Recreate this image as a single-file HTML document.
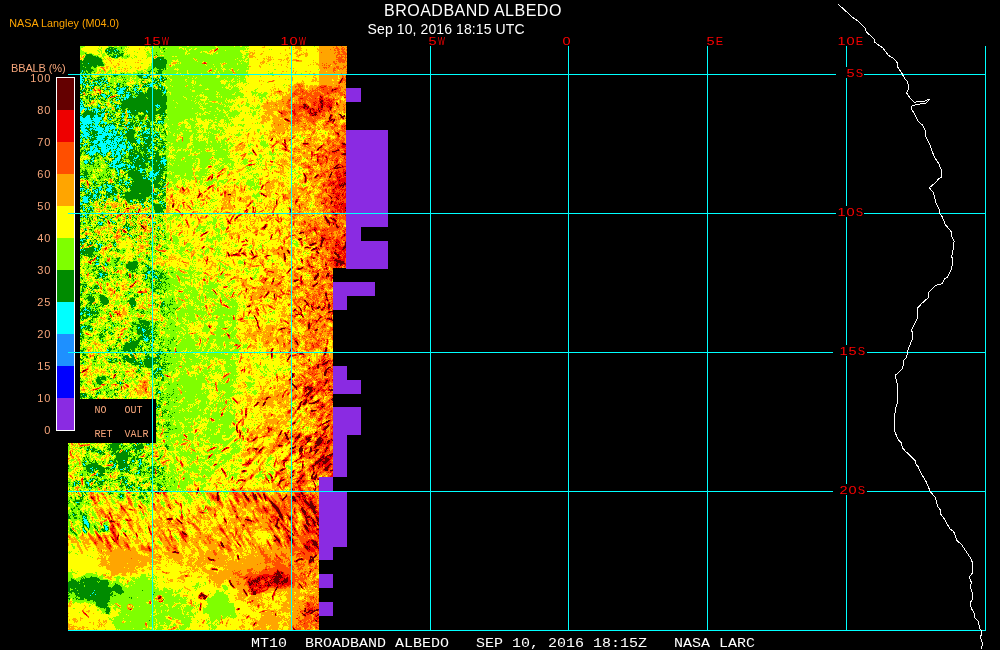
<!DOCTYPE html>
<html lang="en"><head><meta charset="utf-8"><title>BROADBAND ALBEDO</title>
<style>html,body{margin:0;padding:0;background:#000;overflow:hidden}svg{display:block}text{white-space:pre}.t{font-family:"Liberation Sans",Arial,sans-serif;fill:#fff}.m{font-family:"Liberation Mono","DejaVu Sans Mono",monospace;font-size:11.5px}.d{font-family:"Liberation Sans",Arial,sans-serif;font-size:11px}.p{font-family:"Liberation Sans",Arial,sans-serif;font-size:11px;fill:#f7a67b;letter-spacing:.9px}.q{font-family:"Liberation Mono",monospace;font-size:10px;fill:#f7a67b}</style></head><body>
<svg width="1000" height="650" viewBox="0 0 1000 650">
<rect width="1000" height="650" fill="#000"/>
<g fill="#8a2be2" shape-rendering="crispEdges">
<rect x="346" y="88" width="15" height="14"/>
<rect x="346" y="130" width="42" height="97"/>
<rect x="346" y="227" width="15" height="14"/>
<rect x="346" y="241" width="42" height="28"/>
<rect x="332" y="282" width="43" height="14"/>
<rect x="332" y="296" width="15" height="14"/>
<rect x="332" y="366" width="15" height="14"/>
<rect x="332" y="380" width="29" height="14"/>
<rect x="332" y="407" width="29" height="28"/>
<rect x="332" y="435" width="15" height="42"/>
<rect x="318" y="477" width="15" height="14"/>
<rect x="318" y="491" width="29" height="56"/>
<rect x="318" y="547" width="15" height="13"/>
<rect x="318" y="574" width="15" height="14"/>
<rect x="318" y="602" width="15" height="14"/>
</g>
<g transform="translate(68,46.5)" fill="none" stroke-width="1" shape-rendering="crispEdges">
<path stroke="#00ffff" d="M0 0m12 0h267m-267 1h267m-267 1h267m-267 1h267m-267 1h267m-267 1h267m-267 1h267m-267 1h267m-267 1h267m-267 1h267m-267 1h267m-267 1h267m-267 1h267m-267 1h267m-267 1h267m-267 1h267m-267 1h267m-267 1h267m-267 1h267m-267 1h267m-267 1h267m-267 1h267m-267 1h267m-267 1h267m-267 1h267m-267 1h267m-267 1h267m-267 1h267m-267 1h266m-266 1h266m-266 1h266m-266 1h266m-266 1h266m-266 1h266m-266 1h266m-266 1h266m-266 1h266m-266 1h266m-266 1h266m-266 1h266m-266 1h266m-266 1h266m-266 1h266m-266 1h266m-266 1h266m-266 1h266m-266 1h266m-266 1h266m-266 1h266m-266 1h266m-266 1h266m-266 1h266m-266 1h266m-266 1h266m-266 1h266m-266 1h266m-266 1h266m-266 1h266m-266 1h266m-266 1h266m-266 1h266m-266 1h266m-266 1h266m-266 1h266m-266 1h266m-266 1h266m-266 1h266m-266 1h266m-266 1h266m-266 1h266m-266 1h266m-266 1h266m-266 1h266m-266 1h266m-266 1h266m-266 1h266m-266 1h266m-266 1h266m-266 1h266m-266 1h266m-266 1h266m-266 1h266m-266 1h266m-266 1h266m-266 1h266m-266 1h266m-266 1h266m-266 1h266m-266 1h266m-266 1h266m-266 1h266m-266 1h266m-266 1h266m-266 1h266m-266 1h266m-266 1h266m-266 1h266m-266 1h266m-266 1h266m-266 1h266m-266 1h266m-266 1h266m-266 1h266m-266 1h266m-266 1h266m-266 1h266m-266 1h266m-266 1h266m-266 1h266m-266 1h266m-266 1h266m-266 1h266m-266 1h266m-266 1h266m-266 1h266m-266 1h266m-266 1h266m-266 1h266m-266 1h266m-266 1h266m-266 1h266m-266 1h266m-266 1h266m-266 1h266m-266 1h266m-266 1h266m-266 1h266m-266 1h266m-266 1h266m-266 1h266m-266 1h266m-266 1h266m-266 1h266m-266 1h266m-266 1h266m-266 1h266m-266 1h266m-266 1h266m-266 1h266m-266 1h266m-266 1h266m-266 1h266m-266 1h266m-266 1h266m-266 1h266m-266 1h266m-266 1h266m-266 1h266m-266 1h266m-266 1h266m-266 1h266m-266 1h266m-266 1h266m-266 1h266m-266 1h266m-266 1h266m-266 1h266m-266 1h266m-266 1h266m-266 1h266m-266 1h266m-266 1h266m-266 1h266m-266 1h266m-266 1h266m-266 1h266m-266 1h266m-266 1h266m-266 1h266m-266 1h266m-266 1h266m-266 1h266m-266 1h266m-266 1h266m-266 1h266m-266 1h266m-266 1h266m-266 1h266m-266 1h266m-266 1h266m-266 1h266m-266 1h266m-266 1h266m-266 1h266m-266 1h266m-266 1h266m-266 1h266m-266 1h266m-266 1h266m-266 1h266m-266 1h266m-266 1h266m-266 1h266m-266 1h266m-266 1h266m-266 1h266m-266 1h266m-266 1h266m-266 1h266m-266 1h266m-266 1h266m-266 1h266m-266 1h266m-266 1h266m-266 1h266m-266 1h266m-266 1h266m-266 1h266m-266 1h266m-266 1h266m-266 1h266m-266 1h266m-266 1h266m-266 1h266m-266 1h266m-266 1h266m-266 1h266m-266 1h266m-266 1h266m-266 1h266m-266 1h266m-266 1h266m-266 1h253m-253 1h253m-253 1h253m-253 1h253m-253 1h253m-253 1h253m-253 1h253m-253 1h253m-253 1h253m-253 1h253m-253 1h253m-253 1h253m-253 1h253m-253 1h253m-253 1h253m-253 1h253m-253 1h253m-253 1h253m-253 1h253m-253 1h253m-253 1h253m-253 1h253m-253 1h253m-253 1h253m-253 1h253m-253 1h253m-253 1h253m-253 1h253m-253 1h253m-253 1h253m-253 1h253m-253 1h253m-253 1h253m-253 1h253m-253 1h253m-253 1h253m-253 1h253m-253 1h253m-253 1h253m-253 1h253m-253 1h253m-253 1h253m-253 1h253m-253 1h253m-253 1h253m-253 1h253m-253 1h253m-253 1h253m-253 1h253m-253 1h253m-253 1h253m-253 1h253m-253 1h253m-253 1h253m-253 1h253m-253 1h253m-253 1h253m-253 1h253m-253 1h253m-253 1h253m-253 1h253m-253 1h253m-253 1h253m-253 1h253m-253 1h253m-253 1h253m-253 1h253m-253 1h253m-253 1h253m-253 1h253m-253 1h253m-253 1h253m-253 1h253m-253 1h253m-253 1h253m-253 1h253m-253 1h253m-253 1h253m-253 1h253m-253 1h253m-253 1h253m-253 1h253m-253 1h253m-253 1h253m-253 1h253m-253 1h253m-253 1h253m-253 1h253m-253 1h253m-253 1h253m-253 1h253m-253 1h253m-253 1h253m-253 1h253m-253 1h253m-253 1h253m-253 1h253m-253 1h253m-253 1h253m-253 1h253m-253 1h253m-253 1h253m-253 1h253m-253 1h253m-253 1h253m-253 1h253m-253 1h253m-253 1h253m-253 1h253m-253 1h253m-253 1h253m-253 1h253m-253 1h253m-253 1h253m-253 1h253m-253 1h253m-253 1h253m-253 1h253m-253 1h253m-253 1h253m-253 1h253m-253 1h253m-253 1h253m-253 1h253m-253 1h253m-253 1h253m-253 1h253m-253 1h253m-253 1h253m-253 1h253m-253 1h253m-177 1h177m-177 1h177m-177 1h177m-177 1h177m-177 1h177m-177 1h177m-177 1h177m-177 1h177m-177 1h177m-177 1h177m-177 1h177m-177 1h177m-177 1h177m-177 1h177m-177 1h177m-177 1h177m-177 1h177m-177 1h177m-177 1h177m-177 1h177m-177 1h177m-177 1h177m-177 1h177m-177 1h177m-177 1h177m-177 1h177m-177 1h177m-177 1h177m-177 1h177m-177 1h177m-177 1h177m-177 1h177m-177 1h177m-177 1h177m-177 1h177m-177 1h177m-177 1h177m-177 1h177m-177 1h177m-177 1h177m-177 1h177m-177 1h177m-177 1h177m-177 1h177m-265 1h265m-265 1h265m-265 1h265m-265 1h265m-265 1h265m-265 1h265m-265 1h265m-265 1h265m-265 1h265m-265 1h265m-265 1h265m-265 1h265m-265 1h265m-265 1h265m-265 1h265m-265 1h265m-265 1h265m-265 1h265m-265 1h265m-265 1h265m-265 1h265m-265 1h265m-265 1h265m-265 1h265m-265 1h265m-265 1h265m-265 1h265m-265 1h265m-265 1h265m-265 1h265m-265 1h265m-265 1h265m-265 1h265m-265 1h265m-265 1h251m-251 1h251m-251 1h251m-251 1h251m-251 1h251m-251 1h251m-251 1h251m-251 1h251m-251 1h251m-251 1h251m-251 1h251m-251 1h251m-251 1h251m-251 1h251m-251 1h251m-251 1h251m-251 1h251m-251 1h251m-251 1h251m-251 1h251m-251 1h251m-251 1h251m-251 1h251m-251 1h251m-251 1h251m-251 1h251m-251 1h251m-251 1h251m-251 1h251m-251 1h251m-251 1h251m-251 1h251m-251 1h251m-251 1h251m-251 1h251m-251 1h251m-251 1h251m-251 1h251m-251 1h251m-251 1h251m-251 1h251m-251 1h251m-251 1h251m-251 1h251m-251 1h251m-251 1h251m-251 1h251m-251 1h251m-251 1h251m-251 1h251m-251 1h251m-251 1h251m-251 1h251m-251 1h251m-251 1h251m-251 1h251m-251 1h251m-251 1h251m-251 1h251m-251 1h251m-251 1h251m-251 1h251m-251 1h251m-251 1h251m-251 1h251m-251 1h251m-251 1h251m-251 1h251m-251 1h251m-251 1h251m-251 1h251m-251 1h251m-251 1h251m-251 1h251m-251 1h251m-251 1h251m-251 1h251m-251 1h251m-251 1h251m-251 1h251m-251 1h251m-251 1h251m-251 1h251m-251 1h251m-251 1h251m-251 1h251m-251 1h251m-251 1h251m-251 1h251m-251 1h251m-251 1h251m-251 1h251m-251 1h251m-251 1h251m-251 1h251m-251 1h251m-251 1h251m-251 1h251m-251 1h251m-251 1h251m-251 1h251m-251 1h251m-251 1h251m-251 1h251m-251 1h251m-251 1h251m-251 1h251m-251 1h251m-251 1h251m-251 1h251m-251 1h251m-251 1h251m-251 1h251m-251 1h251m-251 1h251m-251 1h251m-251 1h251m-251 1h251m-251 1h251m-251 1h251m-251 1h251m-251 1h251m-251 1h251m-251 1h251m-251 1h251m-251 1h251m-251 1h251m-251 1h251m-251 1h251m-251 1h251m-251 1h251m-251 1h251m-251 1h251m-251 1h251m-251 1h251m-251 1h251m-251 1h251m-251 1h251m-251 1h251m-251 1h251m-251 1h251m-251 1h251m-251 1h251m-251 1h251m-251 1h251m-251 1h251m-251 1h251m-251 1h251m-251 1h251m-251 1h251m-251 1h251m-251 1h251m-251 1h251"/>
<path stroke="#008b00" d="M0 0m12 0h267m-267 1h267m-267 1h267m-267 1h36m1 0h230m-267 1h27m1 0h6m1 0h2m1 0h229m-267 1h29m1 0h5m1 0h231m-267 1h267m-267 1h267m-267 1h267m-267 1h36m1 0h230m-267 1h36m1 0h230m-267 1h35m1 0h231m-267 1h267m-267 1h80m1 0h186m-267 1h267m-267 1h267m-267 1h267m-267 1h8m1 0h258m-267 1h267m-267 1h267m-267 1h267m-267 1h267m-267 1h267m-267 1h267m-267 1h2m1 0h264m-267 1h2m1 0h264m-267 1h1m1 0h265m-267 1h5m1 0h261m-267 1h6m1 0h259m-265 1h66m2 0h197m-264 1h61m1 0h1m2 0h13m1 0h185m-263 1h1m3 0h3m1 0h13m1 0h38m4 0h13m2 0h184m-264 1h8m1 0h11m2 0h2m1 0h52m2 0h3m1 0h181m-262 1h17m1 0h1m1 0h50m1 0h5m1 0h185m-264 1h1m1 0h15m1 0h6m1 0h46m1 0h6m2 0h184m-263 1h4m1 0h7m3 0h4m1 0h1m2 0h50m1 0h189m-263 1h9m2 0h3m1 0h2m2 0h4m2 0h47m1 0h190m-264 1h1m1 0h3m1 0h2m1 0h7m1 0h1m1 0h2m1 0h3m1 0h10m1 0h32m1 0h1m2 0h3m1 0h187m-266 1h3m3 0h7m1 0h2m1 0h2m1 0h1m1 0h16m1 0h29m4 0h8m1 0h185m-266 1h5m1 0h3m5 0h6m1 0h33m1 0h1m2 0h6m1 0h1m1 0h3m3 0h6m2 0h185m-266 1h4m1 0h22m3 0h17m1 0h19m1 0h1m3 0h8m1 0h2m1 0h182m-266 1h4m1 0h7m1 0h8m1 0h15m2 0h4m1 0h1m1 0h9m1 0h1m2 0h3m1 0h20m1 0h182m-266 1h25m1 0h10m2 0h2m6 0h7m1 0h1m1 0h27m1 0h182m-266 1h3m1 0h6m1 0h14m1 0h11m2 0h1m5 0h9m3 0h28m1 0h180m-266 1h2m1 0h7m2 0h17m1 0h9m4 0h11m2 0h26m1 0h2m1 0h180m-266 1h29m1 0h7m7 0h12m1 0h1m1 0h1m2 0h22m2 0h180m-265 1h37m5 0h3m4 0h5m1 0h1m1 0h25m3 0h180m-266 1h1m1 0h29m1 0h5m7 0h4m1 0h9m1 0h25m1 0h181m-266 1h21m4 0h13m2 0h6m3 0h1m1 0h215m-266 1h22m4 0h2m2 0h11m1 0h4m4 0h216m-266 1h23m2 0h3m1 0h12m1 0h4m3 0h4m1 0h212m-266 1h10m1 0h9m1 0h3m2 0h1m1 0h8m1 0h2m2 0h1m1 0h1m5 0h4m1 0h1m1 0h210m-266 1h14m1 0h4m1 0h20m1 0h3m2 0h1m1 0h218m-265 1h9m1 0h15m1 0h9m3 0h3m1 0h1m2 0h220m-266 1h1m1 0h34m1 0h5m1 0h223m-266 1h1m2 0h28m1 0h234m-265 1h1m1 0h27m1 0h235m-263 1h30m1 0h232m-266 1h1m1 0h1m1 0h14m1 0h5m1 0h52m1 0h188m-263 1h15m2 0h15m1 0h1m2 0h36m5 0h186m-265 1h1m1 0h1m1 0h13m2 0h17m2 0h1m1 0h35m2 0h1m1 0h186m-262 1h4m1 0h1m1 0h15m1 0h9m3 0h38m2 0h187m-259 1h1m1 0h4m4 0h7m1 0h5m1 0h5m1 0h2m1 0h226m-263 1h2m2 0h1m2 0h1m2 0h2m4 0h3m2 0h242m-264 1h3m1 0h9m3 0h3m1 0h1m1 0h17m1 0h5m1 0h1m1 0h5m1 0h10m1 0h199m-265 1h11m1 0h1m1 0h1m4 0h2m1 0h5m1 0h18m3 0h16m2 0h198m-265 1h13m1 0h1m2 0h6m1 0h3m1 0h6m1 0h11m4 0h16m1 0h198m-266 1h16m1 0h5m3 0h17m3 0h38m1 0h182m-265 1h15m1 0h4m3 0h7m1 0h10m1 0h6m1 0h216m-266 1h2m1 0h4m3 0h4m4 0h3m3 0h18m2 0h5m1 0h33m1 0h182m-264 1h4m4 0h4m4 0h3m3 0h9m1 0h7m3 0h5m2 0h2m1 0h212m-263 1h2m5 0h3m1 0h1m7 0h6m1 0h13m1 0h5m4 0h2m1 0h211m-255 1h1m10 0h6m1 0h1m1 0h4m1 0h230m-255 1h2m9 0h7m3 0h10m2 0h23m1 0h16m1 0h181m-246 1h2m1 0h18m1 0h1m1 0h12m1 0h209m-266 1h1m11 0h2m6 0h1m3 0h43m1 0h10m5 0h183m-266 1h2m12 0h1m4 0h2m6 0h5m1 0h15m2 0h10m2 0h13m1 0h2m2 0h1m1 0h1m1 0h182m-254 1h2m5 0h1m3 0h2m2 0h21m2 0h10m2 0h15m1 0h1m1 0h2m1 0h183m-265 1h2m4 0h1m1 0h2m1 0h3m3 0h7m1 0h2m1 0h1m1 0h1m1 0h6m2 0h6m1 0h218m-266 1h1m4 0h1m2 0h2m2 0h1m1 0h1m4 0h8m1 0h1m1 0h1m3 0h10m2 0h7m1 0h4m1 0h5m2 0h200m-266 1h1m8 0h1m7 0h1m2 0h4m1 0h1m9 0h12m2 0h2m1 0h9m1 0h1m3 0h5m1 0h194m-260 1h1m2 0h4m9 0h3m4 0h1m6 0h7m1 0h3m1 0h4m1 0h9m1 0h9m1 0h193m-266 1h1m4 0h5m3 0h1m1 0h1m8 0h1m10 0h3m1 0h5m2 0h3m4 0h16m1 0h196m-266 1h1m6 0h3m2 0h1m11 0h1m4 0h1m2 0h2m1 0h2m1 0h29m3 0h196m-266 1h1m7 0h2m1 0h4m8 0h1m5 0h4m2 0h2m1 0h3m1 0h6m1 0h11m1 0h1m1 0h3m1 0h1m1 0h197m-266 1h2m4 0h2m1 0h2m1 0h6m6 0h1m3 0h3m1 0h1m4 0h3m1 0h4m2 0h11m1 0h1m1 0h3m4 0h1m1 0h5m1 0h190m-266 1h3m5 0h1m1 0h8m4 0h1m3 0h1m1 0h2m1 0h2m4 0h3m2 0h3m2 0h16m3 0h1m2 0h4m1 0h2m2 0h1m1 0h186m-266 1h3m6 0h8m15 0h1m1 0h1m2 0h3m2 0h19m1 0h1m1 0h2m4 0h3m1 0h192m-266 1h1m2 0h1m6 0h5m1 0h2m1 0h3m14 0h4m2 0h1m2 0h16m1 0h13m1 0h2m1 0h187m-266 1h1m8 0h3m1 0h5m9 0h1m5 0h1m2 0h6m1 0h14m3 0h12m1 0h1m3 0h189m-265 1h1m5 0h1m4 0h3m10 0h4m2 0h1m1 0h3m4 0h1m2 0h25m1 0h2m1 0h2m1 0h2m1 0h188m-266 1h2m1 0h2m2 0h3m1 0h1m1 0h4m8 0h2m5 0h1m1 0h1m3 0h2m3 0h21m4 0h3m2 0h5m1 0h187m-266 1h1m1 0h2m1 0h1m2 0h2m1 0h5m7 0h5m3 0h1m1 0h1m6 0h1m2 0h13m1 0h2m1 0h6m2 0h5m1 0h6m1 0h185m-264 1h15m8 0h2m2 0h5m3 0h1m4 0h1m4 0h11m2 0h5m1 0h14m2 0h184m-264 1h3m1 0h3m1 0h4m8 0h1m1 0h2m5 0h1m1 0h1m8 0h1m1 0h1m1 0h10m4 0h206m-264 1h9m1 0h1m5 0h2m3 0h1m7 0h1m4 0h1m3 0h8m1 0h8m4 0h1m1 0h1m1 0h6m1 0h194m-265 1h9m1 0h1m6 0h2m3 0h1m1 0h1m7 0h1m3 0h1m1 0h3m3 0h3m2 0h7m3 0h4m1 0h6m1 0h5m1 0h188m-266 1h5m1 0h1m1 0h6m3 0h2m11 0h1m6 0h1m1 0h3m3 0h2m1 0h1m1 0h8m2 0h5m2 0h6m1 0h192m-266 1h4m3 0h7m1 0h2m10 0h1m4 0h1m1 0h1m3 0h1m4 0h1m1 0h3m1 0h1m1 0h22m2 0h191m-265 1h2m2 0h8m4 0h1m8 0h1m1 0h2m7 0h2m7 0h2m1 0h1m1 0h22m1 0h192m-265 1h9m5 0h1m1 0h2m7 0h1m3 0h1m2 0h1m3 0h2m7 0h2m4 0h31m2 0h181m-266 1h10m3 0h1m3 0h4m7 0h1m8 0h1m1 0h1m6 0h3m4 0h14m1 0h5m1 0h9m1 0h182m-266 1h5m1 0h4m3 0h2m3 0h3m5 0h1m9 0h1m5 0h1m3 0h2m5 0h9m1 0h4m1 0h198m-266 1h10m3 0h1m4 0h3m9 0h1m2 0h3m6 0h2m1 0h2m3 0h18m2 0h1m2 0h193m-266 1h4m1 0h5m2 0h1m7 0h1m8 0h2m5 0h1m4 0h1m1 0h3m1 0h1m1 0h19m2 0h2m2 0h8m1 0h183m-266 1h6m1 0h1m12 0h1m8 0h2m3 0h2m3 0h3m2 0h4m1 0h2m1 0h16m3 0h195m-266 1h7m9 0h2m2 0h2m5 0h5m2 0h2m4 0h2m4 0h220m-266 1h6m2 0h1m6 0h5m1 0h2m3 0h4m1 0h1m3 0h1m4 0h2m4 0h24m1 0h4m1 0h190m-266 1h9m5 0h7m3 0h1m1 0h6m2 0h1m5 0h1m2 0h23m1 0h5m1 0h193m-266 1h10m1 0h1m1 0h10m3 0h5m3 0h1m1 0h2m3 0h2m1 0h6m1 0h1m1 0h4m2 0h11m2 0h194m-266 1h23m1 0h6m1 0h1m2 0h4m3 0h16m2 0h8m1 0h198m-266 1h13m1 0h19m1 0h3m4 0h1m1 0h11m1 0h1m2 0h25m2 0h181m-266 1h12m2 0h21m6 0h13m3 0h5m1 0h18m3 0h182m-266 1h11m2 0h22m5 0h4m1 0h8m1 0h9m1 0h19m3 0h180m-266 1h5m2 0h1m1 0h4m1 0h19m7 0h15m1 0h8m1 0h6m1 0h4m1 0h4m6 0h179m-266 1h4m4 0h4m2 0h11m2 0h5m5 0h1m1 0h2m1 0h11m1 0h9m1 0h4m2 0h10m6 0h180m-266 1h4m4 0h3m1 0h19m1 0h1m4 0h1m1 0h1m1 0h3m1 0h9m1 0h14m1 0h11m1 0h1m2 0h181m-266 1h5m2 0h4m1 0h16m1 0h2m5 0h5m2 0h38m1 0h1m3 0h180m-266 1h29m3 0h1m2 0h4m7 0h1m1 0h1m1 0h3m1 0h25m1 0h4m2 0h180m-266 1h30m1 0h2m12 0h2m4 0h2m1 0h5m2 0h17m1 0h5m1 0h181m-266 1h29m6 0h1m7 0h1m1 0h3m2 0h1m4 0h4m1 0h206m-266 1h33m4 0h1m3 0h7m2 0h1m4 0h24m1 0h186m-266 1h36m2 0h5m3 0h6m1 0h7m2 0h17m1 0h1m1 0h184m-266 1h36m2 0h4m1 0h6m2 0h9m4 0h1m1 0h200m-266 1h37m2 0h7m1 0h11m5 0h2m1 0h7m1 0h5m1 0h186m-266 1h37m2 0h21m2 0h8m3 0h5m1 0h187m-266 1h38m1 0h21m2 0h2m1 0h5m3 0h3m3 0h187m-266 1h38m1 0h30m5 0h1m3 0h188m-266 1h37m2 0h31m7 0h1m1 0h187m-266 1h38m1 0h26m1 0h3m4 0h1m3 0h189m-263 1h2m1 0h63m3 0h1m2 0h191m-265 1h2m1 0h28m1 0h15m2 0h13m1 0h1m1 0h1m1 0h2m1 0h4m1 0h190m-266 1h63m3 0h2m2 0h196m-266 1h40m1 0h2m1 0h7m1 0h16m3 0h4m1 0h5m1 0h184m-266 1h40m2 0h7m1 0h23m1 0h9m1 0h182m-266 1h13m1 0h25m1 0h5m2 0h219m-266 1h13m1 0h13m1 0h13m1 0h2m1 0h1m4 0h216m-266 1h16m1 0h22m1 0h5m2 0h1m1 0h217m-266 1h24m2 0h1m1 0h7m1 0h3m2 0h4m2 0h38m1 0h180m-266 1h2m1 0h20m1 0h3m5 0h19m1 0h32m1 0h181m-266 1h3m1 0h16m2 0h3m1 0h2m3 0h1m2 0h12m1 0h1m1 0h217m-266 1h10m1 0h1m1 0h5m4 0h7m3 0h16m1 0h36m1 0h180m-262 1h15m2 0h6m5 0h43m1 0h3m1 0h2m2 0h182m-265 1h1m1 0h1m1 0h2m2 0h3m2 0h2m2 0h1m2 0h1m1 0h3m5 0h235m-265 1h1m1 0h3m1 0h7m2 0h1m1 0h1m1 0h1m1 0h4m6 0h234m-266 1h5m2 0h1m1 0h4m1 0h1m3 0h10m2 0h1m1 0h9m1 0h224m-266 1h6m1 0h3m1 0h4m3 0h12m2 0h46m1 0h4m1 0h182m-266 1h10m1 0h5m1 0h17m1 0h36m2 0h1m1 0h3m1 0h187m-266 1h9m2 0h3m2 0h4m1 0h13m3 0h4m1 0h32m3 0h189m-266 1h13m4 0h3m1 0h4m1 0h14m1 0h225m-265 1h3m2 0h1m1 0h1m1 0h3m3 0h3m1 0h5m1 0h1m1 0h238m-266 1h2m7 0h4m1 0h1m1 0h1m1 0h1m1 0h7m1 0h6m1 0h231m-266 1h3m5 0h4m1 0h1m2 0h3m1 0h14m2 0h37m1 0h192m-266 1h3m5 0h1m1 0h13m1 0h10m2 0h26m1 0h6m1 0h196m-266 1h3m5 0h3m1 0h12m2 0h8m1 0h15m2 0h18m1 0h195m-266 1h2m7 0h3m1 0h37m3 0h7m1 0h7m1 0h11m2 0h184m-265 1h3m4 0h12m1 0h34m1 0h23m2 0h2m1 0h182m-263 1h58m1 0h19m2 0h183m-264 1h21m1 0h37m3 0h21m1 0h180m-266 1h56m1 0h26m1 0h182m-266 1h3m1 0h6m2 0h51m1 0h3m1 0h17m1 0h180m-265 1h2m1 0h3m1 0h1m1 0h2m1 0h253m-266 1h3m2 0h3m1 0h257m-266 1h3m1 0h4m2 0h2m1 0h44m1 0h208m-266 1h3m2 0h8m1 0h252m-266 1h10m1 0h255m-266 1h5m1 0h16m1 0h243m-266 1h21m1 0h244m-265 1h4m1 0h260m-266 1h2m1 0h3m1 0h60m1 0h198m-263 1h2m2 0h18m2 0h239m-266 1h6m1 0h14m1 0h25m1 0h218m-266 1h19m1 0h246m-265 1h29m2 0h234m-266 1h24m1 0h241m-266 1h30m1 0h1m1 0h233m-266 1h3m2 0h13m2 0h1m2 0h10m2 0h38m3 0h190m-266 1h18m1 0h1m2 0h244m-266 1h19m3 0h46m1 0h197m-266 1h11m1 0h254m-266 1h266m-266 1h43m1 0h2m1 0h1m1 0h29m1 0h187m-266 1h48m2 0h28m1 0h187m-266 1h4m1 0h1m1 0h27m1 0h13m1 0h217m-266 1h83m1 0h182m-266 1h266m-266 1h266m-266 1h266m-266 1h48m1 0h217m-266 1h50m1 0h215m-266 1h7m1 0h43m1 0h214m-266 1h6m1 0h259m-266 1h7m2 0h257m-266 1h1m1 0h1m2 0h78m1 0h182m-263 1h263m-266 1h2m1 0h14m1 0h38m1 0h209m-266 1h10m1 0h255m-266 1h2m2 0h6m1 0h5m1 0h2m1 0h15m1 0h35m1 0h194m-266 1h17m1 0h1m3 0h12m1 0h231m-266 1h20m1 0h1m1 0h12m1 0h230m-265 1h19m1 0h245m-266 1h20m1 0h245m-266 1h14m2 0h3m1 0h12m1 0h233m-265 1h1m1 0h12m1 0h3m1 0h246m-265 1h3m1 0h10m1 0h1m1 0h248m-266 1h266m-266 1h266m-266 1h1m1 0h264m-266 1h266m-266 1h59m1 0h206m-266 1h266m-266 1h17m1 0h248m-266 1h17m2 0h247m-266 1h69m1 0h196m-266 1h266m-266 1h16m2 0h248m-266 1h266m-266 1h16m3 0h6m1 0h15m1 0h224m-266 1h15m4 0h6m2 0h239m-266 1h26m1 0h39m1 0h199m-266 1h67m1 0h198m-266 1h35m1 0h33m1 0h196m-266 1h253m-253 1h253m-253 1h48m1 0h204m-253 1h68m3 0h2m1 0h179m-253 1h67m3 0h4m1 0h178m-253 1h19m3 0h46m2 0h183m-253 1h20m3 0h2m2 0h38m2 0h186m-253 1h20m2 0h44m1 0h7m1 0h3m1 0h174m-253 1h21m1 0h1m1 0h42m1 0h6m1 0h1m2 0h176m-252 1h18m2 0h45m1 0h8m2 0h176m-253 1h65m2 0h10m1 0h175m-253 1h253m-253 1h253m-253 1h253m-253 1h80m1 0h172m-253 1h253m-253 1h253m-253 1h253m-253 1h5m1 0h12m1 0h234m-253 1h253m-253 1h72m1 0h180m-253 1h13m1 0h239m-253 1h253m-253 1h253m-253 1h1m1 0h70m1 0h180m-253 1h10m1 0h38m1 0h28m1 0h174m-253 1h62m1 0h190m-253 1h253m-253 1h253m-253 1h253m-253 1h253m-253 1h253m-253 1h253m-253 1h253m-253 1h83m1 0h169m-253 1h253m-253 1h253m-253 1h53m1 0h29m1 0h169m-253 1h15m1 0h237m-253 1h5m1 0h247m-253 1h5m1 0h4m1 0h242m-253 1h4m3 0h246m-253 1h3m1 0h1m1 0h1m2 0h244m-253 1h9m1 0h5m1 0h237m-253 1h1m1 0h2m1 0h248m-250 1h6m1 0h243m-251 1h5m3 0h1m1 0h241m-253 1h9m1 0h243m-253 1h253m-253 1h253m-253 1h253m-253 1h2m1 0h250m-253 1h253m-253 1h253m-253 1h253m-253 1h253m-253 1h253m-253 1h33m1 0h219m-253 1h2m3 0h1m1 0h246m-253 1h1m2 0h26m1 0h28m2 0h193m-253 1h1m1 0h8m2 0h46m1 0h3m1 0h190m-253 1h10m1 0h51m3 0h188m-253 1h24m1 0h37m2 0h1m1 0h187m-253 1h63m2 0h6m1 0h181m-253 1h63m1 0h7m2 0h180m-252 1h30m1 0h40m1 0h180m-252 1h62m1 0h189m-253 1h63m1 0h189m-253 1h64m2 0h8m1 0h178m-253 1h65m1 0h1m1 0h185m-253 1h45m1 0h17m2 0h1m2 0h4m1 0h180m-253 1h50m1 0h13m5 0h4m1 0h179m-253 1h21m1 0h42m4 0h5m1 0h179m-253 1h50m1 0h15m1 0h186m-253 1h253m-253 1h253m-253 1h71m1 0h181m-253 1h71m1 0h181m-253 1h60m1 0h192m-253 1h253m-253 1h71m1 0h181m-253 1h27m1 0h225m-253 1h27m2 0h224m-253 1h65m1 0h14m1 0h172m-253 1h81m1 0h1m1 0h169m-253 1h50m2 0h13m1 0h15m1 0h171m-253 1h52m1 0h25m1 0h174m-253 1h76m1 0h176m-253 1h253m-253 1h253m-253 1h45m1 0h22m1 0h10m1 0h173m-253 1h28m1 0h6m1 0h217m-253 1h30m1 0h29m1 0h192m-253 1h54m1 0h198m-253 1h60m2 0h14m1 0h176m-253 1h3m1 0h57m1 0h191m-253 1h253m-253 1h59m1 0h193m-253 1h253m-253 1h253m-253 1h77m1 0h1m2 0h172m-253 1h59m1 0h17m1 0h1m3 0h171m-253 1h77m1 0h175m-253 1h76m1 0h176m-253 1h75m1 0h177m-253 1h74m1 0h178m-253 1h81m1 0h171m-253 1h82m1 0h170m-253 1h82m1 0h170m-253 1h76m1 0h176m-253 1h253m-253 1h253m-253 1h253m-253 1h253m-253 1h40m1 0h212m-253 1h40m1 0h212m-253 1h253m-253 1h253m-253 1h253m-253 1h253m-253 1h253m-253 1h253m-253 1h253m-253 1h79m1 0h173m-253 1h19m1 0h58m3 0h172m-253 1h253m-253 1h3m1 0h13m1 0h235m-253 1h253m-253 1h5m1 0h39m1 0h207m-253 1h253m-253 1h253m-177 1h177m-177 1h177m-177 1h177m-177 1h177m-177 1h177m-177 1h177m-177 1h177m-177 1h2m1 0h174m-176 1h176m-177 1h177m-177 1h177m-177 1h177m-177 1h177m-177 1h177m-177 1h177m-177 1h177m-177 1h177m-177 1h177m-177 1h177m-177 1h177m-177 1h177m-177 1h177m-177 1h177m-177 1h177m-177 1h177m-177 1h177m-177 1h177m-177 1h177m-177 1h177m-177 1h177m-177 1h177m-177 1h177m-177 1h177m-177 1h177m-177 1h177m-177 1h177m-177 1h177m-177 1h11m1 0h165m-177 1h177m-177 1h177m-177 1h177m-177 1h177m-177 1h177m-177 1h177m-265 1h69m1 0h195m-265 1h53m1 0h25m2 0h184m-265 1h66m1 0h198m-265 1h265m-265 1h265m-265 1h67m1 0h197m-265 1h19m1 0h3m1 0h241m-265 1h58m1 0h206m-265 1h32m1 0h25m1 0h13m1 0h192m-265 1h30m1 0h234m-265 1h265m-265 1h265m-265 1h44m1 0h220m-265 1h265m-265 1h265m-265 1h265m-265 1h71m2 0h192m-265 1h55m2 0h7m2 0h4m1 0h1m1 0h192m-265 1h17m2 0h23m2 0h20m2 0h6m1 0h192m-265 1h56m1 0h15m1 0h192m-265 1h15m1 0h31m1 0h23m3 0h191m-265 1h15m2 0h29m1 0h25m1 0h192m-265 1h16m1 0h29m2 0h12m1 0h10m1 0h193m-265 1h46m1 0h24m1 0h193m-265 1h24m1 0h19m2 0h1m1 0h9m1 0h1m1 0h20m1 0h13m1 0h170m-265 1h22m2 0h4m1 0h14m1 0h11m1 0h23m1 0h10m1 0h174m-265 1h24m1 0h27m3 0h2m1 0h207m-265 1h24m1 0h35m1 0h10m1 0h193m-265 1h70m1 0h194m-265 1h23m1 0h46m2 0h193m-265 1h29m1 0h37m1 0h1m2 0h194m-265 1h13m1 0h14m2 0h235m-265 1h29m1 0h235m-265 1h84m1 0h180m-265 1h32m1 0h20m1 0h2m1 0h194m-251 1h52m1 0h29m1 0h168m-251 1h23m1 0h1m1 0h56m1 0h168m-251 1h21m2 0h11m2 0h22m1 0h192m-251 1h10m1 0h17m1 0h28m1 0h193m-251 1h6m1 0h11m3 0h36m2 0h192m-251 1h6m1 0h3m1 0h8m2 0h10m1 0h43m1 0h175m-251 1h6m1 0h13m1 0h38m1 0h191m-251 1h6m1 0h13m1 0h37m1 0h5m1 0h186m-251 1h62m2 0h29m1 0h157m-251 1h60m1 0h9m2 0h179m-251 1h21m2 0h47m1 0h180m-251 1h251m-251 1h83m1 0h167m-251 1h76m1 0h174m-251 1h251m-251 1h251m-251 1h251m-251 1h15m1 0h37m1 0h197m-251 1h52m2 0h197m-251 1h54m1 0h23m1 0h172m-251 1h251m-251 1h251m-251 1h251m-251 1h251m-251 1h8m3 0h240m-251 1h251m-251 1h251m-251 1h251m-251 1h251m-251 1h251m-251 1h251m-251 1h251m-251 1h251m-251 1h251m-251 1h251m-251 1h251m-251 1h5m1 0h245m-251 1h251m-251 1h15m2 0h234m-251 1h15m1 0h1m1 0h233m-251 1h15m2 0h234m-251 1h16m3 0h232m-251 1h15m4 0h232m-251 1h16m4 0h231m-251 1h16m4 0h231m-251 1h16m5 0h230m-251 1h18m3 0h230m-251 1h19m2 0h15m2 0h213m-251 1h19m2 0h16m3 0h211m-251 1h20m1 0h16m2 0h212m-251 1h15m1 0h21m3 0h211m-251 1h15m1 0h21m3 0h211m-251 1h15m2 0h21m1 0h212m-251 1h16m2 0h233m-251 1h17m1 0h233m-251 1h251m-251 1h251m-251 1h251m-251 1h251m-251 1h251m-251 1h251m-251 1h251m-251 1h251m-251 1h251m-251 1h251m-251 1h251m-251 1h251m-251 1h251m-251 1h251m-251 1h251m-251 1h251m-251 1h251m-251 1h251m-251 1h251m-251 1h251m-251 1h251m-251 1h251m-251 1h251m-251 1h251m-251 1h251m-251 1h251m-251 1h251m-251 1h251m-251 1h251m-251 1h251m-251 1h251m-251 1h251m-251 1h251m-251 1h251m-251 1h251m-251 1h251m-251 1h251m-251 1h251m-251 1h251m-251 1h251m-251 1h251m-251 1h251m-251 1h251m-251 1h251m-251 1h251m-251 1h251m-251 1h251m-251 1h251m-251 1h251m-251 1h251m-251 1h251m-251 1h251m-251 1h251m-251 1h251m-251 1h251m-251 1h251m-251 1h251m-251 1h26m1 0h224m-251 1h251m-251 1h25m1 0h225m-251 1h24m1 0h226m-251 1h27m1 0h223m-251 1h22m1 0h228m-251 1h251m-251 1h251m-251 1h251m-251 1h251m-251 1h251m-251 1h251m-251 1h251m-251 1h251m-251 1h251m-251 1h251m-251 1h251m-251 1h251m-251 1h251m-251 1h251m-251 1h251m-251 1h251m-251 1h251m-251 1h251m-251 1h251m-251 1h251m-251 1h251m-251 1h251m-251 1h251m-251 1h251m-251 1h251m-251 1h251m-251 1h251m-251 1h251m-251 1h251m-251 1h251m-251 1h251m-251 1h251m-251 1h251m-251 1h251"/>
<path stroke="#7fff00" d="M0 0m12 0h79m1 0h187m-267 1h29m5 0h7m1 0h37m1 0h187m-267 1h27m3 0h1m2 0h1m3 0h4m1 0h41m2 0h182m-267 1h26m1 0h1m9 0h46m1 0h183m-267 1h25m14 0h228m-267 1h25m15 0h2m1 0h41m1 0h182m-267 1h26m1 0h1m4 0h1m2 0h1m3 0h37m1 0h190m-267 1h5m1 0h22m4 0h2m3 0h1m2 0h1m3 0h223m-267 1h6m6 0h15m2 0h4m1 0h3m1 0h1m4 0h33m1 0h190m-267 1h6m7 0h17m1 0h2m10 0h31m1 0h2m1 0h189m-267 1h5m11 0h1m1 0h11m1 0h1m9 0h2m1 0h4m1 0h219m-267 1h5m14 0h13m6 0h39m7 0h183m-267 1h4m17 0h52m1 0h2m8 0h183m-267 1h4m18 0h51m13 0h181m-265 1h1m19 0h50m15 0h180m-245 1h50m15 0h180m-244 1h49m15 0h180m-265 1h1m20 0h49m15 0h180m-243 1h48m14 0h181m-250 1h1m6 0h48m14 0h181m-264 1h1m8 0h1m4 0h55m14 0h181m-262 1h1m5 0h3m2 0h56m3 0h1m10 0h181m-256 1h61m2 0h3m7 0h1m1 0h181m-254 1h58m1 0h7m2 0h2m1 0h1m1 0h181m-261 1h1m7 0h56m1 0h6m6 0h184m-263 1h1m1 0h2m4 0h56m3 0h3m1 0h3m4 0h185m-263 1h1m2 0h1m3 0h3m1 0h54m1 0h6m1 0h1m4 0h185m-267 1h2m1 0h1m4 0h2m1 0h30m1 0h1m1 0h14m1 0h2m2 0h6m1 0h6m6 0h185m-266 1h3m3 0h4m1 0h7m1 0h14m2 0h3m2 0h1m1 0h16m1 0h1m1 0h5m1 0h198m-263 1h1m2 0h4m1 0h22m5 0h19m6 0h3m3 0h1m1 0h10m1 0h184m-263 1h2m2 0h3m1 0h9m4 0h2m1 0h2m1 0h4m2 0h5m1 0h16m4 0h1m1 0h1m5 0h7m1 0h2m3 0h183m-259 1h3m2 0h5m5 0h2m1 0h6m1 0h10m1 0h1m1 0h14m9 0h1m1 0h7m1 0h2m4 0h1m1 0h180m-261 1h2m4 0h1m1 0h1m1 0h3m1 0h2m4 0h1m1 0h34m1 0h1m5 0h3m3 0h1m1 0h2m7 0h1m1 0h179m-261 1h2m1 0h2m2 0h3m1 0h1m9 0h17m1 0h1m1 0h27m5 0h1m4 0h1m3 0h179m-261 1h2m2 0h4m9 0h1m2 0h1m2 0h34m2 0h9m4 0h2m6 0h181m-261 1h1m3 0h4m8 0h1m6 0h16m1 0h16m1 0h10m1 0h1m1 0h1m4 0h1m3 0h182m-262 1h1m4 0h1m1 0h1m2 0h3m7 0h1m4 0h14m1 0h1m1 0h15m1 0h6m1 0h1m1 0h1m6 0h1m1 0h3m1 0h182m-260 1h1m4 0h2m3 0h1m2 0h1m1 0h2m5 0h2m2 0h5m4 0h21m2 0h1m1 0h1m3 0h1m8 0h1m1 0h185m-265 1h1m5 0h1m2 0h1m1 0h1m9 0h1m1 0h4m1 0h7m4 0h2m2 0h12m1 0h7m3 0h1m6 0h3m2 0h1m1 0h185m-266 1h2m1 0h1m2 0h3m8 0h1m3 0h1m1 0h3m1 0h10m3 0h3m1 0h8m1 0h1m5 0h4m10 0h3m1 0h1m4 0h184m-266 1h2m4 0h4m1 0h1m3 0h6m3 0h3m4 0h1m1 0h4m3 0h2m2 0h1m4 0h5m3 0h1m1 0h3m10 0h6m6 0h182m-265 1h1m4 0h5m3 0h6m2 0h4m4 0h1m2 0h3m3 0h2m1 0h1m6 0h1m1 0h2m3 0h1m2 0h3m3 0h4m4 0h1m1 0h3m7 0h181m-265 1h1m1 0h2m2 0h1m2 0h1m3 0h6m1 0h4m1 0h1m1 0h5m15 0h5m1 0h1m2 0h11m6 0h4m1 0h2m4 0h181m-266 1h2m3 0h1m1 0h2m3 0h8m1 0h1m2 0h1m5 0h4m1 0h1m11 0h1m1 0h2m1 0h1m5 0h2m1 0h3m1 0h3m8 0h1m3 0h1m5 0h180m-260 1h2m4 0h12m1 0h4m1 0h6m11 0h1m1 0h3m5 0h2m3 0h5m20 0h179m-260 1h17m1 0h5m1 0h7m9 0h1m4 0h4m7 0h5m20 0h179m-263 1h2m1 0h1m2 0h21m2 0h4m8 0h1m9 0h1m8 0h2m1 0h1m15 0h1m3 0h180m-264 1h15m2 0h3m2 0h5m3 0h3m17 0h1m1 0h2m8 0h1m18 0h1m2 0h180m-266 1h2m2 0h4m3 0h7m1 0h1m6 0h3m1 0h1m1 0h6m6 0h1m7 0h3m28 0h1m2 0h180m-263 1h4m1 0h2m2 0h4m1 0h1m1 0h1m11 0h1m1 0h7m3 0h2m8 0h1m1 0h3m24 0h1m3 0h180m-266 1h5m3 0h1m1 0h4m2 0h1m3 0h1m4 0h2m3 0h6m3 0h1m2 0h1m1 0h1m7 0h1m1 0h1m1 0h1m30 0h179m-266 1h6m2 0h1m2 0h1m1 0h1m1 0h2m1 0h2m1 0h3m5 0h5m3 0h2m2 0h1m1 0h1m10 0h1m11 0h1m20 0h179m-263 1h3m2 0h1m6 0h3m3 0h4m2 0h5m2 0h2m2 0h1m28 0h1m19 0h179m-264 1h7m5 0h2m1 0h2m1 0h1m2 0h2m2 0h4m2 0h2m6 0h1m45 0h179m-264 1h7m1 0h11m4 0h5m1 0h1m1 0h3m2 0h2m1 0h1m45 0h179m-261 1h4m2 0h13m2 0h5m1 0h8m47 0h179m-263 1h1m1 0h5m1 0h10m1 0h8m3 0h8m45 0h180m-263 1h1m1 0h1m1 0h1m1 0h9m1 0h6m1 0h5m1 0h1m2 0h7m44 0h180m-262 1h2m1 0h11m3 0h3m1 0h7m1 0h2m3 0h1m1 0h1m45 0h180m-262 1h7m1 0h6m2 0h1m1 0h1m1 0h1m1 0h9m52 0h179m-261 1h7m1 0h4m3 0h6m1 0h7m53 0h179m-254 1h5m2 0h1m1 0h5m1 0h8m4 0h1m40 0h1m6 0h179m-256 1h1m1 0h1m8 0h3m2 0h4m1 0h4m5 0h1m5 0h2m28 0h1m2 0h1m7 0h179m-263 1h2m5 0h1m10 0h1m4 0h2m1 0h1m1 0h4m4 0h1m1 0h1m3 0h2m29 0h3m7 0h180m-264 1h2m5 0h2m1 0h1m6 0h1m5 0h10m3 0h3m5 0h1m29 0h2m7 0h181m-265 1h4m15 0h1m4 0h1m3 0h3m1 0h3m2 0h3m1 0h1m2 0h2m38 0h181m-265 1h3m26 0h2m4 0h6m3 0h2m11 0h2m1 0h2m22 0h181m-265 1h2m15 0h1m6 0h5m1 0h3m1 0h7m3 0h3m10 0h6m22 0h180m-265 1h1m17 0h2m3 0h4m1 0h1m2 0h1m1 0h6m6 0h3m2 0h1m6 0h6m2 0h1m10 0h3m7 0h179m-241 1h2m2 0h2m2 0h2m1 0h3m1 0h1m4 0h3m4 0h2m2 0h2m3 0h1m3 0h3m7 0h4m2 0h2m1 0h1m1 0h180m-241 1h2m7 0h1m1 0h5m3 0h4m4 0h1m2 0h3m7 0h3m8 0h4m1 0h1m4 0h180m-242 1h4m1 0h1m1 0h2m2 0h5m4 0h4m4 0h1m2 0h4m5 0h5m6 0h7m2 0h182m-243 1h4m5 0h1m1 0h1m1 0h1m3 0h1m2 0h4m5 0h1m2 0h4m5 0h4m8 0h5m4 0h181m-243 1h5m4 0h5m1 0h2m4 0h9m4 0h2m4 0h4m1 0h1m6 0h7m3 0h181m-243 1h3m1 0h2m2 0h5m2 0h2m4 0h5m2 0h1m1 0h1m1 0h1m1 0h3m1 0h5m2 0h2m6 0h1m7 0h182m-246 1h1m3 0h8m1 0h1m2 0h3m6 0h7m1 0h2m1 0h1m1 0h1m4 0h2m4 0h1m1 0h3m1 0h2m7 0h182m-266 1h1m18 0h1m7 0h5m2 0h3m1 0h2m3 0h5m5 0h1m2 0h3m4 0h3m4 0h5m1 0h1m7 0h182m-253 1h1m10 0h1m2 0h2m7 0h4m2 0h2m1 0h3m7 0h1m3 0h1m2 0h3m1 0h1m3 0h4m7 0h1m2 0h182m-252 1h1m4 0h1m17 0h2m6 0h1m8 0h1m2 0h1m1 0h1m2 0h1m1 0h2m4 0h11m2 0h183m-247 1h1m2 0h1m1 0h1m10 0h3m4 0h2m10 0h1m4 0h1m1 0h1m4 0h1m4 0h2m1 0h1m1 0h6m1 0h183m-244 1h1m13 0h3m5 0h1m8 0h2m3 0h1m1 0h1m1 0h1m7 0h1m4 0h1m2 0h5m1 0h182m-230 1h7m1 0h3m1 0h1m5 0h8m3 0h2m8 0h2m1 0h5m1 0h182m-231 1h3m1 0h5m2 0h2m5 0h8m2 0h1m1 0h4m2 0h3m1 0h4m1 0h1m1 0h4m1 0h179m-257 1h1m29 0h4m2 0h1m1 0h1m5 0h9m3 0h2m4 0h3m1 0h4m1 0h186m-266 1h1m28 0h2m13 0h1m10 0h5m1 0h1m3 0h1m5 0h1m2 0h5m1 0h4m1 0h181m-266 1h2m27 0h2m6 0h2m3 0h1m1 0h1m10 0h3m3 0h1m9 0h3m2 0h4m1 0h2m3 0h180m-265 1h2m8 0h1m26 0h2m3 0h2m11 0h2m11 0h1m2 0h1m1 0h2m2 0h1m1 0h4m2 0h180m-255 1h1m26 0h2m4 0h2m9 0h3m2 0h1m10 0h2m1 0h1m4 0h2m3 0h1m1 0h180m-266 1h1m53 0h3m1 0h3m10 0h1m1 0h1m5 0h6m1 0h180m-226 1h1m13 0h3m23 0h6m1 0h179m-265 1h1m43 0h1m8 0h5m1 0h2m10 0h1m7 0h186m-266 1h1m6 0h1m5 0h1m29 0h4m7 0h1m2 0h3m20 0h5m1 0h180m-263 1h1m4 0h1m35 0h1m1 0h1m8 0h1m2 0h1m1 0h3m9 0h1m1 0h5m2 0h185m-264 1h3m2 0h2m48 0h1m2 0h1m1 0h1m10 0h1m2 0h4m3 0h183m-263 1h2m1 0h3m37 0h1m14 0h2m9 0h4m2 0h2m3 0h183m-263 1h6m36 0h2m14 0h1m10 0h4m2 0h4m5 0h179m-262 1h6m36 0h2m12 0h4m20 0h182m-266 1h4m4 0h1m37 0h1m4 0h1m1 0h2m1 0h1m4 0h3m7 0h2m4 0h4m4 0h181m-263 1h1m3 0h4m34 0h1m6 0h4m3 0h1m2 0h1m7 0h1m1 0h1m2 0h1m2 0h5m1 0h1m1 0h180m-261 1h1m2 0h1m29 0h1m12 0h1m1 0h1m1 0h1m2 0h1m4 0h1m5 0h1m2 0h1m4 0h2m1 0h1m4 0h181m-265 1h1m1 0h1m1 0h1m2 0h1m38 0h1m8 0h4m2 0h1m8 0h2m1 0h2m4 0h1m5 0h180m-264 1h4m1 0h1m5 0h1m33 0h2m6 0h1m1 0h1m12 0h3m1 0h4m7 0h181m-265 1h4m1 0h4m3 0h1m5 0h2m34 0h1m1 0h1m1 0h1m6 0h1m3 0h1m4 0h3m4 0h1m3 0h180m-266 1h4m1 0h4m25 0h1m7 0h2m11 0h1m1 0h2m14 0h2m1 0h3m2 0h3m2 0h180m-266 1h1m5 0h1m36 0h1m9 0h1m3 0h2m1 0h1m13 0h3m2 0h2m2 0h1m1 0h181m-266 1h1m2 0h1m26 0h1m9 0h1m5 0h2m10 0h1m2 0h1m1 0h1m3 0h1m4 0h1m5 0h5m1 0h182m-264 1h3m23 0h3m15 0h1m1 0h1m4 0h1m6 0h4m5 0h3m7 0h4m1 0h182m-264 1h3m10 0h1m1 0h1m9 0h3m1 0h1m9 0h1m4 0h3m6 0h2m4 0h2m1 0h1m2 0h2m2 0h2m1 0h1m4 0h187m-265 1h3m1 0h1m2 0h1m5 0h2m1 0h1m1 0h1m7 0h4m13 0h1m1 0h3m13 0h1m16 0h187m-265 1h8m6 0h1m2 0h3m5 0h4m15 0h4m13 0h1m9 0h1m1 0h1m4 0h3m4 0h180m-266 1h10m7 0h5m4 0h2m6 0h2m8 0h1m1 0h2m15 0h1m7 0h1m1 0h2m6 0h1m4 0h180m-266 1h11m4 0h2m2 0h4m1 0h5m14 0h1m2 0h2m22 0h3m8 0h1m4 0h180m-266 1h11m4 0h2m2 0h15m8 0h2m24 0h6m12 0h180m-266 1h10m5 0h9m2 0h6m11 0h1m1 0h4m10 0h1m12 0h1m13 0h180m-266 1h3m6 0h1m2 0h1m1 0h11m2 0h1m1 0h3m10 0h1m1 0h1m1 0h4m37 0h179m-266 1h4m5 0h1m4 0h4m1 0h6m4 0h1m1 0h1m11 0h7m26 0h1m10 0h179m-266 1h4m6 0h1m3 0h11m1 0h2m1 0h1m17 0h2m1 0h2m16 0h1m18 0h179m-266 1h4m8 0h1m2 0h3m1 0h7m17 0h1m5 0h1m1 0h1m13 0h4m18 0h179m-266 1h5m1 0h3m5 0h3m2 0h9m18 0h1m19 0h3m4 0h1m12 0h180m-266 1h13m1 0h5m1 0h10m36 0h1m1 0h1m18 0h179m-266 1h7m1 0h1m1 0h3m1 0h1m1 0h2m2 0h8m40 0h3m14 0h181m-266 1h5m1 0h23m18 0h1m8 0h1m11 0h1m1 0h2m12 0h2m1 0h179m-265 1h13m1 0h1m1 0h10m2 0h1m3 0h2m12 0h1m8 0h1m2 0h1m5 0h3m1 0h3m14 0h180m-266 1h5m1 0h20m1 0h8m5 0h2m14 0h1m7 0h1m1 0h6m13 0h1m1 0h179m-266 1h2m1 0h2m2 0h19m1 0h1m1 0h6m5 0h3m4 0h2m5 0h1m11 0h7m14 0h179m-266 1h2m5 0h4m1 0h15m1 0h2m1 0h5m4 0h4m1 0h3m18 0h4m13 0h183m-266 1h1m2 0h1m4 0h2m2 0h4m1 0h9m1 0h11m2 0h7m15 0h2m2 0h2m16 0h182m-265 1h2m5 0h3m1 0h6m1 0h10m1 0h6m3 0h6m2 0h1m19 0h1m15 0h183m-266 1h4m5 0h1m1 0h12m1 0h3m1 0h2m1 0h6m3 0h4m2 0h2m18 0h3m12 0h1m1 0h2m2 0h179m-259 1h16m1 0h3m1 0h1m1 0h7m3 0h3m1 0h4m14 0h2m3 0h2m13 0h3m2 0h179m-263 1h1m3 0h1m2 0h9m1 0h1m1 0h3m1 0h2m3 0h5m3 0h4m1 0h4m18 0h2m15 0h2m2 0h179m-258 1h11m2 0h1m1 0h3m1 0h1m1 0h1m1 0h1m1 0h5m1 0h3m3 0h3m2 0h1m23 0h1m6 0h4m1 0h180m-265 1h5m3 0h8m4 0h10m1 0h2m1 0h3m1 0h1m3 0h5m1 0h3m22 0h2m7 0h2m1 0h180m-266 1h5m1 0h1m1 0h11m1 0h14m1 0h1m3 0h1m1 0h1m2 0h7m1 0h1m18 0h3m12 0h180m-266 1h13m1 0h11m1 0h7m1 0h1m1 0h1m2 0h1m4 0h3m3 0h1m19 0h3m8 0h1m4 0h180m-266 1h12m2 0h1m2 0h3m1 0h1m3 0h1m2 0h7m6 0h1m2 0h1m5 0h2m1 0h1m17 0h2m7 0h1m1 0h1m3 0h180m-266 1h13m3 0h9m3 0h8m1 0h2m4 0h1m6 0h2m27 0h1m1 0h1m2 0h182m-266 1h1m1 0h2m1 0h8m4 0h5m1 0h1m4 0h2m1 0h1m2 0h2m15 0h1m20 0h1m5 0h5m3 0h180m-266 1h2m2 0h5m1 0h3m2 0h1m3 0h2m2 0h1m7 0h1m1 0h1m2 0h3m3 0h3m2 0h1m1 0h2m21 0h2m6 0h2m4 0h180m-266 1h1m4 0h4m1 0h1m1 0h2m2 0h5m3 0h2m9 0h6m6 0h1m23 0h3m7 0h1m3 0h181m-266 1h2m2 0h1m1 0h4m1 0h9m3 0h2m9 0h5m1 0h4m28 0h2m10 0h182m-261 1h4m2 0h1m3 0h1m8 0h3m8 0h3m2 0h1m1 0h1m1 0h1m27 0h2m6 0h1m2 0h2m1 0h180m-262 1h1m2 0h2m2 0h5m6 0h3m11 0h3m2 0h1m1 0h3m2 0h2m22 0h3m1 0h2m8 0h180m-261 1h1m3 0h3m12 0h1m11 0h4m2 0h8m22 0h7m4 0h183m-263 1h1m3 0h1m1 0h3m10 0h1m1 0h2m7 0h1m3 0h4m2 0h8m21 0h8m1 0h3m2 0h180m-264 1h1m4 0h1m1 0h1m1 0h1m7 0h5m1 0h1m11 0h3m3 0h4m1 0h2m22 0h5m2 0h3m2 0h182m-266 1h5m2 0h1m3 0h3m5 0h7m12 0h3m1 0h3m27 0h2m2 0h1m4 0h1m3 0h181m-264 1h3m1 0h2m5 0h1m6 0h6m1 0h1m9 0h2m20 0h2m18 0h4m3 0h180m-266 1h6m7 0h1m8 0h1m1 0h2m11 0h3m3 0h2m33 0h5m3 0h180m-266 1h4m15 0h1m2 0h1m7 0h2m1 0h1m2 0h4m1 0h4m25 0h1m6 0h4m5 0h180m-265 1h1m1 0h1m12 0h1m5 0h3m6 0h2m1 0h7m28 0h2m6 0h3m1 0h1m2 0h182m-265 1h1m18 0h6m4 0h4m1 0h5m2 0h1m23 0h6m4 0h2m1 0h1m3 0h183m-265 1h1m9 0h1m4 0h1m1 0h1m2 0h3m3 0h6m3 0h7m1 0h1m21 0h4m10 0h1m1 0h1m1 0h182m-266 1h1m1 0h1m7 0h1m4 0h1m2 0h5m3 0h7m5 0h8m7 0h3m1 0h1m8 0h3m2 0h1m2 0h1m1 0h2m1 0h1m1 0h1m1 0h183m-266 1h3m7 0h1m2 0h1m2 0h1m1 0h6m2 0h6m1 0h1m2 0h1m1 0h8m7 0h5m8 0h2m3 0h1m1 0h6m2 0h185m-266 1h2m7 0h2m3 0h7m1 0h1m2 0h11m2 0h3m1 0h5m6 0h1m2 0h3m6 0h2m4 0h1m1 0h5m1 0h1m4 0h182m-257 1h4m1 0h5m2 0h4m1 0h22m4 0h2m4 0h1m5 0h5m1 0h1m1 0h7m3 0h1m1 0h1m1 0h180m-262 1h1m5 0h9m1 0h4m1 0h27m1 0h1m1 0h1m1 0h4m2 0h8m1 0h1m2 0h6m5 0h180m-264 1h5m1 0h1m1 0h9m1 0h1m3 0h19m1 0h6m1 0h1m1 0h8m3 0h9m9 0h1m3 0h180m-263 1h1m1 0h3m1 0h13m1 0h1m1 0h18m1 0h12m1 0h5m2 0h2m2 0h5m8 0h1m4 0h180m-265 1h1m2 0h5m3 0h9m1 0h21m1 0h2m1 0h15m3 0h2m2 0h5m7 0h1m4 0h180m-261 1h1m5 0h1m2 0h13m2 0h1m1 0h13m1 0h19m1 0h9m8 0h1m3 0h180m-260 1h2m1 0h1m2 0h1m1 0h7m1 0h14m1 0h26m1 0h10m12 0h180m-265 1h1m3 0h2m6 0h26m1 0h15m1 0h1m1 0h12m1 0h3m9 0h183m-266 1h3m2 0h2m1 0h1m5 0h15m1 0h1m1 0h1m1 0h4m1 0h36m8 0h183m-266 1h3m3 0h1m1 0h1m2 0h1m1 0h25m2 0h12m1 0h22m9 0h182m-265 1h4m2 0h1m2 0h12m1 0h14m2 0h13m1 0h3m1 0h11m1 0h2m2 0h2m5 0h1m1 0h1m1 0h182m-264 1h3m3 0h12m4 0h44m3 0h1m1 0h4m2 0h2m3 0h182m-264 1h3m1 0h1m2 0h12m2 0h22m1 0h13m1 0h6m2 0h15m1 0h182m-263 1h2m4 0h11m1 0h1m1 0h5m1 0h4m1 0h13m1 0h4m2 0h13m2 0h3m2 0h192m-259 1h5m1 0h4m2 0h6m3 0h7m1 0h10m2 0h5m1 0h19m1 0h5m2 0h185m-264 1h1m1 0h1m4 0h2m1 0h5m1 0h1m1 0h1m1 0h3m2 0h5m2 0h13m2 0h3m1 0h1m1 0h20m1 0h190m-266 1h7m1 0h1m1 0h2m1 0h4m1 0h1m6 0h2m1 0h3m1 0h14m2 0h7m2 0h22m1 0h186m-265 1h6m1 0h1m1 0h2m1 0h10m2 0h5m2 0h6m1 0h13m1 0h3m1 0h23m1 0h1m1 0h183m-266 1h3m1 0h5m2 0h12m2 0h5m1 0h7m2 0h22m1 0h3m1 0h11m1 0h2m2 0h183m-266 1h1m1 0h7m2 0h8m2 0h4m1 0h4m3 0h13m1 0h6m1 0h6m1 0h19m1 0h1m1 0h183m-265 1h2m2 0h3m2 0h8m5 0h3m1 0h5m4 0h10m1 0h7m1 0h6m1 0h11m3 0h2m1 0h187m-265 1h2m3 0h2m1 0h1m1 0h4m1 0h1m7 0h8m1 0h1m1 0h1m1 0h9m2 0h7m1 0h5m1 0h7m1 0h3m1 0h1m1 0h190m-265 1h2m1 0h14m5 0h12m2 0h8m2 0h1m2 0h5m1 0h12m1 0h6m1 0h190m-266 1h9m3 0h4m2 0h1m4 0h21m3 0h1m1 0h7m1 0h11m1 0h1m1 0h12m1 0h182m-265 1h15m1 0h26m2 0h1m3 0h3m1 0h1m2 0h18m1 0h3m1 0h187m-266 1h11m2 0h1m2 0h18m1 0h1m1 0h6m2 0h1m6 0h1m1 0h1m1 0h22m1 0h187m-266 1h5m1 0h8m1 0h19m1 0h8m1 0h2m4 0h2m1 0h1m1 0h6m1 0h12m1 0h2m3 0h4m1 0h181m-266 1h4m3 0h2m3 0h22m2 0h11m4 0h23m1 0h4m1 0h186m-266 1h5m2 0h4m1 0h24m1 0h4m1 0h5m3 0h27m2 0h2m1 0h1m1 0h182m-266 1h4m1 0h8m1 0h19m2 0h6m1 0h6m1 0h29m1 0h3m1 0h183m-266 1h2m2 0h8m1 0h1m1 0h19m2 0h20m1 0h4m1 0h9m1 0h10m1 0h183m-266 1h2m1 0h38m1 0h5m2 0h12m1 0h8m1 0h5m1 0h2m1 0h4m1 0h181m-266 1h13m1 0h2m1 0h10m1 0h15m2 0h2m3 0h11m1 0h6m1 0h1m1 0h1m1 0h4m1 0h2m1 0h185m-266 1h5m2 0h11m1 0h7m1 0h15m1 0h7m2 0h3m2 0h1m1 0h25m1 0h181m-266 1h6m3 0h13m1 0h8m1 0h17m1 0h1m1 0h2m1 0h1m1 0h20m2 0h6m1 0h180m-266 1h5m3 0h4m1 0h4m1 0h1m1 0h6m2 0h2m1 0h21m1 0h1m1 0h13m1 0h1m1 0h5m1 0h7m2 0h180m-266 1h2m7 0h2m1 0h40m2 0h15m1 0h7m2 0h1m1 0h185m-261 1h1m1 0h7m2 0h27m1 0h21m1 0h12m1 0h4m3 0h4m1 0h175m-260 1h4m1 0h2m1 0h2m1 0h11m1 0h5m1 0h43m1 0h11m1 0h175m-259 1h3m1 0h5m2 0h3m2 0h4m1 0h1m1 0h4m1 0h21m1 0h3m1 0h9m1 0h195m-261 1h4m4 0h2m1 0h15m5 0h19m2 0h4m1 0h8m1 0h195m-266 1h1m3 0h3m1 0h2m3 0h1m1 0h1m2 0h1m1 0h1m1 0h1m1 0h1m1 0h7m3 0h33m1 0h1m2 0h1m1 0h1m2 0h188m-266 1h1m1 0h5m5 0h5m5 0h3m1 0h7m3 0h34m1 0h6m1 0h188m-265 1h1m1 0h4m2 0h9m5 0h10m1 0h1m1 0h40m1 0h189m-264 1h10m2 0h4m4 0h12m2 0h46m1 0h183m-266 1h9m6 0h3m3 0h32m1 0h15m1 0h1m1 0h12m1 0h181m-266 1h2m1 0h1m16 0h12m1 0h3m1 0h16m1 0h17m1 0h9m1 0h4m2 0h178m-249 1h1m3 0h10m1 0h4m3 0h13m1 0h13m2 0h1m1 0h1m2 0h193m-248 1h1m1 0h10m2 0h3m1 0h1m1 0h1m1 0h3m2 0h8m1 0h4m1 0h16m1 0h190m-252 1h1m3 0h11m1 0h7m2 0h227m-253 1h30m1 0h31m1 0h3m2 0h185m-253 1h67m1 0h185m-266 1h1m4 0h1m1 0h1m6 0h1m1 0h3m1 0h60m1 0h185m-265 1h3m8 0h1m2 0h5m1 0h38m1 0h6m2 0h17m1 0h180m-266 1h1m1 0h6m5 0h1m1 0h2m3 0h7m1 0h27m1 0h2m1 0h7m2 0h15m1 0h182m-266 1h1m1 0h7m1 0h1m1 0h4m4 0h1m1 0h17m1 0h26m1 0h1m2 0h196m-265 1h15m3 0h13m1 0h3m4 0h13m1 0h1m1 0h12m2 0h196m-266 1h10m3 0h3m1 0h1m1 0h18m2 0h15m1 0h13m2 0h196m-266 1h10m1 0h6m2 0h15m2 0h1m2 0h30m2 0h195m-266 1h16m2 0h7m1 0h10m2 0h11m1 0h3m4 0h15m1 0h193m-266 1h14m5 0h6m2 0h7m3 0h5m1 0h1m1 0h3m10 0h4m2 0h202m-266 1h12m1 0h2m4 0h3m1 0h2m3 0h7m1 0h5m1 0h6m10 0h3m2 0h1m1 0h201m-266 1h8m1 0h6m4 0h4m1 0h1m4 0h1m1 0h5m1 0h4m2 0h3m12 0h4m1 0h2m2 0h199m-266 1h14m2 0h4m1 0h3m4 0h7m3 0h8m11 0h1m1 0h7m3 0h197m-265 1h7m1 0h4m3 0h2m4 0h24m12 0h7m4 0h8m2 0h187m-266 1h8m1 0h7m1 0h1m1 0h14m1 0h1m1 0h10m12 0h9m4 0h6m1 0h188m-266 1h3m1 0h3m1 0h8m1 0h18m1 0h11m9 0h1m1 0h9m5 0h181m-253 1h12m2 0h1m1 0h1m2 0h1m1 0h13m1 0h1m1 0h12m6 0h13m3 0h182m-253 1h12m4 0h3m1 0h1m1 0h4m1 0h8m1 0h12m3 0h1m1 0h1m1 0h1m1 0h6m1 0h3m3 0h3m2 0h1m1 0h6m1 0h169m-253 1h13m1 0h4m5 0h11m1 0h16m5 0h5m1 0h1m1 0h2m13 0h3m1 0h170m-253 1h11m1 0h7m3 0h1m3 0h5m1 0h15m1 0h4m1 0h3m1 0h7m11 0h2m1 0h1m1 0h1m1 0h4m1 0h4m2 0h160m-253 1h9m1 0h4m1 0h3m10 0h2m1 0h15m2 0h8m2 0h4m9 0h1m2 0h4m1 0h1m4 0h1m1 0h167m-252 1h5m1 0h9m1 0h2m9 0h3m1 0h1m2 0h1m1 0h9m2 0h4m1 0h12m3 0h3m5 0h4m4 0h169m-253 1h1m1 0h11m1 0h3m11 0h17m1 0h1m2 0h3m2 0h11m2 0h4m1 0h1m4 0h1m4 0h2m1 0h168m-253 1h17m7 0h1m1 0h7m1 0h3m1 0h14m1 0h10m1 0h1m3 0h5m5 0h1m4 0h2m1 0h167m-251 1h13m1 0h1m4 0h1m3 0h7m1 0h4m2 0h9m1 0h4m1 0h11m3 0h1m1 0h2m11 0h1m2 0h167m-253 1h1m2 0h12m3 0h4m1 0h4m1 0h24m1 0h2m1 0h6m1 0h2m3 0h1m4 0h2m4 0h1m2 0h1m1 0h2m3 0h164m-253 1h2m1 0h20m2 0h1m3 0h10m1 0h13m1 0h10m3 0h3m3 0h5m2 0h5m2 0h166m-253 1h24m1 0h4m1 0h11m1 0h11m1 0h9m1 0h1m1 0h4m1 0h1m1 0h3m1 0h1m2 0h173m-253 1h68m1 0h1m2 0h3m1 0h1m5 0h2m1 0h168m-253 1h4m2 0h15m1 0h48m1 0h4m2 0h3m2 0h1m3 0h167m-252 1h33m1 0h27m1 0h8m1 0h3m2 0h1m3 0h1m1 0h2m1 0h2m1 0h164m-246 1h59m2 0h3m2 0h2m1 0h2m2 0h1m1 0h4m1 0h2m1 0h163m-252 1h2m1 0h1m2 0h8m3 0h48m1 0h4m3 0h3m1 0h1m1 0h1m1 0h3m1 0h167m-253 1h2m5 0h7m5 0h40m1 0h9m1 0h1m1 0h3m2 0h1m1 0h1m1 0h1m1 0h6m1 0h163m-253 1h2m1 0h1m2 0h3m1 0h1m1 0h2m3 0h1m1 0h17m1 0h1m1 0h31m2 0h1m1 0h2m3 0h1m1 0h4m1 0h167m-253 1h2m1 0h4m1 0h2m2 0h1m6 0h15m1 0h2m1 0h11m1 0h21m2 0h1m6 0h1m1 0h171m-253 1h2m2 0h8m2 0h9m1 0h13m1 0h34m4 0h4m1 0h2m1 0h2m1 0h166m-253 1h2m2 0h7m1 0h12m1 0h11m1 0h1m2 0h20m1 0h12m2 0h9m2 0h167m-253 1h1m3 0h9m1 0h34m1 0h24m3 0h8m1 0h168m-253 1h1m1 0h8m1 0h4m1 0h2m1 0h30m2 0h1m1 0h19m1 0h4m2 0h5m1 0h168m-253 1h1m1 0h8m1 0h1m4 0h9m1 0h22m2 0h11m2 0h5m1 0h8m2 0h1m2 0h171m-251 1h4m4 0h1m1 0h8m1 0h23m1 0h9m1 0h2m1 0h3m2 0h16m1 0h3m1 0h169m-251 1h7m1 0h1m1 0h7m5 0h21m2 0h7m2 0h1m1 0h195m-253 1h8m4 0h1m1 0h6m5 0h20m1 0h8m1 0h1m3 0h194m-253 1h1m1 0h5m7 0h5m8 0h25m1 0h200m-253 1h4m1 0h1m9 0h5m8 0h22m5 0h25m2 0h10m1 0h160m-253 1h5m1 0h2m7 0h5m8 0h22m5 0h37m1 0h160m-253 1h8m7 0h5m9 0h19m7 0h20m1 0h14m1 0h162m-253 1h1m1 0h8m4 0h7m8 0h12m1 0h5m9 0h16m1 0h10m2 0h5m1 0h1m1 0h1m1 0h158m-253 1h1m2 0h6m4 0h7m9 0h20m7 0h18m1 0h7m2 0h169m-251 1h6m4 0h3m1 0h6m6 0h21m7 0h17m1 0h1m1 0h5m4 0h5m1 0h162m-252 1h1m1 0h4m1 0h2m2 0h2m1 0h1m2 0h3m1 0h1m4 0h23m6 0h19m1 0h1m2 0h2m4 0h2m1 0h1m4 0h160m-252 1h5m1 0h2m2 0h1m1 0h1m1 0h1m1 0h3m1 0h1m2 0h4m1 0h22m5 0h21m1 0h3m3 0h1m1 0h1m1 0h1m1 0h163m-253 1h6m1 0h8m1 0h2m2 0h2m1 0h28m4 0h22m1 0h2m3 0h1m1 0h2m1 0h165m-253 1h3m1 0h1m3 0h1m1 0h3m1 0h1m3 0h16m1 0h1m1 0h14m2 0h27m2 0h6m1 0h8m1 0h155m-252 1h1m5 0h1m3 0h4m1 0h18m2 0h17m1 0h28m1 0h6m1 0h3m2 0h1m1 0h156m-253 1h1m10 0h1m2 0h2m1 0h2m1 0h14m1 0h2m1 0h14m1 0h4m1 0h4m1 0h26m1 0h5m1 0h157m-253 1h1m10 0h1m1 0h2m1 0h1m1 0h1m1 0h1m1 0h34m3 0h4m1 0h17m1 0h1m1 0h169m-235 1h11m2 0h18m1 0h11m3 0h3m1 0h10m1 0h2m2 0h1m1 0h5m1 0h162m-248 1h1m13 0h7m1 0h33m2 0h1m1 0h6m1 0h11m1 0h5m2 0h2m1 0h160m-249 1h1m14 0h9m1 0h32m2 0h1m1 0h19m1 0h2m1 0h5m1 0h159m-249 1h2m7 0h1m1 0h2m1 0h9m1 0h5m1 0h49m2 0h1m1 0h166m-250 1h3m4 0h1m2 0h3m1 0h2m1 0h63m1 0h3m1 0h165m-252 1h1m2 0h2m3 0h1m1 0h2m5 0h11m1 0h3m1 0h50m1 0h168m-252 1h1m6 0h4m5 0h236m-252 1h1m5 0h5m1 0h15m3 0h14m1 0h1m1 0h10m4 0h26m1 0h164m-253 1h1m3 0h7m2 0h15m2 0h28m2 0h193m-253 1h2m1 0h6m2 0h1m1 0h17m1 0h11m1 0h16m7 0h187m-253 1h9m2 0h17m2 0h11m1 0h17m10 0h1m1 0h6m1 0h175m-253 1h10m3 0h19m1 0h19m2 0h1m1 0h3m11 0h1m1 0h3m1 0h2m1 0h2m1 0h171m-253 1h9m1 0h15m1 0h6m2 0h1m1 0h2m1 0h13m4 0h4m2 0h1m7 0h5m2 0h14m1 0h161m-251 1h2m1 0h26m1 0h1m1 0h19m7 0h1m9 0h5m1 0h1m1 0h12m1 0h162m-253 1h1m2 0h1m3 0h1m2 0h23m2 0h2m1 0h3m1 0h9m2 0h4m7 0h1m4 0h5m1 0h178m-252 1h1m10 0h22m1 0h6m1 0h2m1 0h7m2 0h2m5 0h1m4 0h1m2 0h1m2 0h3m1 0h19m1 0h157m-247 1h1m4 0h14m1 0h3m1 0h1m1 0h20m1 0h4m14 0h1m1 0h1m2 0h177m-250 1h1m1 0h1m7 0h18m1 0h18m1 0h6m12 0h1m1 0h2m2 0h1m1 0h7m1 0h2m1 0h165m-251 1h3m2 0h1m1 0h1m1 0h1m1 0h2m1 0h3m1 0h4m2 0h1m1 0h22m3 0h3m12 0h1m4 0h1m1 0h7m1 0h170m-251 1h6m5 0h9m1 0h1m3 0h24m2 0h4m14 0h2m1 0h19m1 0h159m-251 1h9m1 0h9m1 0h2m2 0h3m1 0h4m1 0h17m1 0h4m16 0h1m2 0h177m-250 1h17m1 0h3m1 0h3m1 0h1m2 0h16m1 0h8m17 0h2m1 0h176m-251 1h19m2 0h6m5 0h23m13 0h1m2 0h2m1 0h177m-252 1h1m2 0h13m1 0h1m4 0h2m1 0h5m2 0h5m1 0h11m1 0h1m1 0h5m2 0h1m5 0h1m11 0h175m-252 1h1m1 0h10m1 0h5m3 0h1m1 0h25m1 0h12m7 0h3m2 0h2m1 0h176m-249 1h16m5 0h20m2 0h6m1 0h6m9 0h1m1 0h1m1 0h1m1 0h1m1 0h1m1 0h174m-253 1h2m2 0h5m3 0h7m4 0h23m2 0h6m2 0h3m11 0h1m4 0h6m1 0h11m1 0h159m-251 1h1m1 0h5m1 0h9m2 0h10m1 0h6m1 0h4m1 0h1m1 0h4m2 0h2m1 0h3m17 0h4m1 0h13m1 0h159m-251 1h6m1 0h11m1 0h1m1 0h8m1 0h6m1 0h11m2 0h3m1 0h2m13 0h1m4 0h3m1 0h1m1 0h1m1 0h7m2 0h1m1 0h158m-253 1h1m1 0h19m2 0h14m4 0h9m2 0h1m1 0h2m4 0h4m6 0h1m3 0h9m1 0h4m1 0h3m1 0h160m-253 1h1m1 0h5m1 0h14m2 0h15m2 0h8m11 0h3m1 0h2m1 0h1m2 0h1m3 0h16m1 0h5m1 0h156m-253 1h9m1 0h26m2 0h8m2 0h2m9 0h5m1 0h1m3 0h4m1 0h6m3 0h7m1 0h162m-253 1h36m1 0h8m14 0h3m1 0h2m1 0h4m1 0h7m1 0h1m1 0h9m1 0h162m-253 1h45m13 0h8m3 0h2m1 0h8m1 0h7m1 0h164m-252 1h27m1 0h6m2 0h6m16 0h1m1 0h1m1 0h4m1 0h2m2 0h7m1 0h1m1 0h14m1 0h156m-253 1h35m1 0h5m1 0h2m13 0h1m5 0h8m1 0h11m1 0h3m1 0h165m-253 1h29m1 0h6m1 0h4m1 0h1m14 0h1m1 0h1m2 0h8m1 0h2m1 0h8m1 0h2m1 0h167m-253 1h3m2 0h22m1 0h1m3 0h2m1 0h1m1 0h6m12 0h5m2 0h6m2 0h1m1 0h15m2 0h164m-253 1h3m1 0h1m1 0h21m5 0h1m2 0h8m7 0h1m4 0h3m2 0h1m1 0h2m1 0h4m1 0h1m1 0h7m2 0h7m1 0h164m-249 1h23m4 0h7m1 0h2m10 0h1m3 0h6m1 0h2m2 0h5m1 0h7m1 0h7m4 0h162m-253 1h1m2 0h25m2 0h8m1 0h5m2 0h2m3 0h1m3 0h2m1 0h2m3 0h2m1 0h1m1 0h1m2 0h2m1 0h3m6 0h6m1 0h6m1 0h156m-253 1h1m3 0h37m1 0h1m1 0h6m1 0h2m2 0h2m3 0h2m1 0h4m1 0h8m2 0h1m1 0h1m3 0h4m2 0h163m-253 1h3m1 0h32m1 0h3m1 0h9m2 0h2m2 0h9m2 0h8m1 0h2m4 0h1m1 0h169m-253 1h2m4 0h36m1 0h7m3 0h2m1 0h9m2 0h1m1 0h7m5 0h1m1 0h2m1 0h167m-253 1h3m3 0h11m1 0h13m1 0h7m2 0h1m1 0h2m3 0h2m4 0h13m2 0h7m3 0h5m2 0h167m-253 1h2m1 0h3m2 0h6m1 0h1m1 0h26m6 0h2m3 0h11m5 0h7m3 0h7m1 0h165m-253 1h6m2 0h6m1 0h1m1 0h26m6 0h3m3 0h10m8 0h2m5 0h4m1 0h5m1 0h162m-252 1h2m1 0h10m2 0h10m1 0h1m1 0h2m1 0h2m3 0h5m13 0h2m2 0h1m1 0h5m16 0h171m-250 1h11m2 0h12m4 0h1m1 0h1m2 0h2m1 0h3m13 0h2m1 0h5m12 0h2m1 0h1m1 0h3m1 0h168m-253 1h1m1 0h28m3 0h2m2 0h2m2 0h3m1 0h1m10 0h4m2 0h2m13 0h2m1 0h4m1 0h1m1 0h166m-253 1h3m1 0h1m1 0h7m3 0h12m4 0h3m3 0h2m1 0h2m3 0h1m10 0h1m4 0h1m11 0h1m1 0h2m1 0h174m-253 1h2m2 0h25m6 0h9m1 0h4m10 0h1m3 0h1m15 0h4m2 0h168m-253 1h1m3 0h17m1 0h29m1 0h2m9 0h1m16 0h2m1 0h2m1 0h1m3 0h1m1 0h161m-253 1h14m1 0h29m1 0h7m11 0h1m10 0h3m1 0h1m1 0h2m5 0h1m1 0h164m-253 1h55m1 0h3m2 0h2m1 0h1m8 0h6m2 0h2m1 0h169m-253 1h21m1 0h37m5 0h1m7 0h7m7 0h167m-253 1h21m1 0h37m2 0h6m5 0h6m1 0h2m2 0h2m1 0h167m-253 1h60m1 0h15m9 0h2m1 0h165m-253 1h27m1 0h30m2 0h11m1 0h3m7 0h3m1 0h167m-253 1h34m1 0h23m2 0h14m7 0h4m1 0h1m1 0h165m-253 1h29m1 0h4m1 0h1m1 0h19m3 0h1m1 0h12m9 0h11m1 0h159m-252 1h33m2 0h3m1 0h16m1 0h2m1 0h14m2 0h2m1 0h2m1 0h171m-253 1h73m2 0h1m6 0h171m-253 1h43m1 0h17m1 0h11m3 0h1m1 0h2m3 0h170m-253 1h44m1 0h16m2 0h11m3 0h1m1 0h1m4 0h169m-253 1h18m1 0h3m3 0h2m1 0h1m1 0h14m1 0h11m2 0h13m1 0h2m2 0h2m1 0h1m1 0h1m1 0h170m-253 1h17m9 0h2m1 0h6m1 0h20m1 0h17m3 0h5m2 0h169m-252 1h16m3 0h1m5 0h4m2 0h44m1 0h5m2 0h169m-253 1h16m10 0h17m1 0h37m3 0h169m-253 1h16m5 0h4m1 0h21m1 0h33m3 0h169m-250 1h9m1 0h3m6 0h14m1 0h2m1 0h213m-253 1h1m1 0h15m6 0h14m1 0h1m3 0h3m1 0h32m1 0h174m-253 1h13m1 0h3m5 0h15m7 0h34m1 0h9m1 0h164m-252 1h5m1 0h7m1 0h4m2 0h6m1 0h12m1 0h37m1 0h10m1 0h7m1 0h155m-253 1h1m1 0h12m1 0h12m1 0h47m3 0h175m-253 1h14m1 0h64m1 0h173m-253 1h28m1 0h224m-253 1h26m1 0h10m1 0h39m1 0h175m-253 1h24m1 0h9m4 0h38m2 0h15m1 0h159m-253 1h17m1 0h1m1 0h10m2 0h2m1 0h2m1 0h9m1 0h28m1 0h1m2 0h173m-253 1h20m1 0h5m1 0h1m1 0h12m1 0h35m3 0h13m1 0h159m-253 1h17m4 0h5m2 0h48m5 0h1m1 0h170m-247 1h10m3 0h1m1 0h6m1 0h6m2 0h1m1 0h38m2 0h1m2 0h6m1 0h5m1 0h159m-246 1h5m1 0h3m2 0h8m1 0h7m2 0h39m2 0h3m1 0h2m1 0h5m1 0h2m1 0h160m-252 1h1m5 0h28m2 0h43m1 0h6m1 0h3m1 0h161m-246 1h2m1 0h1m1 0h3m2 0h11m1 0h3m1 0h12m1 0h207m-251 1h1m2 0h5m2 0h2m1 0h1m1 0h14m1 0h13m1 0h34m1 0h1m2 0h2m1 0h1m2 0h6m1 0h156m-253 1h1m1 0h7m4 0h68m1 0h171m-177 1h4m3 0h4m1 0h165m-177 1h2m2 0h16m1 0h156m-177 1h3m2 0h7m1 0h164m-177 1h5m1 0h6m1 0h5m1 0h158m-176 1h9m2 0h165m-176 1h1m2 0h8m1 0h164m-176 1h1m3 0h172m-172 1h172m-172 1h172m-176 1h176m-177 1h2m1 0h6m1 0h167m-177 1h6m1 0h1m1 0h1m2 0h165m-177 1h7m3 0h3m1 0h163m-177 1h6m1 0h1m3 0h7m1 0h158m-177 1h6m2 0h8m1 0h160m-175 1h4m1 0h5m1 0h164m-177 1h1m1 0h4m1 0h7m1 0h162m-177 1h5m2 0h5m1 0h2m1 0h161m-177 1h14m1 0h162m-177 1h177m-177 1h177m-177 1h177m-177 1h177m-177 1h2m1 0h7m1 0h1m2 0h163m-177 1h1m2 0h7m1 0h1m1 0h164m-177 1h2m2 0h4m2 0h1m3 0h163m-177 1h5m1 0h1m1 0h2m3 0h1m1 0h162m-176 1h6m1 0h3m1 0h165m-177 1h177m-177 1h12m2 0h5m2 0h156m-177 1h13m2 0h1m1 0h160m-176 1h11m1 0h164m-176 1h176m-177 1h8m5 0h164m-177 1h177m-177 1h177m-177 1h177m-177 1h10m2 0h165m-177 1h177m-177 1h177m-177 1h177m-177 1h177m-177 1h177m-177 1h177m-265 1h44m9 0h1m1 0h7m2 0h4m3 0h2m1 0h4m1 0h1m2 0h2m1 0h180m-265 1h38m1 0h2m11 0h1m1 0h11m2 0h2m1 0h1m4 0h3m4 0h16m1 0h166m-264 1h39m1 0h1m9 0h2m2 0h2m1 0h6m4 0h1m6 0h22m2 0h166m-265 1h16m1 0h4m1 0h1m1 0h16m1 0h1m9 0h2m1 0h1m2 0h1m1 0h6m11 0h16m1 0h4m4 0h164m-265 1h13m1 0h5m3 0h3m1 0h10m1 0h2m1 0h2m9 0h4m1 0h7m1 0h1m11 0h13m1 0h8m2 0h165m-265 1h12m1 0h6m3 0h2m3 0h13m3 0h1m9 0h1m1 0h7m1 0h1m11 0h24m2 0h164m-265 1h19m2 0h1m7 0h10m4 0h1m9 0h5m1 0h1m2 0h2m1 0h2m5 0h27m1 0h165m-265 1h18m3 0h2m4 0h3m3 0h2m1 0h5m1 0h1m6 0h2m1 0h3m1 0h1m6 0h4m2 0h2m2 0h2m1 0h18m1 0h170m-265 1h19m1 0h3m3 0h1m7 0h2m1 0h8m3 0h2m1 0h3m7 0h5m3 0h2m2 0h2m1 0h189m-265 1h29m7 0h8m4 0h1m2 0h2m7 0h1m1 0h5m2 0h5m1 0h1m1 0h8m1 0h179m-265 1h19m1 0h11m3 0h1m2 0h6m3 0h1m13 0h1m2 0h5m1 0h3m2 0h9m1 0h181m-265 1h17m1 0h14m1 0h1m3 0h6m2 0h1m14 0h1m1 0h1m1 0h6m3 0h7m1 0h1m1 0h182m-265 1h44m1 0h3m15 0h4m2 0h1m1 0h9m2 0h11m1 0h171m-265 1h18m1 0h29m16 0h1m2 0h2m1 0h9m1 0h12m1 0h172m-265 1h15m2 0h1m1 0h1m1 0h27m12 0h5m2 0h2m1 0h8m2 0h12m1 0h172m-265 1h16m1 0h2m1 0h22m1 0h4m13 0h4m3 0h1m7 0h2m2 0h4m1 0h6m2 0h173m-265 1h16m1 0h2m2 0h25m14 0h3m4 0h1m6 0h5m1 0h9m2 0h174m-265 1h15m1 0h1m1 0h2m1 0h4m1 0h1m1 0h13m4 0h1m2 0h1m11 0h3m4 0h3m4 0h191m-265 1h16m3 0h2m1 0h2m1 0h2m1 0h7m1 0h5m7 0h2m9 0h3m4 0h1m1 0h3m3 0h191m-265 1h14m4 0h3m3 0h3m2 0h5m1 0h6m1 0h3m4 0h1m9 0h3m1 0h1m3 0h4m3 0h2m1 0h188m-265 1h15m2 0h6m7 0h5m1 0h4m1 0h1m1 0h2m14 0h2m3 0h6m4 0h3m2 0h1m1 0h3m1 0h2m1 0h177m-265 1h14m4 0h2m10 0h16m3 0h1m12 0h1m1 0h1m1 0h1m1 0h3m2 0h1m1 0h2m1 0h1m2 0h5m1 0h178m-264 1h14m2 0h1m15 0h12m3 0h3m10 0h4m1 0h5m2 0h2m1 0h1m1 0h13m1 0h173m-264 1h6m1 0h7m19 0h10m4 0h2m12 0h7m1 0h1m3 0h1m1 0h7m5 0h1m3 0h173m-265 1h18m18 0h2m3 0h3m4 0h2m12 0h8m4 0h6m6 0h3m2 0h2m3 0h169m-264 1h17m24 0h1m4 0h3m6 0h2m4 0h8m4 0h5m8 0h2m2 0h2m3 0h169m-265 1h18m8 0h1m10 0h1m1 0h1m1 0h1m2 0h1m2 0h4m5 0h1m6 0h6m3 0h8m2 0h2m3 0h7m1 0h170m-265 1h12m1 0h3m2 0h1m7 0h1m1 0h3m6 0h5m1 0h1m1 0h7m3 0h1m6 0h9m2 0h7m2 0h3m2 0h1m3 0h3m2 0h169m-265 1h19m7 0h4m7 0h15m4 0h1m4 0h9m4 0h1m2 0h1m1 0h4m1 0h1m1 0h4m2 0h4m1 0h168m-265 1h9m1 0h11m6 0h4m6 0h2m2 0h1m2 0h14m1 0h1m2 0h1m1 0h4m5 0h1m4 0h1m2 0h1m2 0h1m2 0h2m2 0h1m1 0h1m1 0h170m-265 1h14m1 0h4m1 0h9m1 0h2m3 0h26m2 0h1m1 0h2m6 0h3m1 0h4m1 0h1m4 0h4m2 0h1m1 0h170m-265 1h13m2 0h4m1 0h8m9 0h16m2 0h11m1 0h1m1 0h2m2 0h3m1 0h7m1 0h7m3 0h170m-265 1h12m3 0h5m1 0h5m10 0h14m1 0h21m1 0h2m1 0h6m1 0h2m1 0h4m2 0h173m-265 1h28m1 0h1m3 0h20m3 0h28m3 0h2m2 0h4m2 0h168m-265 1h7m1 0h24m2 0h16m8 0h1m1 0h22m2 0h1m3 0h12m1 0h150m-251 1h16m2 0h4m1 0h1m3 0h2m1 0h20m3 0h1m2 0h1m2 0h22m3 0h11m2 0h6m1 0h147m-251 1h15m3 0h4m4 0h1m3 0h6m3 0h2m1 0h6m5 0h1m3 0h1m1 0h9m2 0h11m3 0h7m1 0h3m2 0h154m-251 1h8m1 0h9m1 0h2m4 0h3m2 0h4m4 0h1m1 0h4m1 0h1m2 0h6m6 0h9m1 0h8m1 0h7m1 0h164m-251 1h6m1 0h2m3 0h5m3 0h2m3 0h2m2 0h1m7 0h4m1 0h1m1 0h6m2 0h3m5 0h15m1 0h1m2 0h4m2 0h9m1 0h2m1 0h8m1 0h144m-249 1h4m3 0h1m1 0h6m6 0h3m2 0h1m1 0h1m4 0h19m5 0h4m2 0h6m2 0h1m4 0h1m1 0h3m2 0h2m1 0h7m1 0h10m1 0h144m-251 1h5m8 0h4m1 0h1m2 0h5m1 0h2m6 0h18m1 0h2m3 0h5m1 0h1m1 0h4m1 0h3m2 0h8m2 0h2m2 0h160m-251 1h1m1 0h3m3 0h2m1 0h6m4 0h9m5 0h3m1 0h3m1 0h10m1 0h3m1 0h1m1 0h1m1 0h1m4 0h3m1 0h18m4 0h3m1 0h154m-251 1h5m3 0h3m1 0h6m4 0h2m1 0h5m2 0h20m4 0h1m4 0h1m5 0h3m2 0h17m5 0h157m-251 1h4m2 0h12m4 0h1m1 0h2m3 0h3m2 0h17m4 0h3m6 0h2m1 0h15m1 0h8m1 0h1m2 0h2m1 0h4m1 0h148m-251 1h16m1 0h1m2 0h1m4 0h2m1 0h3m1 0h6m1 0h14m1 0h4m6 0h4m6 0h6m1 0h1m1 0h7m1 0h1m2 0h157m-251 1h21m3 0h9m1 0h4m1 0h19m1 0h1m2 0h1m2 0h5m2 0h1m1 0h6m2 0h8m2 0h6m1 0h152m-251 1h1m1 0h52m1 0h9m1 0h1m1 0h4m3 0h2m1 0h2m4 0h7m3 0h158m-251 1h12m1 0h8m1 0h25m2 0h4m1 0h8m1 0h1m1 0h7m2 0h1m2 0h3m4 0h6m2 0h5m3 0h151m-250 1h7m1 0h39m1 0h4m1 0h20m3 0h6m2 0h166m-251 1h8m1 0h4m1 0h2m2 0h22m1 0h1m1 0h29m1 0h2m3 0h5m1 0h167m-251 1h14m1 0h2m1 0h23m4 0h7m1 0h19m1 0h2m1 0h1m2 0h172m-251 1h14m1 0h3m1 0h22m1 0h9m5 0h9m1 0h10m1 0h7m1 0h166m-251 1h14m3 0h35m4 0h8m3 0h6m1 0h4m1 0h172m-251 1h10m2 0h2m2 0h34m6 0h15m4 0h3m2 0h171m-251 1h2m2 0h3m1 0h4m3 0h36m4 0h15m6 0h2m1 0h172m-251 1h3m1 0h3m1 0h4m1 0h1m1 0h37m1 0h1m1 0h16m2 0h1m2 0h175m-251 1h7m1 0h4m3 0h4m1 0h231m-251 1h1m1 0h5m7 0h62m1 0h2m1 0h171m-250 1h4m9 0h61m1 0h2m1 0h1m1 0h170m-251 1h1m1 0h4m1 0h1m3 0h7m1 0h60m1 0h171m-250 1h8m3 0h8m1 0h230m-251 1h9m3 0h239m-251 1h8m1 0h242m-251 1h8m2 0h241m-251 1h6m1 0h244m-251 1h3m1 0h1m2 0h3m1 0h240m-251 1h3m2 0h5m2 0h239m-251 1h4m1 0h246m-251 1h12m1 0h238m-251 1h4m2 0h6m2 0h3m1 0h233m-251 1h5m2 0h5m2 0h1m1 0h2m1 0h232m-250 1h3m5 0h3m2 0h1m2 0h234m-250 1h1m1 0h2m3 0h6m5 0h232m-249 1h3m1 0h8m5 0h232m-249 1h4m3 0h5m5 0h232m-248 1h3m3 0h2m1 0h3m4 0h232m-251 1h14m5 0h232m-251 1h14m6 0h231m-251 1h15m5 0h231m-251 1h4m1 0h9m7 0h230m-251 1h15m7 0h14m1 0h214m-251 1h15m7 0h229m-251 1h15m1 0h1m5 0h4m1 0h8m4 0h212m-251 1h15m1 0h2m4 0h4m2 0h8m4 0h211m-251 1h14m2 0h3m3 0h4m2 0h8m5 0h210m-251 1h2m1 0h12m2 0h3m1 0h6m2 0h5m1 0h1m5 0h210m-251 1h2m2 0h11m2 0h3m1 0h8m1 0h3m8 0h210m-251 1h2m3 0h10m3 0h11m1 0h4m6 0h211m-251 1h3m1 0h1m1 0h9m4 0h11m1 0h1m1 0h2m2 0h20m1 0h193m-251 1h4m3 0h9m3 0h232m-251 1h6m2 0h243m-251 1h7m2 0h242m-251 1h8m1 0h242m-251 1h251m-251 1h251m-251 1h251m-251 1h251m-251 1h251m-251 1h251m-251 1h251m-251 1h251m-251 1h251m-251 1h251m-251 1h251m-251 1h251m-251 1h251m-251 1h251m-251 1h251m-251 1h251m-251 1h251m-251 1h251m-251 1h251m-251 1h251m-251 1h251m-251 1h251m-251 1h251m-251 1h251m-251 1h251m-251 1h251m-251 1h251m-251 1h251m-251 1h251m-251 1h251m-251 1h251m-251 1h251m-251 1h251m-251 1h251m-251 1h251m-251 1h251m-251 1h251m-251 1h251m-251 1h251m-251 1h251m-251 1h16m1 0h6m1 0h227m-251 1h14m1 0h2m1 0h4m7 0h222m-251 1h3m1 0h9m1 0h1m1 0h1m14 0h220m-251 1h3m3 0h7m19 0h219m-251 1h3m5 0h4m28 0h211m-251 1h1m8 0h1m1 0h1m17 0h1m1 0h1m8 0h211m-236 1h1m14 0h1m10 0h210m-240 1h1m29 0h6m1 0h203m-210 1h6m3 0h201m-235 1h1m23 0h6m6 0h199m-235 1h1m23 0h5m8 0h198m-208 1h1m10 0h197m-249 1h1m4 0h1m46 0h197m-249 1h3m49 0h197m-249 1h1m6 0h1m45 0h19m1 0h176m-207 1h3m9 0h195m-251 1h1m3 0h2m37 0h1m1 0h3m8 0h30m1 0h164m-250 1h2m1 0h3m3 0h1m31 0h1m2 0h5m4 0h197m-251 1h7m38 0h7m1 0h32m1 0h165m-249 1h6m36 0h2m2 0h203m-250 1h7m1 0h1m32 0h2m1 0h206m-251 1h7m1 0h4m30 0h19m1 0h1m1 0h187m-249 1h3m1 0h2m2 0h2m4 0h1m25 0h21m1 0h187m-251 1h1m1 0h6m1 0h1m6 0h3m23 0h53m1 0h155m-251 1h19m3 0h3m16 0h210m-251 1h25m1 0h1m15 0h209m-251 1h28m12 0h211m-251 1h28m11 0h212m-251 1h28m12 0h211m-251 1h28m12 0h211m-251 1h30m9 0h212m-251 1h32m9 0h210m-251 1h36m1 0h1m4 0h209m-251 1h38m4 0h209m-251 1h38m4 0h209m-251 1h37m5 0h209m-251 1h38m3 0h210m-251 1h38m3 0h210m-251 1h251m-251 1h251m-251 1h251m-251 1h251m-251 1h251m-251 1h251m-251 1h81m1 0h169m-251 1h251m-251 1h251m-251 1h251m-251 1h251m-251 1h251m-251 1h251m-251 1h251m-251 1h251m-251 1h251"/>
<path stroke="#ffff00" d="M0 0m17 0h14m1 0h8m4 0h2m3 0h2m8 0h18m3 0h1m3 0h2m33 0h2m26 0h2m17 0h1m5 0h2m7 0h65m1 0h32m-264 1h18m1 0h6m17 0h1m1 0h1m1 0h16m1 0h4m3 0h1m7 0h1m17 0h3m34 0h2m27 0h1m1 0h100m-266 1h17m1 0h2m1 0h4m19 0h27m14 0h1m12 0h1m2 0h2m1 0h1m5 0h1m3 0h2m19 0h3m27 0h1m2 0h98m-266 1h18m2 0h4m19 0h1m1 0h1m1 0h16m1 0h6m32 0h1m1 0h1m3 0h2m3 0h2m16 0h2m1 0h3m28 0h1m1 0h21m1 0h1m1 0h75m-265 1h15m2 0h1m2 0h3m18 0h1m1 0h1m1 0h18m1 0h5m9 0h1m25 0h1m2 0h1m20 0h7m8 0h1m14 0h3m1 0h103m-263 1h14m2 0h1m1 0h3m19 0h10m1 0h12m2 0h2m9 0h1m25 0h2m13 0h1m1 0h4m2 0h7m24 0h5m3 0h99m-260 1h12m1 0h1m1 0h3m20 0h1m1 0h10m1 0h8m3 0h3m9 0h2m22 0h2m13 0h2m3 0h3m1 0h6m2 0h1m23 0h106m-260 1h2m3 0h9m1 0h1m2 0h1m18 0h23m3 0h1m34 0h2m1 0h2m17 0h6m3 0h2m24 0h4m3 0h98m-263 1h1m9 0h4m2 0h2m3 0h2m17 0h3m1 0h1m1 0h16m1 0h1m3 0h1m33 0h1m1 0h1m22 0h1m1 0h1m30 0h3m3 0h98m-267 1h1m1 0h3m13 0h4m4 0h2m16 0h1m5 0h4m1 0h12m4 0h2m3 0h1m3 0h4m78 0h2m4 0h99m-267 1h1m1 0h3m14 0h3m2 0h5m21 0h5m2 0h10m4 0h2m1 0h4m14 0h2m1 0h2m66 0h2m2 0h100m-267 1h4m18 0h1m1 0h7m8 0h2m8 0h2m1 0h2m1 0h1m1 0h10m1 0h5m1 0h3m85 0h3m3 0h99m-267 1h3m19 0h2m1 0h9m4 0h4m1 0h1m3 0h5m1 0h9m1 0h3m1 0h6m1 0h1m38 0h2m42 0h1m5 0h1m2 0h2m1 0h98m-267 1h3m20 0h2m1 0h46m25 0h1m16 0h3m38 0h1m9 0h2m2 0h98m-265 1h1m20 0h49m20 0h3m1 0h2m17 0h2m42 0h1m1 0h1m1 0h1m1 0h1m3 0h98m-244 1h49m21 0h6m18 0h1m5 0h1m36 0h1m3 0h4m1 0h98m-243 1h48m19 0h6m3 0h1m21 0h5m17 0h1m21 0h1m2 0h98m-242 1h36m2 0h8m20 0h6m1 0h1m1 0h1m21 0h5m13 0h1m1 0h5m10 0h1m3 0h1m7 0h24m1 0h73m-242 1h44m1 0h1m18 0h1m1 0h4m30 0h1m7 0h1m7 0h4m12 0h1m11 0h20m1 0h77m-242 1h46m18 0h4m1 0h1m31 0h1m14 0h2m25 0h25m1 0h73m-247 1h1m3 0h26m1 0h18m21 0h2m42 0h1m6 0h2m26 0h98m-250 1h13m1 0h7m2 0h2m1 0h8m1 0h16m74 0h1m24 0h1m1 0h98m-250 1h13m1 0h1m1 0h17m1 0h17m19 0h1m7 0h1m1 0h1m33 0h1m4 0h1m4 0h1m1 0h2m6 0h2m16 0h98m-250 1h2m2 0h9m1 0h7m2 0h24m2 0h1m27 0h5m30 0h3m4 0h1m5 0h4m3 0h1m1 0h2m5 0h1m10 0h25m2 0h42m1 0h28m-250 1h2m1 0h1m3 0h5m3 0h1m1 0h22m2 0h3m2 0h3m31 0h1m9 0h1m20 0h4m2 0h2m7 0h1m6 0h4m3 0h1m8 0h101m-250 1h4m4 0h3m4 0h25m6 0h1m1 0h2m40 0h1m19 0h4m4 0h1m2 0h1m4 0h1m8 0h3m11 0h1m1 0h20m1 0h78m-251 1h5m1 0h1m1 0h3m3 0h1m1 0h8m1 0h1m1 0h1m1 0h2m1 0h5m2 0h2m7 0h1m2 0h1m3 0h3m23 0h1m9 0h1m20 0h1m2 0h1m1 0h2m3 0h1m14 0h2m13 0h24m1 0h74m-255 1h2m1 0h5m1 0h1m2 0h2m2 0h3m1 0h1m1 0h1m1 0h4m5 0h1m5 0h2m11 0h2m1 0h1m3 0h4m9 0h1m11 0h2m2 0h1m6 0h2m12 0h1m11 0h2m4 0h1m13 0h3m12 0h20m1 0h1m3 0h28m1 0h45m-255 1h3m1 0h3m3 0h3m2 0h1m1 0h1m25 0h1m8 0h2m4 0h7m7 0h3m10 0h1m1 0h2m7 0h1m4 0h3m17 0h1m1 0h1m1 0h1m1 0h1m14 0h3m12 0h14m1 0h7m1 0h1m1 0h72m-263 1h1m8 0h3m1 0h3m6 0h1m1 0h1m2 0h1m16 0h1m4 0h1m2 0h1m8 0h1m6 0h9m3 0h1m1 0h1m1 0h1m2 0h2m9 0h1m1 0h1m17 0h1m15 0h3m15 0h1m10 0h1m2 0h23m2 0h72m-262 1h1m3 0h1m4 0h5m9 0h1m12 0h1m29 0h7m1 0h1m7 0h1m26 0h1m23 0h3m17 0h1m1 0h1m5 0h3m1 0h11m1 0h85m-259 1h1m6 0h1m13 0h3m8 0h1m10 0h2m3 0h1m19 0h1m3 0h1m8 0h1m19 0h1m7 0h1m19 0h3m8 0h1m17 0h101m-261 1h1m9 0h1m12 0h3m3 0h1m2 0h1m12 0h1m1 0h1m1 0h2m31 0h1m1 0h1m22 0h1m2 0h1m37 0h1m5 0h1m6 0h100m-257 1h1m16 0h1m1 0h2m8 0h3m1 0h1m4 0h1m2 0h2m7 0h2m4 0h3m1 0h1m13 0h1m6 0h2m13 0h2m37 0h1m7 0h2m3 0h1m6 0h1m1 0h42m1 0h57m-261 1h2m4 0h2m15 0h2m4 0h1m2 0h1m3 0h1m7 0h2m1 0h2m4 0h1m6 0h1m2 0h3m7 0h1m12 0h1m13 0h1m6 0h2m27 0h3m1 0h2m4 0h2m6 0h1m6 0h100m-255 1h1m16 0h2m7 0h1m12 0h4m1 0h1m3 0h2m1 0h4m3 0h1m1 0h1m12 0h2m4 0h1m15 0h1m5 0h2m1 0h1m24 0h8m1 0h1m1 0h1m1 0h2m2 0h1m1 0h1m6 0h100m-255 1h1m22 0h1m12 0h9m2 0h2m3 0h4m15 0h1m28 0h3m1 0h1m25 0h5m6 0h1m6 0h1m1 0h2m4 0h20m1 0h78m-250 1h1m17 0h2m10 0h9m4 0h1m23 0h2m27 0h2m1 0h1m25 0h5m3 0h1m7 0h6m1 0h4m1 0h97m-259 1h1m17 0h1m9 0h1m11 0h3m2 0h1m6 0h2m1 0h1m19 0h1m1 0h1m29 0h1m5 0h1m23 0h1m3 0h2m6 0h10m1 0h37m1 0h61m-259 1h1m17 0h1m6 0h1m1 0h1m13 0h4m8 0h2m12 0h1m8 0h3m4 0h1m15 0h2m4 0h1m6 0h3m26 0h2m1 0h1m2 0h2m1 0h8m1 0h37m1 0h2m1 0h59m-265 1h1m4 0h3m2 0h1m3 0h2m8 0h1m8 0h2m5 0h1m8 0h2m8 0h2m12 0h3m9 0h1m5 0h1m12 0h2m39 0h1m1 0h3m1 0h1m1 0h1m1 0h2m1 0h107m-265 1h1m12 0h5m4 0h1m6 0h1m3 0h1m14 0h1m2 0h1m7 0h1m14 0h2m9 0h2m25 0h1m28 0h1m2 0h4m2 0h2m5 0h3m1 0h42m1 0h61m-265 1h1m1 0h1m10 0h2m3 0h1m3 0h1m25 0h1m9 0h2m2 0h1m2 0h2m8 0h2m8 0h1m40 0h1m18 0h3m2 0h1m7 0h3m1 0h14m1 0h88m-259 1h1m5 0h7m13 0h1m13 0h1m1 0h1m9 0h1m6 0h1m43 0h1m14 0h4m20 0h2m8 0h1m1 0h1m1 0h12m2 0h89m-259 1h1m5 0h3m1 0h6m10 0h1m13 0h1m15 0h1m2 0h1m45 0h3m45 0h14m2 0h90m-252 1h9m5 0h1m6 0h1m27 0h2m23 0h1m23 0h3m21 0h1m22 0h12m2 0h2m1 0h90m-263 1h2m8 0h8m1 0h2m1 0h2m1 0h1m6 0h1m51 0h1m1 0h2m31 0h1m14 0h2m16 0h1m5 0h10m7 0h3m1 0h2m3 0h79m-263 1h2m2 0h1m1 0h1m2 0h1m1 0h3m2 0h2m4 0h2m1 0h1m61 0h1m46 0h1m16 0h1m8 0h9m5 0h1m3 0h2m5 0h78m-265 1h1m2 0h2m1 0h1m3 0h7m1 0h1m13 0h1m1 0h2m53 0h1m29 0h2m1 0h1m12 0h2m1 0h1m12 0h3m9 0h8m2 0h1m1 0h2m9 0h79m-263 1h2m1 0h1m5 0h1m2 0h1m17 0h5m1 0h1m3 0h1m73 0h1m1 0h5m40 0h8m1 0h2m1 0h1m9 0h10m1 0h69m-265 1h1m14 0h1m13 0h6m67 0h1m8 0h1m3 0h1m3 0h2m1 0h4m9 0h2m1 0h1m1 0h1m16 0h2m3 0h13m1 0h2m1 0h1m5 0h2m1 0h77m-265 1h1m1 0h2m11 0h1m4 0h1m7 0h4m71 0h2m17 0h1m1 0h3m9 0h1m3 0h1m13 0h1m1 0h3m4 0h1m2 0h12m4 0h2m2 0h5m1 0h4m1 0h68m-262 1h1m23 0h2m4 0h1m71 0h1m8 0h1m9 0h2m19 0h1m9 0h1m1 0h21m3 0h4m1 0h9m1 0h69m-251 1h1m12 0h1m4 0h1m72 0h1m13 0h7m1 0h1m17 0h1m2 0h1m1 0h2m2 0h12m1 0h13m2 0h83m-259 1h1m4 0h3m1 0h1m1 0h2m8 0h1m4 0h1m5 0h1m53 0h1m17 0h1m3 0h1m5 0h5m19 0h1m1 0h3m1 0h16m1 0h13m2 0h83m-261 1h1m2 0h1m2 0h3m1 0h2m1 0h2m8 0h1m6 0h1m3 0h1m74 0h1m4 0h1m4 0h1m4 0h9m7 0h1m2 0h7m1 0h11m1 0h12m3 0h83m-263 1h1m5 0h1m1 0h6m2 0h2m4 0h5m4 0h5m57 0h1m19 0h1m1 0h1m5 0h1m7 0h6m3 0h1m4 0h1m1 0h1m1 0h2m2 0h12m1 0h14m1 0h84m-256 1h3m1 0h2m4 0h2m5 0h3m7 0h3m57 0h1m17 0h1m2 0h1m1 0h1m2 0h1m1 0h3m10 0h4m11 0h1m1 0h11m3 0h97m-262 1h1m2 0h3m1 0h1m1 0h4m4 0h1m1 0h1m2 0h3m1 0h1m88 0h1m1 0h1m3 0h1m14 0h1m1 0h1m1 0h1m8 0h5m1 0h4m1 0h2m4 0h8m1 0h87m-262 1h1m1 0h1m1 0h3m2 0h1m1 0h1m11 0h4m2 0h1m86 0h1m24 0h1m2 0h1m3 0h5m2 0h2m2 0h2m4 0h3m1 0h4m1 0h1m1 0h86m-261 1h1m3 0h1m11 0h3m4 0h4m88 0h3m7 0h2m12 0h2m1 0h1m1 0h9m2 0h1m1 0h5m2 0h4m1 0h3m3 0h86m-245 1h4m3 0h1m3 0h2m61 0h1m23 0h1m2 0h1m14 0h1m11 0h1m1 0h3m1 0h4m1 0h10m3 0h1m1 0h1m4 0h86m-244 1h1m3 0h1m5 0h2m78 0h1m7 0h6m10 0h2m12 0h4m1 0h15m4 0h1m4 0h87m-263 1h2m5 0h1m21 0h3m11 0h1m75 0h2m13 0h2m4 0h1m6 0h23m1 0h6m1 0h85m-264 1h2m21 0h1m12 0h2m6 0h1m39 0h1m36 0h1m15 0h2m2 0h2m4 0h3m1 0h1m3 0h4m1 0h8m1 0h5m1 0h2m1 0h86m-264 1h2m42 0h1m78 0h1m3 0h2m4 0h1m3 0h1m4 0h2m1 0h1m2 0h2m6 0h2m2 0h8m1 0h2m3 0h2m1 0h87m-265 1h2m33 0h1m8 0h2m14 0h1m24 0h1m30 0h1m6 0h4m15 0h4m13 0h5m1 0h2m1 0h1m2 0h1m3 0h90m-241 1h3m9 0h3m5 0h2m12 0h4m52 0h2m2 0h2m2 0h2m3 0h2m15 0h1m2 0h1m11 0h5m1 0h6m4 0h2m1 0h78m1 0h8m-241 1h2m8 0h2m1 0h2m6 0h1m31 0h1m38 0h1m1 0h2m1 0h1m1 0h2m11 0h1m8 0h2m11 0h10m1 0h2m4 0h90m-241 1h1m3 0h1m6 0h3m7 0h2m18 0h2m8 0h1m40 0h1m2 0h1m13 0h1m11 0h2m8 0h1m1 0h14m2 0h4m1 0h87m-241 1h2m9 0h1m2 0h1m6 0h2m18 0h1m11 0h2m6 0h1m29 0h1m27 0h1m2 0h1m7 0h1m1 0h1m1 0h14m1 0h92m-242 1h2m6 0h1m4 0h1m8 0h1m10 0h1m7 0h2m10 0h4m4 0h1m1 0h1m28 0h1m18 0h2m11 0h2m1 0h2m2 0h24m1 0h86m-242 1h3m18 0h2m18 0h2m9 0h1m2 0h1m30 0h1m1 0h1m3 0h5m27 0h1m3 0h11m1 0h7m1 0h6m2 0h86m-242 1h2m9 0h1m8 0h3m1 0h1m9 0h1m6 0h2m10 0h1m2 0h1m7 0h1m16 0h3m2 0h3m3 0h5m4 0h2m1 0h1m1 0h1m4 0h2m4 0h3m5 0h13m2 0h102m-242 1h1m7 0h2m5 0h1m5 0h4m8 0h1m18 0h1m27 0h2m6 0h2m3 0h5m2 0h3m1 0h5m7 0h4m1 0h1m3 0h1m1 0h1m1 0h8m3 0h102m-219 1h1m6 0h1m21 0h1m25 0h1m1 0h3m8 0h1m1 0h7m1 0h4m2 0h2m2 0h1m3 0h5m7 0h115m-222 1h1m1 0h1m25 0h1m1 0h1m24 0h9m10 0h13m2 0h4m3 0h4m1 0h1m4 0h1m1 0h25m1 0h88m-230 1h3m6 0h2m16 0h1m8 0h2m12 0h1m11 0h5m1 0h5m7 0h13m4 0h1m4 0h2m1 0h2m1 0h1m1 0h1m1 0h1m1 0h2m1 0h22m1 0h1m1 0h1m1 0h86m-229 1h1m21 0h1m5 0h1m5 0h1m2 0h1m10 0h2m5 0h1m5 0h3m5 0h2m1 0h1m5 0h6m1 0h7m3 0h3m3 0h9m1 0h3m3 0h4m4 0h1m2 0h101m-244 1h1m1 0h1m12 0h1m4 0h2m32 0h1m2 0h1m4 0h4m10 0h2m5 0h3m2 0h1m5 0h1m1 0h1m4 0h5m3 0h6m1 0h6m1 0h2m1 0h2m4 0h4m1 0h1m4 0h18m1 0h83m-229 1h1m6 0h1m13 0h1m1 0h1m17 0h1m6 0h2m1 0h1m11 0h1m4 0h2m1 0h3m4 0h1m1 0h3m2 0h6m4 0h3m2 0h1m1 0h8m1 0h3m1 0h10m2 0h18m2 0h82m-229 1h1m7 0h2m7 0h1m1 0h3m1 0h1m4 0h1m12 0h1m6 0h2m18 0h6m3 0h1m4 0h1m1 0h7m2 0h5m8 0h2m1 0h37m1 0h82m-220 1h1m9 0h1m1 0h3m4 0h1m6 0h2m2 0h1m1 0h1m6 0h1m3 0h1m9 0h1m7 0h4m8 0h2m3 0h4m1 0h2m1 0h1m1 0h2m2 0h1m4 0h3m1 0h23m1 0h95m-211 1h3m1 0h1m5 0h1m6 0h2m3 0h2m3 0h2m13 0h1m18 0h1m2 0h1m1 0h1m2 0h2m1 0h1m6 0h2m2 0h2m4 0h17m2 0h3m1 0h2m1 0h7m3 0h86m-266 1h1m55 0h4m17 0h2m4 0h1m2 0h1m16 0h1m2 0h1m2 0h3m5 0h4m1 0h1m1 0h2m11 0h1m2 0h2m3 0h12m1 0h1m1 0h1m2 0h5m1 0h8m3 0h6m1 0h50m1 0h28m-228 1h1m43 0h1m3 0h2m1 0h1m19 0h3m6 0h5m1 0h2m3 0h1m10 0h1m3 0h22m2 0h9m2 0h61m1 0h25m-209 1h1m28 0h2m2 0h1m9 0h2m15 0h5m1 0h4m1 0h1m1 0h1m9 0h1m1 0h1m2 0h14m1 0h18m1 0h66m1 0h20m-195 1h1m15 0h1m6 0h1m6 0h2m10 0h1m8 0h1m5 0h1m3 0h1m4 0h1m1 0h1m2 0h3m1 0h12m2 0h85m1 0h20m-210 1h1m23 0h1m6 0h1m5 0h1m3 0h1m1 0h4m9 0h1m3 0h1m2 0h1m1 0h2m3 0h1m7 0h6m3 0h1m1 0h6m1 0h2m1 0h1m6 0h55m1 0h48m-211 1h2m23 0h1m12 0h2m2 0h1m1 0h2m10 0h2m6 0h4m5 0h1m7 0h4m2 0h13m6 0h21m2 0h33m1 0h1m2 0h45m-211 1h1m24 0h4m13 0h6m7 0h3m5 0h6m1 0h1m9 0h3m1 0h10m1 0h8m1 0h22m2 0h37m1 0h45m-169 1h6m7 0h3m2 0h1m1 0h6m2 0h1m2 0h1m6 0h10m1 0h8m1 0h26m3 0h36m1 0h2m2 0h41m-206 1h1m1 0h1m12 0h1m7 0h1m13 0h6m6 0h3m4 0h1m2 0h3m1 0h5m7 0h9m3 0h4m1 0h27m3 0h1m1 0h39m1 0h42m-258 1h1m67 0h2m6 0h1m11 0h4m2 0h1m7 0h3m3 0h1m2 0h1m1 0h1m1 0h5m8 0h5m1 0h1m4 0h5m1 0h113m-262 1h1m68 0h1m1 0h1m10 0h1m9 0h2m4 0h1m7 0h3m5 0h6m1 0h1m1 0h1m8 0h1m1 0h3m4 0h13m1 0h22m1 0h1m1 0h37m1 0h44m-263 1h1m2 0h1m71 0h1m17 0h2m4 0h1m7 0h1m8 0h1m6 0h2m2 0h2m5 0h1m2 0h1m4 0h2m1 0h12m1 0h20m5 0h80m-262 1h1m1 0h1m81 0h2m20 0h3m13 0h2m3 0h1m5 0h1m2 0h1m6 0h2m2 0h29m6 0h80m-264 1h2m49 0h2m6 0h1m23 0h1m5 0h2m15 0h4m15 0h1m17 0h1m1 0h2m3 0h1m2 0h15m1 0h9m6 0h1m1 0h53m1 0h24m-211 1h1m6 0h1m9 0h1m13 0h2m3 0h1m15 0h6m28 0h1m3 0h1m3 0h1m3 0h15m1 0h1m3 0h7m8 0h78m-258 1h1m46 0h1m16 0h1m13 0h1m20 0h4m15 0h1m3 0h1m17 0h3m3 0h14m3 0h2m1 0h7m8 0h29m1 0h47m-261 1h1m51 0h1m14 0h1m16 0h1m1 0h2m14 0h2m4 0h1m27 0h1m6 0h2m3 0h15m2 0h13m5 0h7m1 0h70m-264 1h1m72 0h2m12 0h3m1 0h1m4 0h1m8 0h2m4 0h1m18 0h1m7 0h1m7 0h1m2 0h15m1 0h3m1 0h12m1 0h1m1 0h2m1 0h21m1 0h55m-264 1h1m5 0h1m66 0h2m10 0h1m1 0h2m1 0h1m8 0h1m4 0h2m3 0h1m13 0h1m1 0h2m1 0h1m1 0h1m15 0h1m2 0h18m1 0h14m1 0h25m1 0h55m-260 1h1m35 0h1m33 0h1m11 0h2m1 0h4m3 0h3m2 0h9m6 0h2m6 0h3m2 0h2m10 0h3m3 0h29m1 0h16m3 0h68m-177 1h6m2 0h4m2 0h1m1 0h2m1 0h1m1 0h2m13 0h10m1 0h1m8 0h1m2 0h48m1 0h69m-220 1h1m34 0h1m4 0h1m3 0h2m5 0h1m7 0h1m4 0h1m4 0h1m5 0h1m4 0h7m16 0h20m1 0h19m2 0h75m-237 1h2m15 0h1m42 0h3m4 0h1m13 0h1m3 0h2m3 0h1m13 0h2m13 0h1m1 0h14m1 0h5m2 0h17m3 0h2m1 0h71m-264 1h1m25 0h2m11 0h1m5 0h1m26 0h1m5 0h1m1 0h1m1 0h1m4 0h1m1 0h1m18 0h4m2 0h4m12 0h2m16 0h2m1 0h3m2 0h2m1 0h7m5 0h14m1 0h1m3 0h1m1 0h1m1 0h3m2 0h1m1 0h63m-252 1h1m13 0h2m17 0h1m31 0h3m1 0h1m5 0h1m3 0h1m15 0h2m1 0h6m14 0h3m15 0h5m2 0h1m1 0h9m2 0h2m1 0h6m2 0h3m1 0h4m7 0h3m1 0h1m1 0h64m-264 1h1m3 0h2m20 0h1m59 0h5m1 0h2m12 0h2m2 0h2m2 0h1m30 0h1m1 0h30m3 0h9m1 0h1m1 0h72m-265 1h7m11 0h1m6 0h2m43 0h1m15 0h7m38 0h2m14 0h1m1 0h29m3 0h10m1 0h73m-265 1h1m1 0h6m12 0h1m5 0h1m42 0h3m15 0h1m1 0h5m8 0h2m26 0h3m14 0h32m2 0h10m3 0h71m-266 1h1m1 0h2m1 0h2m1 0h2m10 0h2m6 0h1m1 0h1m1 0h2m8 0h1m27 0h2m18 0h1m1 0h2m1 0h1m6 0h3m7 0h1m3 0h3m11 0h5m4 0h3m1 0h1m9 0h6m1 0h5m1 0h11m1 0h1m2 0h1m2 0h8m3 0h29m1 0h41m-266 1h3m1 0h2m14 0h1m8 0h3m69 0h3m14 0h2m9 0h2m2 0h4m2 0h3m8 0h8m1 0h4m5 0h8m4 0h2m1 0h7m1 0h1m2 0h29m1 0h42m-266 1h1m1 0h1m11 0h3m4 0h1m1 0h1m5 0h2m59 0h1m3 0h1m6 0h1m13 0h1m2 0h2m12 0h1m3 0h1m1 0h1m2 0h2m9 0h6m1 0h4m5 0h9m1 0h2m2 0h84m-265 1h1m13 0h1m8 0h1m6 0h1m12 0h1m2 0h1m57 0h1m12 0h2m11 0h1m1 0h1m2 0h4m14 0h4m1 0h3m5 0h11m1 0h1m2 0h5m2 0h5m1 0h71m-177 1h1m25 0h1m2 0h2m10 0h1m4 0h7m13 0h6m1 0h1m5 0h3m1 0h4m1 0h1m1 0h15m1 0h71m-266 1h1m20 0h1m66 0h1m1 0h1m2 0h1m19 0h2m2 0h3m11 0h1m1 0h1m1 0h4m5 0h1m3 0h1m1 0h1m3 0h3m1 0h2m1 0h1m6 0h2m2 0h5m2 0h2m1 0h84m-265 1h1m6 0h1m10 0h1m2 0h1m1 0h2m62 0h1m1 0h2m21 0h1m1 0h1m2 0h1m14 0h5m1 0h1m2 0h2m3 0h1m1 0h2m3 0h7m1 0h2m2 0h10m1 0h1m1 0h1m1 0h31m1 0h53m-245 1h3m1 0h1m66 0h1m5 0h1m13 0h2m3 0h3m8 0h4m1 0h2m5 0h2m2 0h3m3 0h1m3 0h20m1 0h5m1 0h1m3 0h81m-245 1h1m1 0h1m45 0h1m43 0h1m2 0h3m8 0h7m4 0h1m1 0h1m3 0h4m5 0h1m1 0h11m2 0h1m3 0h4m1 0h2m1 0h11m5 0h70m-264 1h1m18 0h4m43 0h1m19 0h1m24 0h1m2 0h4m6 0h8m1 0h1m3 0h1m4 0h5m4 0h12m1 0h1m3 0h1m1 0h3m1 0h5m1 0h6m1 0h2m2 0h1m1 0h1m1 0h22m1 0h46m-263 1h1m13 0h1m51 0h1m1 0h1m40 0h2m1 0h7m3 0h2m2 0h6m2 0h1m5 0h6m1 0h2m2 0h1m1 0h10m3 0h1m1 0h1m3 0h7m1 0h8m1 0h27m3 0h44m-258 1h1m4 0h1m1 0h1m1 0h2m1 0h2m45 0h1m44 0h8m8 0h2m1 0h2m1 0h3m5 0h7m4 0h4m1 0h10m3 0h1m2 0h1m1 0h14m1 0h23m1 0h4m1 0h46m-253 1h1m3 0h6m8 0h2m1 0h1m5 0h3m70 0h7m8 0h1m1 0h5m2 0h1m2 0h27m1 0h1m2 0h43m2 0h7m1 0h42m-256 1h1m2 0h2m1 0h1m1 0h1m2 0h1m9 0h1m1 0h2m5 0h2m1 0h1m22 0h1m22 0h2m22 0h3m2 0h1m8 0h1m1 0h8m1 0h9m2 0h17m3 0h21m1 0h21m2 0h52m-252 1h1m4 0h1m8 0h1m3 0h2m6 0h5m42 0h2m2 0h1m1 0h1m19 0h2m15 0h2m2 0h7m1 0h5m2 0h16m1 0h6m1 0h35m1 0h6m1 0h50m-265 1h1m14 0h1m15 0h3m6 0h1m1 0h1m23 0h1m16 0h1m2 0h2m1 0h2m13 0h1m7 0h2m10 0h1m1 0h3m1 0h2m2 0h12m2 0h10m1 0h8m1 0h1m2 0h4m2 0h3m1 0h34m2 0h48m-254 1h3m4 0h1m6 0h1m5 0h3m8 0h1m2 0h2m43 0h1m13 0h1m7 0h2m12 0h1m2 0h17m1 0h11m1 0h9m1 0h1m1 0h1m6 0h2m1 0h30m1 0h7m2 0h44m-253 1h2m2 0h1m15 0h1m7 0h1m2 0h1m1 0h1m48 0h5m4 0h2m8 0h1m1 0h2m10 0h5m2 0h6m1 0h17m1 0h13m1 0h2m1 0h1m1 0h39m2 0h46m-253 1h3m16 0h1m1 0h1m6 0h2m3 0h1m36 0h2m10 0h2m1 0h1m13 0h7m3 0h3m1 0h13m1 0h22m1 0h1m1 0h1m1 0h6m3 0h1m2 0h19m1 0h17m1 0h1m2 0h46m-255 1h5m17 0h1m1 0h1m10 0h2m33 0h1m1 0h2m9 0h1m1 0h2m2 0h1m13 0h2m9 0h1m1 0h8m1 0h10m1 0h15m3 0h9m2 0h22m1 0h3m1 0h5m1 0h3m1 0h4m2 0h47m-253 1h1m2 0h1m12 0h1m2 0h1m3 0h2m8 0h1m36 0h2m2 0h1m12 0h1m3 0h1m9 0h2m5 0h1m1 0h11m1 0h25m1 0h1m4 0h6m2 0h1m2 0h12m1 0h13m1 0h13m1 0h48m-266 1h2m1 0h1m6 0h1m5 0h1m7 0h3m2 0h4m16 0h1m36 0h1m1 0h1m1 0h1m6 0h1m2 0h1m1 0h2m1 0h2m4 0h1m3 0h2m4 0h1m1 0h2m1 0h6m5 0h7m4 0h13m1 0h6m1 0h1m4 0h3m2 0h87m-266 1h8m8 0h2m6 0h1m2 0h1m1 0h4m54 0h1m10 0h4m2 0h1m1 0h3m2 0h6m1 0h2m3 0h1m1 0h4m1 0h2m5 0h2m5 0h2m2 0h10m1 0h8m4 0h2m1 0h2m1 0h1m1 0h24m1 0h62m-266 1h5m1 0h3m19 0h6m10 0h1m5 0h2m19 0h1m16 0h1m1 0h2m5 0h5m3 0h2m1 0h1m1 0h7m1 0h2m3 0h5m6 0h2m1 0h1m6 0h1m2 0h12m1 0h3m1 0h3m7 0h4m1 0h2m1 0h29m1 0h15m1 0h38m-266 1h2m1 0h1m2 0h5m9 0h1m3 0h1m3 0h6m16 0h1m35 0h1m1 0h5m4 0h5m1 0h1m1 0h12m1 0h2m3 0h2m8 0h1m1 0h2m2 0h2m5 0h5m2 0h1m1 0h2m2 0h7m8 0h1m1 0h1m2 0h35m1 0h13m1 0h37m-266 1h1m4 0h1m1 0h2m1 0h2m7 0h1m66 0h3m2 0h1m4 0h6m3 0h13m1 0h1m2 0h2m1 0h1m7 0h4m2 0h4m2 0h3m1 0h1m1 0h1m1 0h3m3 0h7m9 0h1m3 0h2m1 0h29m3 0h4m1 0h47m-266 1h1m6 0h2m34 0h1m28 0h2m12 0h2m4 0h2m1 0h6m1 0h1m2 0h11m1 0h3m2 0h1m1 0h2m6 0h5m2 0h3m1 0h13m2 0h6m1 0h1m9 0h1m1 0h1m1 0h39m1 0h3m1 0h43m-266 1h1m4 0h4m1 0h1m7 0h2m17 0h2m33 0h2m12 0h2m4 0h1m1 0h1m1 0h7m1 0h1m1 0h11m1 0h1m1 0h4m2 0h1m3 0h7m3 0h18m1 0h9m7 0h1m2 0h45m3 0h11m1 0h28m-266 1h2m5 0h2m4 0h1m27 0h1m30 0h2m10 0h3m5 0h1m1 0h1m1 0h7m3 0h4m1 0h15m1 0h10m1 0h32m2 0h2m6 0h28m1 0h14m1 0h42m-259 1h2m2 0h1m23 0h2m3 0h1m1 0h1m1 0h1m27 0h2m9 0h1m2 0h2m2 0h4m3 0h12m3 0h22m1 0h1m1 0h3m1 0h29m1 0h1m9 0h85m-258 1h1m28 0h1m5 0h1m4 0h2m22 0h2m2 0h1m9 0h8m4 0h13m1 0h6m1 0h7m1 0h7m2 0h32m3 0h2m4 0h1m1 0h87m-256 1h2m26 0h2m8 0h1m23 0h3m11 0h8m5 0h36m1 0h33m1 0h2m1 0h1m2 0h2m1 0h87m-255 1h1m10 0h1m20 0h3m2 0h1m23 0h3m11 0h10m1 0h24m1 0h18m1 0h25m1 0h3m1 0h4m1 0h29m1 0h60m-255 1h1m8 0h1m1 0h2m1 0h1m12 0h1m5 0h1m27 0h2m1 0h1m10 0h93m2 0h85m-266 1h1m2 0h1m8 0h1m8 0h5m47 0h1m12 0h7m1 0h21m1 0h62m1 0h87m-264 1h1m19 0h1m1 0h1m13 0h1m41 0h2m4 0h8m2 0h77m1 0h3m2 0h87m-265 1h1m1 0h2m33 0h2m38 0h4m4 0h7m1 0h40m1 0h38m2 0h1m4 0h13m1 0h39m1 0h32m-264 1h1m19 0h1m14 0h3m3 0h1m34 0h2m6 0h1m1 0h16m1 0h26m1 0h4m1 0h5m1 0h29m8 0h1m1 0h84m-244 1h2m13 0h2m47 0h17m1 0h28m1 0h39m8 0h86m-244 1h1m1 0h1m12 0h3m39 0h1m6 0h21m1 0h25m1 0h40m3 0h89m-250 1h1m5 0h2m4 0h2m8 0h4m25 0h1m18 0h20m2 0h67m3 0h14m2 0h72m-247 1h3m6 0h4m6 0h4m1 0h1m22 0h2m15 0h2m1 0h31m1 0h13m4 0h2m1 0h39m1 0h3m1 0h12m1 0h71m-265 1h1m8 0h1m7 0h1m2 0h1m5 0h3m3 0h1m4 0h3m2 0h3m7 0h2m12 0h1m5 0h5m6 0h1m1 0h31m1 0h7m1 0h4m3 0h2m2 0h40m1 0h3m1 0h84m-256 1h1m4 0h3m1 0h1m6 0h2m1 0h1m1 0h1m2 0h1m4 0h2m1 0h5m10 0h2m7 0h1m7 0h4m7 0h29m1 0h3m2 0h10m1 0h1m3 0h42m1 0h1m3 0h84m-256 1h2m2 0h3m1 0h1m2 0h3m2 0h12m4 0h5m17 0h4m4 0h1m2 0h4m7 0h23m1 0h5m1 0h1m1 0h10m1 0h2m1 0h21m1 0h19m1 0h57m1 0h34m-251 1h3m3 0h1m1 0h1m1 0h19m1 0h2m10 0h2m5 0h2m1 0h3m16 0h1m1 0h22m1 0h8m1 0h1m1 0h51m2 0h91m-263 1h3m6 0h7m1 0h1m3 0h15m2 0h2m2 0h4m4 0h6m1 0h1m3 0h1m1 0h1m1 0h1m17 0h42m1 0h1m1 0h43m1 0h26m1 0h29m1 0h34m-257 1h1m5 0h4m2 0h1m3 0h2m2 0h8m1 0h5m2 0h11m1 0h4m3 0h2m2 0h5m13 0h14m2 0h13m2 0h2m1 0h9m1 0h5m2 0h36m2 0h33m1 0h21m1 0h2m1 0h32m-260 1h1m6 0h2m1 0h4m4 0h3m5 0h9m1 0h1m1 0h2m1 0h1m1 0h13m4 0h1m3 0h3m13 0h14m2 0h9m1 0h3m1 0h7m1 0h9m1 0h42m1 0h32m1 0h20m1 0h35m-261 1h1m9 0h1m2 0h1m2 0h1m1 0h3m5 0h7m3 0h2m2 0h12m1 0h4m3 0h3m1 0h2m1 0h1m13 0h14m1 0h11m4 0h1m2 0h3m1 0h6m1 0h1m1 0h1m1 0h132m-260 1h1m8 0h6m3 0h2m5 0h4m4 0h1m3 0h13m3 0h2m3 0h4m1 0h1m16 0h27m1 0h1m1 0h2m1 0h1m4 0h8m1 0h2m1 0h67m1 0h62m-252 1h6m2 0h5m3 0h1m1 0h1m1 0h2m1 0h1m2 0h3m1 0h5m3 0h1m3 0h1m1 0h10m1 0h1m3 0h1m12 0h16m1 0h10m1 0h16m1 0h28m2 0h40m1 0h64m-266 1h2m12 0h2m1 0h7m1 0h4m6 0h1m1 0h1m2 0h1m1 0h1m1 0h6m1 0h1m1 0h1m4 0h4m1 0h8m1 0h1m10 0h1m1 0h39m2 0h3m2 0h68m1 0h1m1 0h6m1 0h57m-265 1h2m12 0h2m1 0h4m3 0h1m2 0h2m1 0h6m3 0h1m2 0h9m1 0h1m1 0h10m1 0h1m1 0h4m12 0h8m1 0h31m1 0h34m1 0h16m2 0h24m1 0h63m-252 1h1m1 0h5m5 0h11m3 0h10m4 0h2m1 0h5m1 0h5m2 0h1m2 0h2m9 0h10m2 0h6m1 0h24m1 0h29m3 0h106m-263 1h1m4 0h1m2 0h1m3 0h5m6 0h6m1 0h4m1 0h7m1 0h14m1 0h5m1 0h1m6 0h2m10 0h4m1 0h1m4 0h2m1 0h7m2 0h16m1 0h3m2 0h27m2 0h107m-263 1h1m6 0h2m2 0h1m1 0h4m6 0h2m1 0h4m1 0h4m1 0h4m1 0h1m1 0h13m1 0h1m1 0h4m4 0h2m2 0h3m1 0h1m1 0h2m2 0h1m1 0h7m7 0h5m1 0h23m1 0h1m1 0h23m1 0h2m1 0h107m-257 1h3m1 0h2m3 0h2m3 0h2m4 0h4m3 0h6m1 0h1m1 0h1m3 0h3m3 0h1m1 0h1m1 0h8m2 0h3m2 0h3m3 0h10m1 0h1m8 0h166m-253 1h2m5 0h2m1 0h2m6 0h3m2 0h6m1 0h2m4 0h2m3 0h1m3 0h9m1 0h4m2 0h1m1 0h1m5 0h8m4 0h1m1 0h1m3 0h31m1 0h3m2 0h24m2 0h103m-262 1h1m9 0h3m5 0h3m6 0h1m3 0h3m1 0h7m3 0h3m6 0h8m1 0h8m6 0h7m4 0h1m1 0h3m2 0h1m1 0h1m1 0h29m2 0h1m1 0h130m-262 1h1m3 0h1m4 0h4m16 0h5m3 0h4m3 0h4m5 0h18m8 0h1m1 0h2m6 0h3m2 0h2m1 0h32m3 0h4m3 0h11m1 0h111m-264 1h1m10 0h4m2 0h1m1 0h1m3 0h2m5 0h6m3 0h1m1 0h3m1 0h1m1 0h2m2 0h2m2 0h6m2 0h9m2 0h1m6 0h4m5 0h3m5 0h33m4 0h2m2 0h125m-266 1h1m1 0h1m3 0h1m1 0h1m2 0h1m2 0h3m5 0h1m4 0h2m6 0h2m5 0h4m1 0h1m1 0h1m3 0h1m3 0h4m4 0h1m2 0h9m6 0h1m1 0h2m1 0h1m1 0h6m1 0h1m3 0h32m4 0h129m-266 1h1m3 0h2m5 0h4m12 0h3m6 0h1m4 0h5m1 0h1m1 0h3m2 0h1m1 0h4m3 0h4m1 0h4m4 0h1m7 0h4m1 0h1m1 0h11m1 0h10m2 0h12m1 0h1m3 0h1m4 0h5m1 0h123m-260 1h1m5 0h1m3 0h2m5 0h1m3 0h4m6 0h9m2 0h3m1 0h1m2 0h6m1 0h5m1 0h2m1 0h2m3 0h2m3 0h1m2 0h3m1 0h1m2 0h2m1 0h7m2 0h9m2 0h13m9 0h4m3 0h61m1 0h61m-260 1h1m4 0h1m1 0h1m2 0h1m8 0h1m1 0h4m4 0h1m1 0h2m1 0h2m1 0h2m5 0h3m1 0h1m2 0h4m2 0h4m1 0h1m2 0h1m7 0h2m2 0h1m2 0h4m1 0h5m1 0h5m1 0h8m3 0h10m1 0h1m3 0h1m1 0h1m4 0h7m1 0h61m1 0h60m-255 1h5m10 0h6m5 0h2m3 0h3m2 0h1m2 0h3m4 0h1m1 0h9m3 0h3m3 0h5m1 0h1m2 0h4m1 0h5m1 0h5m1 0h1m1 0h8m1 0h5m2 0h6m3 0h2m3 0h5m3 0h123m-265 1h2m3 0h1m5 0h1m2 0h1m8 0h1m2 0h3m1 0h5m1 0h2m1 0h2m8 0h1m1 0h2m1 0h1m1 0h8m1 0h2m3 0h2m2 0h8m2 0h5m1 0h21m1 0h6m2 0h5m1 0h7m2 0h5m3 0h6m1 0h12m1 0h5m1 0h96m-263 1h1m3 0h3m1 0h1m1 0h1m3 0h1m3 0h2m1 0h11m1 0h5m1 0h1m15 0h1m2 0h9m1 0h2m2 0h2m3 0h2m4 0h4m1 0h27m9 0h6m2 0h5m2 0h1m1 0h6m1 0h3m1 0h111m-262 1h1m1 0h3m4 0h1m7 0h7m1 0h5m3 0h3m1 0h1m12 0h1m1 0h3m1 0h8m1 0h1m1 0h2m1 0h2m5 0h2m3 0h4m2 0h25m9 0h2m2 0h3m2 0h6m5 0h17m1 0h102m-265 1h3m3 0h3m1 0h1m4 0h2m3 0h5m1 0h1m2 0h2m3 0h1m1 0h6m1 0h2m7 0h1m3 0h1m1 0h2m1 0h7m1 0h4m1 0h2m4 0h1m4 0h4m1 0h26m4 0h2m3 0h1m1 0h1m1 0h3m2 0h1m3 0h2m5 0h120m-265 1h2m4 0h2m6 0h2m1 0h10m1 0h4m4 0h10m5 0h2m2 0h2m1 0h15m7 0h3m2 0h29m3 0h1m1 0h1m4 0h9m6 0h2m3 0h69m1 0h51m-266 1h4m3 0h2m5 0h8m1 0h1m1 0h7m1 0h1m3 0h2m3 0h5m5 0h3m2 0h17m1 0h1m4 0h1m4 0h1m1 0h5m1 0h3m2 0h2m1 0h11m1 0h3m4 0h2m4 0h9m5 0h3m1 0h122m-266 1h4m1 0h4m5 0h7m1 0h1m3 0h2m1 0h4m3 0h4m2 0h6m2 0h1m1 0h5m1 0h3m1 0h10m3 0h3m1 0h2m5 0h30m2 0h3m4 0h11m4 0h126m-266 1h2m3 0h4m1 0h2m3 0h7m2 0h1m2 0h1m1 0h5m2 0h5m1 0h6m3 0h3m1 0h1m1 0h3m3 0h1m1 0h6m1 0h3m2 0h1m1 0h3m4 0h2m1 0h7m3 0h16m1 0h7m1 0h11m1 0h2m2 0h93m1 0h32m-262 1h9m4 0h4m1 0h8m1 0h4m1 0h5m5 0h1m2 0h3m1 0h4m1 0h1m4 0h2m2 0h1m7 0h1m4 0h2m1 0h1m1 0h1m4 0h3m1 0h2m1 0h23m1 0h8m1 0h6m1 0h1m1 0h6m2 0h57m1 0h61m-266 1h1m2 0h1m1 0h6m1 0h1m4 0h7m2 0h1m1 0h3m2 0h8m1 0h1m8 0h2m3 0h1m1 0h1m4 0h3m1 0h1m3 0h1m1 0h1m4 0h2m1 0h3m6 0h5m2 0h4m1 0h26m1 0h9m2 0h3m4 0h119m-266 1h5m3 0h1m1 0h3m6 0h1m1 0h3m1 0h1m2 0h2m3 0h9m3 0h3m4 0h1m6 0h8m1 0h2m3 0h3m6 0h2m5 0h3m3 0h7m1 0h4m1 0h19m1 0h8m5 0h1m1 0h2m1 0h51m1 0h68m-266 1h6m7 0h2m1 0h2m3 0h1m1 0h2m3 0h2m3 0h9m1 0h3m1 0h2m8 0h9m1 0h2m2 0h1m2 0h3m6 0h1m5 0h3m5 0h4m3 0h23m2 0h4m1 0h2m4 0h6m1 0h42m1 0h76m-266 1h5m4 0h3m2 0h3m4 0h1m1 0h2m3 0h1m2 0h10m1 0h3m2 0h3m3 0h1m3 0h1m1 0h2m1 0h5m4 0h1m1 0h2m5 0h2m7 0h4m5 0h1m2 0h17m1 0h7m2 0h4m11 0h1m1 0h20m2 0h34m1 0h8m1 0h13m1 0h41m-256 1h1m1 0h1m1 0h2m1 0h2m2 0h3m1 0h2m1 0h2m1 0h8m7 0h5m3 0h1m1 0h10m4 0h1m1 0h3m7 0h1m3 0h1m2 0h3m6 0h15m1 0h12m3 0h1m1 0h1m4 0h1m1 0h1m3 0h2m1 0h21m1 0h99m-259 1h5m1 0h1m2 0h2m1 0h1m1 0h1m1 0h8m1 0h1m3 0h2m1 0h2m5 0h5m2 0h7m2 0h1m6 0h4m1 0h1m1 0h1m3 0h2m5 0h3m1 0h2m6 0h13m2 0h5m1 0h6m10 0h1m5 0h2m1 0h12m1 0h5m1 0h102m-259 1h2m9 0h2m1 0h1m1 0h4m2 0h1m2 0h1m2 0h2m1 0h4m1 0h2m1 0h7m2 0h3m1 0h1m1 0h2m1 0h3m1 0h1m2 0h1m2 0h3m3 0h3m1 0h1m6 0h2m6 0h4m1 0h7m1 0h14m7 0h5m2 0h1m1 0h38m1 0h1m1 0h6m1 0h23m2 0h51m-259 1h2m3 0h1m5 0h1m4 0h1m1 0h2m4 0h1m4 0h18m3 0h2m2 0h2m2 0h4m3 0h1m1 0h2m3 0h6m2 0h1m2 0h3m6 0h3m1 0h21m3 0h1m5 0h5m2 0h48m1 0h24m1 0h1m2 0h49m-260 1h3m4 0h1m5 0h1m7 0h1m1 0h2m5 0h16m2 0h1m2 0h4m1 0h2m2 0h2m4 0h1m2 0h1m1 0h1m1 0h1m1 0h1m1 0h1m1 0h1m1 0h1m3 0h1m2 0h1m3 0h26m1 0h5m3 0h19m1 0h32m2 0h25m1 0h3m2 0h6m1 0h41m-262 1h2m2 0h1m4 0h1m4 0h1m10 0h2m6 0h17m1 0h1m1 0h3m1 0h2m1 0h1m1 0h2m12 0h7m4 0h2m6 0h3m1 0h4m4 0h20m1 0h1m1 0h19m1 0h12m1 0h14m1 0h2m1 0h15m1 0h12m5 0h6m2 0h40m-266 1h1m3 0h3m5 0h1m2 0h2m6 0h1m3 0h5m7 0h15m2 0h13m9 0h2m1 0h3m3 0h2m1 0h5m2 0h1m1 0h7m5 0h15m2 0h11m1 0h11m1 0h3m1 0h24m1 0h33m5 0h47m-263 1h3m3 0h4m1 0h3m11 0h5m4 0h9m2 0h5m4 0h13m5 0h1m2 0h4m5 0h7m1 0h2m1 0h8m4 0h1m2 0h18m3 0h21m3 0h12m2 0h6m1 0h1m2 0h33m3 0h48m-264 1h3m2 0h4m4 0h2m5 0h1m1 0h8m5 0h18m1 0h2m1 0h5m1 0h6m2 0h9m6 0h6m3 0h2m1 0h1m1 0h3m4 0h1m1 0h19m4 0h3m2 0h2m1 0h9m1 0h2m3 0h12m3 0h7m3 0h34m3 0h47m-265 1h2m2 0h4m12 0h13m2 0h17m1 0h3m2 0h6m1 0h2m7 0h6m8 0h5m1 0h1m2 0h2m6 0h1m1 0h2m4 0h12m1 0h4m2 0h2m1 0h1m1 0h1m1 0h27m3 0h1m1 0h6m1 0h2m1 0h2m1 0h81m-266 1h2m20 0h7m1 0h1m4 0h1m2 0h4m3 0h1m1 0h3m1 0h1m2 0h12m8 0h6m3 0h2m5 0h1m1 0h2m3 0h3m5 0h6m2 0h14m2 0h5m1 0h1m3 0h1m1 0h28m2 0h5m1 0h4m1 0h84m-245 1h7m5 0h1m1 0h1m4 0h1m5 0h4m6 0h10m9 0h4m4 0h3m3 0h8m1 0h2m5 0h2m5 0h8m3 0h3m3 0h6m6 0h35m2 0h88m-246 1h4m1 0h4m17 0h6m4 0h2m1 0h7m1 0h2m1 0h1m2 0h1m3 0h15m1 0h3m9 0h4m3 0h5m1 0h2m1 0h4m4 0h7m1 0h1m2 0h28m1 0h97m-247 1h8m1 0h1m2 0h2m1 0h1m11 0h6m2 0h12m1 0h1m1 0h1m1 0h1m7 0h8m1 0h4m2 0h2m2 0h1m4 0h7m1 0h10m2 0h2m4 0h6m2 0h1m2 0h84m1 0h41m-248 1h7m1 0h2m1 0h8m8 0h3m1 0h3m1 0h1m1 0h5m1 0h1m3 0h8m1 0h1m1 0h3m3 0h10m2 0h4m4 0h1m1 0h4m2 0h12m1 0h2m2 0h1m1 0h6m1 0h1m4 0h82m1 0h2m1 0h39m-246 1h6m1 0h1m1 0h11m4 0h10m2 0h3m3 0h1m2 0h6m1 0h2m1 0h5m4 0h6m1 0h4m2 0h2m4 0h1m1 0h19m2 0h1m1 0h5m3 0h2m1 0h1m2 0h85m2 0h37m-248 1h1m2 0h5m2 0h5m2 0h4m1 0h2m1 0h1m1 0h13m4 0h2m1 0h1m2 0h1m1 0h1m1 0h8m2 0h18m2 0h3m2 0h10m2 0h2m1 0h3m1 0h7m3 0h1m3 0h4m1 0h78m1 0h42m-251 1h2m5 0h4m5 0h1m1 0h12m1 0h8m2 0h1m1 0h1m2 0h1m1 0h2m3 0h1m4 0h1m2 0h4m6 0h15m5 0h1m1 0h10m5 0h11m1 0h3m1 0h2m2 0h48m1 0h74m-263 1h3m9 0h2m3 0h1m2 0h2m1 0h1m6 0h3m1 0h7m1 0h10m8 0h1m1 0h1m5 0h1m5 0h3m1 0h2m5 0h13m2 0h5m1 0h4m2 0h5m3 0h11m1 0h9m1 0h46m1 0h74m-263 1h6m5 0h2m7 0h5m1 0h2m3 0h3m4 0h12m1 0h1m2 0h1m2 0h1m1 0h1m1 0h1m11 0h1m1 0h6m4 0h15m3 0h1m2 0h4m3 0h4m3 0h38m1 0h104m-262 1h4m2 0h1m2 0h3m6 0h2m3 0h4m10 0h3m1 0h8m4 0h7m8 0h2m3 0h6m2 0h2m1 0h20m2 0h3m3 0h21m1 0h128m-264 1h1m1 0h4m1 0h1m3 0h2m5 0h1m1 0h2m3 0h4m9 0h3m1 0h8m5 0h7m7 0h3m1 0h8m1 0h1m1 0h23m1 0h3m1 0h22m1 0h2m1 0h23m3 0h23m1 0h2m1 0h25m2 0h46m-264 1h2m1 0h2m1 0h1m2 0h4m5 0h1m1 0h2m3 0h3m10 0h3m1 0h1m1 0h7m5 0h3m1 0h5m5 0h2m2 0h36m1 0h28m2 0h16m2 0h2m1 0h24m1 0h2m2 0h2m1 0h23m1 0h46m-265 1h12m1 0h1m5 0h3m3 0h5m15 0h2m10 0h3m3 0h4m5 0h1m1 0h35m1 0h1m1 0h1m2 0h28m1 0h2m2 0h9m5 0h24m2 0h3m2 0h72m-265 1h11m8 0h1m2 0h1m5 0h1m8 0h1m6 0h3m16 0h1m1 0h2m1 0h1m1 0h2m1 0h38m1 0h26m2 0h17m6 0h28m1 0h8m1 0h64m-266 1h1m1 0h2m5 0h3m8 0h1m23 0h1m1 0h1m12 0h1m7 0h1m2 0h15m1 0h27m1 0h1m1 0h22m1 0h1m2 0h16m5 0h37m1 0h19m1 0h45m-263 1h2m2 0h1m2 0h2m1 0h1m5 0h3m17 0h1m18 0h1m1 0h1m8 0h1m1 0h8m1 0h5m1 0h52m1 0h1m3 0h20m1 0h23m1 0h14m1 0h63m-266 1h1m1 0h2m13 0h3m1 0h2m15 0h2m3 0h1m15 0h1m2 0h3m6 0h5m3 0h6m1 0h24m1 0h1m1 0h1m1 0h22m1 0h2m1 0h1m2 0h1m1 0h13m2 0h19m1 0h20m2 0h63m-265 1h2m2 0h1m11 0h1m4 0h2m7 0h1m4 0h6m1 0h1m15 0h6m8 0h3m5 0h2m2 0h1m1 0h4m1 0h18m2 0h28m1 0h1m4 0h2m2 0h116m-266 1h2m2 0h1m6 0h1m9 0h5m3 0h2m1 0h1m10 0h2m13 0h1m1 0h1m1 0h1m10 0h3m5 0h2m2 0h4m4 0h3m1 0h2m1 0h9m5 0h1m1 0h24m1 0h3m4 0h1m2 0h27m1 0h87m-266 1h2m3 0h1m3 0h1m1 0h2m6 0h2m1 0h6m3 0h2m10 0h3m13 0h3m11 0h4m3 0h2m1 0h3m2 0h1m6 0h5m1 0h8m1 0h1m1 0h1m1 0h1m1 0h4m2 0h15m1 0h2m1 0h4m3 0h1m4 0h12m3 0h7m2 0h1m1 0h24m1 0h49m-252 1h3m1 0h1m4 0h1m13 0h2m1 0h2m1 0h3m5 0h1m2 0h1m2 0h2m1 0h1m12 0h2m10 0h2m3 0h1m5 0h4m1 0h1m1 0h2m2 0h2m1 0h4m4 0h4m2 0h1m1 0h8m1 0h15m1 0h8m1 0h2m2 0h3m1 0h6m1 0h2m1 0h1m1 0h6m1 0h1m4 0h74m-252 1h4m2 0h1m16 0h2m1 0h3m1 0h2m4 0h6m1 0h4m12 0h1m23 0h2m8 0h2m1 0h1m1 0h5m7 0h2m3 0h21m1 0h2m1 0h2m1 0h2m1 0h14m1 0h3m3 0h4m2 0h1m1 0h1m1 0h75m-252 1h3m2 0h1m8 0h2m8 0h1m2 0h1m2 0h3m3 0h9m1 0h2m9 0h2m23 0h1m1 0h1m2 0h1m7 0h1m3 0h5m1 0h1m8 0h3m1 0h3m1 0h13m1 0h29m5 0h3m1 0h2m2 0h74m-253 1h5m1 0h1m1 0h1m7 0h2m10 0h1m3 0h14m14 0h1m15 0h1m11 0h1m5 0h1m6 0h7m6 0h1m7 0h46m1 0h4m1 0h2m3 0h74m-253 1h1m1 0h2m3 0h2m2 0h2m3 0h1m11 0h2m2 0h2m3 0h1m1 0h6m3 0h3m2 0h3m32 0h2m13 0h5m5 0h1m1 0h2m5 0h17m1 0h3m2 0h21m2 0h3m1 0h1m1 0h2m1 0h76m-251 1h4m1 0h6m27 0h2m7 0h3m2 0h2m1 0h1m2 0h4m23 0h3m6 0h1m11 0h1m3 0h1m1 0h2m4 0h11m1 0h6m1 0h3m2 0h10m1 0h6m1 0h1m1 0h3m1 0h7m1 0h50m1 0h26m-251 1h2m1 0h4m19 0h1m1 0h2m4 0h1m3 0h3m1 0h1m4 0h2m3 0h6m1 0h4m3 0h1m3 0h1m16 0h2m5 0h2m14 0h2m1 0h10m1 0h12m1 0h2m3 0h30m3 0h50m2 0h24m-252 1h1m1 0h1m1 0h7m3 0h1m10 0h1m1 0h3m3 0h1m6 0h1m7 0h2m3 0h4m1 0h3m28 0h2m4 0h3m3 0h2m5 0h1m3 0h1m1 0h3m2 0h5m2 0h1m1 0h7m8 0h30m2 0h77m-248 1h1m1 0h2m1 0h5m10 0h1m2 0h1m1 0h1m8 0h3m5 0h1m1 0h2m3 0h3m1 0h5m28 0h2m4 0h3m3 0h7m2 0h2m4 0h3m1 0h1m1 0h1m2 0h2m1 0h8m7 0h27m5 0h76m-248 1h6m1 0h2m7 0h1m8 0h2m2 0h2m2 0h1m1 0h1m1 0h3m4 0h2m3 0h1m1 0h1m1 0h4m32 0h1m2 0h3m5 0h5m4 0h3m2 0h1m2 0h4m1 0h2m1 0h8m1 0h2m2 0h1m1 0h5m1 0h22m2 0h44m1 0h33m-250 1h1m3 0h2m3 0h4m1 0h2m1 0h3m7 0h3m1 0h1m1 0h1m6 0h4m3 0h1m7 0h3m12 0h1m24 0h2m11 0h3m1 0h2m3 0h1m1 0h7m1 0h5m2 0h2m1 0h3m1 0h29m1 0h79m-251 1h1m1 0h1m1 0h4m3 0h2m4 0h1m1 0h2m8 0h5m3 0h1m2 0h5m8 0h8m10 0h2m5 0h1m17 0h3m8 0h1m1 0h2m2 0h3m2 0h9m1 0h5m2 0h5m1 0h9m3 0h98m-253 1h1m1 0h1m2 0h2m2 0h1m3 0h5m12 0h4m2 0h5m1 0h7m1 0h1m4 0h8m10 0h2m23 0h3m4 0h3m3 0h2m2 0h2m1 0h6m1 0h4m2 0h3m1 0h12m1 0h3m4 0h98m-253 1h2m6 0h1m1 0h4m1 0h4m1 0h1m3 0h1m1 0h3m2 0h2m3 0h2m1 0h9m2 0h1m3 0h3m1 0h2m1 0h1m1 0h2m34 0h3m1 0h1m1 0h5m1 0h2m3 0h1m1 0h6m2 0h3m6 0h2m1 0h9m1 0h2m1 0h1m3 0h15m1 0h82m-246 1h1m1 0h5m2 0h3m1 0h2m2 0h1m1 0h5m1 0h2m2 0h2m2 0h10m1 0h6m1 0h4m1 0h3m2 0h1m31 0h1m1 0h2m1 0h5m1 0h2m1 0h1m1 0h8m2 0h2m6 0h1m2 0h1m1 0h3m1 0h5m2 0h1m2 0h25m1 0h74m-245 1h5m5 0h5m3 0h4m2 0h2m2 0h10m3 0h6m1 0h5m2 0h3m8 0h1m17 0h1m7 0h5m2 0h13m1 0h4m1 0h3m12 0h3m1 0h2m2 0h31m1 0h72m-246 1h1m1 0h3m7 0h2m1 0h1m1 0h1m1 0h5m2 0h14m2 0h7m2 0h3m2 0h2m3 0h1m25 0h1m6 0h4m4 0h1m1 0h2m1 0h6m1 0h2m15 0h2m1 0h4m1 0h2m3 0h102m-252 1h1m9 0h1m7 0h3m4 0h5m4 0h3m1 0h17m5 0h2m2 0h1m29 0h2m8 0h1m5 0h2m1 0h9m15 0h11m1 0h103m-252 1h1m5 0h2m11 0h3m2 0h9m6 0h6m1 0h6m6 0h2m2 0h1m35 0h1m5 0h1m9 0h4m1 0h3m14 0h11m2 0h103m-247 1h1m1 0h2m10 0h2m3 0h2m1 0h6m1 0h2m3 0h8m3 0h3m2 0h14m28 0h1m1 0h3m1 0h1m1 0h1m9 0h3m2 0h2m2 0h1m6 0h1m2 0h2m1 0h5m1 0h8m1 0h7m1 0h92m-247 1h2m1 0h2m3 0h2m2 0h5m3 0h10m4 0h9m4 0h1m2 0h1m1 0h2m2 0h8m25 0h1m6 0h2m12 0h2m3 0h2m4 0h1m4 0h4m1 0h1m1 0h4m2 0h2m1 0h3m2 0h5m1 0h94m-247 1h2m1 0h1m4 0h3m1 0h4m4 0h1m1 0h8m4 0h10m3 0h1m1 0h1m2 0h2m1 0h9m2 0h1m3 0h2m1 0h1m2 0h1m6 0h3m3 0h8m8 0h1m5 0h1m1 0h4m8 0h5m2 0h1m1 0h1m2 0h9m2 0h1m1 0h3m1 0h93m-248 1h3m3 0h2m2 0h8m4 0h9m2 0h1m1 0h3m1 0h1m1 0h1m5 0h1m1 0h2m1 0h10m1 0h1m2 0h2m6 0h1m2 0h1m5 0h1m5 0h1m2 0h7m4 0h1m1 0h1m7 0h5m2 0h2m6 0h4m1 0h4m2 0h7m2 0h100m-250 1h5m4 0h1m3 0h2m1 0h4m5 0h11m1 0h2m1 0h1m10 0h13m2 0h3m11 0h1m2 0h1m4 0h1m1 0h5m2 0h3m8 0h1m7 0h4m2 0h1m1 0h2m5 0h5m3 0h3m1 0h2m1 0h1m3 0h4m1 0h95m-249 1h1m1 0h1m13 0h3m4 0h2m1 0h5m1 0h8m14 0h3m4 0h3m2 0h2m2 0h1m9 0h3m1 0h2m4 0h4m7 0h1m12 0h4m1 0h2m10 0h2m1 0h2m3 0h3m1 0h2m3 0h101m-250 1h1m1 0h1m17 0h3m2 0h5m1 0h1m1 0h7m2 0h1m6 0h2m5 0h1m3 0h2m2 0h1m1 0h2m2 0h4m7 0h1m1 0h1m2 0h3m2 0h3m1 0h1m5 0h1m1 0h1m1 0h2m9 0h2m2 0h3m7 0h1m2 0h5m3 0h2m1 0h2m3 0h2m3 0h96m-240 1h1m1 0h1m10 0h7m2 0h10m5 0h3m12 0h1m1 0h13m1 0h2m1 0h1m1 0h1m3 0h1m3 0h2m1 0h1m1 0h1m4 0h6m9 0h2m2 0h3m11 0h1m1 0h2m3 0h6m1 0h5m1 0h2m1 0h56m1 0h36m-249 1h1m11 0h1m9 0h3m1 0h3m1 0h6m2 0h1m6 0h5m5 0h2m3 0h2m1 0h3m3 0h2m1 0h4m1 0h4m2 0h1m7 0h1m9 0h3m1 0h1m7 0h3m4 0h2m12 0h3m4 0h13m2 0h57m1 0h35m-239 1h1m2 0h1m9 0h1m2 0h10m1 0h2m1 0h1m1 0h1m1 0h1m10 0h1m1 0h5m1 0h3m1 0h8m3 0h3m2 0h1m7 0h4m6 0h4m4 0h1m3 0h1m1 0h1m5 0h1m3 0h1m8 0h3m2 0h1m2 0h2m2 0h5m1 0h3m1 0h93m-253 1h4m11 0h1m1 0h1m13 0h1m1 0h7m3 0h4m1 0h1m7 0h5m1 0h1m1 0h2m2 0h10m1 0h1m15 0h2m1 0h3m3 0h1m1 0h2m9 0h1m1 0h1m4 0h3m1 0h1m1 0h2m1 0h1m3 0h2m1 0h2m5 0h4m2 0h1m1 0h98m-253 1h3m12 0h3m14 0h9m2 0h3m1 0h2m6 0h1m1 0h4m2 0h3m1 0h5m6 0h1m16 0h2m2 0h4m6 0h1m1 0h1m6 0h2m1 0h1m2 0h7m1 0h7m1 0h2m6 0h2m4 0h1m1 0h31m1 0h65m-252 1h1m1 0h2m1 0h1m8 0h4m10 0h6m1 0h1m2 0h2m2 0h1m1 0h1m9 0h6m1 0h1m1 0h2m2 0h3m2 0h1m4 0h3m1 0h1m12 0h2m4 0h4m4 0h2m1 0h1m6 0h1m1 0h1m2 0h2m2 0h2m1 0h1m2 0h3m3 0h2m8 0h1m6 0h7m1 0h20m1 0h1m1 0h1m1 0h63m-250 1h3m1 0h1m7 0h3m1 0h1m9 0h3m1 0h2m4 0h1m16 0h3m2 0h3m1 0h1m1 0h4m5 0h6m14 0h2m5 0h2m5 0h3m8 0h1m2 0h2m1 0h4m4 0h3m2 0h2m1 0h2m11 0h9m1 0h21m2 0h64m-250 1h4m6 0h5m1 0h1m9 0h2m1 0h1m1 0h1m5 0h1m4 0h1m2 0h1m8 0h3m1 0h3m2 0h2m1 0h1m5 0h3m1 0h2m15 0h2m6 0h4m1 0h1m1 0h2m2 0h1m5 0h3m3 0h1m1 0h5m2 0h8m2 0h1m10 0h1m1 0h3m1 0h90m-249 1h3m5 0h3m4 0h1m9 0h2m2 0h2m5 0h1m1 0h1m4 0h2m8 0h1m1 0h1m1 0h3m4 0h1m9 0h3m15 0h2m4 0h4m3 0h5m10 0h6m1 0h3m5 0h1m1 0h7m10 0h5m1 0h89m-250 1h3m6 0h1m2 0h1m12 0h6m5 0h3m3 0h5m8 0h8m1 0h5m1 0h2m4 0h2m21 0h6m3 0h2m2 0h1m9 0h6m1 0h3m6 0h5m12 0h1m2 0h92m-251 1h3m19 0h4m1 0h5m1 0h3m1 0h7m1 0h3m6 0h7m1 0h2m1 0h8m4 0h1m21 0h5m5 0h2m1 0h1m1 0h1m1 0h1m5 0h13m5 0h6m10 0h5m2 0h14m1 0h73m-252 1h1m1 0h2m21 0h2m1 0h7m1 0h9m1 0h2m8 0h7m1 0h1m2 0h3m1 0h3m3 0h2m20 0h6m9 0h4m2 0h3m1 0h8m3 0h1m5 0h7m1 0h2m2 0h1m4 0h2m1 0h1m2 0h88m-234 1h3m3 0h9m3 0h3m1 0h7m2 0h1m3 0h11m1 0h8m4 0h2m5 0h1m13 0h3m1 0h1m1 0h1m11 0h1m4 0h1m1 0h5m1 0h1m3 0h1m4 0h1m6 0h4m1 0h1m6 0h1m1 0h3m2 0h88m-239 1h1m5 0h1m1 0h5m1 0h5m5 0h1m1 0h1m1 0h7m6 0h11m3 0h1m2 0h6m1 0h1m5 0h2m11 0h3m3 0h1m1 0h1m8 0h1m1 0h3m1 0h1m4 0h3m1 0h2m4 0h1m11 0h2m8 0h1m1 0h5m1 0h42m1 0h44m-232 1h1m1 0h3m4 0h2m1 0h1m4 0h1m1 0h8m7 0h2m7 0h3m5 0h7m6 0h1m1 0h1m8 0h4m6 0h1m7 0h2m2 0h2m2 0h1m2 0h7m1 0h2m22 0h7m1 0h24m2 0h62m-230 1h4m4 0h9m1 0h8m4 0h1m11 0h1m1 0h1m3 0h1m1 0h7m16 0h3m18 0h1m4 0h1m1 0h2m1 0h5m2 0h1m22 0h7m1 0h23m1 0h64m-229 1h2m6 0h16m23 0h7m1 0h1m15 0h1m30 0h2m1 0h5m25 0h34m2 0h58m-228 1h1m3 0h2m2 0h17m3 0h1m3 0h1m13 0h1m1 0h5m17 0h1m31 0h6m24 0h35m3 0h58m-233 1h1m8 0h2m3 0h14m7 0h4m1 0h1m12 0h3m3 0h1m9 0h1m5 0h2m8 0h1m1 0h1m6 0h1m12 0h3m26 0h1m1 0h32m1 0h1m1 0h1m1 0h29m1 0h28m-233 1h1m1 0h1m1 0h2m3 0h2m5 0h13m2 0h1m2 0h1m2 0h3m1 0h2m1 0h2m2 0h1m4 0h5m1 0h2m8 0h1m5 0h2m8 0h1m9 0h2m8 0h1m2 0h3m12 0h2m12 0h31m1 0h1m1 0h33m2 0h27m-249 1h1m15 0h1m2 0h5m1 0h3m2 0h12m1 0h5m1 0h7m1 0h4m2 0h1m1 0h7m1 0h5m6 0h1m7 0h1m8 0h2m1 0h1m6 0h4m1 0h1m3 0h1m2 0h1m1 0h3m2 0h4m5 0h2m3 0h1m2 0h1m1 0h2m1 0h27m1 0h69m-234 1h1m2 0h5m3 0h3m2 0h4m1 0h7m1 0h1m1 0h4m1 0h10m2 0h8m1 0h1m2 0h4m5 0h1m2 0h1m4 0h1m18 0h5m4 0h3m2 0h3m1 0h7m8 0h2m2 0h3m1 0h9m2 0h16m1 0h1m1 0h34m1 0h32m-234 1h7m5 0h14m1 0h1m2 0h2m7 0h2m2 0h2m2 0h1m2 0h8m1 0h7m6 0h1m1 0h1m2 0h2m4 0h1m2 0h1m9 0h3m2 0h1m2 0h1m1 0h2m1 0h4m4 0h3m14 0h2m1 0h10m2 0h1m5 0h11m1 0h33m1 0h33m-245 1h2m1 0h1m3 0h1m1 0h9m5 0h4m1 0h2m1 0h5m5 0h3m10 0h1m2 0h11m1 0h1m2 0h4m1 0h1m5 0h2m4 0h1m4 0h3m11 0h2m2 0h3m2 0h1m1 0h1m2 0h1m3 0h3m5 0h1m10 0h2m1 0h8m4 0h1m1 0h1m3 0h14m1 0h2m2 0h60m-249 1h1m1 0h1m1 0h2m5 0h1m2 0h1m3 0h5m5 0h11m1 0h2m3 0h3m1 0h1m1 0h1m12 0h17m1 0h2m5 0h1m1 0h1m1 0h1m5 0h3m10 0h2m3 0h3m1 0h2m1 0h1m6 0h3m15 0h2m1 0h32m1 0h2m2 0h1m1 0h58m-249 1h4m7 0h1m1 0h3m1 0h1m1 0h6m3 0h4m1 0h4m2 0h1m1 0h8m1 0h1m2 0h1m9 0h1m5 0h6m1 0h4m3 0h1m6 0h1m1 0h1m7 0h3m1 0h1m9 0h1m4 0h2m22 0h1m9 0h31m1 0h6m1 0h57m-252 1h6m9 0h1m1 0h3m1 0h5m5 0h2m2 0h1m2 0h2m2 0h1m1 0h7m21 0h2m6 0h2m2 0h1m9 0h1m1 0h1m4 0h2m1 0h1m2 0h1m2 0h1m4 0h5m7 0h4m1 0h1m1 0h2m7 0h6m1 0h1m4 0h32m1 0h5m1 0h58m-253 1h4m12 0h1m1 0h3m2 0h1m11 0h2m2 0h1m1 0h1m1 0h5m26 0h1m10 0h2m9 0h3m5 0h1m3 0h1m3 0h1m1 0h2m1 0h4m2 0h1m3 0h3m1 0h1m1 0h5m6 0h4m8 0h1m1 0h29m3 0h63m-253 1h4m7 0h6m1 0h7m3 0h1m11 0h1m1 0h7m31 0h2m1 0h3m10 0h5m2 0h2m4 0h5m1 0h2m1 0h4m1 0h1m1 0h13m6 0h2m1 0h2m2 0h1m6 0h28m1 0h66m-242 1h5m1 0h3m1 0h3m2 0h2m1 0h1m11 0h2m1 0h2m2 0h2m21 0h1m7 0h1m2 0h1m1 0h3m8 0h5m5 0h9m1 0h1m1 0h7m2 0h12m7 0h2m1 0h4m4 0h1m1 0h95m-241 1h5m1 0h1m3 0h1m3 0h5m15 0h5m27 0h2m2 0h3m11 0h2m9 0h2m1 0h4m1 0h9m3 0h10m8 0h1m1 0h5m4 0h97m-239 1h3m1 0h1m1 0h2m2 0h1m1 0h1m3 0h1m6 0h1m2 0h1m4 0h2m1 0h4m26 0h1m1 0h2m1 0h3m2 0h1m10 0h1m4 0h1m2 0h1m1 0h15m4 0h6m1 0h1m3 0h1m5 0h3m2 0h1m5 0h97m-240 1h2m2 0h3m6 0h2m6 0h1m1 0h3m1 0h1m1 0h2m1 0h3m32 0h2m19 0h2m5 0h15m5 0h8m13 0h1m4 0h99m-240 1h1m3 0h1m2 0h1m5 0h1m7 0h1m1 0h4m1 0h7m33 0h2m19 0h2m5 0h12m1 0h1m7 0h1m1 0h5m4 0h8m5 0h2m1 0h96m-240 1h2m15 0h1m3 0h4m2 0h8m32 0h1m2 0h1m5 0h1m13 0h2m3 0h14m8 0h6m6 0h6m6 0h1m1 0h1m1 0h95m-249 1h1m8 0h1m1 0h2m4 0h1m10 0h1m1 0h2m1 0h7m2 0h1m1 0h1m25 0h1m1 0h2m1 0h2m23 0h2m2 0h1m1 0h5m1 0h1m1 0h4m8 0h6m8 0h1m8 0h1m3 0h2m1 0h93m-250 1h2m1 0h3m5 0h4m2 0h1m5 0h2m4 0h1m3 0h3m1 0h4m6 0h1m29 0h5m13 0h1m1 0h2m8 0h1m1 0h10m7 0h5m11 0h1m5 0h1m5 0h96m-249 1h4m1 0h1m3 0h7m1 0h1m4 0h2m5 0h1m1 0h9m2 0h1m6 0h2m25 0h5m11 0h1m2 0h1m2 0h1m2 0h1m2 0h11m1 0h6m2 0h5m14 0h1m2 0h1m6 0h58m1 0h3m1 0h33m-249 1h13m6 0h1m3 0h1m7 0h8m2 0h1m1 0h2m1 0h1m3 0h3m23 0h5m14 0h1m1 0h3m1 0h1m2 0h8m2 0h8m2 0h6m10 0h1m1 0h3m1 0h1m5 0h64m1 0h32m-248 1h8m1 0h2m11 0h2m5 0h4m1 0h4m2 0h4m5 0h3m22 0h1m1 0h2m3 0h2m1 0h1m13 0h2m5 0h4m3 0h19m7 0h2m1 0h3m7 0h97m-245 1h5m12 0h1m1 0h3m2 0h2m1 0h3m1 0h4m1 0h1m2 0h2m4 0h1m16 0h1m8 0h3m1 0h1m2 0h3m8 0h2m4 0h1m6 0h1m1 0h2m5 0h11m5 0h1m5 0h4m2 0h3m5 0h98m-248 1h2m2 0h1m1 0h1m2 0h1m1 0h2m8 0h6m2 0h4m1 0h2m2 0h2m5 0h1m3 0h1m25 0h1m4 0h1m1 0h3m7 0h3m12 0h2m4 0h1m2 0h2m1 0h5m12 0h1m1 0h1m4 0h2m6 0h97m-239 1h2m10 0h5m4 0h7m1 0h1m4 0h1m1 0h1m1 0h1m3 0h1m19 0h1m2 0h2m6 0h1m9 0h1m5 0h1m7 0h4m4 0h2m1 0h2m1 0h3m20 0h3m3 0h1m1 0h97m-239 1h2m1 0h2m6 0h6m1 0h1m1 0h4m2 0h3m5 0h1m7 0h1m18 0h1m21 0h1m7 0h1m6 0h2m5 0h2m3 0h1m1 0h3m20 0h1m2 0h1m1 0h1m2 0h96m-249 1h3m6 0h2m1 0h3m5 0h1m1 0h3m5 0h1m7 0h7m27 0h2m18 0h1m3 0h2m12 0h1m3 0h4m5 0h2m4 0h3m22 0h10m2 0h83m-253 1h1m4 0h1m1 0h6m1 0h4m11 0h7m5 0h8m21 0h1m23 0h2m3 0h2m13 0h1m4 0h3m1 0h1m3 0h2m5 0h2m23 0h94m-251 1h2m1 0h2m5 0h3m1 0h3m8 0h8m1 0h1m4 0h5m1 0h1m13 0h2m7 0h1m3 0h1m4 0h2m3 0h1m9 0h1m3 0h3m14 0h3m1 0h3m1 0h1m2 0h2m5 0h2m9 0h1m6 0h1m7 0h94m-250 1h5m3 0h6m1 0h2m4 0h1m1 0h10m6 0h2m19 0h1m7 0h1m3 0h1m3 0h1m18 0h2m18 0h4m2 0h4m5 0h1m9 0h2m4 0h5m7 0h92m-253 1h1m1 0h4m4 0h11m1 0h1m3 0h2m1 0h4m1 0h1m3 0h2m2 0h2m16 0h2m11 0h2m8 0h2m12 0h2m18 0h4m2 0h4m3 0h4m1 0h1m7 0h2m5 0h5m5 0h1m1 0h5m1 0h11m1 0h41m1 0h31m-252 1h2m1 0h4m1 0h1m1 0h3m1 0h11m1 0h2m1 0h2m6 0h3m2 0h1m20 0h1m8 0h5m5 0h1m12 0h2m17 0h6m3 0h3m4 0h6m6 0h3m3 0h1m1 0h1m2 0h4m1 0h4m1 0h1m2 0h13m1 0h72m-251 1h1m1 0h3m1 0h1m1 0h2m2 0h1m1 0h7m1 0h4m2 0h1m6 0h4m31 0h2m3 0h1m9 0h1m27 0h6m3 0h2m5 0h6m6 0h3m7 0h10m5 0h85m-252 1h1m2 0h1m2 0h5m2 0h7m2 0h5m4 0h2m2 0h3m1 0h1m23 0h2m1 0h1m5 0h1m2 0h1m1 0h1m40 0h2m2 0h1m1 0h1m5 0h4m1 0h2m1 0h1m4 0h2m11 0h6m4 0h12m1 0h40m1 0h32m-252 1h2m3 0h1m1 0h4m2 0h8m1 0h3m6 0h1m1 0h1m4 0h2m22 0h1m1 0h1m2 0h1m6 0h4m15 0h2m23 0h1m2 0h1m7 0h4m2 0h1m1 0h1m5 0h2m7 0h2m1 0h4m1 0h1m5 0h12m2 0h72m-253 1h1m6 0h6m1 0h4m1 0h4m1 0h3m5 0h1m6 0h2m21 0h2m12 0h1m1 0h1m4 0h1m6 0h1m3 0h2m10 0h1m9 0h1m1 0h2m2 0h1m1 0h1m5 0h2m2 0h1m2 0h2m3 0h1m1 0h1m4 0h1m2 0h3m1 0h3m2 0h2m1 0h89m-246 1h6m1 0h1m1 0h2m1 0h8m29 0h1m6 0h1m20 0h3m7 0h2m10 0h1m10 0h1m4 0h2m4 0h2m5 0h1m1 0h1m1 0h1m2 0h1m7 0h4m7 0h92m-247 1h7m1 0h1m1 0h2m2 0h6m41 0h1m5 0h1m3 0h1m7 0h2m8 0h1m7 0h1m1 0h2m4 0h1m10 0h2m4 0h1m2 0h1m4 0h1m4 0h1m8 0h2m7 0h21m1 0h57m1 0h14m-248 1h7m2 0h1m2 0h1m1 0h1m1 0h1m1 0h2m11 0h1m38 0h1m10 0h1m8 0h1m5 0h2m1 0h2m2 0h1m1 0h1m10 0h1m5 0h2m2 0h1m1 0h1m25 0h20m1 0h73m-248 1h5m3 0h2m4 0h3m5 0h2m3 0h1m2 0h1m1 0h1m9 0h1m4 0h1m10 0h1m22 0h2m6 0h2m4 0h2m3 0h1m2 0h1m1 0h1m2 0h1m2 0h1m1 0h2m1 0h1m2 0h1m1 0h1m7 0h1m6 0h1m1 0h3m7 0h3m2 0h20m1 0h74m-245 1h3m1 0h4m2 0h2m1 0h1m3 0h2m1 0h2m4 0h2m8 0h2m1 0h1m4 0h2m2 0h1m1 0h4m2 0h1m8 0h1m13 0h1m3 0h1m2 0h2m4 0h1m2 0h1m1 0h1m7 0h2m1 0h4m6 0h2m13 0h1m2 0h4m5 0h1m4 0h5m1 0h13m1 0h1m1 0h54m1 0h18m-252 1h1m6 0h7m2 0h2m2 0h3m1 0h6m3 0h3m1 0h1m6 0h5m3 0h2m2 0h6m1 0h1m5 0h1m2 0h3m18 0h1m5 0h2m13 0h5m25 0h3m5 0h4m1 0h1m1 0h20m1 0h72m-253 1h2m5 0h8m7 0h3m1 0h5m4 0h1m2 0h1m9 0h2m4 0h2m1 0h1m2 0h1m2 0h2m5 0h1m3 0h2m24 0h1m1 0h1m1 0h1m13 0h2m1 0h2m3 0h1m25 0h1m1 0h1m4 0h34m3 0h38m1 0h18m-253 1h1m2 0h1m4 0h6m3 0h2m2 0h6m3 0h3m2 0h3m11 0h2m3 0h2m1 0h1m1 0h2m13 0h3m23 0h1m2 0h1m11 0h1m1 0h2m3 0h2m2 0h1m25 0h2m1 0h1m3 0h9m1 0h18m2 0h4m3 0h57m-253 1h2m7 0h5m3 0h7m4 0h1m2 0h1m1 0h8m9 0h1m4 0h3m35 0h1m1 0h1m6 0h2m12 0h2m4 0h1m1 0h2m1 0h2m4 0h1m1 0h1m15 0h5m3 0h9m1 0h4m2 0h7m1 0h3m2 0h6m2 0h57m-252 1h1m2 0h2m4 0h4m4 0h4m1 0h2m13 0h3m14 0h2m4 0h2m39 0h3m4 0h1m9 0h2m1 0h1m1 0h4m6 0h4m13 0h3m1 0h17m2 0h7m3 0h1m1 0h7m1 0h59m-250 1h2m1 0h5m6 0h4m2 0h2m2 0h1m28 0h1m5 0h1m39 0h3m5 0h2m11 0h1m1 0h1m1 0h1m3 0h1m2 0h4m1 0h4m1 0h1m5 0h2m1 0h5m1 0h14m1 0h9m1 0h4m1 0h64m-248 1h2m1 0h3m6 0h1m1 0h1m2 0h4m15 0h1m39 0h1m21 0h2m16 0h2m5 0h1m1 0h5m2 0h4m2 0h1m14 0h35m1 0h59m-253 1h2m4 0h6m6 0h2m3 0h4m12 0h1m6 0h1m39 0h2m10 0h4m2 0h2m5 0h1m10 0h1m3 0h1m3 0h5m2 0h9m10 0h1m1 0h3m1 0h91m-244 1h3m5 0h3m4 0h4m10 0h3m1 0h1m3 0h2m33 0h1m19 0h2m2 0h1m14 0h2m8 0h6m1 0h5m1 0h3m9 0h2m1 0h4m1 0h10m1 0h56m1 0h22m-247 1h1m2 0h3m3 0h1m1 0h4m1 0h1m2 0h4m1 0h1m2 0h1m3 0h4m4 0h5m31 0h1m14 0h1m3 0h2m14 0h1m1 0h1m1 0h1m5 0h1m4 0h5m1 0h9m9 0h20m2 0h53m1 0h22m-251 1h1m4 0h1m1 0h3m3 0h1m10 0h2m1 0h1m1 0h1m1 0h3m3 0h3m4 0h1m1 0h1m1 0h1m30 0h1m10 0h1m7 0h2m1 0h1m15 0h3m3 0h2m3 0h14m6 0h1m5 0h2m1 0h15m1 0h1m2 0h7m1 0h1m1 0h65m-253 1h4m1 0h6m14 0h5m1 0h5m3 0h2m2 0h1m4 0h3m7 0h1m15 0h1m1 0h1m4 0h1m30 0h2m1 0h3m1 0h8m2 0h5m1 0h2m1 0h1m2 0h3m7 0h1m4 0h17m1 0h2m4 0h5m1 0h7m1 0h59m-253 1h12m1 0h1m1 0h1m2 0h1m1 0h1m1 0h1m1 0h3m1 0h2m2 0h5m3 0h4m3 0h7m3 0h1m15 0h1m15 0h1m9 0h3m9 0h10m1 0h1m1 0h8m1 0h2m5 0h4m4 0h1m9 0h18m3 0h1m1 0h2m4 0h6m1 0h4m1 0h7m1 0h46m-253 1h5m1 0h6m2 0h5m1 0h1m3 0h3m5 0h3m1 0h1m2 0h5m1 0h1m6 0h5m1 0h1m2 0h2m12 0h2m11 0h1m7 0h1m2 0h3m3 0h1m6 0h11m4 0h8m4 0h1m1 0h4m12 0h17m1 0h2m3 0h3m4 0h15m1 0h50m-253 1h5m1 0h6m3 0h4m1 0h2m1 0h2m1 0h1m2 0h1m1 0h2m1 0h2m1 0h1m1 0h1m3 0h2m1 0h3m1 0h7m5 0h6m6 0h1m20 0h1m9 0h2m1 0h1m3 0h1m1 0h4m1 0h5m3 0h2m3 0h3m3 0h1m2 0h4m11 0h10m1 0h10m1 0h6m2 0h1m1 0h9m1 0h1m3 0h6m3 0h42m-253 1h12m1 0h1m1 0h11m3 0h4m1 0h1m3 0h2m2 0h3m2 0h10m3 0h1m2 0h5m1 0h1m3 0h1m22 0h2m1 0h1m4 0h1m1 0h2m6 0h3m2 0h3m5 0h1m2 0h1m1 0h3m6 0h4m11 0h23m1 0h4m1 0h2m2 0h5m1 0h3m3 0h4m1 0h1m3 0h6m1 0h36m-253 1h1m1 0h11m1 0h13m3 0h3m3 0h6m1 0h12m8 0h1m1 0h1m1 0h1m28 0h3m7 0h2m6 0h3m2 0h3m9 0h1m10 0h4m11 0h23m1 0h3m1 0h3m1 0h6m2 0h1m1 0h1m1 0h2m3 0h2m1 0h44m-253 1h11m2 0h13m4 0h2m5 0h1m7 0h10m7 0h2m1 0h6m1 0h1m11 0h1m6 0h1m4 0h1m1 0h2m1 0h1m1 0h1m3 0h3m1 0h4m4 0h2m1 0h1m7 0h1m2 0h1m3 0h1m4 0h1m13 0h24m3 0h2m2 0h2m2 0h5m1 0h56m-252 1h7m1 0h19m3 0h1m6 0h1m6 0h4m1 0h6m8 0h7m12 0h1m5 0h3m4 0h1m1 0h2m7 0h10m2 0h2m7 0h3m4 0h2m2 0h1m1 0h1m1 0h1m1 0h2m2 0h2m6 0h1m1 0h22m2 0h3m1 0h6m1 0h1m2 0h6m2 0h48m-252 1h12m1 0h8m1 0h10m2 0h4m1 0h2m3 0h8m2 0h2m4 0h1m3 0h5m18 0h3m4 0h5m6 0h12m5 0h1m7 0h1m1 0h4m1 0h1m4 0h8m7 0h25m2 0h9m2 0h57m-253 1h2m1 0h11m2 0h1m2 0h3m1 0h6m1 0h8m3 0h1m3 0h1m1 0h8m1 0h5m4 0h1m1 0h5m12 0h3m2 0h2m2 0h6m3 0h1m5 0h3m4 0h1m1 0h2m5 0h1m4 0h3m3 0h7m1 0h6m9 0h18m1 0h6m1 0h1m2 0h7m2 0h8m1 0h48m-253 1h1m1 0h5m2 0h4m1 0h1m1 0h1m2 0h2m5 0h3m2 0h5m3 0h2m5 0h10m2 0h3m2 0h1m1 0h5m15 0h4m1 0h1m2 0h5m10 0h3m1 0h1m2 0h1m7 0h1m1 0h2m2 0h4m1 0h7m2 0h5m6 0h1m1 0h3m1 0h21m1 0h2m3 0h8m1 0h57m-253 1h9m1 0h1m1 0h5m13 0h6m1 0h2m6 0h1m2 0h8m2 0h3m3 0h5m17 0h5m1 0h6m12 0h2m3 0h1m10 0h1m1 0h1m1 0h16m13 0h7m1 0h1m3 0h13m1 0h4m2 0h62m-252 1h5m1 0h9m14 0h5m3 0h3m3 0h5m3 0h3m4 0h2m1 0h8m2 0h1m5 0h1m1 0h2m6 0h8m29 0h4m2 0h14m12 0h10m4 0h82m-252 1h1m1 0h2m3 0h1m1 0h4m13 0h1m5 0h1m3 0h4m2 0h3m1 0h1m2 0h2m1 0h1m2 0h1m1 0h2m1 0h8m1 0h1m3 0h1m5 0h2m7 0h1m2 0h2m4 0h2m16 0h1m8 0h3m2 0h11m1 0h2m4 0h2m6 0h12m5 0h80m-251 1h1m1 0h2m2 0h7m13 0h1m5 0h1m2 0h2m1 0h1m3 0h1m3 0h1m1 0h1m6 0h4m1 0h8m2 0h1m3 0h2m2 0h1m11 0h2m4 0h1m17 0h1m8 0h2m7 0h3m1 0h4m5 0h3m2 0h1m3 0h1m1 0h4m1 0h6m3 0h1m2 0h78m-247 1h1m1 0h4m2 0h1m12 0h4m6 0h1m1 0h1m1 0h4m4 0h1m2 0h1m2 0h15m1 0h3m2 0h5m5 0h1m2 0h1m2 0h2m2 0h3m27 0h3m3 0h6m1 0h2m2 0h1m2 0h4m2 0h1m3 0h4m1 0h10m1 0h1m2 0h78m-248 1h1m1 0h5m2 0h2m9 0h5m1 0h1m6 0h1m4 0h1m8 0h2m2 0h2m1 0h10m1 0h4m2 0h1m8 0h1m1 0h1m4 0h2m3 0h1m29 0h4m1 0h2m1 0h4m1 0h2m3 0h4m5 0h1m1 0h9m1 0h87m-249 1h8m3 0h1m8 0h6m5 0h1m7 0h2m3 0h1m2 0h3m5 0h10m1 0h4m9 0h5m4 0h1m34 0h11m4 0h1m2 0h3m6 0h1m2 0h8m6 0h2m2 0h78m-250 1h1m2 0h6m11 0h1m3 0h1m1 0h1m3 0h3m8 0h3m2 0h6m3 0h11m2 0h2m11 0h1m37 0h3m3 0h3m4 0h3m3 0h1m1 0h2m8 0h1m1 0h1m1 0h1m1 0h7m9 0h17m1 0h60m-250 1h1m3 0h5m9 0h6m4 0h8m4 0h8m1 0h4m2 0h13m3 0h2m6 0h2m38 0h3m2 0h1m5 0h1m1 0h3m15 0h14m7 0h79m-251 1h3m3 0h1m1 0h4m3 0h1m3 0h5m2 0h1m2 0h8m4 0h8m2 0h17m1 0h2m9 0h1m18 0h1m20 0h4m1 0h4m4 0h2m14 0h16m5 0h81m-251 1h3m4 0h1m1 0h3m6 0h3m8 0h6m1 0h1m2 0h1m1 0h8m2 0h3m1 0h13m1 0h2m1 0h1m1 0h2m3 0h3m1 0h1m16 0h1m19 0h3m2 0h4m1 0h2m1 0h2m13 0h1m2 0h15m6 0h16m1 0h62m-253 1h8m2 0h1m1 0h3m1 0h1m1 0h5m6 0h4m2 0h1m1 0h1m2 0h10m2 0h1m1 0h14m1 0h7m4 0h4m13 0h2m3 0h1m19 0h5m1 0h5m1 0h3m17 0h13m4 0h82m-253 1h9m2 0h10m1 0h1m7 0h4m2 0h1m4 0h6m1 0h6m1 0h13m1 0h6m3 0h1m1 0h4m1 0h2m11 0h2m21 0h3m1 0h13m18 0h1m1 0h8m2 0h1m1 0h3m1 0h79m-253 1h6m1 0h2m1 0h8m15 0h1m7 0h6m2 0h1m1 0h1m1 0h15m1 0h5m5 0h3m2 0h2m12 0h3m20 0h2m2 0h1m2 0h1m1 0h1m3 0h4m17 0h13m1 0h84m-252 1h7m1 0h6m3 0h1m16 0h1m3 0h3m1 0h3m3 0h19m1 0h4m1 0h1m6 0h1m2 0h1m14 0h2m28 0h3m1 0h2m1 0h2m4 0h1m10 0h2m1 0h11m1 0h1m2 0h3m3 0h76m-252 1h8m2 0h1m1 0h3m6 0h1m1 0h1m10 0h5m2 0h4m2 0h26m9 0h1m16 0h2m3 0h1m19 0h1m3 0h3m1 0h6m1 0h1m1 0h3m8 0h1m1 0h2m1 0h1m1 0h12m4 0h1m1 0h75m-253 1h1m1 0h3m1 0h2m2 0h5m8 0h3m9 0h1m1 0h3m1 0h3m1 0h1m1 0h1m1 0h6m1 0h7m1 0h12m11 0h1m12 0h2m22 0h1m4 0h7m1 0h1m3 0h5m6 0h1m1 0h3m6 0h5m2 0h2m5 0h76m-245 1h2m1 0h3m1 0h1m7 0h2m8 0h1m4 0h1m1 0h1m3 0h1m1 0h1m3 0h25m9 0h2m14 0h2m20 0h1m2 0h1m4 0h7m3 0h1m2 0h2m17 0h9m1 0h1m4 0h76m-242 1h1m1 0h2m9 0h2m6 0h1m3 0h1m1 0h4m1 0h1m1 0h1m3 0h5m1 0h19m4 0h2m18 0h1m2 0h1m14 0h1m12 0h9m1 0h1m2 0h2m11 0h1m1 0h2m1 0h2m1 0h11m2 0h77m-246 1h1m4 0h3m3 0h7m3 0h1m1 0h1m8 0h6m3 0h26m4 0h1m49 0h4m1 0h6m2 0h2m11 0h99m-246 1h2m4 0h2m3 0h6m1 0h1m7 0h2m3 0h4m2 0h1m2 0h18m1 0h9m3 0h1m36 0h1m11 0h11m1 0h1m1 0h1m2 0h1m7 0h101m-236 1h2m1 0h7m2 0h1m3 0h2m1 0h2m1 0h4m4 0h1m1 0h2m1 0h4m2 0h4m5 0h8m1 0h3m24 0h2m22 0h10m3 0h2m8 0h103m-250 1h1m1 0h1m1 0h1m8 0h3m2 0h11m2 0h3m1 0h1m1 0h4m3 0h1m1 0h1m2 0h1m4 0h6m2 0h10m2 0h2m11 0h1m11 0h3m12 0h1m10 0h8m1 0h1m1 0h2m4 0h1m5 0h102m-175 1h1m14 0h1m7 0h3m11 0h3m11 0h4m1 0h3m2 0h1m2 0h1m1 0h1m1 0h4m1 0h102m-172 1h1m9 0h1m1 0h1m3 0h1m2 0h3m12 0h1m1 0h4m9 0h2m2 0h2m1 0h2m1 0h1m1 0h1m2 0h3m1 0h1m2 0h101m-176 1h1m6 0h2m10 0h2m1 0h4m4 0h1m8 0h5m5 0h1m3 0h1m2 0h1m3 0h2m1 0h1m1 0h1m2 0h2m5 0h1m2 0h98m-170 1h1m1 0h2m11 0h3m14 0h2m1 0h2m6 0h1m2 0h4m12 0h2m2 0h2m1 0h1m2 0h10m1 0h49m1 0h37m-176 1h1m5 0h3m15 0h1m11 0h1m2 0h3m7 0h1m2 0h4m3 0h2m7 0h2m3 0h2m1 0h1m1 0h57m3 0h38m-170 1h3m22 0h5m1 0h2m2 0h1m10 0h2m3 0h1m1 0h1m6 0h1m5 0h1m2 0h10m1 0h47m3 0h2m1 0h37m-171 1h2m1 0h1m13 0h1m8 0h1m1 0h1m1 0h1m1 0h1m12 0h1m6 0h1m1 0h1m9 0h1m1 0h2m3 0h7m1 0h52m1 0h39m-172 1h1m11 0h4m1 0h1m11 0h1m1 0h1m5 0h1m9 0h2m6 0h1m8 0h3m1 0h1m1 0h3m1 0h8m1 0h89m-171 1h1m25 0h1m1 0h2m6 0h1m7 0h2m2 0h1m2 0h1m1 0h2m3 0h1m3 0h3m2 0h1m2 0h10m1 0h11m1 0h78m-176 1h1m2 0h1m10 0h1m3 0h1m6 0h1m3 0h2m1 0h1m7 0h1m7 0h4m2 0h1m2 0h3m2 0h2m2 0h3m3 0h1m2 0h10m1 0h90m-173 1h1m10 0h1m10 0h2m4 0h1m11 0h1m3 0h3m1 0h1m2 0h1m2 0h1m1 0h1m4 0h4m1 0h1m6 0h1m2 0h67m1 0h29m-175 1h3m18 0h2m1 0h1m1 0h1m2 0h2m10 0h2m3 0h2m4 0h7m3 0h3m1 0h2m1 0h1m2 0h1m4 0h3m1 0h36m1 0h57m-172 1h1m5 0h2m14 0h1m4 0h1m1 0h2m13 0h1m5 0h2m1 0h2m3 0h1m2 0h1m1 0h2m3 0h4m3 0h3m2 0h59m1 0h1m1 0h30m-174 1h3m5 0h2m10 0h1m23 0h1m1 0h1m5 0h1m7 0h1m1 0h4m5 0h3m3 0h3m1 0h58m1 0h34m-173 1h1m6 0h1m36 0h3m3 0h2m9 0h2m8 0h3m1 0h16m1 0h1m1 0h50m1 0h28m-173 1h2m1 0h1m39 0h1m6 0h2m9 0h2m9 0h1m2 0h98m-174 1h3m4 0h1m31 0h2m10 0h1m9 0h4m11 0h17m1 0h80m-174 1h1m38 0h2m20 0h2m13 0h17m1 0h8m1 0h71m-177 1h2m1 0h1m1 0h1m11 0h1m10 0h1m12 0h3m1 0h1m3 0h1m4 0h1m24 0h16m3 0h7m1 0h71m-148 1h1m2 0h1m2 0h1m2 0h1m1 0h2m1 0h1m1 0h1m1 0h1m1 0h2m2 0h4m22 0h98m-173 1h5m4 0h1m15 0h3m2 0h1m3 0h1m1 0h1m4 0h6m1 0h1m1 0h5m4 0h1m14 0h1m1 0h8m1 0h54m1 0h13m1 0h19m-176 1h1m1 0h1m1 0h4m1 0h2m1 0h1m2 0h1m1 0h1m3 0h1m6 0h1m7 0h2m6 0h8m1 0h5m21 0h20m1 0h34m1 0h6m2 0h13m1 0h19m-177 1h2m1 0h6m9 0h1m18 0h2m3 0h4m1 0h1m2 0h3m3 0h3m17 0h1m5 0h50m4 0h5m3 0h33m-177 1h1m2 0h4m11 0h2m3 0h3m6 0h3m2 0h4m3 0h2m2 0h1m2 0h1m4 0h1m19 0h2m2 0h54m1 0h6m1 0h35m-172 1h2m10 0h2m5 0h3m11 0h4m2 0h1m1 0h6m23 0h4m1 0h14m1 0h82m-171 1h1m10 0h3m4 0h1m1 0h2m10 0h3m1 0h9m11 0h1m1 0h3m8 0h23m1 0h1m1 0h39m1 0h6m1 0h29m-171 1h1m1 0h1m10 0h1m6 0h2m7 0h1m1 0h3m3 0h8m11 0h3m8 0h1m1 0h15m1 0h1m1 0h5m1 0h78m-175 1h1m3 0h1m18 0h4m1 0h1m3 0h4m4 0h6m1 0h1m10 0h1m3 0h1m8 0h13m1 0h3m1 0h44m1 0h9m1 0h31m-177 1h1m1 0h1m3 0h1m19 0h2m7 0h1m1 0h1m3 0h4m1 0h5m22 0h1m1 0h1m3 0h8m1 0h4m1 0h40m2 0h15m3 0h24m-176 1h2m3 0h2m1 0h1m17 0h1m8 0h2m1 0h5m1 0h4m1 0h1m1 0h1m9 0h3m9 0h1m4 0h7m4 0h3m1 0h4m1 0h32m2 0h1m1 0h16m1 0h25m-176 1h2m1 0h4m1 0h2m15 0h1m10 0h10m2 0h2m3 0h1m5 0h1m1 0h2m16 0h6m4 0h56m2 0h3m1 0h25m-171 1h2m1 0h1m17 0h1m9 0h9m1 0h1m1 0h1m4 0h1m7 0h2m15 0h7m3 0h1m1 0h86m-175 1h1m3 0h2m18 0h2m4 0h1m2 0h11m15 0h3m14 0h9m2 0h88m-177 1h1m2 0h1m1 0h2m18 0h1m6 0h2m1 0h6m2 0h4m13 0h4m4 0h1m8 0h12m1 0h87m-177 1h3m2 0h2m12 0h1m5 0h1m1 0h2m1 0h2m5 0h3m2 0h5m11 0h1m1 0h1m15 0h13m1 0h87m-177 1h2m2 0h2m2 0h1m7 0h3m3 0h2m3 0h2m9 0h1m3 0h1m2 0h1m1 0h1m1 0h1m5 0h1m2 0h3m15 0h14m1 0h86m-176 1h4m1 0h2m6 0h3m1 0h2m2 0h1m4 0h5m8 0h3m6 0h1m16 0h4m4 0h4m2 0h8m1 0h28m1 0h59m-176 1h7m7 0h2m1 0h3m1 0h1m5 0h3m7 0h2m1 0h1m5 0h3m16 0h3m5 0h3m3 0h97m-175 1h6m7 0h2m1 0h1m10 0h3m6 0h1m1 0h1m12 0h1m12 0h1m6 0h3m1 0h1m1 0h98m-174 1h3m8 0h1m14 0h1m8 0h1m1 0h1m3 0h3m5 0h2m12 0h8m4 0h7m1 0h91m-171 1h4m4 0h1m11 0h6m6 0h3m3 0h3m1 0h1m2 0h1m15 0h6m4 0h6m1 0h1m1 0h26m2 0h63m-172 1h4m2 0h1m8 0h2m4 0h2m1 0h6m2 0h2m1 0h1m4 0h4m1 0h3m15 0h2m6 0h5m3 0h1m1 0h91m-175 1h2m1 0h5m9 0h4m9 0h4m1 0h6m5 0h5m22 0h5m2 0h3m1 0h2m2 0h87m-176 1h1m5 0h2m6 0h1m4 0h3m4 0h6m1 0h1m1 0h8m3 0h1m1 0h5m20 0h4m3 0h3m1 0h92m-265 1h1m1 0h4m1 0h1m1 0h3m2 0h1m2 0h1m2 0h2m5 0h1m1 0h2m2 0h4m2 0h1m1 0h1m13 0h3m1 0h2m5 0h2m7 0h1m7 0h1m1 0h1m3 0h7m8 0h1m1 0h4m3 0h7m1 0h3m1 0h6m2 0h1m1 0h1m6 0h1m2 0h1m2 0h1m2 0h1m9 0h3m4 0h4m1 0h92m-263 1h11m1 0h8m1 0h4m1 0h2m1 0h6m19 0h3m1 0h1m6 0h1m18 0h3m1 0h3m1 0h1m10 0h5m1 0h8m1 0h3m3 0h5m4 0h2m8 0h10m5 0h3m6 0h2m3 0h8m1 0h34m1 0h47m-264 1h4m1 0h1m1 0h1m1 0h12m2 0h1m1 0h8m1 0h4m12 0h1m10 0h1m5 0h1m8 0h1m7 0h5m1 0h1m3 0h1m5 0h2m2 0h3m1 0h2m1 0h2m1 0h4m1 0h3m3 0h5m4 0h6m1 0h1m1 0h3m3 0h2m1 0h1m5 0h3m9 0h2m1 0h91m-263 1h14m1 0h1m4 0h1m2 0h1m1 0h2m2 0h5m3 0h1m20 0h2m14 0h4m4 0h1m3 0h2m4 0h2m9 0h1m1 0h3m5 0h1m1 0h5m4 0h2m2 0h1m3 0h2m1 0h5m3 0h1m1 0h2m2 0h4m3 0h4m1 0h1m2 0h1m3 0h1m1 0h4m1 0h88m-263 1h3m1 0h1m3 0h1m11 0h1m4 0h2m2 0h4m3 0h1m19 0h1m17 0h5m2 0h1m1 0h2m5 0h6m8 0h2m2 0h1m4 0h1m1 0h6m5 0h14m2 0h5m2 0h4m1 0h7m9 0h4m1 0h88m-262 1h4m1 0h2m4 0h2m16 0h3m2 0h1m38 0h3m1 0h2m1 0h4m3 0h1m1 0h6m8 0h2m4 0h1m1 0h7m1 0h2m3 0h3m1 0h7m1 0h1m1 0h7m3 0h3m2 0h9m3 0h1m5 0h91m-263 1h3m1 0h10m14 0h1m2 0h2m1 0h1m16 0h1m22 0h5m3 0h5m1 0h9m8 0h1m5 0h1m1 0h5m1 0h5m1 0h20m3 0h2m2 0h10m9 0h92m-264 1h6m1 0h1m2 0h2m1 0h4m4 0h1m11 0h1m3 0h1m13 0h3m8 0h1m1 0h1m4 0h1m3 0h1m3 0h2m1 0h9m1 0h2m3 0h4m6 0h2m5 0h1m3 0h2m2 0h1m1 0h5m1 0h6m2 0h5m3 0h1m7 0h10m9 0h1m1 0h91m-264 1h7m1 0h1m2 0h1m1 0h4m3 0h2m14 0h1m3 0h2m9 0h2m8 0h4m11 0h1m1 0h4m1 0h1m1 0h4m2 0h1m2 0h16m4 0h1m2 0h1m3 0h2m2 0h3m2 0h5m3 0h2m12 0h9m10 0h93m-264 1h3m1 0h2m1 0h4m2 0h4m4 0h1m13 0h5m10 0h2m9 0h1m1 0h2m12 0h1m7 0h5m5 0h4m2 0h2m1 0h5m13 0h1m4 0h1m2 0h1m1 0h4m12 0h1m5 0h7m9 0h38m1 0h55m-264 1h3m1 0h1m1 0h5m2 0h4m3 0h4m2 0h3m8 0h3m34 0h3m7 0h6m4 0h4m1 0h1m2 0h1m2 0h2m2 0h1m11 0h2m9 0h6m1 0h2m1 0h2m7 0h6m4 0h1m4 0h1m1 0h60m1 0h35m-264 1h4m2 0h6m1 0h2m6 0h2m1 0h3m1 0h1m8 0h1m1 0h2m23 0h2m7 0h4m3 0h1m4 0h6m4 0h3m2 0h1m2 0h1m2 0h2m2 0h1m20 0h1m1 0h11m2 0h1m1 0h4m4 0h2m6 0h1m1 0h18m1 0h79m-265 1h1m1 0h15m5 0h1m1 0h7m4 0h8m3 0h1m19 0h1m8 0h2m6 0h8m4 0h5m1 0h3m3 0h2m19 0h3m1 0h1m2 0h2m4 0h3m3 0h7m10 0h38m2 0h23m1 0h37m-265 1h11m1 0h1m1 0h3m2 0h1m2 0h1m3 0h2m6 0h2m1 0h7m1 0h2m24 0h7m4 0h9m4 0h3m1 0h5m3 0h4m3 0h2m4 0h1m7 0h3m9 0h3m5 0h4m12 0h38m1 0h62m-265 1h13m1 0h1m7 0h1m2 0h4m4 0h8m3 0h2m25 0h1m1 0h3m7 0h3m1 0h4m3 0h2m1 0h8m3 0h4m1 0h5m3 0h1m7 0h6m1 0h1m3 0h2m6 0h5m11 0h7m1 0h28m6 0h59m-265 1h7m1 0h6m9 0h2m2 0h4m2 0h8m2 0h1m1 0h1m16 0h1m13 0h1m2 0h2m1 0h1m3 0h3m4 0h3m5 0h4m2 0h5m1 0h4m1 0h1m3 0h1m5 0h4m2 0h3m2 0h3m3 0h1m3 0h3m12 0h1m1 0h34m4 0h61m-265 1h3m4 0h1m1 0h5m9 0h2m2 0h9m2 0h3m19 0h1m14 0h1m4 0h1m1 0h1m4 0h1m4 0h2m1 0h2m1 0h3m1 0h4m2 0h4m2 0h5m7 0h1m2 0h1m9 0h2m1 0h3m3 0h3m4 0h1m6 0h8m1 0h1m2 0h25m5 0h1m1 0h59m-265 1h1m5 0h2m1 0h3m1 0h1m10 0h1m3 0h2m1 0h2m1 0h2m2 0h3m27 0h1m5 0h2m1 0h2m1 0h3m4 0h2m2 0h11m1 0h3m3 0h10m1 0h2m5 0h3m7 0h3m1 0h1m6 0h3m2 0h3m3 0h1m1 0h5m1 0h1m1 0h1m4 0h25m3 0h63m-265 1h3m1 0h5m1 0h3m6 0h1m3 0h1m14 0h2m19 0h2m7 0h1m10 0h4m2 0h1m2 0h2m2 0h8m1 0h2m1 0h2m3 0h6m1 0h2m1 0h1m4 0h6m3 0h1m3 0h1m6 0h1m1 0h4m2 0h2m5 0h1m1 0h10m3 0h14m1 0h10m2 0h4m1 0h59m-265 1h2m1 0h6m2 0h2m16 0h1m3 0h1m4 0h1m20 0h3m5 0h3m8 0h1m2 0h2m2 0h1m3 0h2m1 0h6m1 0h3m1 0h3m4 0h9m5 0h7m1 0h1m1 0h5m1 0h1m3 0h1m1 0h4m1 0h3m4 0h28m1 0h1m1 0h9m2 0h65m-265 1h6m1 0h1m3 0h2m18 0h1m1 0h1m3 0h2m5 0h1m15 0h1m6 0h2m13 0h2m5 0h2m2 0h5m1 0h3m2 0h1m3 0h3m1 0h7m3 0h3m2 0h4m2 0h1m2 0h4m6 0h3m2 0h1m5 0h10m1 0h1m1 0h2m1 0h13m1 0h1m1 0h8m1 0h1m1 0h2m1 0h2m1 0h26m1 0h32m-264 1h1m2 0h2m5 0h3m17 0h2m4 0h8m4 0h1m32 0h1m1 0h1m4 0h3m1 0h8m5 0h4m2 0h9m1 0h2m4 0h4m1 0h1m1 0h1m2 0h3m4 0h4m5 0h1m1 0h1m1 0h5m2 0h23m2 0h8m1 0h1m2 0h29m1 0h4m1 0h28m-261 1h2m3 0h5m20 0h11m4 0h1m30 0h3m4 0h1m1 0h2m3 0h2m2 0h3m6 0h1m1 0h3m1 0h8m1 0h1m5 0h1m3 0h3m4 0h3m2 0h4m4 0h1m1 0h9m3 0h32m4 0h16m3 0h44m-263 1h4m2 0h1m3 0h1m22 0h4m9 0h2m27 0h2m13 0h3m4 0h2m6 0h10m1 0h1m1 0h1m10 0h1m10 0h4m6 0h3m1 0h2m1 0h3m3 0h1m1 0h1m1 0h33m1 0h15m4 0h2m1 0h40m-263 1h1m1 0h1m2 0h5m1 0h2m33 0h2m16 0h3m22 0h2m6 0h3m7 0h3m1 0h2m2 0h1m3 0h2m8 0h3m1 0h1m6 0h5m4 0h6m1 0h5m5 0h2m1 0h4m3 0h19m1 0h5m1 0h4m1 0h9m1 0h1m5 0h40m-262 1h2m1 0h4m1 0h4m32 0h1m17 0h2m10 0h1m9 0h1m11 0h2m7 0h4m1 0h2m16 0h3m9 0h3m4 0h6m1 0h1m1 0h4m2 0h3m4 0h1m1 0h24m1 0h5m1 0h15m5 0h40m-259 1h9m22 0h1m9 0h1m8 0h1m7 0h5m8 0h1m4 0h1m4 0h1m3 0h1m6 0h3m4 0h1m2 0h8m14 0h4m3 0h3m3 0h1m1 0h1m2 0h15m1 0h2m1 0h1m2 0h23m1 0h9m1 0h1m2 0h15m1 0h42m-261 1h6m1 0h1m1 0h1m15 0h1m18 0h1m13 0h4m10 0h1m10 0h1m3 0h2m4 0h5m4 0h1m1 0h6m2 0h2m1 0h1m11 0h2m5 0h1m1 0h1m2 0h1m3 0h16m1 0h3m2 0h96m-262 1h5m1 0h3m15 0h3m17 0h2m2 0h1m15 0h1m13 0h1m5 0h1m4 0h1m5 0h2m1 0h2m5 0h2m5 0h5m4 0h1m7 0h1m8 0h1m5 0h12m2 0h1m1 0h29m3 0h6m4 0h60m-265 1h9m18 0h2m15 0h8m12 0h1m2 0h1m19 0h2m8 0h1m1 0h1m6 0h1m2 0h1m4 0h4m1 0h1m2 0h1m1 0h2m6 0h1m13 0h8m1 0h3m2 0h1m1 0h1m2 0h1m1 0h24m3 0h5m1 0h2m4 0h59m-265 1h6m1 0h2m1 0h1m14 0h3m7 0h4m3 0h2m2 0h6m3 0h1m1 0h4m16 0h1m9 0h2m10 0h1m1 0h1m5 0h1m1 0h1m1 0h1m2 0h2m6 0h8m1 0h1m14 0h7m1 0h5m1 0h1m1 0h4m5 0h5m1 0h2m1 0h11m2 0h10m3 0h13m1 0h45m-265 1h6m4 0h1m7 0h1m4 0h5m9 0h3m1 0h2m2 0h6m5 0h4m1 0h1m1 0h1m1 0h1m21 0h2m6 0h1m15 0h5m5 0h9m6 0h1m7 0h3m1 0h11m1 0h1m1 0h1m7 0h1m1 0h6m2 0h10m6 0h3m1 0h4m1 0h60m-264 1h5m3 0h2m11 0h4m13 0h1m1 0h3m1 0h5m5 0h1m1 0h1m1 0h7m8 0h1m3 0h1m8 0h2m9 0h1m6 0h1m5 0h4m7 0h4m1 0h6m2 0h3m5 0h18m8 0h19m6 0h4m4 0h63m-265 1h9m1 0h1m1 0h2m1 0h1m2 0h3m1 0h1m6 0h1m10 0h9m13 0h5m2 0h1m2 0h1m14 0h1m6 0h1m8 0h1m5 0h1m1 0h3m8 0h8m1 0h3m1 0h2m1 0h1m4 0h6m1 0h11m2 0h3m3 0h18m8 0h4m3 0h63m-265 1h7m1 0h4m1 0h3m2 0h4m2 0h1m5 0h1m3 0h1m3 0h1m1 0h9m11 0h2m1 0h4m2 0h4m3 0h5m9 0h1m3 0h1m3 0h2m1 0h2m4 0h1m2 0h3m2 0h2m5 0h1m4 0h3m3 0h1m1 0h1m1 0h3m1 0h19m3 0h3m3 0h18m4 0h3m3 0h2m4 0h48m-249 1h5m1 0h8m3 0h2m10 0h1m2 0h1m4 0h1m3 0h1m2 0h3m12 0h7m3 0h5m16 0h2m7 0h1m5 0h2m2 0h6m6 0h3m16 0h16m3 0h5m1 0h1m1 0h21m1 0h3m2 0h4m3 0h48m-251 1h1m3 0h11m4 0h1m12 0h1m10 0h1m1 0h2m6 0h1m8 0h5m4 0h4m3 0h1m5 0h2m12 0h1m1 0h1m7 0h2m1 0h2m1 0h2m8 0h2m1 0h1m10 0h20m1 0h1m1 0h6m1 0h21m1 0h12m1 0h48m-248 1h4m3 0h1m1 0h3m11 0h2m20 0h1m4 0h1m6 0h1m1 0h4m5 0h3m17 0h1m9 0h1m7 0h1m1 0h1m2 0h2m10 0h1m11 0h16m1 0h13m1 0h21m2 0h9m1 0h49m-248 1h2m8 0h3m9 0h2m10 0h1m2 0h1m4 0h1m6 0h1m8 0h2m2 0h3m1 0h2m1 0h2m7 0h1m6 0h1m12 0h1m9 0h1m8 0h1m4 0h3m2 0h3m6 0h68m2 0h42m-238 1h3m7 0h3m11 0h2m3 0h2m8 0h1m12 0h1m1 0h1m1 0h2m9 0h2m28 0h2m8 0h1m4 0h8m3 0h1m1 0h10m1 0h22m2 0h78m-248 1h1m9 0h3m6 0h3m3 0h1m9 0h1m1 0h1m4 0h5m2 0h1m6 0h2m1 0h1m6 0h2m6 0h5m12 0h1m4 0h1m10 0h1m14 0h8m1 0h2m1 0h2m4 0h27m1 0h17m2 0h59m1 0h1m-240 1h1m1 0h4m5 0h3m1 0h1m1 0h1m8 0h1m1 0h2m6 0h3m2 0h1m7 0h1m7 0h2m1 0h1m1 0h2m1 0h7m1 0h1m19 0h1m5 0h1m9 0h1m1 0h2m1 0h10m3 0h2m2 0h7m1 0h4m1 0h10m1 0h23m1 0h59m1 0h1m-242 1h1m2 0h1m1 0h2m6 0h2m12 0h2m2 0h1m3 0h2m2 0h1m12 0h1m7 0h1m3 0h9m1 0h5m11 0h2m4 0h1m4 0h2m8 0h12m6 0h3m1 0h9m1 0h2m2 0h4m1 0h4m2 0h18m2 0h61m1 0h2m-243 1h3m1 0h1m2 0h1m8 0h1m9 0h8m4 0h5m5 0h1m8 0h1m7 0h2m1 0h5m2 0h1m1 0h3m10 0h1m10 0h3m6 0h14m6 0h30m1 0h26m1 0h55m-251 1h1m1 0h2m2 0h7m16 0h2m4 0h3m2 0h2m1 0h2m2 0h4m5 0h1m8 0h2m8 0h4m5 0h2m2 0h1m5 0h3m12 0h3m6 0h15m3 0h10m1 0h5m2 0h7m1 0h89m-251 1h1m1 0h1m3 0h4m1 0h2m4 0h1m6 0h1m5 0h2m2 0h4m1 0h3m1 0h3m1 0h5m5 0h1m8 0h1m7 0h5m6 0h2m1 0h1m4 0h1m1 0h3m11 0h1m1 0h2m5 0h14m3 0h10m1 0h11m1 0h11m1 0h81m-251 1h1m1 0h2m3 0h4m2 0h2m3 0h2m5 0h2m3 0h2m2 0h4m3 0h1m1 0h3m1 0h1m2 0h2m5 0h1m1 0h1m7 0h2m15 0h2m7 0h2m1 0h1m19 0h1m1 0h6m1 0h7m3 0h9m1 0h11m2 0h59m1 0h1m1 0h31m-247 1h1m1 0h2m1 0h2m3 0h1m1 0h3m1 0h1m2 0h4m1 0h1m1 0h4m1 0h7m1 0h3m4 0h2m3 0h6m4 0h1m2 0h2m1 0h1m12 0h5m4 0h3m7 0h1m4 0h1m2 0h1m1 0h1m3 0h1m1 0h13m4 0h17m1 0h4m1 0h59m1 0h32m-249 1h1m1 0h1m1 0h1m2 0h2m4 0h1m1 0h14m1 0h3m1 0h5m1 0h3m4 0h1m2 0h1m3 0h15m9 0h1m4 0h6m2 0h6m2 0h2m4 0h2m3 0h3m4 0h7m1 0h6m3 0h17m3 0h2m1 0h92m-250 1h2m1 0h4m1 0h3m3 0h1m4 0h7m1 0h2m3 0h7m6 0h2m8 0h9m1 0h5m8 0h4m2 0h14m1 0h2m2 0h5m1 0h2m1 0h1m1 0h1m2 0h9m1 0h5m3 0h19m5 0h91m-251 1h1m1 0h2m3 0h2m1 0h3m3 0h1m2 0h12m1 0h4m1 0h2m7 0h4m7 0h9m2 0h3m2 0h2m4 0h3m4 0h17m1 0h9m1 0h1m5 0h13m4 0h16m1 0h2m1 0h1m2 0h91m-250 1h5m1 0h6m3 0h2m2 0h16m2 0h2m3 0h1m2 0h4m7 0h6m6 0h2m3 0h2m4 0h2m1 0h1m2 0h7m1 0h20m3 0h1m3 0h9m1 0h4m2 0h19m2 0h93m-251 1h1m2 0h2m2 0h2m2 0h3m3 0h1m2 0h18m1 0h4m1 0h5m8 0h7m4 0h3m12 0h1m2 0h8m1 0h9m2 0h8m8 0h8m3 0h1m3 0h15m1 0h4m1 0h93m-250 1h1m2 0h2m2 0h2m2 0h1m3 0h1m1 0h20m1 0h5m3 0h2m9 0h7m2 0h2m7 0h1m4 0h1m1 0h2m1 0h6m1 0h9m1 0h8m1 0h4m4 0h1m2 0h12m3 0h18m3 0h92m-247 1h2m3 0h1m7 0h2m1 0h23m1 0h3m11 0h5m4 0h2m7 0h2m2 0h1m1 0h1m1 0h18m1 0h1m2 0h11m6 0h5m3 0h5m2 0h16m1 0h2m1 0h93m-246 1h1m2 0h3m5 0h3m1 0h23m1 0h4m9 0h7m2 0h1m1 0h2m7 0h1m4 0h1m1 0h19m4 0h1m1 0h4m1 0h3m7 0h12m2 0h17m1 0h95m-235 1h1m1 0h1m2 0h14m1 0h5m1 0h1m2 0h6m5 0h9m1 0h1m9 0h3m3 0h1m1 0h10m1 0h8m1 0h14m1 0h1m5 0h12m2 0h1m1 0h14m1 0h95m-249 1h1m15 0h2m4 0h12m1 0h6m3 0h4m6 0h10m2 0h1m1 0h3m9 0h11m1 0h26m4 0h13m1 0h1m3 0h13m1 0h95m-249 1h2m12 0h2m4 0h1m1 0h8m1 0h1m1 0h8m4 0h11m1 0h6m3 0h5m10 0h10m2 0h20m1 0h4m5 0h14m3 0h109m-248 1h2m11 0h1m4 0h10m2 0h1m1 0h9m3 0h11m1 0h8m1 0h6m8 0h5m1 0h4m5 0h18m2 0h3m3 0h16m4 0h2m1 0h105m-246 1h1m17 0h7m4 0h11m3 0h18m4 0h4m3 0h1m4 0h11m4 0h9m1 0h8m3 0h1m1 0h1m2 0h17m2 0h4m1 0h104m-246 1h2m7 0h1m1 0h1m6 0h9m1 0h1m1 0h9m1 0h21m3 0h8m3 0h1m1 0h11m3 0h11m2 0h7m1 0h5m1 0h18m2 0h3m1 0h104m-245 1h1m8 0h2m1 0h2m3 0h43m3 0h9m2 0h15m2 0h19m1 0h17m2 0h6m1 0h108m-236 1h2m1 0h5m2 0h2m1 0h17m1 0h20m4 0h9m2 0h14m2 0h23m1 0h13m2 0h115m-251 1h2m12 0h8m1 0h23m3 0h18m1 0h11m1 0h55m1 0h115m-251 1h2m11 0h7m2 0h25m3 0h30m2 0h53m1 0h115m-251 1h1m11 0h5m1 0h2m2 0h2m1 0h54m3 0h18m1 0h37m1 0h112m-249 1h1m11 0h2m2 0h2m2 0h2m1 0h23m1 0h31m4 0h27m1 0h2m1 0h22m2 0h112m-249 1h1m6 0h1m4 0h2m5 0h1m1 0h1m2 0h46m1 0h7m1 0h1m1 0h22m1 0h5m2 0h1m1 0h21m2 0h113m-236 1h1m3 0h1m1 0h2m3 0h1m1 0h43m2 0h38m2 0h1m1 0h24m1 0h10m1 0h100m-242 1h1m11 0h3m3 0h44m3 0h2m2 0h34m1 0h2m1 0h10m1 0h103m1 0h20m-231 1h4m4 0h45m2 0h2m2 0h3m3 0h31m1 0h62m1 0h51m1 0h19m-241 1h1m10 0h3m4 0h45m1 0h4m1 0h29m1 0h7m1 0h134m-229 1h4m3 0h44m4 0h1m1 0h28m1 0h9m1 0h35m1 0h97m-232 1h1m2 0h4m3 0h4m1 0h39m3 0h32m1 0h142m-229 1h5m3 0h4m1 0h39m2 0h68m1 0h106m-250 1h1m19 0h13m3 0h37m1 0h7m1 0h168m-250 1h2m6 0h2m10 0h1m2 0h2m1 0h28m2 0h194m-249 1h2m3 0h5m9 0h2m1 0h3m1 0h10m2 0h17m1 0h68m1 0h124m-249 1h2m3 0h6m9 0h2m1 0h2m4 0h5m5 0h15m1 0h14m1 0h179m-249 1h3m3 0h3m2 0h1m9 0h1m4 0h1m3 0h3m5 0h15m1 0h1m1 0h193m-248 1h2m2 0h5m17 0h1m2 0h3m6 0h210m-249 1h3m1 0h3m2 0h1m1 0h1m15 0h3m1 0h2m5 0h37m1 0h173m-251 1h1m2 0h4m4 0h3m10 0h1m5 0h2m2 0h1m6 0h210m-248 1h2m1 0h1m1 0h1m2 0h2m4 0h1m7 0h1m4 0h2m1 0h3m5 0h36m2 0h172m-247 1h2m2 0h2m2 0h2m3 0h2m7 0h1m4 0h2m8 0h14m1 0h21m1 0h7m1 0h165m-247 1h3m3 0h1m1 0h2m4 0h2m5 0h2m3 0h2m9 0h13m2 0h28m1 0h36m1 0h129m-251 1h1m4 0h4m4 0h1m5 0h1m1 0h1m3 0h3m2 0h1m10 0h12m1 0h1m4 0h83m1 0h108m-245 1h3m4 0h2m5 0h2m4 0h3m13 0h12m1 0h1m3 0h2m1 0h15m1 0h44m1 0h128m-243 1h2m3 0h3m3 0h3m4 0h4m3 0h6m1 0h17m1 0h3m1 0h15m1 0h45m1 0h127m-251 1h1m8 0h1m2 0h4m3 0h4m3 0h5m1 0h21m1 0h24m1 0h26m1 0h70m1 0h74m-251 1h3m1 0h1m5 0h8m1 0h7m1 0h5m1 0h20m1 0h18m1 0h33m1 0h144m-251 1h5m1 0h1m3 0h16m1 0h80m1 0h93m1 0h49m-251 1h7m3 0h55m2 0h39m3 0h142m-251 1h8m3 0h54m1 0h1m1 0h3m1 0h35m2 0h91m1 0h50m-251 1h8m3 0h61m1 0h35m3 0h140m-250 1h8m1 0h80m1 0h18m1 0h141m-251 1h10m2 0h62m1 0h35m1 0h140m-251 1h11m2 0h61m1 0h14m3 0h18m1 0h140m-251 1h12m1 0h51m1 0h25m3 0h158m-251 1h91m3 0h157m-251 1h3m2 0h88m1 0h157m-251 1h4m1 0h8m1 0h237m-251 1h4m3 0h244m-251 1h5m2 0h128m1 0h115m-251 1h5m2 0h18m1 0h225m-251 1h251m-251 1h25m1 0h225m-251 1h1m1 0h1m1 0h6m1 0h240m-248 1h248m-251 1h1m1 0h5m2 0h242m-251 1h9m1 0h241m-251 1h19m1 0h231m-251 1h22m1 0h228m-251 1h24m1 0h226m-251 1h251m-251 1h251m-251 1h251m-251 1h251m-251 1h251m-251 1h251m-251 1h251m-251 1h251m-251 1h251m-251 1h251m-251 1h251m-251 1h3m1 0h247m-251 1h3m1 0h247m-251 1h4m1 0h4m1 0h241m-244 1h20m2 0h222m-247 1h3m2 0h9m7 0h3m1 0h9m1 0h1m1 0h39m1 0h170m-247 1h13m12 0h5m1 0h38m5 0h2m1 0h4m1 0h165m-246 1h10m15 0h3m2 0h38m5 0h2m3 0h3m1 0h164m-246 1h8m17 0h1m6 0h12m3 0h20m6 0h7m1 0h1m2 0h6m1 0h155m-246 1h5m25 0h11m7 0h1m2 0h6m1 0h1m3 0h2m2 0h1m10 0h1m1 0h1m1 0h1m2 0h1m1 0h4m1 0h37m1 0h117m-244 1h1m27 0h13m4 0h1m4 0h6m4 0h1m1 0h1m10 0h2m5 0h1m1 0h162m-211 1h8m3 0h4m1 0h2m1 0h5m16 0h2m1 0h5m1 0h162m-209 1h6m3 0h12m1 0h1m19 0h2m1 0h164m-207 1h1m6 0h3m1 0h7m3 0h2m18 0h2m1 0h7m1 0h27m1 0h127m-207 1h1m7 0h2m1 0h5m26 0h3m1 0h6m1 0h33m1 0h5m2 0h113m-208 1h1m10 0h3m1 0h2m6 0h1m21 0h40m3 0h6m1 0h113m-196 1h2m30 0h2m1 0h38m3 0h1m1 0h4m1 0h113m-196 1h1m2 0h3m2 0h1m22 0h2m1 0h38m4 0h4m1 0h18m4 0h93m-194 1h4m26 0h37m6 0h1m2 0h21m5 0h92m-192 1h1m28 0h1m1 0h6m1 0h30m1 0h1m1 0h1m1 0h23m5 0h91m-164 1h2m2 0h4m4 0h2m2 0h11m1 0h11m3 0h26m5 0h91m-160 1h4m5 0h3m2 0h6m1 0h1m1 0h14m1 0h27m4 0h91m-160 1h1m2 0h1m10 0h2m1 0h2m3 0h14m1 0h20m3 0h6m1 0h93m-146 1h2m1 0h2m3 0h7m1 0h20m1 0h6m3 0h3m1 0h1m1 0h94m-154 1h2m6 0h1m5 0h5m1 0h2m1 0h28m8 0h95m-145 1h1m2 0h10m1 0h22m1 0h4m9 0h4m2 0h89m-147 1h5m3 0h12m1 0h21m12 0h93m-162 1h5m10 0h1m1 0h2m4 0h12m1 0h21m14 0h91m-163 1h6m12 0h1m5 0h32m16 0h91m-182 1h1m17 0h9m18 0h1m4 0h21m1 0h2m17 0h91m-248 1h1m83 0h2m1 0h6m19 0h1m2 0h1m1 0h6m1 0h12m22 0h90m-249 1h2m81 0h1m1 0h8m1 0h1m14 0h1m7 0h4m1 0h15m22 0h90m-249 1h2m77 0h2m4 0h1m1 0h1m1 0h4m23 0h19m24 0h90m-249 1h3m76 0h2m7 0h6m23 0h6m1 0h13m21 0h1m1 0h89m-250 1h3m3 0h2m7 0h2m60 0h6m8 0h2m12 0h1m4 0h1m6 0h9m1 0h11m22 0h90m-251 1h5m1 0h6m1 0h7m1 0h1m2 0h1m22 0h3m29 0h1m1 0h3m11 0h1m11 0h6m6 0h6m1 0h1m1 0h12m26 0h85m-251 1h24m1 0h2m16 0h1m2 0h1m1 0h3m9 0h4m18 0h1m14 0h3m6 0h3m5 0h11m1 0h4m2 0h8m26 0h85m-251 1h21m2 0h4m17 0h2m3 0h4m6 0h6m21 0h1m6 0h2m3 0h2m5 0h3m5 0h2m1 0h2m3 0h1m1 0h4m1 0h1m2 0h7m28 0h85m-251 1h21m1 0h6m13 0h6m3 0h3m6 0h3m1 0h3m5 0h1m14 0h1m5 0h1m6 0h1m4 0h3m5 0h1m1 0h4m5 0h1m1 0h3m1 0h1m1 0h8m27 0h85m-251 1h29m14 0h2m7 0h1m6 0h4m2 0h1m34 0h1m3 0h1m8 0h1m1 0h1m10 0h2m1 0h6m1 0h2m29 0h84m-251 1h5m2 0h24m12 0h2m3 0h2m9 0h6m45 0h1m2 0h1m1 0h1m9 0h1m1 0h8m32 0h84m-251 1h29m2 0h1m11 0h3m2 0h4m8 0h5m22 0h1m12 0h1m12 0h2m9 0h5m1 0h5m32 0h84m-251 1h29m2 0h2m10 0h4m1 0h5m10 0h1m23 0h1m5 0h1m3 0h1m1 0h2m13 0h1m8 0h12m32 0h84m-251 1h34m8 0h10m32 0h1m1 0h2m5 0h1m5 0h1m14 0h1m1 0h1m6 0h6m1 0h5m32 0h84m-251 1h11m1 0h22m9 0h7m2 0h1m32 0h3m5 0h1m20 0h1m4 0h2m3 0h3m1 0h1m1 0h5m32 0h84m-251 1h33m1 0h1m1 0h1m5 0h8m38 0h1m1 0h1m23 0h2m3 0h1m5 0h1m2 0h7m2 0h2m29 0h3m1 0h79m-251 1h40m2 0h9m7 0h1m24 0h1m3 0h2m26 0h1m2 0h3m5 0h1m1 0h13m27 0h83m-251 1h51m9 0h1m23 0h3m13 0h1m25 0h15m12 0h1m8 0h1m6 0h82m-251 1h48m34 0h1m14 0h5m18 0h1m1 0h3m1 0h15m12 0h2m4 0h1m9 0h82m-251 1h40m1 0h4m53 0h6m12 0h1m7 0h1m2 0h15m11 0h1m4 0h1m1 0h2m6 0h83m-251 1h41m2 0h1m1 0h1m9 0h1m31 0h1m10 0h6m2 0h1m16 0h17m1 0h1m11 0h1m3 0h8m1 0h85m-251 1h41m3 0h2m42 0h1m11 0h4m3 0h3m13 0h15m1 0h3m6 0h1m4 0h98m-251 1h43m12 0h1m32 0h1m13 0h11m11 0h5m1 0h8m1 0h1m1 0h1m5 0h3m2 0h99m-251 1h45m9 0h4m4 0h1m25 0h1m15 0h9m10 0h7m1 0h8m3 0h1m3 0h3m1 0h1m1 0h99m-251 1h44m10 0h3m20 0h2m7 0h1m4 0h1m4 0h1m6 0h10m11 0h5m1 0h9m2 0h2m2 0h2m2 0h2m1 0h99m-251 1h44m33 0h2m9 0h1m2 0h1m5 0h1m5 0h3m1 0h7m8 0h16m2 0h3m1 0h3m1 0h1m1 0h101m-251 1h46m31 0h2m7 0h1m1 0h2m6 0h1m5 0h3m3 0h8m6 0h18m5 0h1m1 0h2m3 0h99m-251 1h46m31 0h3m8 0h1m3 0h7m2 0h4m3 0h3m2 0h1m8 0h18m2 0h1m3 0h1m1 0h103m-251 1h47m31 0h2m7 0h3m5 0h1m2 0h2m1 0h1m4 0h5m11 0h19m1 0h1m6 0h102m-251 1h47m31 0h2m1 0h3m3 0h2m6 0h4m2 0h1m2 0h7m8 0h1m1 0h22m6 0h102m-251 1h48m17 0h1m9 0h2m5 0h4m2 0h1m7 0h3m1 0h9m1 0h1m7 0h23m1 0h2m4 0h103m-251 1h48m1 0h1m1 0h1m32 0h2m1 0h1m6 0h14m3 0h1m5 0h5m1 0h18m1 0h1m2 0h1m1 0h104"/>
<path stroke="#ffa500" d="M0 0m196 0h1m30 0h6m18 0h28m-85 1h3m24 0h1m3 0h1m1 0h6m18 0h28m-208 1h1m76 0h2m71 0h1m5 0h7m15 0h1m1 0h28m-208 1h1m7 0h1m67 0h3m67 0h1m7 0h1m4 0h3m5 0h1m10 0h30m-136 1h2m1 0h3m37 0h1m30 0h1m11 0h1m1 0h3m4 0h1m11 0h29m-137 1h2m2 0h1m34 0h1m13 0h1m32 0h2m1 0h1m17 0h1m1 0h28m-138 1h2m39 0h3m1 0h1m40 0h3m5 0h1m2 0h1m12 0h28m-98 1h2m1 0h3m6 0h2m17 0h1m8 0h2m3 0h3m4 0h1m2 0h4m11 0h28m-98 1h1m2 0h2m6 0h2m24 0h1m3 0h2m4 0h2m1 0h5m1 0h3m11 0h28m-263 1h1m66 0h1m9 0h1m87 0h4m32 0h1m1 0h1m9 0h4m4 0h3m11 0h28m-264 1h1m68 0h1m2 0h2m92 0h6m11 0h1m1 0h1m1 0h1m20 0h1m4 0h3m6 0h2m12 0h28m-266 1h3m25 0h1m42 0h1m1 0h2m93 0h4m2 0h1m12 0h3m1 0h1m14 0h2m2 0h1m6 0h1m20 0h28m-267 1h1m26 0h1m1 0h2m83 0h1m68 0h2m1 0h1m1 0h1m1 0h1m15 0h3m30 0h28m-266 1h1m21 0h1m4 0h1m2 0h1m7 0h1m75 0h1m61 0h1m6 0h1m2 0h5m1 0h1m4 0h4m2 0h1m1 0h2m3 0h1m1 0h4m22 0h28m-238 1h2m2 0h1m24 0h1m1 0h1m55 0h1m66 0h1m4 0h3m10 0h1m1 0h1m3 0h1m1 0h1m1 0h11m11 0h1m5 0h28m-237 1h1m8 0h1m2 0h1m139 0h3m2 0h2m11 0h1m7 0h1m7 0h6m17 0h28m-241 1h1m4 0h1m13 0h1m9 0h1m1 0h2m34 0h4m26 0h3m54 0h5m22 0h2m24 0h1m1 0h1m3 0h28m-236 1h1m5 0h2m53 0h4m26 0h5m16 0h3m34 0h1m1 0h2m2 0h1m49 0h2m1 0h28m-242 1h1m12 0h2m102 0h2m37 0h1m16 0h1m2 0h1m5 0h1m22 0h1m2 0h1m2 0h31m-234 1h1m2 0h1m1 0h1m7 0h1m42 0h2m88 0h1m21 0h1m26 0h1m9 0h13m1 0h15m-241 1h3m5 0h2m24 0h1m29 0h1m78 0h2m8 0h2m25 0h1m32 0h28m-247 1h5m1 0h2m6 0h2m19 0h1m2 0h1m1 0h1m119 0h1m26 0h1m31 0h28m-245 1h2m2 0h2m16 0h2m1 0h1m9 0h2m151 0h1m2 0h1m25 0h28m-244 1h2m16 0h1m3 0h1m84 0h2m19 0h2m58 0h1m28 0h27m-243 1h2m9 0h1m8 0h1m2 0h1m81 0h3m20 0h2m59 0h1m26 0h18m1 0h8m-248 1h2m4 0h1m9 0h2m4 0h1m4 0h1m81 0h2m22 0h2m48 0h2m2 0h1m6 0h1m2 0h1m8 0h2m3 0h1m8 0h7m1 0h20m-249 1h1m6 0h1m9 0h1m117 0h2m57 0h1m2 0h1m23 0h28m-250 1h1m46 0h1m89 0h2m45 0h1m9 0h1m3 0h1m13 0h1m3 0h2m4 0h28m-195 1h1m82 0h1m43 0h1m11 0h1m16 0h1m5 0h1m4 0h27m-195 1h3m4 0h1m155 0h2m3 0h19m1 0h7m-258 1h1m63 0h2m125 0h1m25 0h1m7 0h1m5 0h19m1 0h7m-54 1h1m20 0h3m3 0h19m1 0h7m-54 1h1m22 0h2m2 0h19m2 0h6m-257 1h1m195 0h1m6 0h1m19 0h2m1 0h2m2 0h13m1 0h13m-255 1h2m52 0h1m113 0h1m1 0h1m10 0h3m16 0h2m9 0h1m9 0h5m2 0h13m2 0h3m2 0h7m-214 1h1m11 0h1m114 0h1m3 0h1m4 0h6m17 0h1m10 0h2m7 0h3m1 0h1m1 0h29m-216 1h1m13 0h1m123 0h1m28 0h1m3 0h1m1 0h1m15 0h27m-55 1h1m4 0h9m14 0h14m1 0h12m-206 1h1m1 0h1m118 0h1m12 0h1m15 0h1m3 0h10m15 0h27m-206 1h1m45 0h1m101 0h2m3 0h12m1 0h2m2 0h3m1 0h3m1 0h28m-241 1h1m34 0h1m13 0h1m1 0h1m29 0h1m87 0h1m14 0h2m1 0h13m1 0h2m1 0h37m-252 1h1m1 0h1m58 0h1m116 0h1m17 0h15m1 0h2m1 0h37m-252 1h1m4 0h1m174 0h2m2 0h1m9 0h2m1 0h14m3 0h38m-253 1h2m2 0h3m170 0h1m2 0h1m1 0h1m2 0h1m9 0h18m1 0h1m1 0h37m-253 1h3m1 0h4m170 0h1m1 0h1m4 0h3m7 0h58m-251 1h1m3 0h2m43 0h1m101 0h1m24 0h1m2 0h8m6 0h1m1 0h56m-263 1h1m11 0h1m3 0h2m173 0h10m1 0h2m3 0h56m-263 1h2m11 0h1m2 0h2m4 0h1m165 0h1m1 0h3m1 0h5m1 0h1m2 0h1m2 0h57m-262 1h2m5 0h1m1 0h2m176 0h1m2 0h1m4 0h4m3 0h60m-232 1h3m153 0h2m3 0h1m4 0h1m1 0h1m2 0h1m1 0h59m-235 1h4m154 0h1m12 0h56m1 0h3m1 0h3m-236 1h3m141 0h1m14 0h1m12 0h60m2 0h2m-238 1h2m172 0h11m1 0h41m1 0h5m3 0h2m-251 1h1m158 0h1m9 0h1m2 0h1m13 0h60m4 0h1m-259 1h1m5 0h1m19 0h1m140 0h1m3 0h1m8 0h2m2 0h1m4 0h1m1 0h15m1 0h44m1 0h4m1 0h2m-253 1h1m21 0h1m96 0h4m26 0h2m8 0h1m1 0h1m11 0h2m3 0h2m3 0h17m1 0h43m2 0h6m-256 1h1m1 0h4m22 0h1m96 0h1m26 0h2m23 0h11m1 0h60m1 0h7m-256 1h1m1 0h1m14 0h2m110 0h2m20 0h1m21 0h72m1 0h10m-257 1h1m1 0h1m16 0h1m155 0h82m-239 1h1m154 0h8m1 0h1m1 0h5m1 0h67m-235 1h1m149 0h22m1 0h62m-244 1h2m9 0h1m149 0h9m1 0h1m1 0h3m1 0h3m1 0h51m1 0h11m-234 1h2m149 0h7m1 0h7m1 0h3m1 0h3m1 0h59m-233 1h1m150 0h1m1 0h16m1 0h51m2 0h10m-264 1h1m184 0h79m-264 1h1m176 0h1m3 0h10m4 0h61m1 0h3m1 0h3m-220 1h1m138 0h9m4 0h62m1 0h1m1 0h3m-240 1h1m18 0h2m137 0h9m4 0h1m2 0h57m1 0h2m1 0h1m2 0h1m-240 1h2m19 0h1m132 0h1m5 0h2m1 0h6m4 0h48m1 0h8m1 0h7m-217 1h1m135 0h3m1 0h1m1 0h2m1 0h5m2 0h12m1 0h45m1 0h5m1 0h2m-219 1h1m19 0h1m12 0h1m101 0h5m1 0h2m3 0h5m1 0h12m1 0h55m-201 1h2m12 0h1m101 0h9m3 0h73m-221 1h2m18 0h1m116 0h3m1 0h4m2 0h8m2 0h64m-242 1h2m20 0h1m18 0h1m110 0h1m5 0h9m1 0h11m1 0h19m1 0h37m1 0h3m-219 1h1m135 0h4m1 0h3m3 0h6m1 0h4m1 0h36m4 0h15m5 0h1m-219 1h1m133 0h6m6 0h12m1 0h32m4 0h1m1 0h16m-214 1h1m133 0h4m2 0h1m5 0h32m1 0h13m2 0h1m2 0h11m1 0h5m3 0h3m-221 1h1m53 0h2m71 0h1m8 0h3m9 0h33m1 0h9m2 0h1m3 0h17m1 0h1m1 0h4m-168 1h1m92 0h13m1 0h32m1 0h2m1 0h11m1 0h7m1 0h5m-75 1h18m1 0h17m1 0h4m1 0h4m3 0h1m1 0h9m1 0h14m-222 1h1m110 0h1m35 0h2m1 0h10m1 0h4m2 0h4m1 0h15m1 0h4m1 0h2m1 0h2m1 0h23m-221 1h2m9 0h2m134 0h1m1 0h14m1 0h1m2 0h20m2 0h2m1 0h3m1 0h25m-220 1h1m146 0h1m1 0h10m1 0h2m2 0h10m2 0h19m1 0h16m2 0h6m-211 1h1m136 0h44m2 0h2m2 0h24m-209 1h1m19 0h1m111 0h1m2 0h14m1 0h3m1 0h16m2 0h7m9 0h3m1 0h3m1 0h13m-92 1h1m14 0h7m1 0h8m2 0h2m2 0h4m1 0h1m1 0h2m2 0h2m1 0h1m2 0h1m2 0h5m13 0h4m1 0h12m-103 1h1m10 0h1m5 0h1m3 0h2m4 0h11m1 0h3m5 0h4m1 0h2m1 0h1m4 0h2m7 0h3m1 0h1m11 0h1m1 0h2m1 0h13m-117 1h1m18 0h2m4 0h2m4 0h2m2 0h1m4 0h4m1 0h1m1 0h4m1 0h4m2 0h2m1 0h1m1 0h3m7 0h1m1 0h1m6 0h6m2 0h3m6 0h18m-127 1h1m25 0h1m1 0h2m5 0h1m5 0h1m3 0h4m2 0h1m2 0h1m1 0h1m1 0h1m1 0h1m2 0h2m4 0h1m1 0h2m9 0h9m1 0h3m1 0h1m1 0h1m5 0h1m4 0h18m-130 1h1m2 0h1m26 0h3m18 0h1m1 0h2m1 0h3m2 0h2m2 0h1m5 0h1m1 0h2m1 0h4m5 0h2m1 0h1m2 0h6m3 0h1m4 0h4m3 0h2m2 0h14m-167 1h2m49 0h2m15 0h2m20 0h7m2 0h3m5 0h2m3 0h1m1 0h3m5 0h2m3 0h6m2 0h3m4 0h4m2 0h2m6 0h11m-168 1h1m1 0h3m33 0h1m13 0h1m5 0h2m9 0h1m4 0h1m15 0h6m1 0h1m3 0h2m1 0h13m12 0h1m2 0h7m1 0h2m2 0h3m2 0h4m4 0h11m-191 1h1m21 0h1m4 0h1m33 0h2m10 0h2m12 0h2m3 0h1m4 0h2m1 0h1m9 0h1m2 0h5m3 0h1m3 0h1m1 0h1m1 0h6m1 0h5m1 0h1m7 0h7m1 0h6m3 0h1m2 0h6m1 0h1m1 0h12m-164 1h1m33 0h2m9 0h2m24 0h1m14 0h1m2 0h2m3 0h1m1 0h1m1 0h12m4 0h3m5 0h17m3 0h22m-164 1h1m43 0h2m7 0h1m11 0h1m3 0h4m3 0h1m11 0h3m3 0h7m1 0h7m3 0h7m3 0h2m1 0h5m1 0h5m1 0h2m1 0h24m-170 1h1m5 0h1m50 0h1m13 0h1m5 0h1m4 0h2m11 0h1m3 0h7m2 0h5m1 0h2m2 0h1m1 0h3m5 0h11m1 0h1m4 0h25m-105 1h3m1 0h1m1 0h1m27 0h8m1 0h2m1 0h1m2 0h2m1 0h3m3 0h1m1 0h1m1 0h9m1 0h2m8 0h2m1 0h20m-107 1h4m1 0h1m24 0h1m4 0h4m1 0h8m3 0h3m5 0h1m2 0h13m1 0h1m1 0h3m3 0h23m-108 1h7m11 0h1m12 0h3m1 0h3m4 0h7m1 0h1m1 0h3m7 0h19m3 0h24m-109 1h3m1 0h5m10 0h2m12 0h5m8 0h6m6 0h1m4 0h6m1 0h39m-194 1h1m82 0h4m1 0h5m11 0h2m13 0h3m5 0h1m1 0h1m2 0h4m7 0h3m3 0h45m-190 1h1m78 0h6m1 0h3m12 0h1m12 0h5m4 0h1m2 0h7m5 0h5m1 0h2m1 0h9m2 0h12m1 0h19m-159 1h1m48 0h2m1 0h5m8 0h1m18 0h1m1 0h1m5 0h9m4 0h8m1 0h13m1 0h10m1 0h20m-174 1h1m13 0h1m1 0h1m46 0h8m9 0h2m7 0h1m1 0h1m8 0h2m7 0h8m3 0h13m1 0h40m-140 1h4m22 0h2m1 0h4m2 0h2m9 0h2m6 0h2m10 0h2m5 0h2m2 0h7m2 0h10m4 0h40m-139 1h1m22 0h1m1 0h1m3 0h1m15 0h3m3 0h5m9 0h2m10 0h2m1 0h5m1 0h9m1 0h2m1 0h9m1 0h1m2 0h27m-236 1h1m142 0h3m16 0h2m15 0h3m1 0h4m1 0h10m3 0h4m3 0h4m1 0h23m-102 1h3m7 0h2m16 0h1m11 0h2m7 0h2m2 0h3m1 0h7m3 0h4m1 0h30m-238 1h2m79 0h1m4 0h3m45 0h4m8 0h3m8 0h1m11 0h1m5 0h1m1 0h2m5 0h4m6 0h44m-113 1h1m6 0h6m9 0h2m6 0h1m13 0h2m5 0h1m1 0h1m3 0h4m3 0h1m1 0h2m1 0h44m-259 1h1m148 0h1m4 0h1m1 0h2m33 0h1m4 0h1m1 0h1m1 0h2m1 0h7m1 0h1m1 0h2m1 0h43m-134 1h1m29 0h2m44 0h8m1 0h5m2 0h4m1 0h1m1 0h2m1 0h32m-245 1h1m80 0h2m26 0h2m30 0h2m4 0h1m1 0h1m30 0h1m1 0h1m5 0h13m4 0h40m-235 1h1m70 0h1m26 0h1m31 0h2m7 0h1m15 0h1m12 0h1m1 0h3m1 0h1m3 0h13m5 0h5m4 0h30m-97 1h5m12 0h1m3 0h1m5 0h1m1 0h1m1 0h7m3 0h11m7 0h6m1 0h31m-242 1h1m143 0h4m13 0h1m4 0h4m3 0h2m1 0h8m1 0h1m1 0h1m1 0h8m4 0h1m3 0h31m1 0h5m-81 1h1m5 0h2m2 0h4m1 0h7m5 0h7m2 0h1m1 0h4m1 0h38m-92 1h2m9 0h2m9 0h2m4 0h7m6 0h3m1 0h1m1 0h8m1 0h36m-98 1h7m10 0h2m1 0h5m4 0h3m1 0h7m1 0h2m5 0h1m1 0h20m1 0h27m-136 1h1m35 0h6m13 0h2m2 0h3m7 0h4m1 0h1m2 0h3m2 0h1m1 0h1m3 0h19m2 0h27m-138 1h4m33 0h1m19 0h1m13 0h1m1 0h3m1 0h1m3 0h2m1 0h4m5 0h12m3 0h1m1 0h10m1 0h17m-153 1h1m14 0h4m31 0h2m20 0h2m11 0h3m1 0h2m2 0h1m3 0h5m7 0h11m1 0h3m2 0h27m-197 1h1m43 0h1m5 0h1m23 0h4m15 0h2m14 0h1m7 0h1m11 0h1m1 0h4m3 0h2m2 0h1m1 0h1m9 0h11m1 0h1m2 0h1m1 0h8m1 0h17m-153 1h2m3 0h1m23 0h4m12 0h5m19 0h6m12 0h1m1 0h2m4 0h1m3 0h1m11 0h1m3 0h7m1 0h2m2 0h26m-247 1h1m121 0h5m12 0h4m22 0h1m3 0h1m5 0h2m4 0h4m18 0h1m5 0h38m-126 1h2m3 0h1m5 0h1m4 0h4m34 0h10m14 0h2m2 0h1m3 0h1m1 0h38m-225 1h2m70 0h2m23 0h3m3 0h1m4 0h4m4 0h1m29 0h2m3 0h1m3 0h8m1 0h1m12 0h2m3 0h1m1 0h2m2 0h37m-153 1h1m23 0h3m1 0h3m5 0h5m34 0h1m3 0h1m7 0h2m1 0h2m9 0h1m4 0h2m2 0h11m2 0h30m-234 1h2m79 0h1m17 0h2m6 0h4m5 0h2m1 0h1m8 0h1m1 0h1m25 0h1m11 0h3m7 0h1m4 0h1m7 0h12m1 0h30m-225 1h1m88 0h3m4 0h3m7 0h3m37 0h2m14 0h3m17 0h11m1 0h31m-234 1h1m81 0h1m14 0h4m4 0h2m8 0h1m5 0h1m31 0h3m16 0h1m1 0h1m5 0h1m7 0h1m3 0h9m1 0h32m-152 1h2m12 0h5m3 0h2m10 0h1m33 0h1m11 0h2m4 0h1m14 0h1m7 0h43m-151 1h1m11 0h3m1 0h2m4 0h1m12 0h2m27 0h4m15 0h1m1 0h1m4 0h1m8 0h2m7 0h43m-237 1h3m83 0h2m10 0h5m5 0h1m11 0h2m2 0h3m23 0h4m5 0h1m4 0h2m1 0h2m2 0h1m11 0h1m1 0h1m4 0h2m1 0h5m1 0h12m3 0h23m-266 1h4m2 0h1m22 0h3m83 0h2m8 0h4m1 0h2m16 0h2m3 0h2m25 0h1m5 0h4m2 0h6m9 0h1m5 0h1m3 0h1m1 0h8m1 0h38m-266 1h1m5 0h2m22 0h3m82 0h2m2 0h1m27 0h2m31 0h1m6 0h12m9 0h1m10 0h8m3 0h13m1 0h22m-260 1h2m22 0h2m56 0h1m26 0h2m2 0h1m27 0h1m13 0h1m17 0h2m5 0h4m1 0h4m1 0h1m1 0h6m2 0h1m12 0h8m3 0h1m1 0h7m2 0h25m-261 1h1m1 0h2m78 0h2m71 0h1m18 0h2m4 0h9m4 0h6m3 0h2m5 0h3m4 0h2m1 0h2m3 0h1m1 0h7m2 0h26m-259 1h2m63 0h1m14 0h1m20 0h2m3 0h2m18 0h2m19 0h2m4 0h1m18 0h2m1 0h12m4 0h6m10 0h4m2 0h1m7 0h1m2 0h3m1 0h2m3 0h26m-260 1h3m10 0h1m52 0h1m13 0h2m9 0h1m16 0h1m16 0h4m10 0h2m7 0h3m3 0h2m3 0h2m15 0h9m1 0h3m3 0h2m1 0h4m7 0h2m1 0h3m1 0h2m9 0h7m2 0h27m-258 1h1m63 0h1m11 0h2m10 0h2m4 0h1m5 0h1m5 0h2m13 0h5m1 0h1m8 0h2m1 0h2m1 0h1m1 0h1m1 0h1m1 0h2m2 0h3m1 0h2m15 0h3m1 0h9m5 0h1m1 0h4m6 0h3m1 0h2m2 0h3m4 0h3m2 0h4m1 0h30m-259 1h2m63 0h2m9 0h1m3 0h1m9 0h3m1 0h3m2 0h2m20 0h3m1 0h2m4 0h1m2 0h1m2 0h2m1 0h3m4 0h1m1 0h3m1 0h2m2 0h2m15 0h2m2 0h7m1 0h2m3 0h1m3 0h1m3 0h1m4 0h12m1 0h4m2 0h1m1 0h5m1 0h28m-194 1h2m13 0h1m3 0h1m8 0h4m2 0h2m5 0h1m13 0h3m2 0h2m3 0h2m3 0h1m11 0h1m3 0h1m1 0h3m1 0h1m6 0h1m9 0h2m2 0h9m3 0h3m2 0h1m2 0h1m1 0h1m2 0h18m1 0h2m2 0h2m1 0h30m-228 1h1m33 0h2m13 0h2m1 0h3m7 0h9m4 0h1m4 0h2m7 0h2m3 0h2m3 0h2m4 0h1m3 0h1m2 0h1m2 0h2m5 0h5m5 0h2m8 0h2m1 0h7m1 0h1m5 0h2m2 0h1m1 0h1m1 0h1m1 0h1m2 0h7m1 0h9m5 0h2m3 0h1m1 0h27m-222 1h1m27 0h2m13 0h1m1 0h2m1 0h2m5 0h7m1 0h3m1 0h1m1 0h1m4 0h2m5 0h2m5 0h2m3 0h2m4 0h6m4 0h3m3 0h6m20 0h2m1 0h2m6 0h1m1 0h1m1 0h1m1 0h2m3 0h10m2 0h8m2 0h4m1 0h1m3 0h1m2 0h25m-228 1h1m5 0h1m28 0h1m12 0h1m1 0h1m10 0h6m2 0h3m8 0h2m4 0h3m2 0h1m2 0h2m3 0h2m4 0h6m1 0h1m1 0h4m3 0h5m22 0h4m1 0h2m3 0h1m1 0h1m1 0h1m1 0h1m4 0h10m1 0h17m1 0h1m2 0h27m-180 1h2m11 0h5m1 0h5m9 0h2m2 0h2m3 0h2m4 0h1m5 0h1m1 0h7m2 0h5m5 0h3m1 0h1m13 0h3m4 0h6m3 0h1m12 0h26m5 0h27m-174 1h1m8 0h5m1 0h1m1 0h1m2 0h1m5 0h4m6 0h2m8 0h1m1 0h3m1 0h12m4 0h1m18 0h9m1 0h2m4 0h3m4 0h2m4 0h10m3 0h4m1 0h5m2 0h1m3 0h29m-262 1h1m74 0h1m10 0h3m4 0h1m5 0h2m1 0h1m1 0h1m1 0h1m7 0h5m4 0h1m12 0h3m1 0h9m2 0h1m7 0h1m17 0h4m1 0h5m5 0h3m2 0h17m2 0h4m1 0h4m3 0h1m1 0h10m1 0h21m-228 1h1m40 0h1m8 0h1m1 0h3m6 0h1m5 0h1m8 0h1m1 0h7m1 0h1m1 0h2m12 0h2m2 0h12m12 0h1m14 0h8m7 0h1m3 0h20m1 0h2m1 0h4m4 0h32m-229 1h2m50 0h4m24 0h6m2 0h3m16 0h10m1 0h1m3 0h1m5 0h6m13 0h3m1 0h3m6 0h1m1 0h2m1 0h9m1 0h3m1 0h5m2 0h1m1 0h6m3 0h32m-229 1h2m47 0h1m3 0h3m3 0h1m17 0h1m2 0h3m1 0h2m1 0h1m1 0h4m14 0h7m2 0h2m2 0h5m2 0h1m1 0h5m14 0h2m2 0h1m6 0h1m1 0h2m3 0h18m1 0h5m1 0h3m3 0h32m-244 1h1m15 0h1m47 0h2m2 0h1m1 0h1m1 0h1m16 0h1m1 0h1m3 0h1m6 0h2m1 0h4m11 0h10m2 0h1m2 0h7m1 0h6m13 0h1m13 0h1m3 0h10m1 0h6m6 0h2m1 0h4m2 0h32m-238 1h2m37 0h1m18 0h3m1 0h4m1 0h2m5 0h2m16 0h5m2 0h1m1 0h1m12 0h9m3 0h1m2 0h1m1 0h3m1 0h2m1 0h3m1 0h1m12 0h1m12 0h3m3 0h7m1 0h2m1 0h8m2 0h9m3 0h31m-233 1h1m10 0h2m27 0h1m1 0h1m10 0h2m1 0h1m2 0h3m3 0h1m3 0h2m6 0h2m8 0h5m15 0h1m1 0h3m1 0h6m1 0h2m3 0h9m3 0h4m15 0h2m5 0h3m4 0h3m2 0h1m1 0h1m1 0h8m4 0h1m1 0h4m1 0h1m3 0h31m-249 1h1m9 0h1m17 0h1m30 0h1m9 0h1m2 0h2m1 0h3m1 0h1m2 0h2m3 0h1m5 0h2m14 0h1m12 0h1m1 0h1m2 0h3m1 0h2m4 0h1m4 0h8m3 0h4m15 0h3m1 0h2m1 0h2m1 0h1m2 0h2m4 0h2m1 0h13m1 0h6m2 0h1m1 0h31m-250 1h1m4 0h1m1 0h1m11 0h1m1 0h1m7 0h2m19 0h1m9 0h1m11 0h4m1 0h1m2 0h1m5 0h4m5 0h2m10 0h1m2 0h2m13 0h1m1 0h4m1 0h2m13 0h1m1 0h2m2 0h4m6 0h1m1 0h2m5 0h1m1 0h2m2 0h1m1 0h2m1 0h2m2 0h1m5 0h9m2 0h8m7 0h31m-251 1h2m9 0h3m1 0h2m1 0h2m1 0h2m1 0h1m1 0h1m3 0h2m41 0h7m1 0h1m2 0h1m2 0h2m2 0h2m3 0h2m7 0h1m2 0h2m1 0h1m15 0h4m1 0h4m18 0h3m4 0h2m1 0h3m2 0h1m4 0h2m2 0h6m4 0h2m1 0h1m1 0h2m1 0h1m1 0h16m5 0h32m-253 1h1m2 0h1m7 0h1m1 0h1m1 0h1m2 0h2m1 0h3m1 0h1m2 0h1m3 0h3m7 0h1m8 0h1m24 0h1m2 0h4m2 0h2m3 0h2m1 0h1m5 0h2m6 0h1m1 0h2m19 0h8m7 0h1m7 0h5m13 0h1m2 0h1m1 0h1m1 0h1m1 0h2m1 0h2m14 0h5m1 0h9m1 0h1m4 0h4m1 0h28m-251 1h2m8 0h1m5 0h6m2 0h3m4 0h1m6 0h3m1 0h2m1 0h1m26 0h1m1 0h1m2 0h3m3 0h2m3 0h2m1 0h4m2 0h1m7 0h3m18 0h6m1 0h4m1 0h2m10 0h5m7 0h3m4 0h1m1 0h2m2 0h1m1 0h6m8 0h1m6 0h16m6 0h7m1 0h23m-248 1h1m6 0h1m6 0h5m2 0h1m10 0h3m6 0h2m10 0h2m14 0h3m2 0h2m3 0h2m4 0h2m2 0h3m2 0h1m8 0h1m20 0h2m1 0h2m1 0h7m11 0h3m3 0h2m3 0h1m2 0h1m5 0h6m2 0h3m15 0h1m1 0h13m9 0h30m-242 1h2m6 0h4m11 0h2m1 0h5m1 0h1m3 0h2m3 0h1m3 0h2m16 0h2m3 0h2m3 0h2m4 0h2m2 0h4m15 0h1m10 0h1m3 0h12m1 0h2m5 0h1m1 0h1m1 0h2m2 0h2m1 0h4m4 0h2m3 0h2m1 0h8m11 0h4m2 0h3m2 0h8m1 0h1m1 0h1m6 0h1m1 0h2m2 0h24m-250 1h2m1 0h2m13 0h1m11 0h9m4 0h2m4 0h3m1 0h1m16 0h5m6 0h2m1 0h1m2 0h3m1 0h1m1 0h2m26 0h2m2 0h13m12 0h1m2 0h2m1 0h4m6 0h1m2 0h2m3 0h2m1 0h2m1 0h1m10 0h4m1 0h11m1 0h6m2 0h4m1 0h29m-252 1h1m2 0h3m2 0h1m1 0h1m1 0h1m14 0h1m2 0h5m9 0h3m3 0h4m18 0h3m1 0h1m1 0h1m2 0h3m8 0h1m3 0h3m23 0h1m4 0h4m4 0h2m1 0h2m1 0h1m10 0h3m3 0h2m1 0h1m1 0h1m5 0h1m1 0h1m2 0h2m1 0h1m1 0h2m14 0h9m1 0h4m1 0h5m1 0h1m1 0h4m1 0h12m1 0h16m-247 1h1m2 0h1m4 0h2m16 0h4m9 0h4m1 0h1m1 0h2m3 0h1m15 0h4m5 0h4m7 0h1m1 0h2m10 0h1m13 0h3m4 0h2m9 0h1m10 0h6m3 0h2m1 0h1m5 0h3m4 0h2m2 0h3m14 0h13m1 0h11m2 0h1m1 0h28m-250 1h1m1 0h2m14 0h2m8 0h2m1 0h2m1 0h1m4 0h2m1 0h3m10 0h1m14 0h3m9 0h2m13 0h5m15 0h4m1 0h1m2 0h1m3 0h3m4 0h1m11 0h4m4 0h4m3 0h4m1 0h1m2 0h1m4 0h2m15 0h3m2 0h10m1 0h1m1 0h2m2 0h5m2 0h28m-252 1h1m13 0h1m6 0h1m5 0h1m1 0h2m2 0h3m7 0h2m25 0h1m1 0h4m9 0h2m11 0h4m1 0h1m1 0h1m1 0h1m11 0h2m2 0h2m1 0h1m2 0h9m2 0h1m9 0h4m4 0h4m2 0h2m2 0h1m6 0h1m1 0h3m15 0h7m1 0h7m2 0h1m1 0h1m2 0h4m2 0h1m1 0h2m2 0h23m-255 1h1m4 0h1m1 0h2m7 0h2m2 0h1m1 0h1m6 0h4m3 0h2m2 0h1m2 0h6m3 0h1m11 0h1m10 0h2m1 0h1m9 0h6m6 0h7m1 0h1m1 0h2m10 0h2m2 0h1m1 0h1m4 0h1m1 0h6m2 0h1m6 0h1m4 0h3m5 0h2m5 0h1m1 0h1m6 0h5m1 0h1m2 0h1m8 0h22m1 0h2m2 0h5m3 0h23m-248 1h2m10 0h2m5 0h1m1 0h4m5 0h2m1 0h1m2 0h1m1 0h2m4 0h4m4 0h1m16 0h1m12 0h4m6 0h3m2 0h2m18 0h1m13 0h3m1 0h2m4 0h4m2 0h2m1 0h1m5 0h1m8 0h2m1 0h2m4 0h2m2 0h3m8 0h21m1 0h1m1 0h2m1 0h1m2 0h3m3 0h23m-256 1h1m12 0h1m6 0h2m5 0h4m4 0h1m3 0h2m11 0h2m1 0h2m2 0h2m4 0h2m6 0h1m17 0h2m7 0h2m1 0h1m2 0h2m3 0h2m3 0h2m11 0h2m4 0h1m2 0h3m1 0h3m2 0h5m2 0h2m1 0h1m2 0h1m2 0h2m4 0h1m7 0h4m1 0h2m2 0h2m11 0h16m1 0h3m1 0h1m1 0h3m1 0h1m4 0h8m2 0h15m-252 1h1m8 0h2m6 0h1m4 0h5m2 0h1m5 0h2m8 0h1m1 0h5m3 0h2m12 0h3m15 0h2m4 0h1m2 0h2m3 0h1m1 0h1m3 0h3m1 0h4m9 0h1m6 0h2m1 0h2m2 0h2m2 0h4m5 0h1m1 0h1m1 0h2m3 0h4m1 0h2m1 0h1m2 0h1m1 0h5m5 0h2m2 0h1m8 0h8m1 0h2m2 0h10m1 0h1m2 0h2m1 0h2m1 0h6m1 0h16m-251 1h1m8 0h1m6 0h1m3 0h3m5 0h3m3 0h2m7 0h1m1 0h3m2 0h1m1 0h7m8 0h1m2 0h1m20 0h1m3 0h2m2 0h2m1 0h2m1 0h7m10 0h2m7 0h1m4 0h3m1 0h3m7 0h2m2 0h1m6 0h1m1 0h3m2 0h16m1 0h2m1 0h1m4 0h1m2 0h6m2 0h1m1 0h2m1 0h7m4 0h8m1 0h22m-230 1h2m6 0h1m4 0h2m7 0h2m1 0h1m5 0h1m1 0h4m1 0h1m11 0h1m19 0h1m8 0h1m1 0h2m1 0h6m11 0h1m8 0h2m3 0h2m2 0h3m9 0h1m1 0h2m5 0h3m1 0h2m2 0h9m2 0h10m2 0h1m1 0h8m2 0h1m3 0h9m1 0h3m1 0h29m-252 1h1m28 0h2m14 0h1m2 0h1m7 0h2m13 0h1m19 0h2m11 0h3m25 0h3m1 0h2m2 0h7m3 0h1m1 0h2m2 0h1m1 0h2m1 0h1m2 0h1m2 0h6m2 0h2m2 0h1m1 0h9m1 0h2m1 0h7m2 0h1m2 0h1m1 0h19m1 0h24m-252 1h2m6 0h1m4 0h2m15 0h1m12 0h2m9 0h1m3 0h1m3 0h1m8 0h1m7 0h1m9 0h1m1 0h3m10 0h3m5 0h1m20 0h5m2 0h2m1 0h4m1 0h2m1 0h1m3 0h1m4 0h2m2 0h1m2 0h9m1 0h3m2 0h3m1 0h2m4 0h6m1 0h5m3 0h45m-255 1h1m15 0h2m14 0h2m4 0h2m7 0h1m5 0h2m2 0h1m1 0h1m15 0h1m5 0h2m12 0h2m10 0h5m24 0h6m1 0h2m1 0h2m2 0h1m8 0h6m2 0h1m2 0h2m3 0h2m3 0h1m1 0h1m3 0h5m8 0h30m1 0h25m-238 1h2m10 0h1m1 0h1m7 0h1m1 0h1m4 0h1m4 0h5m25 0h1m13 0h2m10 0h4m25 0h4m15 0h1m3 0h1m3 0h1m16 0h2m5 0h3m8 0h57m-239 1h4m12 0h1m6 0h3m5 0h3m2 0h1m1 0h2m33 0h1m5 0h3m9 0h2m18 0h2m7 0h6m1 0h2m4 0h1m9 0h1m2 0h2m2 0h1m8 0h1m4 0h2m6 0h2m8 0h6m1 0h50m-238 1h2m8 0h1m3 0h1m8 0h1m7 0h2m2 0h2m1 0h1m6 0h1m5 0h2m18 0h3m3 0h1m1 0h2m9 0h1m17 0h1m2 0h1m7 0h2m1 0h1m1 0h1m6 0h2m9 0h3m11 0h4m3 0h2m8 0h1m6 0h2m1 0h4m1 0h50m-238 1h2m20 0h1m1 0h2m6 0h5m1 0h1m9 0h2m1 0h2m6 0h2m9 0h2m1 0h1m4 0h4m7 0h1m18 0h1m2 0h1m19 0h3m4 0h1m4 0h2m1 0h1m9 0h4m5 0h2m2 0h1m2 0h1m3 0h2m2 0h2m2 0h3m2 0h8m1 0h15m1 0h22m-240 1h1m3 0h5m7 0h1m20 0h6m5 0h1m2 0h1m4 0h1m6 0h2m8 0h2m1 0h2m3 0h2m1 0h2m6 0h2m18 0h1m10 0h2m10 0h3m4 0h2m5 0h2m2 0h1m5 0h5m3 0h1m1 0h1m3 0h2m2 0h2m1 0h9m1 0h1m5 0h28m1 0h16m-259 1h3m12 0h1m1 0h4m2 0h3m9 0h1m15 0h1m3 0h6m2 0h1m1 0h2m14 0h2m13 0h1m5 0h2m6 0h1m18 0h2m10 0h2m3 0h1m6 0h2m5 0h2m1 0h1m2 0h5m1 0h1m2 0h6m4 0h2m2 0h4m2 0h2m1 0h1m1 0h7m1 0h4m1 0h3m2 0h42m-263 1h1m3 0h2m12 0h4m6 0h1m7 0h2m3 0h2m14 0h1m2 0h4m3 0h2m3 0h1m11 0h1m12 0h2m12 0h2m30 0h3m4 0h2m4 0h1m6 0h2m2 0h1m1 0h6m2 0h6m4 0h1m4 0h5m1 0h3m2 0h1m2 0h1m1 0h1m3 0h1m2 0h48m-265 1h1m6 0h1m9 0h1m1 0h1m1 0h1m6 0h2m6 0h7m8 0h1m4 0h1m2 0h7m3 0h2m15 0h1m7 0h1m18 0h1m25 0h1m5 0h2m4 0h1m9 0h2m3 0h3m5 0h3m2 0h6m1 0h1m1 0h2m5 0h6m4 0h2m5 0h1m1 0h4m1 0h46m-264 1h1m12 0h1m1 0h1m3 0h1m16 0h1m3 0h3m9 0h1m4 0h1m4 0h2m1 0h5m17 0h2m3 0h1m6 0h2m4 0h1m6 0h1m26 0h1m4 0h1m1 0h3m11 0h5m2 0h2m4 0h4m4 0h1m4 0h1m2 0h2m2 0h8m4 0h1m4 0h3m1 0h2m2 0h46m-263 1h1m10 0h2m1 0h3m6 0h1m2 0h2m6 0h3m3 0h4m5 0h1m1 0h1m4 0h1m4 0h3m1 0h3m21 0h2m7 0h2m1 0h1m2 0h1m5 0h2m11 0h3m3 0h1m8 0h1m3 0h6m9 0h2m1 0h2m1 0h1m1 0h1m1 0h1m3 0h4m11 0h1m5 0h6m1 0h1m5 0h2m2 0h26m2 0h26m-261 1h2m8 0h5m7 0h1m3 0h1m4 0h4m2 0h1m1 0h3m8 0h1m1 0h1m1 0h1m3 0h1m3 0h1m1 0h2m2 0h1m16 0h2m7 0h4m4 0h1m5 0h2m10 0h3m4 0h1m8 0h1m3 0h3m1 0h1m3 0h1m1 0h1m1 0h1m1 0h1m4 0h3m5 0h6m1 0h1m1 0h1m6 0h5m2 0h2m1 0h5m4 0h7m1 0h2m1 0h15m2 0h31m-261 1h6m7 0h2m12 0h1m1 0h1m1 0h2m12 0h1m2 0h1m9 0h1m3 0h1m13 0h1m9 0h1m7 0h2m3 0h1m2 0h1m5 0h2m8 0h4m4 0h2m8 0h1m7 0h10m3 0h1m1 0h1m8 0h5m1 0h4m6 0h2m2 0h1m1 0h1m3 0h3m6 0h3m2 0h1m2 0h17m2 0h31m-261 1h3m2 0h1m7 0h1m2 0h1m12 0h1m1 0h1m2 0h1m23 0h1m3 0h1m15 0h1m6 0h2m6 0h2m13 0h1m7 0h4m7 0h1m15 0h7m2 0h4m14 0h3m3 0h4m6 0h2m1 0h1m4 0h4m5 0h2m2 0h4m1 0h1m1 0h14m3 0h30m-266 1h1m18 0h1m1 0h1m14 0h5m18 0h1m8 0h1m5 0h2m6 0h1m7 0h1m7 0h2m12 0h2m2 0h1m3 0h3m8 0h1m17 0h3m1 0h1m2 0h4m3 0h1m11 0h2m4 0h3m6 0h3m6 0h2m7 0h9m1 0h1m1 0h4m1 0h8m1 0h32m-265 1h1m15 0h1m15 0h9m1 0h2m14 0h3m1 0h3m8 0h2m14 0h1m15 0h1m13 0h2m3 0h1m23 0h4m4 0h3m30 0h2m6 0h3m4 0h8m1 0h4m3 0h2m1 0h42m-250 1h1m17 0h7m6 0h3m10 0h1m5 0h1m6 0h2m6 0h1m9 0h1m57 0h1m1 0h2m3 0h4m9 0h1m20 0h3m5 0h2m4 0h5m3 0h2m1 0h5m2 0h2m2 0h2m2 0h36m-243 1h1m10 0h1m1 0h3m10 0h1m6 0h2m1 0h3m2 0h1m5 0h1m1 0h1m1 0h1m15 0h2m29 0h4m25 0h3m1 0h1m3 0h2m8 0h1m3 0h1m17 0h2m3 0h5m3 0h5m4 0h3m1 0h7m3 0h40m-250 1h1m2 0h1m4 0h1m11 0h2m12 0h1m5 0h1m1 0h1m15 0h1m16 0h1m15 0h2m12 0h2m28 0h1m2 0h1m3 0h1m6 0h2m5 0h2m1 0h1m10 0h1m3 0h6m2 0h3m2 0h4m3 0h1m1 0h1m4 0h6m1 0h6m1 0h35m-241 1h1m30 0h1m2 0h1m1 0h2m12 0h2m14 0h2m11 0h1m3 0h1m11 0h3m25 0h1m7 0h1m1 0h1m4 0h6m3 0h2m9 0h2m13 0h1m1 0h1m1 0h3m3 0h2m8 0h48m-254 1h1m23 0h4m18 0h1m3 0h1m2 0h4m5 0h1m4 0h1m1 0h1m10 0h1m11 0h1m2 0h1m27 0h2m19 0h1m1 0h1m2 0h4m1 0h2m4 0h2m3 0h1m19 0h2m1 0h2m1 0h3m2 0h3m8 0h5m1 0h9m1 0h31m-236 1h1m6 0h1m1 0h2m5 0h1m20 0h1m36 0h3m7 0h1m20 0h1m9 0h2m2 0h1m5 0h2m1 0h1m2 0h3m8 0h3m4 0h1m21 0h4m2 0h4m8 0h4m3 0h40m-261 1h1m32 0h1m12 0h1m7 0h1m7 0h1m36 0h3m6 0h1m5 0h1m15 0h1m6 0h1m1 0h3m1 0h1m21 0h1m1 0h3m28 0h10m7 0h4m3 0h39m-262 1h1m7 0h1m14 0h1m1 0h2m21 0h1m7 0h1m7 0h1m9 0h2m24 0h2m29 0h1m7 0h1m4 0h2m13 0h5m4 0h3m7 0h1m9 0h1m3 0h1m6 0h2m3 0h4m7 0h4m3 0h40m-263 1h1m5 0h4m2 0h1m12 0h1m2 0h1m5 0h2m13 0h1m5 0h6m1 0h4m10 0h2m10 0h1m27 0h1m15 0h1m11 0h2m13 0h5m6 0h2m7 0h2m16 0h2m2 0h1m3 0h2m1 0h1m9 0h3m1 0h1m3 0h7m1 0h29m-264 1h2m4 0h2m15 0h1m1 0h1m2 0h2m6 0h1m12 0h3m6 0h4m1 0h1m1 0h1m1 0h1m6 0h4m1 0h1m35 0h2m4 0h2m3 0h1m33 0h1m10 0h1m8 0h2m2 0h1m12 0h6m4 0h1m1 0h1m9 0h2m2 0h4m1 0h2m3 0h31m-264 1h1m3 0h2m17 0h2m1 0h2m7 0h1m22 0h5m11 0h4m35 0h1m5 0h4m3 0h3m18 0h1m11 0h1m2 0h1m7 0h2m8 0h1m4 0h1m4 0h2m4 0h9m1 0h1m1 0h5m6 0h1m2 0h9m2 0h31m-266 1h1m21 0h5m1 0h1m29 0h6m11 0h3m37 0h2m1 0h1m2 0h3m5 0h4m18 0h1m8 0h3m9 0h2m8 0h1m4 0h1m4 0h3m3 0h11m3 0h3m2 0h1m6 0h7m1 0h34m-244 1h6m28 0h3m6 0h1m10 0h3m5 0h1m46 0h4m8 0h2m1 0h1m8 0h1m1 0h1m1 0h3m2 0h2m6 0h2m1 0h1m3 0h5m2 0h4m1 0h9m1 0h8m2 0h4m1 0h5m3 0h4m1 0h1m1 0h35m-244 1h2m1 0h1m34 0h1m1 0h1m14 0h10m19 0h2m5 0h2m8 0h1m7 0h1m2 0h1m8 0h1m7 0h1m1 0h1m1 0h7m1 0h3m4 0h2m3 0h1m2 0h3m1 0h3m2 0h2m1 0h21m1 0h2m2 0h1m1 0h2m1 0h1m2 0h1m3 0h1m1 0h11m1 0h24m-243 1h1m8 0h1m25 0h1m1 0h2m9 0h1m8 0h6m19 0h1m1 0h2m2 0h4m9 0h1m6 0h1m14 0h2m5 0h2m3 0h3m2 0h2m5 0h3m2 0h2m2 0h1m2 0h2m2 0h2m2 0h25m2 0h5m1 0h1m1 0h1m1 0h1m3 0h8m3 0h24m-246 1h2m1 0h1m11 0h1m22 0h2m6 0h2m1 0h1m40 0h2m1 0h3m8 0h1m7 0h1m11 0h1m1 0h3m2 0h2m3 0h1m1 0h2m1 0h5m3 0h1m1 0h2m2 0h2m3 0h3m3 0h2m4 0h23m2 0h5m8 0h1m4 0h31m-244 1h2m11 0h2m20 0h2m7 0h2m8 0h1m1 0h1m32 0h4m7 0h2m22 0h3m1 0h3m2 0h12m2 0h5m2 0h2m4 0h6m5 0h21m3 0h2m1 0h1m4 0h1m3 0h1m1 0h35m-243 1h1m7 0h1m44 0h2m13 0h1m19 0h3m8 0h2m22 0h14m1 0h5m3 0h5m1 0h3m6 0h4m5 0h13m1 0h1m1 0h5m4 0h1m12 0h16m1 0h18m-250 1h1m19 0h1m3 0h1m11 0h1m10 0h1m27 0h1m1 0h1m17 0h3m9 0h1m22 0h15m2 0h4m4 0h7m1 0h2m4 0h6m7 0h8m1 0h8m1 0h2m2 0h3m4 0h2m2 0h35m-262 1h1m10 0h1m19 0h1m7 0h1m5 0h2m12 0h1m25 0h2m1 0h1m1 0h2m15 0h2m13 0h2m2 0h2m13 0h2m1 0h2m1 0h2m1 0h1m2 0h4m4 0h2m5 0h7m5 0h5m9 0h9m4 0h4m3 0h2m2 0h1m4 0h20m1 0h18m-261 1h2m8 0h1m7 0h1m3 0h1m1 0h1m6 0h1m5 0h2m8 0h1m25 0h1m1 0h1m8 0h6m16 0h1m12 0h5m17 0h1m2 0h1m19 0h1m2 0h5m3 0h1m3 0h3m11 0h1m2 0h5m3 0h1m2 0h3m10 0h14m1 0h26m-260 1h1m7 0h2m11 0h3m11 0h2m5 0h1m9 0h2m12 0h1m4 0h4m8 0h1m1 0h1m2 0h3m2 0h2m10 0h1m11 0h2m1 0h2m2 0h1m14 0h1m4 0h1m16 0h9m2 0h1m1 0h1m4 0h3m11 0h1m2 0h6m5 0h3m4 0h2m2 0h14m1 0h27m-253 1h2m12 0h3m11 0h1m16 0h5m14 0h1m1 0h1m1 0h1m4 0h1m1 0h6m1 0h1m2 0h2m18 0h2m4 0h5m23 0h2m3 0h1m10 0h9m2 0h5m2 0h3m8 0h1m5 0h3m1 0h1m6 0h3m3 0h4m1 0h7m1 0h6m1 0h26m-255 1h4m12 0h3m28 0h2m16 0h1m12 0h1m7 0h1m1 0h1m2 0h1m15 0h3m2 0h1m1 0h3m3 0h1m5 0h3m12 0h2m10 0h1m4 0h1m1 0h1m2 0h2m3 0h5m19 0h3m10 0h1m4 0h2m1 0h14m1 0h27m-258 1h4m14 0h4m17 0h1m11 0h2m4 0h1m17 0h2m1 0h2m3 0h1m7 0h1m1 0h3m14 0h1m4 0h1m1 0h8m6 0h3m11 0h1m10 0h1m6 0h1m1 0h3m2 0h6m20 0h2m2 0h5m3 0h2m2 0h4m1 0h12m1 0h1m1 0h26m-262 1h1m3 0h3m36 0h1m28 0h3m1 0h1m3 0h2m17 0h6m13 0h1m3 0h2m1 0h1m2 0h2m8 0h2m9 0h2m9 0h3m4 0h1m5 0h1m1 0h5m21 0h1m1 0h1m1 0h4m3 0h2m3 0h2m1 0h9m2 0h1m1 0h29m-257 1h3m8 0h1m25 0h1m26 0h2m1 0h1m1 0h2m1 0h4m12 0h1m8 0h3m15 0h1m1 0h2m4 0h4m8 0h2m7 0h2m9 0h2m1 0h5m1 0h1m2 0h1m3 0h5m7 0h3m1 0h3m6 0h5m1 0h4m1 0h2m4 0h2m1 0h8m3 0h30m-262 1h1m67 0h3m1 0h1m4 0h3m5 0h1m8 0h1m5 0h2m2 0h1m17 0h2m3 0h2m2 0h1m9 0h4m5 0h2m8 0h2m2 0h5m8 0h4m7 0h3m3 0h1m6 0h8m1 0h3m5 0h1m1 0h9m2 0h1m1 0h1m2 0h26m-194 1h1m8 0h3m4 0h2m10 0h1m4 0h2m18 0h1m5 0h6m2 0h1m7 0h2m5 0h1m9 0h1m4 0h11m1 0h3m7 0h2m3 0h1m9 0h2m1 0h2m3 0h2m1 0h3m5 0h14m2 0h25m-244 1h2m61 0h1m11 0h1m7 0h2m17 0h2m4 0h2m2 0h2m3 0h1m17 0h1m6 0h1m2 0h12m2 0h1m1 0h1m8 0h1m2 0h3m11 0h1m1 0h4m1 0h20m1 0h2m1 0h26m-255 1h1m11 0h1m105 0h3m3 0h1m3 0h1m23 0h1m4 0h3m12 0h2m6 0h4m1 0h2m13 0h3m2 0h22m4 0h7m1 0h16m-243 1h2m1 0h1m17 0h2m28 0h1m23 0h2m18 0h1m8 0h1m1 0h2m8 0h1m2 0h2m24 0h2m15 0h5m2 0h1m1 0h3m12 0h4m1 0h14m1 0h4m1 0h5m1 0h9m1 0h3m-229 1h1m2 0h1m17 0h1m38 0h1m13 0h2m26 0h6m6 0h2m4 0h2m11 0h1m11 0h2m13 0h4m1 0h11m3 0h2m4 0h3m2 0h21m1 0h2m1 0h3m1 0h6m1 0h3m-229 1h2m2 0h1m9 0h1m1 0h2m57 0h3m23 0h1m12 0h2m4 0h1m7 0h1m3 0h3m4 0h1m19 0h15m1 0h4m1 0h2m2 0h3m2 0h3m4 0h33m-247 1h1m18 0h1m2 0h1m8 0h2m1 0h2m58 0h5m24 0h1m9 0h1m2 0h2m6 0h1m5 0h1m1 0h2m3 0h1m20 0h14m1 0h1m1 0h2m1 0h2m1 0h3m2 0h4m5 0h32m-245 1h1m24 0h2m1 0h3m1 0h2m46 0h1m13 0h5m16 0h3m4 0h1m3 0h1m6 0h2m13 0h3m3 0h2m21 0h13m5 0h1m2 0h3m3 0h5m1 0h2m2 0h1m1 0h1m1 0h1m1 0h25m-251 1h1m4 0h2m31 0h2m7 0h2m37 0h1m15 0h1m19 0h4m12 0h3m4 0h1m38 0h11m2 0h3m4 0h4m1 0h8m2 0h1m5 0h26m-246 1h2m40 0h2m4 0h1m70 0h3m6 0h3m2 0h2m3 0h6m5 0h1m29 0h5m1 0h7m1 0h2m5 0h1m1 0h12m1 0h1m8 0h22m-250 1h1m2 0h3m40 0h2m4 0h1m6 0h2m32 0h2m29 0h4m3 0h3m2 0h2m3 0h7m6 0h2m21 0h3m3 0h16m5 0h16m1 0h2m4 0h23m-246 1h1m33 0h1m7 0h2m3 0h1m1 0h1m3 0h1m36 0h2m25 0h1m6 0h2m1 0h1m12 0h1m6 0h5m21 0h2m1 0h1m2 0h1m2 0h4m1 0h3m1 0h7m4 0h14m8 0h22m-246 1h1m2 0h1m38 0h2m3 0h1m3 0h1m38 0h2m5 0h1m19 0h1m2 0h1m2 0h2m1 0h1m11 0h1m7 0h6m11 0h2m7 0h10m1 0h1m2 0h2m1 0h8m5 0h1m1 0h12m2 0h1m1 0h1m1 0h10m1 0h13m-245 1h1m12 0h1m76 0h2m6 0h1m16 0h2m5 0h3m3 0h2m13 0h11m4 0h2m2 0h3m6 0h2m1 0h7m3 0h3m1 0h8m4 0h1m2 0h8m1 0h2m8 0h1m1 0h21m-210 1h1m54 0h2m22 0h4m1 0h1m2 0h2m5 0h1m12 0h2m5 0h1m3 0h6m4 0h2m6 0h1m1 0h7m4 0h3m3 0h7m5 0h12m1 0h1m2 0h2m1 0h24m-245 1h1m13 0h1m11 0h1m21 0h3m14 0h2m23 0h2m23 0h3m1 0h1m9 0h2m10 0h2m5 0h3m1 0h7m2 0h1m5 0h1m1 0h10m5 0h2m1 0h3m2 0h4m3 0h46m-253 1h1m15 0h2m13 0h1m23 0h5m39 0h1m26 0h2m9 0h4m7 0h2m7 0h2m2 0h6m7 0h1m1 0h1m2 0h10m1 0h1m1 0h10m2 0h1m3 0h9m2 0h15m1 0h1m1 0h7m1 0h7m-242 1h1m4 0h3m24 0h1m1 0h1m2 0h1m6 0h3m4 0h1m37 0h1m11 0h1m7 0h1m2 0h1m3 0h2m33 0h6m14 0h22m1 0h1m1 0h1m2 0h7m1 0h9m1 0h2m1 0h13m3 0h7m-236 1h2m2 0h1m4 0h3m7 0h2m8 0h1m6 0h2m4 0h2m50 0h1m7 0h1m2 0h1m3 0h2m34 0h5m7 0h1m8 0h7m1 0h10m4 0h1m6 0h2m1 0h13m1 0h14m1 0h9m-235 1h1m1 0h2m4 0h3m7 0h2m1 0h1m4 0h2m5 0h3m6 0h1m50 0h1m7 0h1m2 0h1m38 0h8m14 0h4m2 0h15m2 0h1m1 0h1m4 0h1m1 0h13m1 0h24m-234 1h2m6 0h1m8 0h2m3 0h3m6 0h4m65 0h1m2 0h1m36 0h1m1 0h11m9 0h1m1 0h21m4 0h1m1 0h1m3 0h4m2 0h33m-233 1h1m15 0h1m5 0h2m1 0h2m2 0h4m1 0h2m66 0h1m20 0h5m4 0h1m3 0h2m4 0h4m1 0h6m3 0h2m1 0h23m1 0h3m2 0h16m1 0h28m-233 1h2m7 0h1m13 0h1m1 0h1m3 0h4m6 0h1m57 0h2m24 0h4m7 0h3m5 0h5m2 0h1m1 0h29m1 0h3m1 0h1m2 0h12m1 0h1m1 0h1m1 0h2m1 0h8m1 0h16m-233 1h2m6 0h4m10 0h3m2 0h1m17 0h2m2 0h1m84 0h3m8 0h4m1 0h34m3 0h16m1 0h2m2 0h17m1 0h7m-244 1h1m11 0h1m5 0h7m8 0h5m18 0h1m1 0h1m53 0h2m9 0h2m31 0h4m1 0h1m1 0h1m1 0h2m1 0h17m2 0h7m2 0h1m1 0h20m3 0h16m1 0h5m-246 1h1m7 0h1m13 0h5m1 0h2m28 0h3m1 0h1m29 0h2m33 0h2m14 0h1m11 0h1m1 0h4m1 0h2m3 0h1m3 0h18m1 0h1m1 0h1m1 0h2m2 0h2m1 0h9m2 0h10m1 0h18m1 0h1m-244 1h1m10 0h2m1 0h2m8 0h1m2 0h4m22 0h9m4 0h1m26 0h5m30 0h3m25 0h2m2 0h2m1 0h1m3 0h1m1 0h1m2 0h20m2 0h6m1 0h11m1 0h4m1 0h30m-250 1h2m15 0h2m10 0h3m22 0h10m4 0h1m29 0h1m32 0h2m17 0h2m5 0h2m3 0h4m3 0h13m2 0h3m1 0h14m1 0h1m1 0h1m1 0h10m3 0h8m1 0h21m-222 1h4m35 0h1m64 0h2m16 0h1m5 0h2m1 0h3m1 0h3m1 0h15m1 0h4m1 0h1m1 0h8m1 0h15m1 0h1m4 0h1m1 0h5m1 0h22m-225 1h1m1 0h3m3 0h2m2 0h1m28 0h2m48 0h1m16 0h2m6 0h2m6 0h2m4 0h3m2 0h2m1 0h1m4 0h6m1 0h6m1 0h4m1 0h1m2 0h5m1 0h16m1 0h1m1 0h2m4 0h1m1 0h27m-223 1h1m5 0h3m1 0h2m26 0h2m3 0h2m44 0h1m4 0h1m20 0h1m1 0h2m3 0h1m1 0h1m2 0h2m5 0h2m3 0h7m1 0h11m3 0h1m1 0h10m2 0h1m1 0h8m9 0h29m-223 1h2m4 0h2m1 0h1m28 0h1m5 0h1m2 0h1m1 0h1m25 0h2m12 0h1m5 0h1m20 0h2m2 0h5m2 0h1m6 0h2m2 0h19m1 0h1m4 0h9m3 0h1m1 0h4m2 0h1m1 0h1m3 0h6m1 0h27m-217 1h2m60 0h1m7 0h2m11 0h1m5 0h1m14 0h1m5 0h1m3 0h2m1 0h1m10 0h2m2 0h1m1 0h12m1 0h4m1 0h4m2 0h3m1 0h4m2 0h3m1 0h8m1 0h2m1 0h4m1 0h17m1 0h10m-217 1h1m6 0h1m1 0h2m12 0h1m8 0h1m1 0h1m6 0h1m20 0h2m7 0h1m11 0h1m5 0h2m13 0h1m6 0h1m1 0h1m14 0h2m1 0h1m1 0h13m2 0h1m5 0h7m2 0h3m3 0h3m1 0h44m-251 1h1m41 0h1m19 0h1m3 0h1m26 0h1m3 0h4m16 0h1m5 0h1m8 0h1m5 0h1m7 0h1m21 0h8m2 0h2m10 0h5m2 0h1m3 0h3m3 0h1m1 0h42m-223 1h1m2 0h2m21 0h3m5 0h1m3 0h3m25 0h1m4 0h4m20 0h1m9 0h1m4 0h2m27 0h5m3 0h6m11 0h3m6 0h1m6 0h43m-184 1h1m10 0h1m15 0h1m7 0h1m35 0h2m30 0h2m6 0h2m10 0h5m1 0h2m2 0h1m3 0h1m6 0h40m-240 1h3m18 0h1m27 0h2m15 0h2m59 0h2m29 0h4m4 0h1m2 0h1m10 0h3m1 0h6m7 0h2m1 0h26m1 0h13m-249 1h1m8 0h2m14 0h1m17 0h1m14 0h2m15 0h2m51 0h1m8 0h1m1 0h1m24 0h7m1 0h4m10 0h5m2 0h1m1 0h3m5 0h5m1 0h7m1 0h22m1 0h9m-223 1h1m16 0h2m9 0h1m3 0h1m5 0h2m3 0h1m29 0h2m27 0h3m6 0h4m21 0h1m1 0h10m2 0h5m1 0h3m1 0h1m2 0h3m1 0h1m3 0h1m2 0h1m2 0h16m1 0h29m-249 1h1m24 0h1m1 0h2m7 0h2m6 0h1m10 0h1m1 0h2m5 0h7m4 0h1m23 0h2m20 0h2m2 0h2m2 0h2m7 0h5m19 0h7m1 0h1m5 0h1m1 0h11m1 0h3m11 0h5m1 0h8m1 0h30m-226 1h1m5 0h1m5 0h2m18 0h4m5 0h2m9 0h1m24 0h1m20 0h2m2 0h2m14 0h4m18 0h5m3 0h2m5 0h2m1 0h2m1 0h5m1 0h1m7 0h3m1 0h1m2 0h1m6 0h4m1 0h1m1 0h3m2 0h25m-227 1h1m3 0h1m8 0h1m3 0h2m14 0h2m1 0h3m3 0h1m1 0h1m29 0h1m4 0h1m19 0h3m2 0h1m16 0h3m16 0h4m1 0h1m3 0h3m2 0h1m1 0h2m2 0h1m2 0h5m1 0h1m1 0h1m5 0h3m7 0h2m1 0h5m1 0h4m2 0h25m-211 1h3m13 0h2m1 0h2m1 0h2m32 0h3m25 0h2m21 0h1m25 0h3m2 0h1m2 0h2m6 0h5m3 0h2m1 0h4m5 0h15m1 0h1m1 0h24m-229 1h2m17 0h2m20 0h2m6 0h5m19 0h2m7 0h1m19 0h2m3 0h1m37 0h1m1 0h1m2 0h5m2 0h1m1 0h2m8 0h2m1 0h1m1 0h1m3 0h3m1 0h1m4 0h6m1 0h35m-229 1h1m9 0h1m2 0h1m1 0h1m3 0h2m1 0h1m26 0h2m1 0h2m49 0h1m3 0h1m27 0h1m9 0h3m4 0h4m2 0h4m17 0h3m3 0h1m1 0h11m1 0h12m1 0h17m-228 1h1m6 0h2m1 0h5m2 0h4m80 0h1m4 0h1m31 0h2m1 0h6m1 0h1m1 0h3m5 0h3m3 0h3m8 0h6m5 0h22m1 0h4m1 0h14m-224 1h1m4 0h7m1 0h5m81 0h1m34 0h2m3 0h11m1 0h2m2 0h3m2 0h1m8 0h1m2 0h2m1 0h1m6 0h1m1 0h9m4 0h19m1 0h7m-224 1h2m3 0h1m1 0h4m2 0h5m10 0h1m70 0h2m33 0h2m3 0h2m1 0h8m6 0h2m14 0h4m1 0h1m2 0h13m5 0h6m2 0h18m-224 1h2m5 0h6m1 0h4m10 0h2m14 0h1m2 0h1m3 0h1m35 0h1m11 0h3m13 0h1m18 0h2m3 0h1m3 0h1m2 0h4m6 0h1m13 0h1m2 0h5m2 0h2m1 0h11m3 0h18m1 0h8m-223 1h2m5 0h4m1 0h1m2 0h1m3 0h1m1 0h1m6 0h1m2 0h3m6 0h1m3 0h2m4 0h1m35 0h2m12 0h1m6 0h1m15 0h1m4 0h1m1 0h1m2 0h2m2 0h2m4 0h2m1 0h4m19 0h1m1 0h17m2 0h15m1 0h6m1 0h9m-222 1h2m3 0h1m1 0h2m1 0h3m14 0h6m17 0h1m36 0h2m6 0h1m10 0h2m15 0h1m4 0h1m2 0h1m1 0h2m9 0h2m1 0h1m2 0h1m17 0h2m1 0h5m1 0h2m1 0h8m4 0h2m1 0h6m2 0h20m-233 1h2m2 0h1m6 0h1m3 0h1m5 0h1m17 0h1m10 0h3m8 0h2m14 0h1m22 0h1m5 0h1m3 0h1m5 0h2m15 0h2m4 0h5m10 0h2m4 0h1m23 0h1m2 0h9m6 0h3m1 0h5m1 0h1m1 0h19m-233 1h4m1 0h1m11 0h1m3 0h1m24 0h1m3 0h4m8 0h1m14 0h1m22 0h2m14 0h1m16 0h2m4 0h5m11 0h2m4 0h2m17 0h3m5 0h3m1 0h15m1 0h25m-230 1h2m8 0h1m7 0h2m7 0h1m20 0h7m3 0h2m14 0h1m24 0h1m30 0h2m2 0h7m11 0h2m5 0h1m1 0h1m15 0h4m4 0h1m1 0h43m-234 1h1m12 0h1m5 0h1m1 0h1m6 0h1m27 0h2m4 0h2m75 0h10m3 0h1m1 0h2m1 0h4m4 0h3m2 0h2m9 0h6m1 0h8m1 0h37m-248 1h1m13 0h2m24 0h1m2 0h1m111 0h8m4 0h8m4 0h2m4 0h4m3 0h1m2 0h15m2 0h27m1 0h8m-253 1h1m1 0h2m41 0h1m66 0h1m51 0h1m1 0h2m4 0h1m1 0h1m1 0h3m18 0h1m2 0h3m2 0h5m1 0h6m1 0h7m1 0h27m-252 1h1m13 0h2m26 0h1m1 0h2m38 0h1m26 0h1m16 0h1m35 0h4m3 0h1m4 0h2m15 0h1m1 0h1m2 0h1m3 0h1m3 0h3m1 0h7m1 0h1m1 0h27m3 0h2m-241 1h1m1 0h2m25 0h1m6 0h1m35 0h1m44 0h1m33 0h2m11 0h3m3 0h1m7 0h1m5 0h3m1 0h4m1 0h1m2 0h2m1 0h6m3 0h28m4 0h1m-170 1h2m34 0h2m7 0h4m36 0h3m1 0h2m1 0h4m3 0h1m3 0h9m1 0h2m1 0h6m1 0h1m1 0h3m1 0h4m1 0h2m1 0h29m3 0h1m-204 1h1m34 0h1m25 0h1m7 0h1m1 0h1m7 0h4m33 0h1m3 0h3m1 0h1m1 0h5m1 0h2m3 0h11m2 0h1m3 0h2m1 0h4m3 0h5m1 0h1m1 0h3m1 0h26m1 0h1m-172 1h1m47 0h2m25 0h1m7 0h1m4 0h1m5 0h1m2 0h4m3 0h12m3 0h12m2 0h3m5 0h2m2 0h21m1 0h5m-219 1h1m1 0h2m3 0h1m2 0h4m65 0h1m16 0h1m4 0h1m6 0h6m9 0h2m6 0h1m1 0h1m1 0h3m4 0h1m1 0h5m2 0h12m1 0h13m4 0h3m3 0h1m2 0h1m1 0h12m1 0h8m2 0h4m-218 1h1m1 0h1m4 0h4m88 0h2m6 0h1m1 0h2m13 0h2m6 0h5m4 0h7m1 0h1m1 0h9m1 0h16m3 0h3m8 0h27m-212 1h3m35 0h1m87 0h5m4 0h7m2 0h10m2 0h15m4 0h2m7 0h28m-239 1h2m24 0h3m87 0h1m35 0h6m2 0h8m1 0h4m1 0h3m2 0h1m3 0h2m1 0h11m3 0h2m7 0h10m1 0h19m-248 1h1m8 0h1m28 0h1m37 0h1m32 0h2m14 0h3m31 0h1m1 0h1m1 0h3m2 0h21m2 0h2m2 0h6m1 0h5m1 0h1m2 0h3m5 0h29m-248 1h3m33 0h2m13 0h1m24 0h2m26 0h7m6 0h1m8 0h3m12 0h2m11 0h1m1 0h5m1 0h15m1 0h2m1 0h8m2 0h2m4 0h4m1 0h8m3 0h2m2 0h1m1 0h29m-247 1h5m26 0h1m2 0h3m5 0h1m83 0h3m9 0h1m2 0h2m15 0h13m1 0h2m2 0h11m2 0h2m4 0h18m1 0h2m2 0h18m1 0h10m-243 1h1m17 0h1m8 0h1m2 0h1m106 0h3m6 0h2m7 0h12m2 0h3m1 0h10m3 0h1m2 0h6m2 0h13m1 0h16m1 0h15m-214 1h2m107 0h2m7 0h2m1 0h1m4 0h1m1 0h10m5 0h11m2 0h2m1 0h6m2 0h1m3 0h33m1 0h1m1 0h7m-225 1h1m8 0h4m78 0h1m28 0h3m6 0h3m4 0h4m1 0h1m1 0h5m2 0h2m2 0h22m3 0h2m1 0h10m1 0h28m2 0h2m-228 1h1m14 0h1m78 0h2m6 0h2m20 0h1m9 0h1m2 0h1m2 0h2m4 0h6m2 0h1m1 0h3m1 0h19m1 0h1m1 0h1m2 0h8m1 0h1m1 0h16m1 0h10m2 0h3m-210 1h1m1 0h2m72 0h2m6 0h2m30 0h2m2 0h4m5 0h4m3 0h1m1 0h5m1 0h7m1 0h11m1 0h19m2 0h25m-210 1h1m1 0h2m1 0h1m51 0h1m19 0h1m6 0h1m32 0h1m2 0h1m1 0h1m2 0h1m5 0h3m2 0h1m1 0h3m1 0h8m3 0h10m2 0h12m1 0h1m1 0h9m1 0h12m1 0h3m3 0h1m-241 1h1m1 0h1m12 0h1m5 0h1m10 0h1m54 0h1m20 0h1m6 0h1m32 0h1m3 0h1m1 0h1m3 0h2m3 0h2m4 0h12m1 0h12m1 0h1m1 0h12m2 0h1m1 0h24m1 0h1m-245 1h1m7 0h2m11 0h1m70 0h1m21 0h1m5 0h1m40 0h1m15 0h8m1 0h14m1 0h14m3 0h25m3 0h1m-240 1h5m12 0h1m86 0h1m1 0h2m5 0h1m17 0h1m25 0h1m3 0h3m6 0h7m3 0h9m1 0h18m4 0h24m3 0h1m-238 1h2m1 0h3m1 0h1m2 0h1m13 0h1m76 0h2m1 0h1m24 0h1m10 0h3m1 0h2m9 0h2m3 0h1m7 0h6m4 0h1m1 0h3m1 0h12m1 0h8m4 0h20m2 0h2m1 0h1m2 0h1m-235 1h2m7 0h1m10 0h3m31 0h2m45 0h1m24 0h1m9 0h7m8 0h6m1 0h1m6 0h7m1 0h1m2 0h2m3 0h3m1 0h17m3 0h20m1 0h4m4 0h1m-237 1h1m16 0h1m39 0h1m59 0h1m23 0h3m8 0h8m6 0h1m1 0h4m1 0h3m5 0h1m1 0h2m2 0h16m3 0h1m2 0h19m1 0h2m2 0h4m-252 1h1m4 0h1m1 0h4m4 0h2m7 0h1m130 0h3m8 0h4m2 0h4m5 0h1m3 0h1m2 0h1m9 0h20m1 0h8m1 0h19m3 0h2m-246 1h1m2 0h2m5 0h1m7 0h1m6 0h1m62 0h1m60 0h2m9 0h1m4 0h3m1 0h1m10 0h1m2 0h4m3 0h1m1 0h19m1 0h1m1 0h27m3 0h1m-245 1h4m9 0h2m3 0h1m69 0h1m71 0h1m8 0h1m10 0h3m1 0h3m5 0h7m1 0h10m4 0h15m2 0h1m1 0h10m-242 1h2m11 0h1m73 0h1m68 0h1m6 0h1m14 0h3m1 0h3m4 0h1m1 0h2m1 0h1m2 0h1m1 0h11m2 0h1m3 0h12m5 0h9m-242 1h1m1 0h1m75 0h1m8 0h1m68 0h1m2 0h1m6 0h1m11 0h7m3 0h1m1 0h1m1 0h5m3 0h10m1 0h1m1 0h2m3 0h8m6 0h1m1 0h8m-244 1h2m1 0h1m9 0h1m15 0h1m59 0h1m69 0h1m4 0h1m3 0h1m10 0h4m1 0h3m3 0h2m2 0h6m1 0h4m1 0h1m1 0h1m1 0h6m2 0h1m1 0h3m2 0h2m1 0h1m1 0h3m3 0h9m-243 1h1m4 0h1m4 0h2m33 0h1m5 0h2m3 0h1m29 0h1m50 0h2m13 0h2m7 0h3m2 0h1m11 0h7m2 0h3m1 0h1m2 0h2m1 0h7m1 0h1m2 0h14m1 0h1m3 0h3m2 0h1m1 0h7m1 0h3m-244 1h2m2 0h2m3 0h1m8 0h2m18 0h2m4 0h1m5 0h1m34 0h1m66 0h1m8 0h1m11 0h1m4 0h2m1 0h3m8 0h3m1 0h27m2 0h1m1 0h2m3 0h1m1 0h6m1 0h3m-244 1h5m12 0h2m26 0h1m2 0h1m16 0h1m86 0h1m8 0h1m1 0h1m5 0h1m8 0h1m3 0h2m7 0h2m3 0h2m1 0h12m1 0h10m5 0h2m1 0h14m-244 1h5m8 0h2m7 0h1m3 0h2m17 0h2m19 0h1m76 0h1m7 0h2m9 0h1m19 0h2m7 0h3m3 0h1m1 0h11m2 0h7m2 0h2m2 0h1m1 0h17m-244 1h2m8 0h3m15 0h1m17 0h2m95 0h1m7 0h4m27 0h2m6 0h6m2 0h4m2 0h6m1 0h7m2 0h2m5 0h2m1 0h14m-234 1h1m4 0h1m14 0h1m16 0h1m94 0h2m7 0h3m4 0h1m9 0h1m13 0h2m7 0h2m4 0h4m3 0h6m1 0h2m1 0h4m2 0h1m1 0h1m4 0h17m-150 1h2m55 0h1m5 0h4m33 0h2m2 0h3m6 0h5m1 0h3m1 0h6m4 0h17m-245 1h1m15 0h1m79 0h1m54 0h2m6 0h3m10 0h1m11 0h1m8 0h2m3 0h3m1 0h1m5 0h6m1 0h3m1 0h5m2 0h1m1 0h17m-245 1h1m14 0h1m2 0h1m106 0h1m4 0h2m19 0h2m7 0h1m31 0h1m5 0h5m5 0h3m3 0h5m1 0h5m1 0h19m-236 1h1m8 0h1m12 0h1m99 0h2m18 0h1m20 0h1m20 0h1m6 0h4m4 0h5m1 0h7m2 0h22m-243 1h2m27 0h2m94 0h1m4 0h3m22 0h2m2 0h1m10 0h1m21 0h2m5 0h5m4 0h12m2 0h21m-242 1h1m15 0h1m12 0h1m7 0h1m82 0h2m9 0h1m24 0h1m1 0h2m8 0h2m19 0h2m1 0h1m4 0h3m3 0h1m1 0h1m2 0h10m1 0h1m2 0h20m-253 1h3m6 0h2m17 0h1m4 0h2m13 0h1m81 0h2m36 0h3m37 0h1m1 0h1m1 0h8m1 0h11m1 0h20m-246 1h3m22 0h1m16 0h1m1 0h1m47 0h3m16 0h2m8 0h3m30 0h1m2 0h2m1 0h4m41 0h7m1 0h5m1 0h27m-251 1h1m1 0h1m2 0h2m53 0h1m38 0h1m15 0h3m8 0h2m29 0h2m3 0h1m2 0h4m41 0h6m1 0h1m1 0h4m1 0h27m-251 1h2m2 0h3m45 0h2m60 0h1m2 0h3m5 0h2m31 0h1m3 0h1m4 0h3m40 0h5m1 0h1m8 0h26m-249 1h5m6 0h3m6 0h1m6 0h2m18 0h2m1 0h1m1 0h1m58 0h1m3 0h2m41 0h4m5 0h1m41 0h2m2 0h4m1 0h2m3 0h26m-251 1h5m3 0h1m5 0h2m3 0h1m17 0h1m7 0h1m4 0h2m53 0h1m12 0h1m39 0h6m3 0h3m4 0h1m33 0h1m3 0h1m1 0h2m1 0h34m-251 1h6m1 0h1m5 0h1m1 0h2m2 0h5m19 0h5m1 0h1m1 0h1m53 0h1m53 0h1m1 0h2m3 0h2m40 0h1m4 0h1m3 0h1m1 0h32m-252 1h3m1 0h3m2 0h1m2 0h1m1 0h2m3 0h2m1 0h2m21 0h2m6 0h2m8 0h1m42 0h2m41 0h1m10 0h1m1 0h2m3 0h2m1 0h1m37 0h2m5 0h1m6 0h30m-249 1h3m3 0h1m1 0h1m10 0h1m1 0h1m1 0h1m8 0h1m8 0h1m9 0h1m11 0h3m38 0h1m35 0h1m2 0h3m11 0h1m6 0h2m1 0h1m1 0h1m22 0h1m5 0h1m3 0h1m2 0h1m1 0h4m2 0h1m1 0h34m-249 1h3m3 0h2m16 0h1m2 0h1m2 0h2m9 0h1m2 0h1m1 0h1m1 0h2m5 0h1m9 0h1m14 0h2m22 0h1m35 0h1m1 0h3m22 0h2m19 0h1m3 0h2m5 0h1m5 0h1m2 0h4m1 0h36m-250 1h4m2 0h1m1 0h1m8 0h1m10 0h1m1 0h3m12 0h2m1 0h2m14 0h1m1 0h1m15 0h3m56 0h4m48 0h2m5 0h2m1 0h2m4 0h14m1 0h26m-247 1h2m25 0h3m14 0h1m1 0h1m11 0h1m21 0h5m52 0h3m27 0h1m6 0h3m13 0h4m1 0h1m1 0h5m2 0h5m1 0h4m1 0h5m2 0h25m-248 1h1m5 0h1m21 0h2m9 0h1m7 0h2m10 0h2m24 0h1m2 0h1m49 0h2m34 0h1m2 0h3m7 0h1m3 0h2m1 0h2m1 0h3m3 0h1m1 0h5m1 0h14m1 0h16m1 0h5m-220 1h1m10 0h1m17 0h1m3 0h1m13 0h1m44 0h2m15 0h2m4 0h2m30 0h2m10 0h1m1 0h1m1 0h9m4 0h3m3 0h7m1 0h30m-244 1h1m1 0h1m55 0h1m30 0h1m27 0h1m21 0h1m37 0h2m2 0h1m3 0h2m1 0h1m2 0h3m3 0h1m1 0h5m1 0h39m-242 1h1m30 0h2m14 0h4m1 0h7m28 0h1m28 0h1m19 0h2m41 0h1m2 0h2m1 0h3m2 0h12m1 0h39m-246 1h4m16 0h2m30 0h9m29 0h1m29 0h2m17 0h3m29 0h1m7 0h3m1 0h1m6 0h1m7 0h9m1 0h3m1 0h14m3 0h17m-246 1h1m1 0h2m4 0h1m12 0h1m14 0h1m16 0h8m60 0h1m6 0h2m9 0h2m14 0h3m14 0h1m5 0h1m1 0h3m15 0h29m1 0h18m-243 1h2m32 0h1m17 0h6m67 0h2m26 0h2m14 0h1m6 0h3m9 0h2m2 0h1m2 0h9m1 0h19m1 0h18m-232 1h5m5 0h6m8 0h3m5 0h1m5 0h1m2 0h7m66 0h2m27 0h2m13 0h1m6 0h1m2 0h1m7 0h1m3 0h3m1 0h48m-231 1h3m7 0h1m2 0h3m5 0h1m1 0h4m7 0h12m1 0h1m65 0h2m21 0h3m1 0h1m2 0h1m14 0h1m4 0h1m1 0h1m5 0h3m1 0h1m1 0h2m1 0h4m3 0h25m1 0h18m-250 1h1m16 0h2m9 0h1m3 0h1m5 0h1m1 0h2m1 0h3m9 0h1m1 0h9m12 0h1m53 0h2m21 0h3m3 0h3m9 0h3m1 0h2m1 0h4m6 0h3m1 0h7m3 0h5m1 0h40m-251 1h2m2 0h1m12 0h2m20 0h1m1 0h6m5 0h1m4 0h9m2 0h3m8 0h1m41 0h1m11 0h2m21 0h1m2 0h1m1 0h2m15 0h2m1 0h1m1 0h1m4 0h2m1 0h3m1 0h1m1 0h6m3 0h13m2 0h30m-250 1h1m3 0h1m3 0h1m3 0h5m11 0h1m9 0h1m2 0h3m8 0h2m2 0h8m4 0h1m10 0h1m15 0h1m37 0h1m23 0h1m19 0h2m1 0h2m4 0h2m2 0h3m1 0h1m1 0h10m1 0h43m-252 1h5m6 0h6m23 0h2m1 0h1m9 0h3m3 0h1m1 0h5m3 0h3m26 0h1m36 0h2m42 0h2m1 0h1m5 0h1m1 0h2m5 0h4m1 0h1m2 0h13m3 0h31m-252 1h4m5 0h4m27 0h1m11 0h2m1 0h6m1 0h4m4 0h2m26 0h2m35 0h2m44 0h3m10 0h7m1 0h1m1 0h10m2 0h3m2 0h31m-249 1h1m43 0h1m2 0h1m3 0h14m1 0h3m27 0h2m35 0h1m27 0h1m15 0h3m4 0h1m3 0h1m1 0h4m1 0h1m3 0h14m1 0h3m1 0h31m-243 1h1m2 0h1m24 0h1m10 0h2m6 0h6m1 0h8m28 0h2m62 0h2m15 0h3m2 0h3m5 0h12m1 0h10m1 0h3m1 0h31m-240 1h1m36 0h1m6 0h6m1 0h3m2 0h1m1 0h3m26 0h2m41 0h1m22 0h1m11 0h11m5 0h16m1 0h5m1 0h1m1 0h34m-239 1h1m26 0h1m8 0h1m1 0h1m4 0h2m1 0h2m1 0h1m3 0h1m1 0h5m69 0h1m22 0h1m13 0h4m1 0h4m1 0h3m1 0h15m3 0h41m-214 1h1m10 0h1m8 0h2m2 0h1m3 0h2m1 0h2m6 0h1m55 0h1m7 0h1m22 0h2m1 0h2m10 0h13m1 0h15m3 0h24m1 0h2m1 0h13m-214 1h1m9 0h1m1 0h1m16 0h3m2 0h1m4 0h1m56 0h1m5 0h1m24 0h5m1 0h2m4 0h26m1 0h4m3 0h23m2 0h3m1 0h4m2 0h6m-236 1h1m5 0h1m5 0h1m29 0h1m8 0h1m3 0h2m66 0h1m11 0h2m6 0h1m6 0h1m1 0h3m6 0h31m2 0h23m4 0h6m2 0h7m-236 1h2m3 0h3m2 0h1m1 0h1m5 0h2m5 0h1m24 0h1m3 0h3m29 0h1m36 0h1m11 0h3m5 0h1m2 0h1m3 0h5m3 0h1m1 0h57m3 0h7m1 0h3m1 0h4m-151 1h2m13 0h1m35 0h3m7 0h1m2 0h7m1 0h24m1 0h10m1 0h6m2 0h15m4 0h7m2 0h7m-156 1h1m19 0h1m28 0h1m7 0h3m3 0h1m1 0h1m4 0h5m3 0h1m1 0h17m1 0h10m1 0h3m1 0h5m1 0h2m1 0h2m1 0h13m1 0h7m1 0h9m-108 1h2m8 0h6m6 0h5m2 0h1m2 0h6m1 0h9m4 0h7m2 0h7m2 0h1m1 0h2m1 0h24m1 0h8m-108 1h2m9 0h4m10 0h1m3 0h1m1 0h18m3 0h5m1 0h1m2 0h1m1 0h3m3 0h1m2 0h36m-168 1h1m59 0h2m10 0h3m7 0h1m1 0h2m1 0h1m3 0h17m4 0h6m1 0h1m1 0h3m6 0h2m1 0h35m-169 1h2m50 0h1m20 0h1m9 0h2m1 0h1m4 0h20m4 0h10m7 0h1m1 0h9m1 0h9m1 0h10m1 0h4m-117 1h1m12 0h1m17 0h3m4 0h3m2 0h7m1 0h9m1 0h1m2 0h11m6 0h9m2 0h1m1 0h2m1 0h20m-117 1h1m8 0h2m18 0h3m3 0h1m1 0h2m5 0h4m1 0h1m1 0h1m2 0h4m4 0h9m3 0h2m3 0h10m4 0h2m1 0h21m-118 1h1m8 0h2m20 0h1m12 0h4m1 0h2m3 0h1m1 0h3m5 0h3m1 0h6m1 0h5m2 0h3m3 0h1m2 0h2m2 0h23m-110 1h2m19 0h5m1 0h2m8 0h1m2 0h3m6 0h1m3 0h1m1 0h2m3 0h2m2 0h1m2 0h5m1 0h5m3 0h4m2 0h23m-111 1h3m15 0h2m3 0h3m2 0h3m7 0h2m18 0h1m5 0h15m3 0h3m4 0h22m-122 1h1m9 0h2m18 0h2m2 0h2m3 0h1m8 0h1m2 0h5m2 0h1m1 0h1m7 0h2m6 0h11m1 0h1m4 0h3m1 0h25m-172 1h1m79 0h2m2 0h3m3 0h1m8 0h1m11 0h1m4 0h1m2 0h1m4 0h7m1 0h4m6 0h30m-172 1h1m49 0h1m10 0h1m18 0h2m2 0h2m2 0h1m2 0h1m7 0h2m7 0h2m5 0h2m3 0h1m1 0h9m1 0h4m8 0h28m-173 1h1m60 0h2m13 0h2m2 0h3m2 0h3m10 0h1m4 0h3m2 0h4m12 0h15m1 0h2m4 0h11m2 0h6m1 0h7m-173 1h1m60 0h2m13 0h1m4 0h2m2 0h2m10 0h1m5 0h3m2 0h7m4 0h1m2 0h1m2 0h5m1 0h4m3 0h4m5 0h2m1 0h9m1 0h6m1 0h6m-174 1h2m60 0h2m12 0h2m8 0h2m9 0h1m6 0h13m2 0h6m1 0h10m2 0h5m3 0h3m1 0h9m1 0h14m-174 1h1m60 0h2m15 0h2m3 0h5m16 0h3m1 0h5m1 0h3m1 0h7m1 0h11m1 0h6m2 0h28m-177 1h1m85 0h5m8 0h1m1 0h1m6 0h6m4 0h1m2 0h7m2 0h8m2 0h12m1 0h24m-124 1h3m24 0h1m5 0h2m1 0h1m18 0h4m5 0h4m4 0h1m4 0h2m1 0h2m1 0h1m3 0h3m2 0h8m1 0h3m1 0h1m1 0h17m-171 1h1m48 0h3m22 0h2m2 0h4m4 0h2m1 0h1m6 0h1m2 0h1m4 0h12m2 0h3m2 0h1m1 0h3m5 0h3m3 0h4m1 0h1m1 0h2m1 0h1m3 0h9m1 0h8m-171 1h1m1 0h1m46 0h4m21 0h1m3 0h4m8 0h1m2 0h1m9 0h16m2 0h2m1 0h3m5 0h4m3 0h8m7 0h7m1 0h1m1 0h7m-121 1h1m25 0h6m20 0h16m1 0h7m5 0h4m3 0h2m2 0h7m3 0h10m1 0h8m-139 1h1m37 0h2m4 0h2m1 0h3m10 0h1m3 0h2m1 0h1m3 0h14m1 0h7m5 0h5m2 0h3m2 0h5m1 0h3m2 0h7m2 0h9m-139 1h1m37 0h3m2 0h2m2 0h3m16 0h2m1 0h5m1 0h18m4 0h5m3 0h3m4 0h6m1 0h20m-139 1h1m38 0h2m1 0h3m2 0h3m13 0h1m2 0h2m2 0h4m1 0h2m1 0h2m1 0h6m2 0h3m4 0h6m2 0h3m3 0h3m1 0h17m1 0h7m-142 1h1m42 0h1m1 0h2m2 0h3m15 0h3m3 0h6m2 0h2m3 0h3m2 0h1m2 0h4m1 0h4m1 0h1m1 0h3m4 0h5m1 0h2m1 0h20m-171 1h1m28 0h1m44 0h2m19 0h3m2 0h4m1 0h7m2 0h4m1 0h1m3 0h4m4 0h1m2 0h5m1 0h3m3 0h1m1 0h23m-171 1h1m28 0h1m44 0h2m7 0h1m6 0h1m4 0h2m3 0h20m11 0h1m2 0h1m1 0h2m2 0h2m6 0h1m1 0h3m1 0h4m1 0h12m-171 1h1m2 0h1m53 0h1m16 0h2m8 0h3m2 0h1m4 0h4m2 0h18m3 0h1m8 0h1m4 0h2m1 0h4m8 0h6m1 0h14m-171 1h2m1 0h1m29 0h4m20 0h1m16 0h2m1 0h1m7 0h2m4 0h1m2 0h1m1 0h20m1 0h2m5 0h1m5 0h1m1 0h7m4 0h1m4 0h1m5 0h17m-171 1h2m31 0h2m2 0h1m36 0h6m5 0h2m3 0h3m1 0h1m1 0h7m2 0h16m4 0h3m2 0h4m1 0h4m6 0h1m6 0h1m1 0h17m-171 1h1m32 0h2m39 0h6m5 0h2m1 0h6m1 0h5m2 0h19m4 0h2m1 0h1m1 0h3m1 0h2m2 0h2m1 0h1m1 0h3m1 0h1m1 0h2m1 0h19m-171 1h1m31 0h2m41 0h6m3 0h16m2 0h10m2 0h1m1 0h4m2 0h18m1 0h1m1 0h1m3 0h2m1 0h1m2 0h18m-172 1h2m76 0h4m6 0h12m1 0h11m3 0h13m1 0h15m4 0h24m-177 1h1m3 0h2m21 0h2m53 0h3m8 0h6m1 0h2m3 0h13m3 0h27m3 0h26m-173 1h1m22 0h3m11 0h2m32 0h1m5 0h1m1 0h5m4 0h5m2 0h3m4 0h11m5 0h55m-173 1h2m23 0h2m10 0h1m41 0h5m4 0h6m1 0h3m3 0h10m6 0h56m-147 1h1m52 0h2m1 0h2m2 0h16m1 0h2m3 0h1m1 0h1m5 0h6m1 0h19m1 0h9m2 0h19m-97 1h5m1 0h2m1 0h13m1 0h1m3 0h1m9 0h2m1 0h36m1 0h2m1 0h17m-170 1h1m19 0h4m48 0h3m4 0h2m1 0h5m1 0h7m15 0h42m1 0h17m-170 1h2m18 0h1m2 0h4m44 0h3m5 0h2m3 0h11m5 0h1m10 0h16m1 0h1m1 0h40m-170 1h2m24 0h1m16 0h2m26 0h1m4 0h1m8 0h9m6 0h1m11 0h16m2 0h40m-169 1h1m12 0h1m7 0h3m7 0h1m1 0h1m10 0h1m38 0h5m1 0h4m5 0h2m9 0h1m1 0h23m1 0h34m-262 1h2m5 0h2m17 0h1m3 0h1m33 0h1m17 0h1m7 0h1m13 0h3m4 0h5m3 0h1m6 0h2m49 0h1m4 0h3m5 0h2m6 0h16m2 0h20m4 0h22m-262 1h3m1 0h1m2 0h2m2 0h8m64 0h2m3 0h1m14 0h2m1 0h1m3 0h5m3 0h2m6 0h2m14 0h1m6 0h2m23 0h4m4 0h1m5 0h4m6 0h15m2 0h3m1 0h17m4 0h22m-261 1h1m1 0h1m4 0h11m7 0h1m57 0h2m24 0h1m7 0h1m8 0h1m46 0h3m4 0h2m4 0h5m6 0h15m1 0h3m2 0h19m1 0h23m-262 1h1m2 0h1m2 0h1m1 0h4m18 0h1m42 0h2m10 0h1m5 0h1m23 0h1m1 0h2m8 0h1m53 0h2m3 0h4m1 0h4m1 0h1m2 0h13m3 0h1m4 0h42m-188 1h3m38 0h1m1 0h1m24 0h4m8 0h5m16 0h1m2 0h6m1 0h4m1 0h6m1 0h15m7 0h43m-262 1h2m72 0h1m7 0h2m6 0h1m1 0h2m21 0h1m3 0h2m11 0h1m6 0h5m9 0h5m16 0h1m1 0h12m1 0h8m2 0h9m2 0h1m7 0h44m-261 1h1m1 0h1m1 0h1m44 0h1m30 0h3m10 0h1m20 0h1m4 0h3m9 0h1m4 0h5m10 0h3m17 0h1m1 0h1m1 0h18m2 0h9m1 0h1m7 0h1m3 0h14m1 0h3m1 0h25m-263 1h3m9 0h1m38 0h2m36 0h1m5 0h1m26 0h3m12 0h3m12 0h3m2 0h1m15 0h20m3 0h11m4 0h1m6 0h18m1 0h26m-264 1h2m1 0h1m12 0h1m23 0h1m10 0h1m11 0h1m21 0h4m7 0h1m28 0h2m11 0h2m12 0h2m2 0h1m21 0h16m2 0h10m7 0h2m3 0h1m1 0h44m-264 1h2m5 0h1m5 0h1m25 0h1m10 0h2m33 0h4m7 0h1m25 0h1m49 0h1m1 0h1m1 0h7m1 0h1m1 0h7m2 0h10m7 0h2m5 0h10m1 0h4m1 0h29m-264 1h3m6 0h1m76 0h2m7 0h1m25 0h1m21 0h1m29 0h10m3 0h8m1 0h2m2 0h5m15 0h8m3 0h34m-263 1h2m5 0h1m30 0h2m33 0h2m10 0h1m1 0h1m1 0h1m4 0h1m46 0h2m28 0h10m4 0h6m5 0h5m4 0h1m2 0h1m9 0h8m3 0h34m-263 1h2m4 0h1m18 0h2m9 0h1m2 0h1m33 0h1m7 0h6m1 0h1m5 0h2m43 0h3m25 0h2m2 0h7m1 0h1m4 0h5m1 0h2m5 0h2m6 0h1m4 0h1m5 0h7m1 0h1m3 0h35m-262 1h3m2 0h3m27 0h1m1 0h1m1 0h1m29 0h6m6 0h7m4 0h2m11 0h1m20 0h1m10 0h3m22 0h2m3 0h2m1 0h1m1 0h3m7 0h5m3 0h2m4 0h2m6 0h2m1 0h3m5 0h6m6 0h35m-262 1h3m3 0h2m26 0h2m55 0h2m12 0h1m5 0h1m14 0h1m10 0h2m32 0h1m1 0h1m8 0h4m3 0h2m14 0h1m1 0h2m4 0h6m6 0h1m1 0h35m-265 1h2m2 0h2m4 0h1m17 0h1m5 0h1m1 0h2m55 0h2m13 0h2m19 0h1m9 0h2m25 0h1m14 0h7m4 0h1m3 0h2m10 0h1m1 0h1m5 0h6m1 0h1m4 0h37m-265 1h1m8 0h3m21 0h2m57 0h2m6 0h1m7 0h2m19 0h1m35 0h2m1 0h1m8 0h2m2 0h6m3 0h2m4 0h2m9 0h2m2 0h2m2 0h8m2 0h1m1 0h7m2 0h3m1 0h25m-256 1h3m75 0h2m8 0h5m7 0h2m1 0h1m16 0h1m18 0h1m13 0h2m1 0h1m11 0h9m4 0h2m3 0h2m10 0h2m1 0h14m2 0h7m1 0h2m1 0h6m1 0h21m-265 1h1m5 0h2m3 0h2m75 0h1m4 0h1m1 0h4m11 0h4m11 0h1m1 0h3m22 0h2m11 0h1m11 0h8m4 0h2m3 0h3m10 0h3m1 0h8m1 0h1m4 0h17m2 0h21m-260 1h1m5 0h2m76 0h2m2 0h5m14 0h2m10 0h2m2 0h1m48 0h7m5 0h2m2 0h3m10 0h14m4 0h2m1 0h9m1 0h2m1 0h3m2 0h20m-254 1h2m80 0h3m1 0h1m14 0h3m8 0h1m5 0h1m17 0h2m24 0h1m2 0h8m8 0h3m11 0h2m1 0h8m1 0h1m4 0h2m3 0h3m3 0h2m3 0h26m-254 1h2m26 0h2m1 0h3m50 0h3m15 0h3m6 0h1m23 0h3m25 0h9m9 0h4m10 0h2m1 0h8m6 0h2m9 0h2m2 0h27m-254 1h1m24 0h1m1 0h7m36 0h1m12 0h2m2 0h2m13 0h3m29 0h3m26 0h7m10 0h3m11 0h3m4 0h5m6 0h1m3 0h2m5 0h2m1 0h28m-261 1h2m93 0h1m13 0h3m60 0h5m9 0h3m1 0h1m10 0h2m5 0h5m5 0h1m3 0h2m1 0h9m1 0h26m-151 1h1m75 0h3m2 0h1m10 0h2m4 0h3m1 0h2m10 0h11m1 0h25m-257 1h2m56 0h1m20 0h1m21 0h1m21 0h2m20 0h2m33 0h5m2 0h1m15 0h7m11 0h1m1 0h1m1 0h5m1 0h26m-258 1h1m5 0h1m54 0h1m18 0h1m3 0h1m6 0h1m10 0h2m39 0h1m2 0h3m27 0h2m3 0h2m1 0h2m1 0h1m16 0h8m5 0h1m1 0h3m2 0h6m1 0h27m-258 1h1m56 0h1m22 0h1m21 0h1m39 0h2m1 0h1m1 0h2m17 0h6m5 0h2m1 0h3m1 0h2m1 0h1m2 0h1m8 0h2m2 0h9m1 0h1m3 0h4m2 0h35m-260 1h1m23 0h1m57 0h1m27 0h2m30 0h2m2 0h1m2 0h3m16 0h6m6 0h7m3 0h3m9 0h12m3 0h43m-265 1h1m5 0h1m39 0h2m1 0h1m37 0h2m26 0h2m38 0h3m15 0h4m8 0h5m4 0h3m10 0h12m2 0h7m1 0h9m1 0h26m-261 1h2m20 0h2m14 0h1m3 0h1m2 0h1m37 0h2m26 0h1m6 0h1m25 0h1m6 0h3m15 0h2m7 0h1m1 0h4m6 0h1m5 0h3m4 0h12m2 0h7m1 0h11m1 0h24m-264 1h1m22 0h3m12 0h1m1 0h1m3 0h1m11 0h1m29 0h1m35 0h1m3 0h3m26 0h3m13 0h1m10 0h4m9 0h2m2 0h4m3 0h10m1 0h3m1 0h6m1 0h11m1 0h24m-264 1h3m19 0h3m16 0h1m4 0h1m39 0h1m23 0h2m16 0h2m5 0h1m20 0h2m13 0h1m8 0h5m11 0h1m4 0h2m3 0h23m1 0h22m1 0h4m1 0h6m-263 1h2m4 0h1m33 0h2m1 0h3m64 0h1m22 0h2m15 0h1m4 0h2m5 0h1m6 0h5m4 0h6m11 0h2m3 0h3m1 0h3m2 0h6m2 0h21m1 0h10m3 0h4m1 0h6m-262 1h2m4 0h1m4 0h2m4 0h1m21 0h3m1 0h1m65 0h1m2 0h2m18 0h1m7 0h1m7 0h2m4 0h1m6 0h2m6 0h3m1 0h1m2 0h6m12 0h2m4 0h2m1 0h2m3 0h15m2 0h12m3 0h8m-247 1h1m4 0h1m3 0h2m31 0h1m18 0h1m46 0h1m2 0h2m25 0h2m6 0h3m10 0h2m11 0h8m13 0h3m3 0h2m1 0h2m3 0h14m1 0h14m1 0h10m-244 1h2m4 0h2m99 0h2m26 0h1m5 0h4m4 0h1m6 0h2m5 0h14m8 0h1m3 0h4m3 0h4m5 0h7m1 0h20m2 0h9m-246 1h1m6 0h3m38 0h1m18 0h1m68 0h2m5 0h1m1 0h2m8 0h1m1 0h3m1 0h1m2 0h11m5 0h1m8 0h1m1 0h5m2 0h4m4 0h14m1 0h1m1 0h22m-237 1h2m37 0h1m16 0h2m40 0h1m14 0h1m14 0h1m7 0h1m10 0h2m3 0h2m2 0h3m2 0h5m5 0h1m9 0h5m1 0h1m2 0h3m5 0h12m2 0h25m-237 1h2m9 0h1m27 0h1m28 0h1m29 0h1m14 0h1m22 0h4m7 0h2m1 0h3m2 0h2m4 0h4m9 0h1m5 0h6m1 0h2m1 0h3m3 0h10m1 0h24m1 0h2m1 0h1m-236 1h2m8 0h2m27 0h1m27 0h2m44 0h1m3 0h1m15 0h2m2 0h4m14 0h2m3 0h5m4 0h1m11 0h3m1 0h2m1 0h1m2 0h3m1 0h34m2 0h3m-234 1h2m8 0h1m13 0h1m10 0h1m11 0h1m12 0h2m51 0h2m17 0h4m9 0h1m13 0h5m18 0h1m8 0h36m3 0h5m-234 1h1m59 0h1m3 0h1m1 0h1m29 0h2m14 0h5m16 0h2m8 0h1m4 0h1m8 0h6m27 0h9m1 0h26m6 0h2m1 0h2m-242 1h2m23 0h1m6 0h1m5 0h1m30 0h1m31 0h2m15 0h2m18 0h3m5 0h1m16 0h1m1 0h1m29 0h9m1 0h24m1 0h1m2 0h1m3 0h5m-244 1h6m16 0h2m9 0h2m6 0h1m16 0h1m30 0h1m13 0h2m17 0h2m17 0h2m5 0h1m9 0h1m5 0h4m4 0h1m6 0h1m4 0h2m2 0h1m3 0h1m4 0h4m1 0h8m1 0h1m2 0h25m1 0h4m-244 1h3m20 0h2m4 0h2m2 0h1m25 0h1m52 0h1m1 0h2m4 0h1m1 0h2m17 0h1m10 0h1m3 0h4m3 0h8m1 0h4m3 0h1m2 0h1m1 0h3m1 0h3m1 0h1m4 0h3m1 0h3m1 0h2m1 0h2m5 0h14m1 0h14m-244 1h1m1 0h1m20 0h2m4 0h2m3 0h1m9 0h1m33 0h1m7 0h1m25 0h4m4 0h4m9 0h1m7 0h1m13 0h15m3 0h4m1 0h1m1 0h7m1 0h2m1 0h1m1 0h3m3 0h5m2 0h4m4 0h30m-242 1h2m25 0h3m2 0h1m1 0h1m14 0h2m9 0h1m15 0h2m6 0h3m23 0h1m1 0h3m5 0h3m4 0h2m1 0h1m8 0h4m8 0h1m1 0h17m1 0h12m2 0h8m1 0h2m1 0h5m3 0h2m5 0h30m-242 1h2m4 0h1m6 0h1m13 0h4m3 0h1m13 0h5m6 0h3m14 0h4m5 0h5m21 0h3m1 0h1m3 0h3m6 0h2m2 0h1m3 0h1m2 0h4m8 0h12m1 0h4m1 0h14m1 0h5m1 0h5m1 0h5m5 0h1m4 0h25m1 0h5m-246 1h2m3 0h1m9 0h1m1 0h4m7 0h2m3 0h2m19 0h5m4 0h1m17 0h13m21 0h5m3 0h4m5 0h16m8 0h11m1 0h25m3 0h1m4 0h5m4 0h2m2 0h20m1 0h6m1 0h4m-248 1h1m6 0h2m9 0h5m3 0h1m2 0h4m11 0h1m10 0h5m6 0h1m16 0h2m1 0h4m1 0h5m23 0h1m5 0h2m1 0h2m5 0h13m10 0h39m2 0h1m3 0h7m1 0h1m2 0h34m-248 1h1m7 0h2m7 0h6m1 0h3m3 0h3m12 0h1m9 0h1m27 0h2m2 0h3m2 0h4m6 0h3m14 0h3m3 0h1m3 0h2m4 0h13m10 0h19m1 0h19m1 0h1m2 0h1m1 0h7m1 0h37m-243 1h1m2 0h2m9 0h4m2 0h3m3 0h3m4 0h1m3 0h1m12 0h2m1 0h2m24 0h2m3 0h1m2 0h5m2 0h1m3 0h1m16 0h2m14 0h13m8 0h1m3 0h15m1 0h21m1 0h49m-239 1h1m8 0h7m1 0h3m3 0h3m3 0h2m15 0h4m14 0h1m9 0h3m1 0h1m4 0h6m8 0h1m15 0h1m3 0h1m10 0h12m7 0h1m5 0h36m1 0h13m1 0h35m-230 1h7m1 0h2m1 0h1m1 0h4m3 0h2m15 0h4m23 0h1m1 0h2m7 0h4m25 0h2m14 0h12m7 0h1m4 0h86m-230 1h7m1 0h2m3 0h1m1 0h3m20 0h4m23 0h1m2 0h1m5 0h6m25 0h1m5 0h1m8 0h12m7 0h2m3 0h25m2 0h59m-228 1h5m1 0h2m6 0h2m3 0h1m3 0h1m12 0h5m21 0h2m2 0h2m1 0h1m3 0h5m5 0h1m26 0h1m8 0h11m8 0h2m3 0h6m1 0h18m2 0h58m-227 1h4m2 0h2m6 0h2m9 0h1m10 0h3m22 0h1m2 0h4m4 0h5m1 0h1m3 0h3m17 0h2m7 0h1m6 0h11m4 0h2m1 0h4m3 0h25m2 0h2m1 0h54m-226 1h7m6 0h2m9 0h2m3 0h1m5 0h4m7 0h2m15 0h4m5 0h5m5 0h2m3 0h2m4 0h1m14 0h2m8 0h1m2 0h8m3 0h3m1 0h4m2 0h5m2 0h11m1 0h6m2 0h2m1 0h1m1 0h52m-226 1h5m8 0h3m6 0h4m9 0h4m8 0h1m16 0h2m6 0h5m1 0h1m3 0h4m22 0h4m10 0h8m2 0h2m3 0h4m2 0h29m3 0h51m-225 1h4m6 0h3m1 0h2m8 0h4m6 0h5m7 0h2m9 0h4m3 0h2m6 0h5m5 0h6m11 0h1m2 0h1m5 0h2m12 0h7m4 0h1m2 0h3m4 0h28m3 0h51m-227 1h6m9 0h1m1 0h1m9 0h3m4 0h1m1 0h5m5 0h1m2 0h2m9 0h3m2 0h4m5 0h7m4 0h5m16 0h1m18 0h7m3 0h2m1 0h89m-227 1h2m1 0h3m9 0h3m6 0h1m3 0h9m1 0h3m5 0h2m2 0h2m8 0h4m1 0h4m5 0h7m6 0h3m14 0h3m6 0h3m9 0h7m2 0h11m1 0h16m2 0h9m1 0h53m-222 1h2m10 0h1m10 0h8m3 0h2m5 0h3m2 0h2m6 0h11m4 0h5m1 0h3m4 0h3m13 0h1m1 0h2m6 0h5m1 0h1m2 0h1m1 0h8m3 0h3m1 0h6m3 0h79m-234 1h1m8 0h2m3 0h3m7 0h2m9 0h8m4 0h2m5 0h4m1 0h2m7 0h11m3 0h5m1 0h2m6 0h1m9 0h1m3 0h1m1 0h4m4 0h9m1 0h4m2 0h2m1 0h1m1 0h11m1 0h1m1 0h1m1 0h9m3 0h65m-225 1h5m1 0h3m3 0h1m2 0h3m7 0h12m2 0h2m3 0h5m1 0h2m7 0h4m1 0h7m4 0h4m8 0h1m5 0h1m8 0h5m3 0h2m1 0h9m1 0h3m1 0h2m3 0h18m1 0h6m3 0h65m-224 1h3m1 0h5m3 0h6m6 0h7m1 0h9m4 0h1m1 0h4m7 0h5m1 0h6m5 0h3m7 0h2m5 0h2m2 0h1m4 0h6m2 0h2m1 0h10m1 0h3m6 0h15m5 0h5m1 0h66m-236 1h1m11 0h9m2 0h8m6 0h6m4 0h7m1 0h1m1 0h4m1 0h1m8 0h7m1 0h2m6 0h2m8 0h2m6 0h2m6 0h9m3 0h10m2 0h2m7 0h8m1 0h5m4 0h7m1 0h64m-223 1h9m3 0h3m1 0h1m6 0h8m7 0h3m5 0h2m1 0h2m9 0h4m3 0h3m1 0h1m13 0h1m6 0h2m8 0h6m4 0h9m4 0h1m7 0h9m1 0h7m3 0h70m-223 1h9m2 0h6m6 0h9m6 0h3m5 0h2m3 0h1m8 0h4m4 0h5m6 0h1m5 0h1m7 0h1m7 0h10m2 0h7m6 0h1m1 0h1m5 0h11m1 0h4m2 0h1m1 0h6m1 0h42m1 0h19m-222 1h9m2 0h4m1 0h1m3 0h1m2 0h9m3 0h1m2 0h2m6 0h1m4 0h1m6 0h1m1 0h2m5 0h3m2 0h1m11 0h1m4 0h1m1 0h3m6 0h10m1 0h8m6 0h2m4 0h12m1 0h5m6 0h3m1 0h41m4 0h18m-230 1h2m6 0h15m2 0h6m1 0h4m1 0h4m2 0h1m10 0h2m3 0h1m8 0h3m2 0h4m3 0h2m10 0h2m3 0h3m3 0h1m4 0h4m1 0h2m5 0h3m1 0h5m2 0h1m1 0h3m3 0h1m1 0h10m2 0h4m7 0h2m2 0h4m1 0h35m4 0h18m-221 1h3m1 0h7m1 0h15m2 0h2m4 0h1m10 0h1m14 0h1m3 0h3m3 0h5m5 0h1m1 0h2m3 0h3m2 0h4m1 0h6m1 0h2m1 0h2m2 0h2m2 0h3m4 0h1m1 0h2m4 0h4m2 0h4m2 0h3m8 0h4m2 0h3m1 0h36m3 0h18m-221 1h3m1 0h11m4 0h5m1 0h1m4 0h2m6 0h2m12 0h1m4 0h1m2 0h2m3 0h1m1 0h2m2 0h4m6 0h5m3 0h1m4 0h10m1 0h2m2 0h2m2 0h6m7 0h1m7 0h1m2 0h8m3 0h3m3 0h4m3 0h26m1 0h12m4 0h17m-228 1h3m5 0h2m3 0h6m1 0h2m2 0h1m1 0h6m5 0h3m1 0h1m4 0h1m9 0h1m2 0h1m7 0h4m2 0h3m2 0h4m7 0h4m3 0h2m2 0h6m1 0h12m2 0h1m1 0h2m8 0h2m2 0h2m5 0h16m2 0h46m3 0h17m-227 1h1m6 0h2m6 0h3m1 0h2m2 0h7m3 0h2m1 0h3m6 0h2m6 0h1m10 0h1m1 0h4m4 0h7m3 0h2m2 0h3m4 0h3m2 0h5m2 0h7m1 0h4m3 0h3m6 0h4m1 0h1m1 0h21m1 0h33m1 0h12m5 0h16m-227 1h1m7 0h1m4 0h2m1 0h6m2 0h2m2 0h3m2 0h7m5 0h2m6 0h2m6 0h1m1 0h3m2 0h3m2 0h9m1 0h4m1 0h5m1 0h5m1 0h1m2 0h4m1 0h1m2 0h7m6 0h2m5 0h6m1 0h21m1 0h46m3 0h18m-227 1h1m3 0h1m1 0h1m5 0h3m2 0h9m2 0h1m4 0h9m2 0h3m1 0h1m4 0h2m6 0h10m1 0h1m1 0h6m1 0h7m1 0h5m1 0h6m3 0h5m7 0h1m1 0h1m5 0h1m7 0h3m2 0h57m1 0h12m1 0h19m-249 1h1m29 0h6m3 0h11m7 0h6m3 0h2m7 0h1m2 0h1m2 0h11m1 0h1m3 0h4m2 0h8m1 0h1m1 0h1m1 0h6m4 0h5m3 0h1m5 0h2m5 0h1m5 0h4m2 0h1m1 0h54m2 0h32m-248 1h1m28 0h3m6 0h11m7 0h6m1 0h3m1 0h1m7 0h3m2 0h8m1 0h5m1 0h6m2 0h12m1 0h6m1 0h1m1 0h5m3 0h1m2 0h2m1 0h3m4 0h2m3 0h5m1 0h10m2 0h20m1 0h25m1 0h2m1 0h29m-248 1h1m28 0h2m8 0h10m7 0h7m2 0h3m4 0h1m3 0h3m3 0h1m1 0h8m2 0h21m2 0h8m1 0h1m1 0h2m8 0h4m3 0h1m1 0h1m3 0h5m1 0h3m1 0h5m4 0h15m1 0h4m1 0h27m1 0h8m1 0h20m-248 1h2m28 0h2m7 0h11m7 0h6m2 0h3m9 0h2m2 0h2m2 0h4m1 0h2m1 0h1m1 0h21m1 0h2m1 0h5m3 0h1m1 0h1m2 0h1m3 0h3m6 0h5m2 0h3m1 0h1m1 0h1m2 0h4m3 0h15m3 0h31m2 0h7m2 0h19m-248 1h1m29 0h1m7 0h13m6 0h5m4 0h3m8 0h7m1 0h8m1 0h1m1 0h1m1 0h16m7 0h5m2 0h3m3 0h1m2 0h3m6 0h14m1 0h1m1 0h5m1 0h15m3 0h31m1 0h6m1 0h2m1 0h19m-248 1h1m37 0h6m2 0h4m5 0h1m2 0h5m3 0h4m7 0h17m1 0h19m7 0h6m1 0h1m4 0h2m8 0h1m1 0h7m3 0h6m2 0h3m1 0h1m1 0h9m3 0h44m3 0h20m-247 1h1m25 0h2m9 0h7m2 0h4m7 0h4m4 0h4m7 0h4m2 0h2m2 0h5m2 0h4m1 0h8m2 0h7m2 0h2m3 0h5m7 0h1m1 0h1m2 0h12m1 0h1m1 0h6m2 0h62m2 0h21m-247 1h2m25 0h2m8 0h7m3 0h2m7 0h5m4 0h5m6 0h3m7 0h3m6 0h2m5 0h5m3 0h5m6 0h8m3 0h4m4 0h50m1 0h11m1 0h22m1 0h21m-247 1h2m7 0h1m17 0h1m9 0h8m2 0h2m9 0h4m4 0h5m5 0h3m6 0h6m1 0h1m2 0h3m3 0h1m2 0h4m2 0h5m8 0h5m3 0h3m1 0h2m2 0h15m1 0h3m3 0h8m1 0h9m1 0h6m3 0h14m1 0h21m1 0h2m1 0h18m-245 1h2m5 0h1m13 0h1m14 0h7m14 0h3m4 0h5m6 0h2m6 0h8m1 0h10m2 0h8m10 0h6m1 0h2m2 0h1m4 0h18m4 0h10m2 0h4m2 0h3m3 0h1m1 0h15m2 0h3m2 0h37m-244 1h1m18 0h3m13 0h8m14 0h3m2 0h2m1 0h3m6 0h3m1 0h1m1 0h10m1 0h1m2 0h2m1 0h1m4 0h9m11 0h4m5 0h1m6 0h4m2 0h8m1 0h2m3 0h1m1 0h8m3 0h8m13 0h9m1 0h4m1 0h37m-237 1h1m5 0h1m6 0h3m12 0h9m4 0h2m8 0h4m1 0h3m1 0h2m4 0h4m1 0h6m1 0h5m4 0h2m3 0h1m1 0h11m8 0h8m2 0h2m4 0h1m1 0h3m1 0h1m1 0h7m2 0h5m2 0h4m1 0h3m4 0h9m6 0h1m4 0h4m1 0h10m1 0h36m-237 1h1m5 0h2m5 0h3m4 0h3m6 0h8m4 0h3m7 0h1m1 0h2m13 0h4m1 0h4m1 0h5m4 0h2m8 0h9m7 0h8m1 0h1m2 0h1m1 0h1m1 0h2m1 0h12m3 0h5m1 0h8m3 0h1m1 0h5m1 0h1m15 0h7m1 0h4m1 0h36m-237 1h2m4 0h3m5 0h3m4 0h2m4 0h10m5 0h2m5 0h1m2 0h4m4 0h1m7 0h3m1 0h12m3 0h2m8 0h9m6 0h1m2 0h16m2 0h2m1 0h3m1 0h5m2 0h5m1 0h7m1 0h1m4 0h6m17 0h1m1 0h5m2 0h39m-251 1h2m11 0h3m4 0h4m4 0h5m1 0h18m4 0h3m1 0h4m4 0h2m4 0h2m7 0h5m1 0h5m1 0h3m3 0h3m7 0h10m2 0h2m2 0h18m1 0h1m2 0h5m2 0h10m1 0h10m4 0h4m18 0h8m1 0h39m-251 1h3m9 0h4m5 0h5m2 0h5m1 0h7m1 0h9m1 0h2m3 0h3m1 0h1m6 0h2m13 0h4m1 0h7m1 0h3m2 0h4m7 0h9m3 0h1m2 0h17m3 0h1m3 0h4m2 0h11m1 0h6m1 0h2m4 0h2m5 0h1m14 0h8m1 0h38m-251 1h3m2 0h2m4 0h7m3 0h6m1 0h13m2 0h8m1 0h4m2 0h3m1 0h1m5 0h2m5 0h1m6 0h5m2 0h1m1 0h15m7 0h8m1 0h3m3 0h17m9 0h10m1 0h10m1 0h3m3 0h4m3 0h1m14 0h47m-250 1h4m1 0h2m4 0h5m1 0h1m1 0h20m3 0h8m1 0h9m1 0h1m1 0h1m3 0h2m6 0h2m5 0h3m5 0h16m5 0h10m1 0h23m7 0h10m2 0h3m2 0h5m2 0h4m2 0h4m3 0h3m11 0h9m1 0h37m-250 1h8m4 0h23m1 0h4m3 0h18m2 0h2m2 0h3m5 0h1m1 0h1m4 0h3m6 0h16m4 0h1m1 0h7m1 0h15m1 0h11m4 0h11m1 0h10m2 0h4m2 0h5m2 0h2m6 0h2m1 0h1m1 0h10m2 0h36m-248 1h3m1 0h2m6 0h6m2 0h12m1 0h5m4 0h17m4 0h7m5 0h1m5 0h3m5 0h10m1 0h5m4 0h13m1 0h5m2 0h16m4 0h12m1 0h9m3 0h10m10 0h3m2 0h1m1 0h8m3 0h35m-248 1h7m4 0h2m1 0h4m3 0h12m1 0h5m3 0h14m1 0h2m4 0h7m4 0h2m5 0h3m6 0h16m4 0h8m2 0h8m2 0h21m1 0h10m3 0h3m1 0h5m2 0h9m10 0h3m3 0h10m1 0h36m-248 1h8m3 0h7m4 0h11m1 0h7m1 0h18m4 0h4m1 0h1m6 0h3m1 0h3m8 0h15m3 0h8m3 0h7m3 0h33m2 0h3m2 0h4m3 0h9m4 0h1m4 0h4m4 0h45m-251 1h1m8 0h2m4 0h8m2 0h18m1 0h19m4 0h4m2 0h2m4 0h5m1 0h2m8 0h8m1 0h7m2 0h7m1 0h1m3 0h6m3 0h13m1 0h16m2 0h1m2 0h3m1 0h4m3 0h10m1 0h1m1 0h1m5 0h4m2 0h46m-251 1h1m8 0h2m4 0h2m2 0h3m4 0h9m2 0h7m1 0h16m11 0h3m4 0h3m4 0h2m7 0h16m2 0h8m3 0h7m1 0h1m3 0h28m2 0h2m2 0h3m1 0h4m2 0h7m1 0h4m1 0h1m2 0h8m1 0h46m-251 1h1m8 0h3m4 0h2m9 0h18m3 0h5m2 0h7m8 0h6m2 0h4m4 0h5m5 0h13m1 0h1m3 0h8m1 0h1m2 0h5m5 0h28m1 0h4m2 0h3m1 0h4m2 0h6m1 0h9m1 0h17m1 0h35m-242 1h3m4 0h2m2 0h3m5 0h8m2 0h7m5 0h12m3 0h1m4 0h14m2 0h5m4 0h15m4 0h3m2 0h4m1 0h1m2 0h5m1 0h1m5 0h24m4 0h2m2 0h3m1 0h3m4 0h12m2 0h3m2 0h50m-241 1h3m4 0h4m7 0h18m1 0h1m1 0h6m1 0h7m1 0h3m3 0h14m2 0h7m2 0h1m1 0h13m4 0h1m1 0h1m3 0h3m5 0h5m7 0h9m2 0h12m4 0h7m2 0h2m5 0h2m1 0h13m1 0h16m1 0h34m-240 1h2m4 0h2m10 0h17m1 0h1m1 0h19m3 0h23m3 0h13m3 0h1m1 0h2m4 0h1m2 0h3m2 0h4m7 0h9m2 0h13m4 0h7m2 0h2m1 0h1m1 0h1m1 0h2m1 0h12m1 0h51m-240 1h3m4 0h2m9 0h5m1 0h1m1 0h8m1 0h10m2 0h10m3 0h16m1 0h2m2 0h2m4 0h12m4 0h1m7 0h2m1 0h2m3 0h4m7 0h9m2 0h4m1 0h9m2 0h7m2 0h2m1 0h1m1 0h18m1 0h50m-239 1h2m5 0h1m9 0h5m5 0h17m1 0h11m2 0h16m3 0h1m3 0h1m4 0h13m3 0h3m6 0h5m2 0h5m4 0h3m1 0h7m1 0h5m3 0h6m1 0h2m1 0h6m1 0h1m2 0h1m3 0h3m1 0h64m-239 1h3m15 0h4m1 0h2m1 0h31m5 0h13m2 0h1m4 0h1m1 0h1m3 0h12m2 0h2m7 0h6m1 0h6m2 0h11m1 0h6m3 0h6m3 0h8m3 0h1m3 0h5m1 0h62m-238 1h2m16 0h39m5 0h12m3 0h1m3 0h18m3 0h2m6 0h4m4 0h6m1 0h19m2 0h7m1 0h2m2 0h3m2 0h4m3 0h4m2 0h14m1 0h47m-238 1h2m15 0h1m1 0h4m1 0h33m6 0h1m2 0h7m2 0h2m4 0h1m1 0h18m2 0h1m7 0h3m4 0h5m1 0h17m1 0h1m4 0h6m6 0h2m4 0h4m1 0h68m-217 1h3m1 0h34m1 0h1m7 0h11m4 0h18m1 0h1m2 0h1m2 0h4m6 0h5m1 0h18m1 0h1m4 0h6m2 0h1m2 0h4m2 0h1m2 0h70m-220 1h1m1 0h1m1 0h1m2 0h1m1 0h1m1 0h33m1 0h1m3 0h8m2 0h4m3 0h1m2 0h15m2 0h2m1 0h5m6 0h29m1 0h6m1 0h3m2 0h2m4 0h7m1 0h2m1 0h61m-219 1h3m1 0h2m3 0h39m1 0h13m1 0h1m2 0h1m2 0h14m3 0h2m1 0h2m3 0h1m2 0h2m1 0h28m1 0h1m1 0h3m3 0h2m1 0h1m1 0h13m1 0h63m-221 1h1m2 0h2m1 0h2m3 0h53m5 0h17m1 0h1m2 0h2m1 0h2m4 0h7m1 0h24m2 0h3m3 0h2m3 0h1m1 0h75m-222 1h9m2 0h43m1 0h4m1 0h1m1 0h2m5 0h1m1 0h4m1 0h11m4 0h8m2 0h30m1 0h2m1 0h2m3 0h8m1 0h73m-222 1h1m3 0h5m2 0h45m3 0h6m1 0h1m3 0h1m5 0h9m7 0h3m1 0h2m1 0h1m1 0h6m1 0h22m1 0h1m3 0h2m1 0h84m-218 1h37m1 0h15m4 0h3m5 0h1m1 0h1m3 0h1m1 0h6m1 0h2m5 0h7m2 0h28m1 0h2m1 0h5m1 0h2m1 0h81m-219 1h7m2 0h31m1 0h17m1 0h1m8 0h1m2 0h1m3 0h1m1 0h5m5 0h7m2 0h15m1 0h25m1 0h79m1 0h1m-218 1h7m2 0h29m1 0h7m2 0h12m7 0h1m3 0h1m1 0h1m1 0h1m1 0h6m2 0h3m1 0h2m3 0h7m1 0h8m1 0h14m1 0h92m-219 1h7m1 0h19m1 0h19m2 0h2m1 0h2m1 0h2m1 0h3m16 0h5m1 0h1m3 0h5m2 0h7m1 0h4m1 0h35m1 0h76m-220 1h10m1 0h37m3 0h6m10 0h1m4 0h1m8 0h3m4 0h5m1 0h1m1 0h11m1 0h1m4 0h105m1 0h1m-221 1h1m2 0h46m5 0h1m12 0h1m14 0h3m2 0h8m1 0h2m1 0h7m10 0h10m1 0h1m1 0h92m-220 1h2m1 0h1m3 0h30m2 0h6m6 0h1m1 0h2m2 0h3m7 0h1m19 0h1m3 0h6m1 0h6m1 0h2m7 0h1m1 0h1m1 0h1m1 0h100m-213 1h18m1 0h10m1 0h4m1 0h2m5 0h4m6 0h3m20 0h1m10 0h3m3 0h1m1 0h1m1 0h3m6 0h2m1 0h1m3 0h2m3 0h85m1 0h10m-213 1h22m1 0h6m1 0h2m9 0h1m1 0h1m1 0h1m5 0h1m1 0h1m26 0h1m2 0h2m1 0h3m1 0h2m3 0h5m4 0h7m6 0h1m1 0h94m-212 1h29m3 0h1m2 0h2m5 0h3m4 0h5m29 0h1m1 0h7m3 0h5m3 0h8m6 0h3m1 0h91m-209 1h24m1 0h2m4 0h4m41 0h3m2 0h1m2 0h4m1 0h1m2 0h16m1 0h3m1 0h96m-208 1h27m4 0h2m18 0h2m15 0h2m3 0h3m2 0h1m2 0h4m1 0h1m5 0h11m5 0h100m-208 1h16m1 0h1m1 0h7m19 0h1m5 0h8m10 0h6m1 0h3m3 0h1m5 0h1m1 0h1m3 0h12m1 0h100m-207 1h8m3 0h4m4 0h2m4 0h2m27 0h4m11 0h2m6 0h1m12 0h1m1 0h1m3 0h10m1 0h93m1 0h1m1 0h5m-216 1h3m5 0h7m3 0h5m4 0h2m52 0h1m2 0h2m13 0h1m6 0h98m1 0h3m1 0h6m-215 1h3m5 0h4m7 0h5m3 0h1m50 0h9m1 0h1m17 0h3m1 0h93m1 0h10m-210 1h2m1 0h2m68 0h10m1 0h1m6 0h4m5 0h103m2 0h4m-211 1h7m66 0h6m1 0h1m11 0h3m6 0h2m1 0h21m1 0h85m-208 1h3m56 0h1m9 0h7m23 0h1m1 0h102m1 0h7m-209 1h2m55 0h1m2 0h3m8 0h4m24 0h1m1 0h15m1 0h82m1 0h5m1 0h3m-192 1h2m39 0h5m5 0h1m4 0h2m23 0h3m1 0h12m4 0h82m1 0h1m1 0h6m-192 1h2m41 0h3m4 0h1m1 0h2m3 0h1m24 0h2m3 0h10m1 0h1m2 0h91m-192 1h1m38 0h1m1 0h1m13 0h2m25 0h2m2 0h11m5 0h90m-192 1h1m81 0h1m4 0h1m1 0h6m7 0h73m1 0h16m-106 1h2m1 0h1m1 0h3m9 0h89m-105 1h1m1 0h5m7 0h1m1 0h84m1 0h4m-135 1h1m29 0h1m2 0h3m11 0h77m1 0h2m2 0h6m-135 1h2m31 0h4m11 0h72m1 0h9m1 0h4m-134 1h3m45 0h3m1 0h64m1 0h2m1 0h3m1 0h6m2 0h2m-132 1h3m47 0h64m2 0h2m1 0h13m-130 1h2m48 0h61m7 0h2m2 0h8m-81 1h33m3 0h8m1 0h1m1 0h1m1 0h13m6 0h12m-117 1h3m35 0h33m1 0h3m1 0h2m1 0h1m3 0h1m2 0h7m2 0h4m1 0h1m1 0h2m3 0h4m3 0h4m-119 1h4m33 0h5m1 0h5m1 0h13m3 0h2m6 0h4m2 0h2m2 0h1m2 0h1m1 0h7m1 0h6m1 0h3m1 0h3m3 0h6m-120 1h6m3 0h1m28 0h11m1 0h13m1 0h1m8 0h4m1 0h3m1 0h2m2 0h9m1 0h24m-162 1h4m22 0h5m10 0h11m25 0h2m1 0h11m3 0h11m1 0h1m8 0h4m3 0h3m2 0h35m-162 1h5m21 0h1m2 0h1m11 0h10m30 0h10m2 0h12m5 0h1m3 0h3m4 0h2m6 0h14m1 0h1m2 0h15m-162 1h5m36 0h9m28 0h2m1 0h4m1 0h3m3 0h6m1 0h1m1 0h5m4 0h3m2 0h2m6 0h1m5 0h9m1 0h3m5 0h15m-164 1h2m1 0h5m35 0h8m29 0h2m1 0h7m3 0h13m1 0h1m1 0h2m2 0h1m1 0h1m1 0h2m6 0h1m6 0h11m6 0h2m1 0h12m-163 1h6m28 0h1m9 0h6m30 0h8m3 0h12m1 0h2m4 0h2m1 0h1m2 0h2m6 0h2m5 0h12m3 0h2m1 0h14m-169 1h1m8 0h4m27 0h2m43 0h1m5 0h5m3 0h1m1 0h6m1 0h1m2 0h2m5 0h1m3 0h2m2 0h1m1 0h1m7 0h20m1 0h12m-249 1h2m77 0h2m7 0h5m27 0h2m51 0h1m1 0h1m1 0h13m1 0h1m13 0h5m1 0h1m3 0h34m-250 1h2m78 0h2m9 0h1m27 0h4m8 0h1m46 0h11m2 0h3m5 0h1m6 0h2m1 0h2m2 0h5m2 0h30m-250 1h3m43 0h2m32 0h2m38 0h3m8 0h2m45 0h1m2 0h10m1 0h4m6 0h1m6 0h1m4 0h5m1 0h6m1 0h23m-250 1h1m1 0h1m44 0h2m10 0h4m43 0h1m15 0h2m7 0h2m48 0h3m1 0h11m3 0h1m1 0h1m7 0h2m1 0h38m-251 1h3m13 0h1m32 0h2m8 0h1m2 0h1m1 0h1m41 0h1m16 0h4m5 0h2m49 0h1m1 0h11m4 0h4m9 0h22m1 0h15m-251 1h3m14 0h1m33 0h2m6 0h1m4 0h1m58 0h1m2 0h1m5 0h2m46 0h3m1 0h1m2 0h1m1 0h3m2 0h2m1 0h1m2 0h3m12 0h10m1 0h25m-234 1h1m41 0h4m68 0h3m49 0h1m5 0h3m2 0h3m2 0h2m1 0h2m9 0h6m1 0h31m-235 1h1m42 0h6m66 0h2m36 0h3m10 0h1m2 0h1m4 0h1m4 0h1m2 0h2m13 0h7m2 0h29m-236 1h1m44 0h4m67 0h2m35 0h4m11 0h1m1 0h1m2 0h2m9 0h3m4 0h1m1 0h1m2 0h40m-237 1h2m4 0h2m109 0h2m36 0h1m14 0h3m7 0h14m2 0h41m-237 1h2m2 0h4m163 0h1m1 0h1m4 0h5m2 0h11m1 0h1m2 0h10m1 0h26m-236 1h2m3 0h1m170 0h13m1 0h4m1 0h3m1 0h2m2 0h3m1 0h29m-251 1h1m14 0h3m7 0h1m167 0h16m1 0h3m9 0h29m-235 1h3m156 0h1m2 0h1m14 0h11m1 0h4m9 0h1m1 0h1m1 0h1m1 0h27m-233 1h2m154 0h1m1 0h2m2 0h2m11 0h1m2 0h13m1 0h3m2 0h1m7 0h28m-251 1h1m18 0h2m132 0h1m21 0h1m1 0h5m11 0h15m1 0h2m1 0h5m3 0h2m2 0h27m-239 1h1m7 0h1m79 0h3m50 0h1m24 0h5m5 0h1m4 0h19m1 0h4m4 0h30m-246 1h3m4 0h3m86 0h3m49 0h1m24 0h2m2 0h5m5 0h23m1 0h3m1 0h31m-250 1h1m2 0h5m3 0h1m18 0h1m71 0h1m29 0h1m19 0h1m6 0h1m9 0h1m2 0h4m5 0h1m1 0h1m1 0h2m4 0h22m1 0h2m1 0h3m1 0h29m-250 1h1m3 0h3m1 0h1m2 0h1m17 0h2m3 0h1m1 0h2m69 0h3m24 0h2m16 0h1m5 0h2m9 0h1m2 0h2m9 0h1m1 0h4m1 0h23m2 0h4m1 0h30m-245 1h4m21 0h1m3 0h4m16 0h1m52 0h2m25 0h2m16 0h2m4 0h1m14 0h1m1 0h1m8 0h1m1 0h25m2 0h1m4 0h32m-245 1h1m1 0h1m12 0h2m2 0h1m4 0h1m1 0h1m2 0h2m1 0h1m15 0h2m21 0h1m30 0h4m22 0h2m16 0h3m3 0h2m14 0h2m4 0h1m2 0h27m3 0h1m2 0h2m1 0h32m-251 1h1m24 0h1m5 0h1m1 0h1m3 0h1m39 0h2m31 0h4m20 0h2m15 0h2m1 0h1m3 0h2m16 0h1m5 0h28m5 0h4m1 0h31m-251 1h4m21 0h1m5 0h4m1 0h1m40 0h2m79 0h1m3 0h1m11 0h1m7 0h7m1 0h8m1 0h13m2 0h5m1 0h31m-251 1h2m3 0h1m23 0h1m1 0h1m1 0h1m1 0h1m41 0h2m29 0h1m22 0h2m24 0h2m14 0h3m8 0h5m2 0h9m1 0h1m1 0h8m4 0h5m1 0h30m-251 1h9m5 0h2m14 0h2m1 0h1m2 0h1m41 0h1m28 0h2m22 0h1m2 0h1m23 0h1m12 0h6m7 0h3m2 0h9m4 0h9m4 0h1m4 0h31m-251 1h2m1 0h3m3 0h1m1 0h2m1 0h3m1 0h2m10 0h1m47 0h1m26 0h5m61 0h2m1 0h3m8 0h1m1 0h11m3 0h10m3 0h1m6 0h24m1 0h5m-250 1h6m3 0h2m1 0h3m9 0h1m77 0h5m64 0h2m7 0h1m3 0h7m1 0h6m2 0h9m1 0h2m1 0h1m5 0h15m1 0h10m1 0h4m-251 1h6m1 0h1m1 0h4m2 0h1m3 0h2m5 0h1m1 0h1m8 0h1m62 0h6m62 0h1m4 0h1m1 0h2m3 0h2m3 0h14m1 0h3m1 0h6m3 0h2m5 0h25m2 0h4"/>
<path stroke="#ff4f00" d="M0 0m268 0h1m4 0h1m-9 1h1m2 0h2m4 0h2m2 0h1m-130 1h1m117 0h4m2 0h2m1 0h1m-130 1h3m112 0h1m3 0h1m2 0h3m1 0h4m1 0h1m-133 1h2m118 0h2m1 0h2m3 0h2m2 0h1m-133 1h1m123 0h2m1 0h4m-24 1h1m13 0h1m1 0h3m2 0h4m-12 1h1m3 0h2m3 0h4m-10 1h10m-48 1h1m36 0h2m3 0h1m3 0h1m-263 1h1m252 0h1m2 0h1m1 0h3m1 0h1m-191 1h1m180 0h7m1 0h3m-9 1h4m3 0h1m-10 1h8m1 0h1m-50 1h3m39 0h8m-13 1h2m1 0h1m1 0h7m1 0h1m-143 1h2m127 0h2m4 0h2m1 0h3m-143 1h5m115 0h1m3 0h1m7 0h3m-13 1h1m5 0h1m4 0h1m-166 1h1m151 0h1m1 0h1m1 0h1m1 0h2m13 0h1m2 0h1m-18 1h1m6 0h3m5 0h2m-245 1h2m220 0h4m1 0h1m5 0h1m1 0h3m4 0h3m-243 1h1m220 0h1m1 0h1m6 0h3m1 0h2m1 0h2m1 0h1m-240 1h1m127 0h1m100 0h2m4 0h1m2 0h1m3 0h1m-243 1h1m104 0h3m20 0h1m100 0h3m-127 1h1m123 0h1m12 0h1m-114 1h1m100 0h1m6 1h1m4 0h1m-112 1h1m106 0h1m2 0h1m-4 1h1m-1 1h2m1 0h1m-4 1h2m1 0h1m-5 1h4m-4 1h5m-73 1h1m66 0h6m-77 1h4m66 0h4m2 0h1m-8 1h5m1 0h1m-7 1h2m-43 1h3m1 0h1m43 0h1m-48 1h3m1 0h1m18 0h6m9 0h1m1 0h2m-45 1h2m1 0h5m16 0h8m1 0h4m6 0h2m1 0h1m-47 1h1m3 0h2m16 0h11m1 0h3m2 0h7m1 0h1m-45 1h1m1 0h2m10 0h1m3 0h2m1 0h22m-247 1h1m3 0h1m197 0h3m1 0h4m8 0h1m2 0h1m1 0h3m1 0h7m1 0h10m1 0h1m3 0h2m-252 1h2m2 0h3m194 0h10m1 0h1m3 0h1m1 0h6m1 0h22m4 0h1m-246 1h1m176 0h5m12 0h3m1 0h1m1 0h4m1 0h2m2 0h1m1 0h3m1 0h1m1 0h1m3 0h19m3 0h1m-244 1h1m178 0h1m13 0h5m2 0h8m2 0h2m2 0h6m2 0h15m1 0h5m1 0h1m-261 1h1m15 0h1m191 0h9m1 0h10m1 0h8m3 0h8m1 0h1m5 0h4m-259 1h1m207 0h9m1 0h3m1 0h6m2 0h9m1 0h6m5 0h1m2 0h1m1 0h5m-53 1h3m1 0h2m3 0h2m3 0h20m2 0h3m4 0h1m4 0h3m1 0h2m-235 1h4m176 0h4m3 0h5m1 0h5m1 0h8m1 0h5m4 0h1m3 0h1m12 0h1m-236 1h2m178 0h3m6 0h9m1 0h1m1 0h6m2 0h5m1 0h4m4 0h1m10 0h2m-56 1h2m6 0h9m1 0h3m1 0h20m1 0h2m3 0h1m-57 1h1m5 0h4m6 0h10m1 0h9m1 0h19m-50 1h3m5 0h1m1 0h3m1 0h4m1 0h28m5 0h1m-59 1h2m3 0h3m9 0h2m1 0h1m1 0h2m3 0h25m6 0h1m-248 1h1m173 0h1m19 0h3m6 0h1m2 0h7m2 0h1m1 0h25m1 0h2m2 0h1m-251 1h1m176 0h1m15 0h1m2 0h3m2 0h1m2 0h1m1 0h1m2 0h2m1 0h5m4 0h24m1 0h2m-63 1h1m12 0h3m1 0h16m3 0h23m2 0h3m4 0h1m1 0h1m-70 1h1m9 0h4m1 0h18m2 0h24m1 0h4m4 0h1m-58 1h4m1 0h18m1 0h4m1 0h17m4 0h2m4 0h1m-56 1h46m3 0h2m5 0h1m-56 1h2m1 0h40m12 0h1m-52 1h39m4 0h1m2 0h1m3 0h2m-67 1h1m2 0h1m1 0h2m6 0h11m1 0h29m2 0h2m8 0h1m-67 1h2m1 0h6m1 0h15m2 0h22m1 0h2m1 0h1m1 0h3m-57 1h9m1 0h8m1 0h1m6 0h20m4 0h1m1 0h2m1 0h1m9 0h1m-239 1h1m173 0h6m1 0h1m2 0h8m3 0h2m2 0h16m1 0h3m4 0h1m8 0h1m-58 1h6m5 0h6m1 0h4m1 0h1m1 0h1m2 0h12m1 0h4m4 0h3m5 0h3m-60 1h2m1 0h2m7 0h11m2 0h1m2 0h11m1 0h4m5 0h3m7 0h2m1 0h2m-64 1h3m8 0h10m1 0h5m1 0h11m2 0h3m4 0h4m2 0h1m4 0h5m-200 1h1m145 0h5m1 0h3m4 0h8m1 0h9m7 0h3m3 0h1m2 0h1m1 0h4m-199 1h1m138 0h3m1 0h1m2 0h8m1 0h2m4 0h7m1 0h7m1 0h1m2 0h1m2 0h7m3 0h1m1 0h1m1 0h2m1 0h1m-62 1h5m4 0h2m1 0h4m6 0h1m1 0h8m1 0h1m11 0h8m1 0h2m3 0h1m-59 1h5m1 0h10m6 0h10m11 0h7m1 0h1m-50 1h15m5 0h1m1 0h7m9 0h10m-45 1h5m2 0h2m9 0h1m2 0h4m10 0h9m2 0h1m-63 1h1m13 0h1m1 0h1m1 0h3m1 0h2m1 0h1m3 0h3m6 0h3m11 0h3m3 0h2m1 0h1m8 0h1m-67 1h1m1 0h1m13 0h1m3 0h1m14 0h3m7 0h1m1 0h4m5 0h3m6 0h2m-67 1h1m13 0h2m10 0h3m2 0h1m5 0h1m7 0h4m7 0h4m3 0h5m-48 1h1m2 0h2m2 0h1m18 0h1m5 0h3m1 0h4m3 0h5m-43 1h2m5 0h1m13 0h4m3 0h4m6 0h5m-59 1h1m16 0h1m3 0h3m13 0h1m6 0h3m3 0h1m3 0h2m1 0h2m-42 1h2m3 0h1m2 0h1m5 0h2m12 0h1m1 0h1m7 0h4m-32 1h1m19 0h1m2 0h1m1 0h6m-72 1h2m38 0h2m19 0h2m2 0h2m2 0h4m-62 1h1m27 0h3m20 0h5m4 0h1m-97 1h1m30 0h1m3 0h1m29 0h1m14 0h1m4 0h1m1 0h4m6 0h1m-98 1h1m60 0h1m1 0h1m21 0h1m1 0h5m4 0h2m-24 1h1m14 0h4m2 0h1m-51 1h2m42 0h3m2 0h1m-161 1h1m109 0h2m16 0h1m17 0h2m7 0h2m2 0h3m-162 1h1m88 0h2m18 0h2m15 0h3m17 0h2m6 0h3m3 0h3m-163 1h1m45 0h1m42 0h2m11 0h2m3 0h3m18 0h1m3 0h1m12 0h2m4 0h1m1 0h5m1 0h1m1 0h2m-163 1h1m87 0h2m12 0h2m3 0h1m14 0h2m2 0h1m1 0h1m9 0h1m5 0h5m1 0h2m2 0h3m1 0h5m-69 1h3m5 0h2m18 0h2m21 0h5m2 0h2m1 0h1m1 0h5m-102 1h1m33 0h3m5 0h2m18 0h2m1 0h1m19 0h4m1 0h2m2 0h1m2 0h6m-105 1h2m33 0h2m5 0h4m16 0h7m14 0h1m3 0h3m2 0h2m6 0h6m-107 1h2m33 0h2m6 0h5m16 0h7m13 0h2m3 0h1m3 0h4m4 0h6m-102 1h1m11 0h1m15 0h3m8 0h3m1 0h1m14 0h1m1 0h2m2 0h1m5 0h1m6 0h5m4 0h1m1 0h14m-90 1h2m14 0h2m10 0h4m16 0h3m2 0h2m4 0h1m4 0h3m8 0h5m1 0h9m-75 1h1m13 0h2m20 0h2m6 0h1m2 0h5m6 0h5m1 0h11m-64 1h5m7 0h2m13 0h1m7 0h5m1 0h1m5 0h3m2 0h2m1 0h9m-94 1h1m20 0h1m8 0h6m6 0h1m1 0h1m1 0h2m17 0h2m1 0h6m2 0h2m2 0h8m3 0h3m-94 1h2m18 0h2m11 0h5m18 0h1m5 0h1m1 0h3m1 0h2m2 0h3m2 0h11m1 0h5m-93 1h2m17 0h1m15 0h1m4 0h2m3 0h2m11 0h2m8 0h1m3 0h16m3 0h2m-93 1h2m35 0h1m13 0h1m6 0h3m10 0h19m1 0h2m-101 1h1m8 0h2m47 0h2m6 0h2m4 0h4m2 0h3m1 0h19m-103 1h3m9 0h2m54 0h8m1 0h5m3 0h18m-105 1h2m1 0h1m11 0h1m54 0h4m2 0h10m1 0h2m2 0h8m1 0h5m-103 1h2m55 0h1m10 0h2m3 0h13m3 0h4m1 0h4m1 0h4m-134 1h1m79 0h2m3 0h1m1 0h1m7 0h1m3 0h1m5 0h7m1 0h4m2 0h4m1 0h3m1 0h2m2 0h2m-104 1h1m49 0h2m12 0h2m3 0h1m5 0h2m3 0h2m2 0h8m1 0h5m2 0h4m-104 1h1m54 0h1m1 0h1m10 0h2m5 0h4m1 0h1m1 0h4m1 0h1m1 0h2m1 0h5m4 0h3m-95 1h2m42 0h2m20 0h6m1 0h4m2 0h9m2 0h1m1 0h3m-97 1h2m19 0h3m11 0h1m6 0h1m3 0h1m2 0h1m14 0h1m1 0h13m6 0h4m4 0h4m-75 1h2m32 0h1m5 0h1m5 0h8m1 0h2m3 0h1m2 0h4m1 0h1m1 0h5m-45 1h4m13 0h6m1 0h2m2 0h1m1 0h1m2 0h6m1 0h5m-98 1h7m23 0h2m21 0h1m1 0h1m1 0h1m2 0h1m4 0h2m2 0h1m1 0h4m3 0h1m5 0h1m1 0h12m-99 1h5m28 0h2m22 0h5m1 0h1m1 0h1m1 0h3m3 0h2m3 0h1m4 0h1m2 0h13m-138 1h4m70 0h1m22 0h6m10 0h2m2 0h1m3 0h5m1 0h11m-138 1h2m93 0h10m11 0h1m5 0h2m1 0h13m-122 1h1m41 0h1m41 0h3m10 0h1m8 0h16m-124 1h2m40 0h1m45 0h4m7 0h1m4 0h2m2 0h5m1 0h10m-125 1h2m86 0h1m2 0h2m7 0h1m1 0h1m1 0h1m1 0h3m1 0h1m1 0h13m-126 1h2m54 0h1m32 0h4m1 0h1m1 0h1m3 0h3m1 0h5m1 0h4m1 0h11m-224 1h1m96 0h2m51 0h1m5 0h1m31 0h3m9 0h8m1 0h2m1 0h12m-128 1h1m3 0h1m49 0h1m30 0h2m1 0h2m1 0h3m1 0h1m6 0h5m3 0h1m1 0h2m1 0h13m-134 1h1m6 0h2m7 0h2m73 0h5m1 0h3m5 0h2m1 0h6m2 0h4m2 0h12m-134 1h1m5 0h2m84 0h2m2 0h1m7 0h4m1 0h5m2 0h6m1 0h11m-137 1h4m4 0h2m47 0h2m36 0h3m8 0h11m1 0h19m-138 1h5m4 0h1m87 0h2m4 0h1m2 0h3m2 0h2m3 0h2m1 0h1m1 0h17m-151 1h1m12 0h2m1 0h2m91 0h4m1 0h3m2 0h4m1 0h2m7 0h2m1 0h2m2 0h11m-236 1h1m96 0h2m2 0h1m21 0h3m24 0h1m43 0h3m2 0h1m1 0h1m6 0h1m7 0h1m1 0h5m3 0h10m-264 1h1m3 0h1m23 0h1m96 0h1m96 0h3m9 0h2m8 0h20m-259 1h1m23 0h1m84 0h1m71 0h1m35 0h3m7 0h2m8 0h1m2 0h19m-259 1h1m80 0h1m91 0h1m5 0h4m32 0h1m1 0h2m17 0h23m-259 1h2m79 0h1m91 0h1m5 0h1m12 0h1m41 0h25m-259 1h2m78 0h1m92 0h1m4 0h1m16 0h1m39 0h4m1 0h19m-180 1h1m44 0h3m20 0h1m27 0h2m1 0h1m15 0h1m29 0h1m3 0h1m6 0h24m-194 1h1m12 0h1m11 0h1m31 0h4m11 0h1m9 0h1m26 0h3m19 0h1m28 0h3m6 0h1m1 0h23m-194 1h1m25 0h1m2 0h2m25 0h3m2 0h1m23 0h1m6 0h1m16 0h2m35 0h1m6 0h3m5 0h1m4 0h4m1 0h1m3 0h1m3 0h15m-194 1h1m14 0h1m12 0h1m1 0h2m2 0h2m19 0h3m7 0h1m23 0h1m2 0h1m16 0h2m36 0h4m1 0h2m14 0h1m1 0h1m2 0h2m2 0h1m1 0h15m-194 1h2m13 0h1m12 0h1m1 0h4m2 0h1m18 0h2m3 0h1m4 0h1m23 0h1m2 0h1m15 0h2m3 0h1m35 0h4m16 0h6m1 0h18m-194 1h2m13 0h1m12 0h1m1 0h3m3 0h1m23 0h2m3 0h2m15 0h1m6 0h1m2 0h1m57 0h2m2 0h1m15 0h5m1 0h2m1 0h15m-193 1h1m26 0h1m2 0h2m3 0h1m10 0h1m4 0h2m18 0h2m83 0h2m11 0h5m1 0h2m1 0h15m-164 1h2m15 0h1m4 0h1m19 0h3m63 0h1m16 0h1m1 0h2m11 0h2m2 0h20m-147 1h3m20 0h1m1 0h2m34 0h3m12 0h2m12 0h1m17 0h3m10 0h3m6 0h17m-174 1h1m26 0h2m1 0h1m17 0h3m1 0h2m1 0h4m30 0h4m12 0h1m4 0h2m1 0h1m8 0h1m11 0h1m1 0h1m9 0h4m5 0h2m1 0h16m-187 1h1m11 0h2m25 0h2m1 0h2m3 0h1m13 0h2m2 0h2m2 0h1m1 0h1m32 0h4m16 0h3m23 0h1m8 0h2m1 0h1m6 0h18m-228 1h1m52 0h2m25 0h2m1 0h1m4 0h2m16 0h2m39 0h2m16 0h3m7 0h1m4 0h2m15 0h5m1 0h1m7 0h17m-176 1h2m25 0h2m9 0h1m20 0h1m10 0h1m42 0h5m10 0h1m7 0h1m1 0h1m8 0h5m1 0h6m1 0h16m-228 1h1m89 0h2m30 0h1m37 0h1m4 0h6m28 0h1m3 0h25m-179 1h1m4 0h1m29 0h3m34 0h2m35 0h1m7 0h1m11 0h3m24 0h6m1 0h16m-174 1h2m17 0h1m10 0h2m25 0h1m9 0h1m12 0h1m23 0h2m6 0h1m10 0h3m9 0h1m14 0h8m1 0h3m1 0h11m-174 1h2m17 0h1m37 0h1m21 0h2m23 0h2m15 0h1m1 0h3m8 0h1m10 0h1m2 0h26m-221 1h1m56 0h3m6 0h2m13 0h1m22 0h1m20 0h3m23 0h2m17 0h2m18 0h1m3 0h1m1 0h6m1 0h18m-239 1h1m17 0h2m46 0h2m7 0h2m8 0h1m10 0h1m2 0h1m42 0h2m25 0h2m17 0h1m5 0h1m19 0h5m2 0h18m-234 1h1m13 0h1m45 0h2m9 0h1m8 0h1m10 0h1m44 0h2m26 0h2m17 0h2m2 0h1m1 0h3m15 0h1m1 0h2m1 0h2m1 0h2m1 0h16m-220 1h1m6 0h1m38 0h2m4 0h1m4 0h1m3 0h1m45 0h2m12 0h3m25 0h2m20 0h1m1 0h1m1 0h1m13 0h1m1 0h1m5 0h5m1 0h3m1 0h13m-241 1h1m9 0h2m13 0h1m36 0h1m4 0h2m9 0h1m4 0h1m45 0h1m12 0h2m3 0h1m21 0h3m21 0h2m17 0h1m6 0h22m-242 1h1m28 0h1m38 0h2m15 0h1m32 0h1m11 0h1m17 0h2m1 0h1m9 0h1m8 0h2m13 0h1m9 0h2m3 0h2m18 0h22m-220 1h4m3 0h1m5 0h1m9 0h1m40 0h1m30 0h2m23 0h1m6 0h1m1 0h1m9 0h1m7 0h2m14 0h2m8 0h2m4 0h1m1 0h1m16 0h22m-208 1h2m5 0h1m29 0h3m13 0h1m29 0h1m24 0h2m5 0h1m1 0h1m17 0h2m14 0h2m2 0h1m5 0h1m7 0h1m15 0h3m1 0h1m2 0h16m-219 1h2m9 0h2m36 0h3m66 0h3m5 0h1m1 0h1m6 0h2m9 0h1m16 0h2m5 0h1m15 0h1m6 0h1m1 0h3m1 0h1m3 0h16m-247 1h1m25 0h1m1 0h1m7 0h1m2 0h1m1 0h1m37 0h2m13 0h1m22 0h1m4 0h1m22 0h4m4 0h2m1 0h1m4 0h2m10 0h2m16 0h2m7 0h2m22 0h1m2 0h1m3 0h16m-222 1h1m12 0h2m40 0h2m11 0h2m23 0h1m8 0h4m14 0h1m1 0h2m4 0h4m16 0h2m15 0h3m6 0h2m23 0h1m1 0h1m1 0h9m1 0h9m-238 1h1m13 0h2m10 0h1m2 0h2m4 0h1m11 0h1m24 0h4m7 0h2m34 0h1m1 0h2m16 0h1m6 0h1m18 0h1m16 0h2m1 0h1m1 0h1m2 0h3m16 0h1m6 0h1m2 0h1m2 0h16m-235 1h1m7 0h4m6 0h1m6 0h2m6 0h1m35 0h3m7 0h2m42 0h1m4 0h3m12 0h1m18 0h1m3 0h1m11 0h3m1 0h5m1 0h1m23 0h1m3 0h1m3 0h9m1 0h1m1 0h3m-243 1h1m7 0h1m5 0h4m9 0h1m11 0h1m7 0h1m30 0h2m7 0h2m14 0h2m21 0h1m3 0h1m4 0h3m13 0h1m14 0h2m1 0h2m3 0h1m16 0h2m6 0h1m9 0h2m10 0h2m6 0h6m1 0h1m1 0h3m1 0h1m-229 1h2m10 0h1m9 0h1m4 0h1m4 0h2m54 0h2m25 0h2m2 0h3m15 0h1m12 0h2m8 0h1m14 0h2m14 0h2m1 0h1m9 0h1m1 0h3m6 0h2m1 0h6m1 0h4m-230 1h2m6 0h1m5 0h1m17 0h3m2 0h1m43 0h1m2 0h2m3 0h2m24 0h2m3 0h2m22 0h1m6 0h2m8 0h2m1 0h1m12 0h2m24 0h1m4 0h3m2 0h9m1 0h7m-216 1h1m19 0h3m45 0h1m28 0h1m3 0h2m2 0h2m24 0h1m4 0h1m3 0h2m6 0h1m1 0h2m11 0h2m20 0h1m1 0h2m5 0h4m1 0h17m-252 1h1m28 0h2m60 0h1m12 0h2m26 0h2m2 0h2m2 0h2m25 0h1m7 0h2m4 0h2m1 0h1m2 0h1m26 0h1m6 0h1m8 0h5m2 0h5m1 0h1m1 0h2m2 0h3m-238 1h1m76 0h2m12 0h1m27 0h2m1 0h1m3 0h2m25 0h2m13 0h3m2 0h1m22 0h1m5 0h3m11 0h6m2 0h5m2 0h1m5 0h1m-238 1h1m14 0h1m24 0h1m37 0h2m11 0h1m27 0h4m35 0h2m9 0h5m9 0h1m1 0h2m1 0h1m6 0h3m4 0h1m3 0h2m6 0h1m3 0h5m1 0h5m2 0h1m-232 1h2m35 0h1m40 0h2m40 0h3m47 0h1m11 0h1m2 0h2m6 0h1m2 0h2m1 0h1m7 0h2m1 0h1m5 0h1m1 0h11m1 0h1m1 0h2m-233 1h1m29 0h1m47 0h1m40 0h3m22 0h1m36 0h1m2 0h1m5 0h1m1 0h5m2 0h3m3 0h3m2 0h1m1 0h1m3 0h19m-204 1h1m38 0h1m7 0h2m76 0h3m21 0h1m3 0h1m5 0h1m1 0h5m2 0h3m3 0h1m1 0h3m8 0h3m1 0h7m1 0h1m1 0h3m-211 1h1m7 0h2m35 0h2m8 0h1m75 0h3m26 0h1m5 0h1m3 0h1m4 0h4m2 0h4m10 0h2m1 0h2m1 0h6m1 0h2m-202 1h3m1 0h2m31 0h1m9 0h1m8 0h1m18 0h1m11 0h1m17 0h1m16 0h4m37 0h1m2 0h1m1 0h2m3 0h2m1 0h2m5 0h1m5 0h3m1 0h7m1 0h1m-237 1h1m35 0h4m42 0h1m38 0h2m17 0h1m15 0h4m40 0h2m2 0h10m2 0h1m2 0h2m2 0h14m1 0h2m-242 1h1m38 0h2m5 0h2m74 0h3m18 0h1m13 0h4m13 0h1m3 0h1m18 0h1m4 0h1m3 0h10m2 0h20m1 0h3m-265 1h1m18 0h1m19 0h1m1 0h1m22 0h1m48 0h1m31 0h2m20 0h1m12 0h4m12 0h2m24 0h1m2 0h1m1 0h34m2 0h2m-249 1h1m20 0h1m4 0h2m19 0h2m1 0h1m2 0h1m75 0h1m23 0h1m5 0h2m18 0h4m17 0h1m3 0h2m2 0h1m1 0h11m2 0h8m1 0h9m1 0h1m2 0h4m-247 1h1m18 0h1m4 0h3m18 0h1m62 0h1m19 0h2m26 0h3m18 0h1m2 0h1m16 0h2m2 0h12m2 0h3m3 0h14m4 0h2m2 0h4m-248 1h1m18 0h1m6 0h3m53 0h2m11 0h2m10 0h3m46 0h3m18 0h1m3 0h1m9 0h1m10 0h8m1 0h2m4 0h2m1 0h1m2 0h1m1 0h6m2 0h2m3 0h1m1 0h3m2 0h2m-259 1h1m12 0h1m12 0h1m4 0h1m61 0h2m12 0h2m8 0h4m68 0h1m3 0h2m8 0h1m9 0h3m1 0h1m1 0h5m1 0h1m4 0h3m1 0h8m1 0h5m2 0h1m1 0h3m3 0h2m-260 1h1m92 0h1m21 0h4m50 0h2m14 0h2m7 0h1m7 0h1m5 0h1m10 0h1m1 0h2m7 0h14m1 0h3m3 0h1m4 0h4m-230 1h2m21 0h1m61 0h2m35 0h1m17 0h1m14 0h2m6 0h1m9 0h7m10 0h2m1 0h1m6 0h1m2 0h10m2 0h2m4 0h1m1 0h2m1 0h4m-230 1h2m1 0h1m19 0h2m14 0h1m44 0h2m29 0h1m6 0h2m31 0h1m14 0h1m1 0h4m14 0h1m10 0h1m2 0h10m1 0h4m2 0h3m1 0h5m-231 1h2m1 0h1m10 0h1m10 0h1m30 0h1m59 0h2m5 0h2m30 0h2m14 0h3m6 0h1m10 0h1m7 0h2m1 0h1m1 0h1m1 0h14m1 0h10m-229 1h1m11 0h1m9 0h1m31 0h1m30 0h1m28 0h2m5 0h2m30 0h2m14 0h2m10 0h4m4 0h1m1 0h2m1 0h4m1 0h2m2 0h14m2 0h10m-230 1h1m54 0h1m29 0h2m35 0h1m6 0h2m23 0h1m13 0h1m13 0h4m4 0h3m2 0h1m1 0h5m1 0h27m-145 1h1m36 0h1m7 0h2m35 0h2m14 0h2m3 0h3m4 0h2m1 0h1m1 0h1m1 0h14m1 0h9m1 0h3m-229 1h1m28 0h1m91 0h1m2 0h4m2 0h1m4 0h1m30 0h2m15 0h2m6 0h2m1 0h3m2 0h2m1 0h23m3 0h1m-162 1h1m1 0h1m55 0h1m41 0h1m15 0h3m5 0h9m3 0h5m1 0h3m1 0h2m1 0h10m1 0h2m-162 1h1m67 0h1m31 0h1m16 0h1m6 0h9m3 0h26m-237 1h2m48 0h1m24 0h1m58 0h5m35 0h1m17 0h2m6 0h7m3 0h4m1 0h5m2 0h10m1 0h1m1 0h2m-263 1h1m6 0h1m56 0h1m11 0h2m81 0h4m7 0h1m8 0h1m38 0h2m6 0h5m4 0h4m2 0h5m1 0h16m-264 1h2m4 0h2m20 0h2m29 0h2m16 0h1m43 0h2m75 0h2m24 0h2m8 0h1m1 0h9m1 0h1m1 0h16m-264 1h1m23 0h1m1 0h1m93 0h2m74 0h2m1 0h2m21 0h7m4 0h4m1 0h3m2 0h21m-242 1h3m35 0h1m13 0h1m45 0h1m7 0h3m28 0h2m19 0h1m15 0h2m1 0h2m21 0h2m2 0h3m2 0h9m3 0h21m-241 1h1m51 0h1m54 0h1m27 0h2m20 0h1m14 0h2m3 0h1m4 0h1m23 0h9m5 0h21m-188 1h6m1 0h1m20 0h2m51 0h2m10 0h1m10 0h2m10 0h1m1 0h1m9 0h3m4 0h1m17 0h3m1 0h3m1 0h1m6 0h3m1 0h16m-205 1h1m20 0h3m73 0h3m3 0h1m6 0h1m3 0h1m6 0h2m9 0h1m13 0h3m8 0h2m16 0h2m9 0h1m2 0h16m-199 1h1m79 0h2m9 0h2m2 0h4m5 0h2m3 0h1m20 0h2m9 0h2m26 0h3m3 0h2m6 0h16m-200 1h1m80 0h2m6 0h5m1 0h5m3 0h2m1 0h1m3 0h1m5 0h1m14 0h2m4 0h2m3 0h2m22 0h1m3 0h4m2 0h1m5 0h2m1 0h15m-153 1h1m34 0h2m1 0h9m3 0h3m4 0h4m24 0h2m1 0h1m1 0h2m8 0h1m17 0h2m2 0h3m2 0h1m1 0h2m6 0h4m1 0h11m-154 1h1m33 0h1m1 0h13m4 0h2m4 0h3m1 0h3m8 0h5m12 0h3m6 0h1m18 0h2m2 0h4m1 0h2m2 0h3m4 0h4m1 0h4m1 0h5m-155 1h1m15 0h1m18 0h1m1 0h2m1 0h1m14 0h1m6 0h5m6 0h4m15 0h3m24 0h3m4 0h1m2 0h3m1 0h2m2 0h1m1 0h16m-139 1h1m44 0h4m9 0h2m16 0h3m21 0h1m1 0h7m5 0h6m3 0h16m-252 1h2m13 0h1m97 0h1m43 0h3m11 0h3m16 0h2m14 0h2m8 0h6m4 0h4m1 0h21m-253 1h2m12 0h3m94 0h1m2 0h1m44 0h1m31 0h2m15 0h2m4 0h1m3 0h1m4 0h2m3 0h3m2 0h20m-254 1h2m13 0h2m96 0h3m55 0h1m20 0h2m15 0h2m3 0h3m5 0h1m1 0h1m5 0h1m3 0h20m-258 1h4m90 0h1m23 0h1m26 0h1m10 0h1m17 0h1m21 0h2m15 0h2m3 0h3m2 0h1m4 0h1m4 0h2m2 0h1m1 0h19m-258 1h3m92 0h3m20 0h1m26 0h1m10 0h2m14 0h1m1 0h1m38 0h2m4 0h3m1 0h1m10 0h1m2 0h3m1 0h1m1 0h15m-256 1h1m63 0h1m51 0h1m37 0h2m14 0h2m10 0h2m17 0h1m10 0h1m3 0h1m1 0h2m8 0h1m3 0h1m2 0h3m1 0h17m-102 1h2m4 0h1m11 0h1m9 0h2m17 0h1m15 0h4m1 0h1m8 0h1m1 0h1m1 0h2m1 0h18m-96 1h1m5 0h3m3 0h2m42 0h5m4 0h1m6 0h1m2 0h18m1 0h2m-244 1h1m149 0h3m1 0h1m6 0h1m27 0h2m10 0h1m3 0h7m7 0h6m3 0h12m1 0h3m-243 1h1m115 0h1m43 0h1m27 0h2m4 0h2m2 0h3m5 0h6m7 0h2m2 0h3m2 0h11m2 0h2m-243 1h2m114 0h1m45 0h2m23 0h3m3 0h9m1 0h1m3 0h3m10 0h6m3 0h1m-229 1h1m59 0h1m54 0h1m44 0h2m23 0h3m4 0h6m2 0h3m5 0h2m2 0h2m1 0h2m2 0h5m4 0h1m-215 1h1m61 0h1m83 0h2m2 0h1m19 0h3m18 0h2m1 0h2m1 0h6m3 0h1m2 0h1m1 0h1m-213 1h2m62 0h1m40 0h1m20 0h1m23 0h7m14 0h2m4 0h1m10 0h1m3 0h2m1 0h7m3 0h7m1 0h2m-216 1h1m66 0h1m21 0h1m16 0h1m43 0h2m3 0h3m13 0h2m5 0h1m16 0h8m1 0h10m1 0h1m-128 1h3m14 0h1m45 0h1m18 0h2m7 0h3m11 0h1m1 0h2m4 0h2m3 0h2m1 0h1m1 0h4m-244 1h2m40 0h2m76 0h1m12 0h2m3 0h3m1 0h1m36 0h2m26 0h2m1 0h1m15 0h1m1 0h4m2 0h1m1 0h2m1 0h4m1 0h2m-246 1h1m41 0h2m4 0h1m125 0h1m7 0h1m24 0h3m4 0h1m10 0h7m2 0h4m1 0h7m-204 1h2m46 0h1m56 0h1m25 0h2m17 0h1m1 0h4m10 0h3m2 0h2m11 0h7m1 0h12m-204 1h2m47 0h1m54 0h3m14 0h1m12 0h1m17 0h2m14 0h1m2 0h2m11 0h6m1 0h9m1 0h3m-155 1h1m31 0h2m19 0h3m6 0h2m8 0h3m9 0h6m5 0h2m5 0h1m19 0h2m12 0h3m3 0h8m1 0h4m-154 1h1m23 0h2m25 0h2m14 0h1m4 0h2m8 0h6m5 0h2m19 0h6m1 0h2m1 0h1m9 0h4m3 0h3m1 0h1m2 0h1m1 0h3m-179 1h1m25 0h1m23 0h3m11 0h1m27 0h1m14 0h6m6 0h2m7 0h1m11 0h10m9 0h1m1 0h4m1 0h2m9 0h2m-197 1h1m71 0h1m9 0h1m43 0h2m1 0h2m6 0h2m6 0h2m7 0h1m3 0h4m3 0h3m7 0h1m6 0h2m1 0h1m10 0h1m-235 1h1m36 0h2m107 0h1m18 0h3m6 0h3m5 0h3m18 0h4m7 0h1m4 0h2m2 0h1m11 0h1m-226 1h1m9 0h1m15 0h2m107 0h2m19 0h2m6 0h2m4 0h4m18 0h5m6 0h1m4 0h3m1 0h1m7 0h6m-235 1h1m8 0h1m25 0h1m108 0h2m27 0h2m2 0h5m17 0h1m2 0h6m4 0h1m1 0h5m1 0h3m2 0h3m3 0h4m-226 1h1m15 0h1m7 0h3m108 0h3m29 0h4m2 0h1m16 0h1m3 0h1m1 0h1m1 0h1m2 0h1m1 0h1m1 0h4m1 0h1m3 0h4m3 0h5m-233 1h1m21 0h1m7 0h3m91 0h4m16 0h1m17 0h1m7 0h1m5 0h2m17 0h5m11 0h4m4 0h5m4 0h1m1 0h3m-232 1h1m28 0h1m92 0h4m25 0h4m6 0h1m28 0h1m1 0h7m13 0h1m4 0h7m3 0h4m-232 1h2m8 0h1m135 0h1m5 0h4m2 0h1m2 0h1m1 0h1m2 0h1m5 0h1m20 0h3m1 0h1m1 0h1m2 0h1m6 0h5m5 0h5m5 0h2m-242 1h1m11 0h1m7 0h2m12 0h1m21 0h1m66 0h1m33 0h2m12 0h1m1 0h3m1 0h1m13 0h2m11 0h3m15 0h3m2 0h4m1 0h3m-214 1h3m32 0h1m67 0h1m31 0h2m21 0h1m11 0h2m5 0h3m11 0h2m2 0h2m11 0h2m1 0h2m-223 1h1m13 0h1m23 0h5m2 0h2m32 0h4m31 0h1m26 0h1m3 0h2m17 0h1m2 0h3m1 0h4m6 0h2m5 0h5m13 0h1m7 0h2m1 0h3m3 0h1m1 0h2m-213 1h1m22 0h10m4 0h1m63 0h1m17 0h2m6 0h1m10 0h2m7 0h1m5 0h3m12 0h2m6 0h4m11 0h1m1 0h2m9 0h5m1 0h3m3 0h2m-218 1h1m35 0h1m64 0h2m16 0h1m5 0h2m25 0h3m5 0h2m6 0h3m1 0h3m16 0h4m3 0h1m1 0h1m3 0h4m1 0h5m1 0h1m1 0h2m-222 1h1m38 0h1m65 0h1m15 0h2m4 0h1m21 0h1m4 0h3m6 0h1m1 0h1m3 0h4m2 0h6m15 0h4m2 0h1m1 0h2m1 0h3m4 0h8m-101 1h1m19 0h1m8 0h2m2 0h2m6 0h2m1 0h2m1 0h2m10 0h1m14 0h4m3 0h5m1 0h2m2 0h1m1 0h3m3 0h1m-127 1h1m26 0h1m11 0h1m5 0h2m8 0h3m1 0h2m8 0h1m1 0h4m15 0h1m10 0h3m1 0h1m1 0h3m1 0h1m1 0h2m1 0h1m2 0h3m5 0h1m-128 1h1m25 0h1m12 0h2m5 0h1m7 0h3m1 0h2m9 0h3m2 0h3m13 0h1m4 0h3m3 0h3m3 0h5m3 0h1m3 0h4m1 0h1m1 0h1m-81 1h1m7 0h1m14 0h3m4 0h1m9 0h1m3 0h1m3 0h2m1 0h1m5 0h3m1 0h3m1 0h3m4 0h5m3 0h2m-113 1h1m29 0h2m21 0h4m16 0h4m1 0h7m5 0h2m1 0h2m1 0h2m6 0h9m-151 1h1m37 0h2m28 0h2m8 0h2m13 0h1m17 0h2m3 0h2m2 0h4m1 0h1m1 0h1m2 0h1m2 0h4m3 0h7m3 0h1m-113 1h1m39 0h2m31 0h2m2 0h3m4 0h3m1 0h1m4 0h1m1 0h1m1 0h2m2 0h5m1 0h2m2 0h2m-173 1h1m59 0h2m30 0h1m41 0h2m1 0h2m1 0h1m4 0h4m1 0h1m1 0h4m1 0h1m2 0h6m2 0h3m1 0h1m-112 1h1m30 0h1m41 0h3m9 0h4m1 0h5m1 0h1m6 0h2m2 0h2m1 0h2m-185 1h1m72 0h1m1 0h2m25 0h1m10 0h1m26 0h2m5 0h2m4 0h1m4 0h10m2 0h2m1 0h1m3 0h8m-184 1h3m7 0h1m45 0h2m16 0h4m21 0h3m17 0h2m18 0h1m7 0h2m6 0h5m2 0h3m2 0h1m1 0h3m3 0h2m1 0h6m-128 1h2m18 0h3m19 0h3m13 0h1m5 0h3m24 0h4m4 0h2m2 0h2m1 0h3m1 0h2m1 0h3m1 0h1m1 0h9m-190 1h1m62 0h1m20 0h2m28 0h1m5 0h1m6 0h3m25 0h2m3 0h3m5 0h10m1 0h3m1 0h4m1 0h2m-189 1h1m34 0h1m26 0h1m48 0h3m5 0h1m8 0h3m20 0h1m3 0h2m3 0h1m6 0h8m1 0h10m1 0h1m-209 1h1m131 0h4m5 0h1m9 0h1m19 0h2m4 0h2m1 0h2m7 0h2m1 0h2m3 0h5m1 0h5m1 0h1m-219 1h1m8 0h1m87 0h1m38 0h1m5 0h3m34 0h4m3 0h2m2 0h2m1 0h3m3 0h2m6 0h3m1 0h1m2 0h2m2 0h1m-218 1h2m2 0h1m129 0h2m5 0h2m12 0h2m21 0h2m1 0h3m2 0h1m2 0h1m2 0h1m1 0h4m1 0h1m13 0h5m-219 1h3m2 0h1m128 0h3m5 0h2m7 0h1m28 0h1m3 0h4m7 0h2m2 0h1m13 0h6m-216 1h3m123 0h1m4 0h2m7 0h2m36 0h1m2 0h4m7 0h2m6 0h3m6 0h7m-223 1h1m6 0h1m1 0h3m87 0h1m33 0h1m4 0h1m8 0h2m36 0h8m6 0h2m6 0h3m6 0h4m1 0h2m-223 1h2m5 0h1m1 0h2m22 0h1m53 0h1m35 0h1m9 0h1m4 0h1m5 0h1m3 0h1m30 0h9m3 0h2m6 0h1m9 0h2m3 0h2m2 0h1m1 0h2m-222 1h2m8 0h1m76 0h1m35 0h1m9 0h1m10 0h2m36 0h4m6 0h2m4 0h1m9 0h5m1 0h2m2 0h1m1 0h2m-231 1h1m2 0h1m6 0h1m104 0h1m16 0h2m20 0h1m37 0h2m7 0h2m11 0h1m3 0h4m2 0h1m1 0h5m-180 1h1m24 0h1m55 0h2m5 0h3m12 0h2m37 0h1m23 0h3m3 0h8m-180 1h1m1 0h1m1 0h1m76 0h2m3 0h5m13 0h1m23 0h1m19 0h1m2 0h2m4 0h2m1 0h2m1 0h1m2 0h2m2 0h2m2 0h7m-172 1h1m78 0h1m3 0h1m11 0h2m22 0h2m1 0h3m6 0h1m5 0h6m1 0h2m1 0h2m2 0h11m3 0h3m1 0h3m-92 1h3m13 0h1m23 0h1m2 0h3m4 0h2m5 0h7m3 0h2m2 0h6m1 0h3m4 0h2m2 0h3m-76 1h2m22 0h1m4 0h3m2 0h1m8 0h1m1 0h3m2 0h3m2 0h6m2 0h1m11 0h1m-208 1h1m131 0h2m28 0h2m5 0h1m6 0h3m3 0h7m1 0h2m7 0h1m-68 1h2m45 0h2m1 0h5m2 0h2m1 0h2m4 0h3m-118 1h2m47 0h2m45 0h1m2 0h5m1 0h2m7 0h5m-119 1h4m45 0h2m29 0h1m18 0h4m1 0h2m3 0h1m3 0h5m1 0h1m-119 1h2m47 0h2m12 0h1m10 0h3m1 0h1m7 0h1m12 0h3m2 0h2m2 0h2m2 0h5m4 0h3m-209 1h2m97 0h4m11 0h1m19 0h2m12 0h2m6 0h9m19 0h7m1 0h2m2 0h1m1 0h1m7 0h3m-210 1h2m114 0h1m19 0h2m11 0h1m5 0h5m1 0h1m3 0h3m16 0h3m2 0h6m5 0h1m6 0h3m-211 1h1m124 0h1m24 0h1m5 0h2m1 0h2m23 0h4m1 0h1m2 0h4m4 0h1m2 0h1m3 0h4m-212 1h1m135 0h2m1 0h1m20 0h2m5 0h3m14 0h1m4 0h1m1 0h1m2 0h2m4 0h2m1 0h2m1 0h4m-120 1h1m70 0h2m3 0h3m8 0h1m11 0h2m3 0h3m4 0h1m6 0h1m-244 1h2m33 0h2m68 0h2m18 0h1m14 0h1m22 0h1m20 0h2m16 0h2m8 0h1m11 0h3m2 0h2m2 0h3m5 0h5m-245 1h2m31 0h2m91 0h1m10 0h1m2 0h2m41 0h1m37 0h3m1 0h4m3 0h3m6 0h1m-102 1h3m23 0h2m15 0h1m10 0h2m8 0h3m4 0h1m4 0h2m2 0h1m3 0h5m4 0h1m1 0h1m4 0h2m2 0h2m-105 1h2m38 0h1m13 0h1m9 0h2m5 0h1m2 0h1m1 0h3m1 0h2m1 0h4m2 0h1m2 0h1m3 0h1m7 0h1m-215 1h2m109 0h1m63 0h2m1 0h1m5 0h1m3 0h1m2 0h3m1 0h3m15 0h2m-125 1h1m20 0h1m46 0h1m14 0h6m6 0h2m9 0h3m2 0h1m1 0h3m8 0h1m-133 1h1m54 0h1m20 0h2m9 0h1m5 0h5m7 0h1m4 0h2m3 0h2m1 0h2m2 0h3m1 0h2m4 0h1m-207 1h1m73 0h1m39 0h1m14 0h1m11 0h1m8 0h2m5 0h1m4 0h3m3 0h5m8 0h1m8 0h6m1 0h2m2 0h1m-128 1h1m54 0h2m9 0h1m1 0h1m8 0h2m10 0h2m3 0h4m1 0h1m5 0h2m10 0h5m4 0h3m-129 1h1m65 0h3m8 0h2m4 0h1m4 0h2m2 0h1m1 0h4m1 0h1m5 0h3m1 0h2m1 0h1m1 0h1m1 0h4m3 0h2m2 0h1m-129 1h1m65 0h3m10 0h1m4 0h2m3 0h2m4 0h5m6 0h3m1 0h4m1 0h6m1 0h1m4 0h2m-233 1h1m103 0h1m35 0h3m12 0h1m32 0h2m3 0h1m6 0h4m7 0h1m4 0h8m2 0h1m4 0h2m-104 1h1m9 0h4m1 0h2m8 0h2m32 0h3m11 0h2m6 0h1m5 0h3m1 0h6m5 0h1m-214 1h1m124 0h2m8 0h2m33 0h3m9 0h3m7 0h2m1 0h1m2 0h9m-83 1h2m9 0h1m35 0h1m6 0h1m3 0h2m8 0h2m4 0h8m1 0h2m3 0h2m-152 1h1m61 0h1m9 0h1m24 0h2m16 0h3m12 0h1m4 0h4m6 0h1m2 0h5m-153 1h1m95 0h2m17 0h4m2 0h1m7 0h4m1 0h4m1 0h1m6 0h1m1 0h1m1 0h2m-239 1h1m86 0h1m95 0h2m17 0h2m1 0h2m11 0h3m14 0h5m-153 1h1m94 0h2m8 0h1m8 0h2m3 0h1m1 0h2m10 0h1m14 0h4m-152 1h1m94 0h2m8 0h1m7 0h2m6 0h2m25 0h4m-229 1h1m172 0h2m15 0h2m7 0h7m20 0h3m-86 1h1m25 0h1m3 0h2m13 0h1m3 0h1m3 0h3m2 0h6m18 0h6m-239 1h1m1 0h2m177 0h2m16 0h9m5 0h3m3 0h1m13 0h2m2 0h2m-239 1h1m150 0h1m29 0h2m16 0h5m4 0h1m3 0h4m15 0h4m2 0h2m-88 1h1m29 0h2m15 0h2m5 0h1m1 0h1m3 0h1m1 0h2m16 0h7m-192 1h1m103 0h2m29 0h1m16 0h2m19 0h1m11 0h5m2 0h3m-91 1h1m46 0h2m19 0h2m8 0h2m1 0h7m1 0h2m1 0h1m-93 1h1m46 0h1m9 0h1m10 0h2m9 0h1m1 0h5m1 0h6m-94 1h2m46 0h1m20 0h2m1 0h1m6 0h15m-214 1h1m119 0h1m20 0h1m45 0h1m10 0h2m2 0h11m-213 1h2m139 0h1m39 0h1m2 0h4m9 0h1m1 0h15m-73 1h1m40 0h4m5 0h1m4 0h14m1 0h1m1 0h1m-39 1h1m7 0h3m1 0h4m4 0h15m2 0h2m-154 1h2m28 0h1m83 0h2m13 0h2m2 0h16m1 0h4m-125 1h1m35 0h1m64 0h2m1 0h8m3 0h4m1 0h3m1 0h1m-251 1h1m4 0h1m156 0h1m63 0h11m1 0h2m1 0h10m-248 1h3m23 0h1m88 0h1m41 0h3m49 0h1m13 0h3m1 0h4m4 0h1m1 0h11m-250 1h4m46 0h1m107 0h2m1 0h1m62 0h1m1 0h2m1 0h3m1 0h2m3 0h12m-251 1h3m1 0h1m39 0h3m4 0h1m107 0h1m2 0h1m4 0h1m40 0h1m13 0h2m2 0h10m3 0h12m-252 1h2m165 0h2m40 0h1m13 0h1m1 0h9m1 0h1m4 0h1m2 0h9m-185 1h2m38 0h1m39 0h1m62 0h4m9 0h2m2 0h2m1 0h9m2 0h1m1 0h9m-249 1h2m28 0h2m110 0h3m47 0h1m15 0h3m5 0h2m2 0h1m4 0h9m4 0h8m1 0h2m-250 1h2m29 0h2m49 0h3m56 0h3m49 0h1m6 0h1m8 0h3m6 0h3m7 0h4m7 0h1m1 0h5m1 0h3m-219 1h1m52 0h3m53 0h3m50 0h2m6 0h1m6 0h4m4 0h1m2 0h3m7 0h2m2 0h2m4 0h1m3 0h3m1 0h2m-219 1h2m108 0h1m52 0h2m5 0h2m5 0h3m5 0h3m2 0h3m1 0h1m4 0h5m5 0h1m5 0h5m-220 1h1m114 0h1m48 0h1m12 0h2m7 0h1m1 0h1m2 0h4m3 0h1m1 0h3m2 0h3m1 0h1m1 0h8m-104 1h1m48 0h1m11 0h3m2 0h1m1 0h2m1 0h1m1 0h2m2 0h2m1 0h3m1 0h1m1 0h1m1 0h6m2 0h9m-210 1h1m103 0h2m41 0h1m6 0h1m10 0h3m1 0h1m1 0h5m3 0h1m2 0h7m3 0h3m1 0h14m-193 1h1m3 0h2m81 0h1m49 0h1m11 0h2m1 0h1m4 0h1m2 0h4m1 0h4m1 0h2m5 0h16m-190 1h4m68 0h1m10 0h2m61 0h2m12 0h7m2 0h1m3 0h14m1 0h2m-209 1h1m19 0h1m70 0h1m73 0h2m1 0h1m5 0h1m1 0h7m2 0h1m1 0h3m3 0h12m-228 1h4m8 0h4m8 0h2m16 0h1m1 0h1m69 0h1m29 0h1m45 0h3m3 0h5m2 0h2m2 0h5m3 0h10m2 0h2m2 0h1m-230 1h1m11 0h1m10 0h2m12 0h1m2 0h3m70 0h1m75 0h10m1 0h2m2 0h6m2 0h6m1 0h4m2 0h4m-211 1h1m1 0h1m3 0h2m13 0h2m72 0h1m43 0h1m32 0h7m3 0h22m2 0h6m-234 1h2m20 0h1m2 0h2m16 0h2m1 0h2m5 0h1m63 0h1m53 0h2m2 0h1m19 0h5m5 0h20m1 0h1m1 0h6m-237 1h3m22 0h1m2 0h1m10 0h1m8 0h3m15 0h1m53 0h1m52 0h2m3 0h1m19 0h4m5 0h20m3 0h4m1 0h1m-249 1h2m8 0h4m24 0h1m12 0h2m9 0h2m69 0h1m70 0h1m2 0h4m2 0h2m5 0h30m-240 1h1m42 0h1m8 0h1m70 0h2m45 0h1m21 0h3m3 0h3m9 0h23m1 0h6m-188 1h2m137 0h2m6 0h1m10 0h5m1 0h16m5 0h2m-195 1h1m8 0h1m34 0h1m102 0h2m2 0h2m9 0h1m3 0h4m1 0h6m1 0h4m2 0h6m1 0h5m-71 1h1m17 0h1m2 0h2m2 0h3m9 0h1m3 0h2m1 0h6m2 0h4m3 0h3m1 0h1m1 0h2m3 0h1m-55 1h1m4 0h1m3 0h2m6 0h1m6 0h16m3 0h2m2 0h2m2 0h4m-56 1h2m3 0h2m3 0h1m6 0h3m5 0h13m7 0h2m1 0h2m1 0h1m1 0h3m-175 1h1m109 0h2m6 0h2m4 0h2m9 0h1m1 0h3m3 0h2m1 0h10m9 0h1m8 0h1m-71 1h1m3 0h5m11 0h1m9 0h5m2 0h3m1 0h1m1 0h8m10 0h1m7 0h2m-235 1h1m133 0h2m27 0h2m1 0h4m23 0h5m2 0h2m1 0h1m3 0h3m1 0h4m7 0h2m1 0h1m6 0h3m-100 1h2m24 0h1m2 0h6m9 0h1m4 0h1m8 0h4m8 0h9m6 0h3m8 0h4m-107 1h1m7 0h2m24 0h1m4 0h1m26 0h1m10 0h8m1 0h1m3 0h4m8 0h5m-108 1h2m8 0h2m27 0h2m35 0h8m5 0h7m6 0h6m-108 1h2m9 0h2m19 0h3m4 0h2m13 0h2m19 0h23m3 0h7m-107 1h1m10 0h1m18 0h3m4 0h3m12 0h1m20 0h8m1 0h19m3 0h2m-168 1h1m90 0h3m5 0h2m34 0h7m5 0h1m4 0h1m2 0h8m2 0h4m-79 1h3m5 0h2m35 0h2m2 0h2m11 0h1m1 0h8m2 0h4m-78 1h1m30 0h1m5 0h1m4 0h1m1 0h3m15 0h10m1 0h3m-39 1h2m4 0h3m14 0h11m1 0h4m1 0h1m-108 1h1m20 0h2m46 0h1m3 0h3m6 0h2m3 0h1m5 0h11m1 0h4m-110 1h1m17 0h1m3 0h2m43 0h2m5 0h3m5 0h2m4 0h2m3 0h1m2 0h4m1 0h9m-92 1h1m3 0h2m41 0h4m3 0h2m8 0h2m3 0h7m1 0h3m1 0h1m3 0h3m1 0h3m-92 1h2m2 0h2m40 0h5m3 0h2m9 0h1m3 0h6m1 0h2m2 0h1m1 0h1m1 0h1m3 0h4m-111 1h1m18 0h2m2 0h2m40 0h4m3 0h2m13 0h4m1 0h1m3 0h1m3 0h4m3 0h4m-112 1h2m18 0h2m2 0h2m40 0h3m3 0h3m14 0h6m4 0h5m2 0h6m-112 1h2m13 0h1m4 0h1m3 0h2m24 0h2m20 0h2m5 0h1m6 0h1m2 0h6m4 0h4m4 0h4m-111 1h1m23 0h2m17 0h1m6 0h1m14 0h1m4 0h3m5 0h2m9 0h6m3 0h5m3 0h6m-88 1h2m44 0h3m5 0h1m9 0h2m1 0h1m1 0h1m4 0h5m2 0h5m1 0h1m-88 1h1m44 0h1m6 0h1m6 0h1m5 0h3m3 0h1m3 0h3m2 0h8m-123 1h2m30 0h1m54 0h1m6 0h1m11 0h1m1 0h5m3 0h1m1 0h3m1 0h1m-122 1h3m27 0h3m52 0h1m5 0h1m6 0h1m7 0h6m7 0h3m-122 1h3m26 0h2m1 0h1m51 0h1m21 0h5m6 0h5m-94 1h2m2 0h1m34 0h1m15 0h2m20 0h1m1 0h2m1 0h1m4 0h6m-94 1h2m2 0h2m22 0h1m10 0h1m15 0h3m21 0h1m3 0h1m2 0h7m-98 1h2m3 0h1m3 0h2m33 0h1m14 0h3m12 0h1m12 0h2m1 0h4m1 0h3m-98 1h2m1 0h2m4 0h2m47 0h3m12 0h1m7 0h1m1 0h1m2 0h5m2 0h7m-97 1h2m4 0h1m16 0h1m30 0h2m1 0h1m21 0h9m1 0h1m1 0h3m1 0h2m-97 1h2m20 0h1m6 0h1m2 0h1m34 0h2m8 0h1m3 0h3m1 0h8m1 0h3m-97 1h2m19 0h2m8 0h3m1 0h2m26 0h1m3 0h1m13 0h2m2 0h7m2 0h3m-97 1h2m18 0h2m6 0h1m2 0h5m4 0h1m20 0h2m3 0h1m14 0h1m3 0h6m3 0h3m-137 1h1m39 0h2m9 0h2m19 0h6m23 0h1m21 0h1m1 0h5m4 0h3m-138 1h2m39 0h2m1 0h1m7 0h2m19 0h4m2 0h1m6 0h2m5 0h2m4 0h2m21 0h1m4 0h5m1 0h1m1 0h1m1 0h1m-138 1h2m40 0h1m1 0h2m6 0h1m20 0h2m10 0h2m6 0h1m27 0h5m3 0h2m1 0h2m1 0h3m-171 1h1m32 0h1m41 0h4m6 0h1m19 0h3m10 0h2m2 0h2m1 0h2m6 0h2m3 0h1m14 0h3m1 0h2m2 0h6m1 0h3m-172 1h2m76 0h2m10 0h1m13 0h3m11 0h3m2 0h4m2 0h1m1 0h1m2 0h2m1 0h4m10 0h1m1 0h7m2 0h5m2 0h3m-172 1h1m22 0h1m54 0h2m9 0h3m13 0h2m11 0h2m4 0h3m2 0h2m1 0h11m6 0h17m2 0h4m-173 1h1m23 0h2m53 0h2m1 0h1m7 0h3m11 0h6m8 0h2m2 0h1m2 0h3m3 0h4m1 0h6m4 0h6m3 0h4m1 0h4m1 0h2m2 0h4m-148 1h2m52 0h2m1 0h2m5 0h1m6 0h2m4 0h4m12 0h2m4 0h4m2 0h12m1 0h1m1 0h7m2 0h4m1 0h9m1 0h4m-147 1h1m52 0h2m2 0h1m7 0h1m3 0h3m2 0h2m16 0h1m4 0h18m3 0h8m2 0h1m2 0h11m2 0h3m-91 1h2m3 0h2m2 0h2m1 0h3m20 0h3m3 0h9m2 0h5m3 0h1m1 0h7m6 0h10m1 0h5m-149 1h2m49 0h2m6 0h1m3 0h2m4 0h3m21 0h1m4 0h7m5 0h5m3 0h9m5 0h17m-170 1h2m22 0h1m46 0h2m11 0h2m2 0h4m21 0h3m2 0h8m5 0h4m3 0h10m1 0h2m2 0h17m-170 1h2m69 0h1m13 0h5m24 0h2m2 0h7m1 0h1m4 0h4m1 0h14m1 0h19m-169 1h1m97 0h1m12 0h3m1 0h3m3 0h1m2 0h3m2 0h4m2 0h9m5 0h20m-262 1h1m6 0h1m56 0h1m47 0h3m90 0h1m2 0h4m4 0h3m3 0h2m3 0h9m7 0h19m-261 1h1m6 0h1m7 0h3m91 0h4m13 0h1m75 0h1m1 0h6m5 0h1m4 0h2m1 0h1m3 0h8m7 0h18m-252 1h6m1 0h1m68 0h1m32 0h1m83 0h1m1 0h8m3 0h1m8 0h1m1 0h1m2 0h5m8 0h20m-253 1h1m178 0h1m3 0h1m9 0h10m11 0h5m1 0h6m3 0h21m-185 1h1m67 0h4m9 0h3m20 0h1m12 0h3m8 0h2m16 0h5m4 0h4m1 0h4m1 0h12m1 0h1m1 0h5m-119 1h4m9 0h5m19 0h3m1 0h7m2 0h3m9 0h2m15 0h6m3 0h9m2 0h20m-177 1h1m38 0h1m16 0h4m10 0h3m21 0h3m2 0h7m1 0h3m9 0h1m17 0h1m1 0h3m1 0h2m1 0h4m1 0h3m3 0h10m1 0h1m1 0h7m2 0h1m-212 1h1m43 0h1m27 0h2m12 0h3m12 0h2m23 0h2m3 0h3m1 0h1m2 0h3m9 0h4m17 0h4m2 0h5m1 0h1m4 0h10m3 0h8m1 0h2m-263 1h1m1 0h1m47 0h1m11 0h1m74 0h1m13 0h2m25 0h2m5 0h2m1 0h4m8 0h1m1 0h3m7 0h1m8 0h5m3 0h4m1 0h1m4 0h4m1 0h4m1 0h14m-263 1h1m85 0h1m92 0h1m5 0h7m8 0h3m8 0h2m7 0h6m3 0h3m2 0h7m3 0h3m2 0h14m-263 1h1m84 0h2m91 0h2m6 0h5m28 0h6m4 0h4m1 0h7m3 0h2m1 0h4m1 0h7m1 0h3m-263 1h2m72 0h1m66 0h2m43 0h2m31 0h3m7 0h4m1 0h8m1 0h6m2 0h7m1 0h4m-263 1h2m4 0h1m32 0h1m33 0h1m12 0h1m52 0h3m76 0h4m9 0h15m4 0h5m1 0h7m-261 1h1m68 0h3m8 0h2m1 0h3m5 0h2m43 0h3m44 0h1m31 0h3m10 0h15m5 0h13m-260 1h1m102 0h1m20 0h1m10 0h2m44 0h1m30 0h4m10 0h5m1 0h12m3 0h13m-265 1h1m107 0h1m20 0h1m10 0h1m40 0h2m2 0h1m22 0h1m8 0h4m10 0h3m4 0h7m1 0h2m1 0h16m-254 1h1m97 0h1m19 0h1m51 0h2m1 0h2m22 0h1m6 0h6m8 0h3m15 0h1m1 0h16m-178 1h1m10 0h3m8 0h1m2 0h1m52 0h1m14 0h5m5 0h1m16 0h2m5 0h7m6 0h3m17 0h17m-168 1h2m14 0h2m65 0h5m6 0h1m16 0h3m3 0h6m7 0h3m3 0h4m10 0h19m-171 1h3m15 0h2m63 0h7m6 0h1m3 0h1m11 0h2m1 0h1m1 0h1m1 0h4m7 0h2m3 0h4m1 0h2m10 0h19m-254 1h1m82 0h1m17 0h3m62 0h6m11 0h1m11 0h2m1 0h2m2 0h1m1 0h2m12 0h1m4 0h1m10 0h20m-222 1h2m50 0h1m17 0h2m31 0h3m25 0h8m10 0h1m13 0h1m7 0h3m6 0h2m9 0h2m6 0h23m-226 1h5m69 0h2m30 0h2m27 0h2m1 0h4m25 0h1m8 0h2m6 0h1m10 0h2m5 0h24m-151 1h1m63 0h1m27 0h1m9 0h1m17 0h2m5 0h24m-74 1h1m39 0h1m2 0h3m4 0h6m1 0h7m1 0h9m-112 1h2m36 0h1m22 0h4m16 0h2m4 0h7m1 0h15m1 0h1m-178 1h1m21 0h2m42 0h2m36 0h2m19 0h5m16 0h2m4 0h8m1 0h17m-178 1h1m66 0h2m18 0h5m12 0h1m19 0h4m10 0h2m5 0h3m4 0h14m1 0h11m-178 1h1m66 0h3m16 0h6m17 0h1m11 0h6m9 0h4m3 0h5m1 0h1m4 0h2m2 0h6m1 0h13m-178 1h1m67 0h3m16 0h2m32 0h4m1 0h2m1 0h1m6 0h4m2 0h8m5 0h1m2 0h5m1 0h5m2 0h7m-239 1h2m59 0h2m67 0h2m42 0h2m6 0h8m7 0h4m4 0h6m7 0h5m2 0h3m5 0h1m1 0h1m1 0h2m-240 1h2m129 0h2m25 0h3m10 0h1m4 0h2m4 0h7m8 0h4m5 0h7m3 0h1m2 0h8m1 0h1m4 0h1m1 0h1m2 0h2m-263 1h1m21 0h1m17 0h1m114 0h2m24 0h3m11 0h1m4 0h2m3 0h2m14 0h3m6 0h6m1 0h1m3 0h2m2 0h4m5 0h1m3 0h5m-263 1h2m38 0h1m93 0h1m20 0h2m5 0h1m17 0h3m12 0h1m4 0h2m3 0h2m3 0h1m2 0h1m3 0h1m2 0h3m6 0h7m5 0h7m4 0h2m4 0h5m-261 1h1m159 0h1m7 0h1m9 0h2m13 0h2m4 0h2m2 0h1m5 0h3m3 0h1m2 0h2m6 0h7m6 0h7m-246 1h1m9 0h1m100 0h2m46 0h2m17 0h2m13 0h3m3 0h2m7 0h3m1 0h1m5 0h1m4 0h11m5 0h8m-238 1h2m100 0h1m26 0h1m20 0h2m6 0h5m1 0h1m20 0h2m3 0h4m5 0h6m5 0h1m1 0h2m2 0h9m5 0h5m1 0h2m-238 1h2m155 0h8m21 0h2m2 0h3m6 0h5m11 0h14m1 0h3m1 0h1m-235 1h2m154 0h2m4 0h3m18 0h1m3 0h1m3 0h1m6 0h3m4 0h1m1 0h1m6 0h13m2 0h1m1 0h2m-232 1h1m37 0h1m97 0h1m17 0h2m30 0h2m1 0h2m6 0h2m4 0h2m2 0h1m1 0h1m4 0h11m6 0h2m-233 1h1m8 0h2m121 0h1m5 0h2m14 0h1m41 0h3m4 0h6m1 0h15m7 0h1m-233 1h1m8 0h1m102 0h2m81 0h3m5 0h4m2 0h1m1 0h1m1 0h1m1 0h6m1 0h2m8 0h2m-138 1h1m16 0h2m19 0h1m60 0h3m4 0h4m5 0h2m3 0h7m9 0h2m-138 1h1m37 0h1m25 0h1m36 0h2m2 0h3m7 0h8m14 0h1m1 0h2m-243 1h1m1 0h1m37 0h1m81 0h1m17 0h1m24 0h2m36 0h2m2 0h2m8 0h8m6 0h4m4 0h4m-242 1h1m119 0h2m41 0h2m38 0h2m1 0h1m7 0h4m1 0h7m5 0h2m1 0h1m1 0h4m1 0h1m-242 1h1m21 0h1m61 0h1m35 0h2m33 0h2m6 0h1m40 0h2m7 0h5m1 0h1m1 0h5m5 0h3m2 0h3m2 0h1m-242 1h1m26 0h1m21 0h2m25 0h2m6 0h2m34 0h2m33 0h4m6 0h2m12 0h3m16 0h1m16 0h3m3 0h7m4 0h2m3 0h2m2 0h1m-229 1h1m13 0h2m20 0h4m24 0h2m6 0h5m21 0h2m6 0h3m18 0h2m13 0h5m5 0h2m8 0h1m3 0h3m6 0h1m9 0h1m14 0h2m1 0h2m1 0h1m1 0h9m2 0h1m1 0h1m2 0h3m1 0h1m-241 1h1m11 0h2m35 0h3m25 0h4m1 0h1m2 0h4m21 0h1m7 0h2m19 0h2m13 0h6m4 0h4m5 0h3m2 0h3m3 0h3m11 0h1m13 0h3m1 0h12m4 0h1m4 0h1m-238 1h1m12 0h3m7 0h2m26 0h1m27 0h4m2 0h2m31 0h2m9 0h1m1 0h3m4 0h3m14 0h6m3 0h4m5 0h3m3 0h3m3 0h2m11 0h4m14 0h11m5 0h2m4 0h1m-238 1h1m11 0h1m5 0h1m4 0h2m59 0h3m30 0h1m13 0h4m2 0h3m15 0h6m2 0h4m4 0h1m1 0h4m1 0h4m2 0h3m12 0h3m5 0h1m3 0h1m4 0h14m1 0h3m1 0h2m-226 1h1m2 0h1m3 0h1m29 0h1m27 0h1m8 0h3m43 0h5m1 0h3m15 0h8m1 0h4m3 0h7m1 0h3m2 0h4m11 0h3m4 0h3m2 0h1m2 0h1m1 0h14m2 0h4m1 0h1m-227 1h5m2 0h2m28 0h1m37 0h2m44 0h9m14 0h9m1 0h4m1 0h1m1 0h6m2 0h3m1 0h5m3 0h1m6 0h4m3 0h21m1 0h4m1 0h4m1 0h1m-228 1h5m3 0h1m5 0h2m22 0h1m37 0h1m42 0h1m1 0h9m14 0h9m1 0h5m3 0h5m2 0h4m1 0h5m2 0h2m6 0h3m2 0h23m1 0h8m1 0h1m-227 1h4m2 0h2m6 0h1m21 0h3m81 0h9m14 0h4m4 0h1m2 0h5m3 0h4m3 0h3m1 0h6m2 0h2m5 0h7m1 0h3m1 0h28m-227 1h3m3 0h1m29 0h2m28 0h1m53 0h8m9 0h1m5 0h4m4 0h1m1 0h6m2 0h5m3 0h2m2 0h6m1 0h3m5 0h5m1 0h27m1 0h3m-224 1h3m2 0h2m28 0h3m26 0h2m6 0h2m8 0h1m38 0h7m8 0h2m4 0h4m4 0h1m2 0h5m3 0h5m3 0h1m2 0h7m1 0h3m4 0h6m2 0h19m1 0h9m1 0h1m-225 1h1m34 0h3m25 0h2m8 0h1m7 0h2m40 0h4m9 0h2m4 0h4m3 0h2m2 0h5m3 0h4m10 0h8m4 0h4m2 0h30m-223 1h3m31 0h3m9 0h1m34 0h3m39 0h5m8 0h2m5 0h2m4 0h3m2 0h2m1 0h1m3 0h4m11 0h7m1 0h2m2 0h4m2 0h29m-223 1h3m32 0h3m9 0h1m11 0h1m23 0h2m1 0h1m38 0h3m8 0h3m4 0h2m1 0h1m3 0h3m1 0h1m1 0h1m5 0h2m12 0h6m2 0h2m2 0h3m3 0h29m-197 1h1m9 0h2m9 0h1m11 0h2m13 0h2m8 0h1m1 0h2m37 0h4m8 0h2m5 0h2m4 0h3m9 0h3m12 0h9m2 0h3m1 0h1m3 0h4m2 0h1m1 0h21m-199 1h2m9 0h1m6 0h2m2 0h1m9 0h3m12 0h3m10 0h2m39 0h2m8 0h3m10 0h3m10 0h2m3 0h2m7 0h9m1 0h6m2 0h4m6 0h2m1 0h17m-199 1h3m16 0h2m11 0h3m13 0h3m10 0h1m23 0h2m15 0h1m9 0h3m9 0h2m10 0h3m3 0h3m2 0h2m2 0h9m1 0h5m1 0h1m1 0h5m5 0h20m-198 1h3m1 0h1m13 0h3m11 0h2m6 0h1m7 0h2m10 0h1m16 0h1m6 0h5m12 0h1m9 0h4m6 0h1m2 0h1m12 0h2m2 0h5m1 0h1m3 0h15m1 0h5m1 0h2m2 0h2m1 0h17m-208 1h1m10 0h3m17 0h1m12 0h2m4 0h1m8 0h2m10 0h1m17 0h1m5 0h1m1 0h4m3 0h1m4 0h1m8 0h1m3 0h4m19 0h6m1 0h7m3 0h10m1 0h5m2 0h1m1 0h1m1 0h2m3 0h20m-219 1h2m9 0h1m9 0h4m4 0h4m1 0h1m19 0h2m32 0h1m9 0h2m4 0h1m2 0h5m2 0h1m17 0h4m20 0h15m1 0h19m2 0h4m1 0h18m2 0h1m-220 1h1m1 0h2m18 0h1m1 0h3m6 0h1m1 0h1m20 0h1m32 0h2m11 0h1m1 0h1m4 0h1m1 0h1m3 0h2m13 0h1m3 0h4m16 0h1m3 0h14m1 0h20m1 0h3m3 0h9m1 0h1m1 0h8m-219 1h4m5 0h1m14 0h2m16 0h1m38 0h1m7 0h1m8 0h4m13 0h1m14 0h1m3 0h3m15 0h2m4 0h11m3 0h1m1 0h13m2 0h2m2 0h3m4 0h9m2 0h8m-222 1h1m3 0h3m5 0h2m11 0h1m2 0h2m15 0h2m37 0h1m17 0h6m10 0h1m18 0h3m16 0h1m5 0h1m1 0h8m6 0h14m4 0h4m3 0h9m2 0h8m-218 1h1m1 0h2m4 0h2m32 0h1m37 0h1m7 0h1m11 0h3m10 0h2m20 0h2m15 0h1m6 0h1m1 0h2m1 0h5m4 0h15m2 0h1m2 0h2m6 0h9m2 0h6m-215 1h2m1 0h1m1 0h2m16 0h1m15 0h1m37 0h2m31 0h2m15 0h2m2 0h3m15 0h2m11 0h2m1 0h8m1 0h5m1 0h5m2 0h2m1 0h2m6 0h9m1 0h7m-220 1h1m5 0h3m2 0h2m5 0h1m9 0h2m52 0h2m17 0h1m13 0h3m19 0h2m16 0h1m7 0h1m7 0h6m2 0h6m1 0h9m2 0h1m5 0h10m2 0h5m-214 1h4m1 0h2m6 0h1m40 0h1m20 0h3m10 0h1m6 0h1m13 0h2m19 0h3m8 0h2m6 0h1m7 0h1m3 0h1m3 0h14m3 0h7m2 0h1m6 0h9m2 0h5m-227 1h1m12 0h5m1 0h2m6 0h2m38 0h1m11 0h1m8 0h3m10 0h2m6 0h1m22 0h1m11 0h3m1 0h1m5 0h3m5 0h2m6 0h1m3 0h1m3 0h8m1 0h6m2 0h8m1 0h2m5 0h11m1 0h4m-211 1h2m1 0h2m5 0h2m9 0h1m30 0h2m4 0h7m3 0h1m3 0h3m5 0h1m6 0h1m27 0h2m11 0h4m1 0h1m3 0h4m5 0h3m5 0h2m2 0h1m1 0h1m2 0h13m2 0h11m7 0h15m-213 1h1m1 0h2m2 0h1m12 0h3m1 0h3m29 0h1m4 0h7m3 0h3m2 0h2m6 0h1m6 0h1m12 0h1m14 0h2m10 0h1m1 0h2m1 0h1m3 0h6m4 0h3m10 0h2m1 0h13m4 0h8m9 0h14m-215 1h3m2 0h5m12 0h6m37 0h2m6 0h3m17 0h1m26 0h2m13 0h2m3 0h10m1 0h4m10 0h2m1 0h8m1 0h4m2 0h1m1 0h8m8 0h14m-215 1h1m4 0h7m1 0h1m10 0h2m38 0h1m1 0h1m4 0h1m2 0h3m6 0h2m1 0h1m7 0h1m25 0h3m13 0h1m3 0h11m1 0h3m10 0h6m1 0h5m1 0h3m2 0h1m2 0h3m1 0h4m4 0h17m-219 1h1m1 0h1m7 0h5m13 0h1m39 0h2m6 0h2m1 0h3m6 0h2m34 0h3m7 0h1m10 0h7m1 0h3m2 0h1m6 0h3m1 0h16m2 0h1m2 0h4m1 0h3m4 0h3m1 0h3m1 0h9m-219 1h2m8 0h3m2 0h5m8 0h2m38 0h2m1 0h1m3 0h4m1 0h3m6 0h5m32 0h1m18 0h2m1 0h4m15 0h4m2 0h5m1 0h4m1 0h1m2 0h1m3 0h4m1 0h1m5 0h17m-218 1h1m9 0h3m3 0h3m9 0h2m22 0h1m23 0h2m2 0h1m10 0h3m24 0h1m5 0h1m15 0h4m1 0h1m3 0h1m1 0h1m15 0h3m3 0h4m2 0h9m2 0h4m7 0h17m-218 1h1m9 0h3m3 0h3m9 0h3m21 0h1m3 0h1m14 0h3m7 0h1m10 0h3m23 0h2m21 0h3m23 0h3m2 0h5m2 0h4m2 0h2m4 0h3m8 0h14m1 0h1m-248 1h1m38 0h5m3 0h3m9 0h2m7 0h1m8 0h1m1 0h1m3 0h1m21 0h1m5 0h2m10 0h3m21 0h3m5 0h1m16 0h2m15 0h2m6 0h4m3 0h4m2 0h5m1 0h2m3 0h3m4 0h1m1 0h16m1 0h1m-209 1h5m3 0h1m1 0h1m10 0h1m16 0h2m9 0h1m22 0h2m10 0h4m21 0h3m4 0h1m8 0h1m6 0h2m3 0h1m12 0h1m8 0h3m4 0h4m1 0h5m3 0h1m2 0h3m4 0h1m3 0h14m-245 1h2m36 0h6m4 0h1m9 0h1m1 0h1m6 0h2m7 0h2m9 0h1m17 0h1m5 0h2m11 0h3m18 0h1m1 0h4m12 0h2m5 0h1m2 0h1m1 0h2m6 0h1m9 0h3m2 0h3m4 0h4m2 0h4m3 0h6m6 0h1m1 0h11m1 0h3m-246 1h1m36 0h6m16 0h1m6 0h1m9 0h1m18 0h1m8 0h2m4 0h2m11 0h4m19 0h5m11 0h3m4 0h2m2 0h3m17 0h1m1 0h5m4 0h3m3 0h5m3 0h5m3 0h1m1 0h2m1 0h15m-209 1h6m33 0h2m7 0h1m2 0h1m6 0h2m8 0h1m19 0h2m20 0h4m11 0h3m9 0h2m18 0h1m3 0h3m4 0h2m3 0h7m1 0h6m4 0h3m1 0h14m-224 1h2m14 0h5m33 0h2m11 0h1m6 0h2m8 0h6m36 0h4m10 0h3m4 0h1m4 0h3m22 0h2m5 0h1m5 0h6m2 0h5m4 0h3m1 0h13m-224 1h2m14 0h5m7 0h1m25 0h2m12 0h1m6 0h1m8 0h6m14 0h2m21 0h3m4 0h3m3 0h2m11 0h3m22 0h1m5 0h1m5 0h7m1 0h5m3 0h18m-237 1h1m5 0h1m7 0h2m14 0h4m2 0h1m4 0h2m10 0h2m13 0h2m4 0h1m5 0h2m6 0h1m9 0h6m14 0h1m22 0h3m4 0h3m2 0h2m12 0h1m24 0h1m9 0h5m1 0h3m1 0h4m3 0h18m-237 1h1m5 0h2m6 0h3m14 0h3m2 0h1m5 0h2m10 0h1m13 0h2m11 0h2m5 0h1m8 0h8m13 0h1m23 0h2m6 0h2m1 0h3m2 0h1m8 0h2m23 0h2m7 0h7m1 0h8m2 0h1m1 0h16m-237 1h1m6 0h2m6 0h3m3 0h3m7 0h6m6 0h2m9 0h2m13 0h1m7 0h1m4 0h1m5 0h2m9 0h7m20 0h1m1 0h1m14 0h2m5 0h2m1 0h1m2 0h3m9 0h1m22 0h5m6 0h7m1 0h9m1 0h9m2 0h2m2 0h2m-251 1h1m20 0h3m5 0h4m3 0h2m4 0h2m1 0h6m6 0h2m9 0h2m20 0h2m4 0h2m3 0h3m9 0h7m17 0h2m1 0h3m15 0h2m5 0h3m2 0h3m9 0h1m23 0h4m4 0h1m1 0h9m3 0h12m1 0h2m3 0h2m1 0h2m-250 1h1m20 0h3m5 0h4m2 0h3m4 0h2m1 0h5m8 0h1m9 0h1m21 0h2m4 0h2m2 0h4m8 0h6m12 0h2m6 0h2m1 0h1m15 0h2m5 0h2m3 0h3m11 0h1m22 0h4m6 0h8m4 0h7m1 0h7m2 0h5m-229 1h4m4 0h4m3 0h2m5 0h7m8 0h1m32 0h2m3 0h2m3 0h3m9 0h4m21 0h2m18 0h2m5 0h1m4 0h3m4 0h1m27 0h6m4 0h10m5 0h9m2 0h2m2 0h5m-228 1h3m1 0h1m2 0h4m3 0h3m4 0h7m9 0h1m31 0h2m4 0h2m3 0h3m9 0h3m21 0h2m1 0h3m15 0h1m10 0h3m4 0h3m3 0h1m20 0h7m5 0h13m1 0h20m-227 1h4m3 0h4m2 0h3m5 0h6m4 0h1m29 0h1m7 0h1m3 0h4m2 0h2m1 0h2m7 0h3m17 0h1m4 0h2m2 0h2m15 0h1m5 0h2m4 0h1m5 0h2m18 0h1m5 0h8m5 0h10m4 0h19m-226 1h5m3 0h2m3 0h3m5 0h5m5 0h1m28 0h1m13 0h2m3 0h1m12 0h2m17 0h1m4 0h2m9 0h2m5 0h2m7 0h2m4 0h1m24 0h2m4 0h8m3 0h1m1 0h9m5 0h19m-225 1h3m5 0h1m3 0h4m5 0h4m5 0h3m25 0h1m15 0h2m16 0h1m9 0h1m7 0h2m3 0h2m6 0h1m2 0h2m5 0h3m7 0h1m4 0h1m5 0h1m1 0h1m16 0h2m6 0h6m3 0h1m1 0h12m3 0h17m-224 1h4m9 0h3m6 0h3m5 0h4m20 0h1m19 0h2m35 0h2m2 0h2m7 0h1m1 0h3m5 0h3m6 0h2m4 0h1m5 0h2m1 0h1m14 0h3m6 0h6m2 0h1m2 0h9m1 0h1m1 0h1m1 0h18m-224 1h2m8 0h6m6 0h2m6 0h3m19 0h1m21 0h2m47 0h2m1 0h2m4 0h1m2 0h1m7 0h2m3 0h1m6 0h1m1 0h2m14 0h2m6 0h6m2 0h1m2 0h10m5 0h17m-223 1h1m9 0h5m7 0h2m4 0h5m12 0h2m5 0h1m6 0h1m13 0h2m2 0h3m42 0h6m1 0h4m6 0h1m3 0h2m12 0h1m15 0h2m6 0h5m2 0h2m2 0h3m2 0h4m6 0h16m-213 1h6m7 0h2m4 0h4m12 0h3m3 0h3m17 0h1m3 0h1m2 0h2m43 0h2m1 0h3m1 0h4m6 0h1m3 0h1m13 0h1m3 0h2m9 0h2m7 0h1m1 0h3m2 0h2m1 0h4m1 0h5m2 0h1m2 0h16m-212 1h5m8 0h1m5 0h4m11 0h4m2 0h4m5 0h1m9 0h3m3 0h5m20 0h1m22 0h10m6 0h1m18 0h1m2 0h2m10 0h2m9 0h1m4 0h1m3 0h3m1 0h6m1 0h1m1 0h16m-221 1h1m9 0h3m10 0h1m6 0h2m11 0h10m16 0h3m3 0h4m21 0h1m21 0h2m4 0h5m6 0h1m14 0h1m2 0h1m3 0h2m1 0h1m7 0h2m6 0h2m6 0h1m2 0h2m1 0h27m-210 1h2m17 0h2m11 0h11m15 0h2m4 0h4m44 0h2m4 0h5m27 0h2m2 0h1m7 0h1m5 0h2m11 0h29m-218 1h1m8 0h2m18 0h1m14 0h7m16 0h2m5 0h3m35 0h2m13 0h4m28 0h2m1 0h1m26 0h9m1 0h19m-218 1h1m8 0h2m37 0h3m20 0h6m35 0h2m13 0h3m29 0h5m16 0h1m8 0h5m3 0h18m1 0h2m-147 1h7m34 0h3m44 0h4m17 0h1m8 0h4m6 0h19m-143 1h3m35 0h3m44 0h3m11 0h1m5 0h3m2 0h1m4 0h5m1 0h15m1 0h6m-105 1h3m20 0h1m23 0h7m7 0h2m4 0h5m6 0h3m1 0h17m1 0h4m-103 1h1m21 0h2m24 0h4m3 0h1m4 0h3m2 0h6m4 0h4m2 0h4m1 0h12m1 0h3m-158 1h2m76 0h2m24 0h5m2 0h1m5 0h2m5 0h3m10 0h21m-157 1h1m46 0h3m27 0h2m26 0h3m1 0h1m4 0h1m1 0h4m5 0h2m1 0h1m7 0h1m2 0h1m3 0h13m1 0h1m-187 1h1m66 0h1m9 0h3m7 0h1m18 0h3m25 0h6m3 0h7m4 0h4m9 0h16m-106 1h7m23 0h2m24 0h7m3 0h3m1 0h5m5 0h2m7 0h8m1 0h8m2 0h3m-110 1h7m49 0h6m1 0h2m1 0h8m4 0h1m1 0h1m1 0h1m2 0h6m1 0h3m4 0h8m-102 1h1m50 0h3m1 0h6m1 0h7m1 0h1m1 0h1m3 0h2m2 0h4m7 0h1m2 0h6m4 0h1m-55 1h7m1 0h8m1 0h2m1 0h1m4 0h3m3 0h3m3 0h1m2 0h2m2 0h7m-136 1h1m80 0h1m4 0h2m5 0h1m1 0h7m7 0h4m4 0h4m1 0h1m1 0h1m4 0h4m4 0h1m-60 1h1m14 0h12m4 0h4m2 0h11m3 0h3m5 0h1m-51 1h1m6 0h13m2 0h5m4 0h4m2 0h2m4 0h2m4 0h2m-51 1h4m5 0h11m2 0h6m2 0h3m2 0h3m6 0h3m2 0h3m-53 1h2m2 0h1m3 0h15m1 0h2m1 0h2m4 0h1m1 0h2m12 0h3m-106 1h6m34 0h2m12 0h2m1 0h25m1 0h1m3 0h5m6 0h2m1 0h1m1 0h4m-107 1h7m29 0h6m10 0h31m3 0h4m1 0h1m2 0h1m4 0h2m1 0h1m4 0h1m-103 1h2m16 0h1m5 0h1m6 0h5m2 0h1m7 0h6m1 0h23m1 0h1m5 0h1m10 0h4m-152 1h1m69 0h1m5 0h2m7 0h4m5 0h1m2 0h1m1 0h31m6 0h1m5 0h3m2 0h4m-150 1h2m1 0h1m66 0h1m1 0h3m1 0h1m9 0h3m1 0h1m1 0h1m1 0h1m1 0h35m7 0h2m1 0h2m1 0h1m1 0h2m-145 1h1m66 0h6m2 0h1m6 0h5m2 0h1m3 0h36m5 0h5m2 0h4m3 0h2m-83 1h1m1 0h1m1 0h5m4 0h51m3 0h2m1 0h3m2 0h2m3 0h3m-211 1h1m79 0h3m49 0h3m5 0h52m2 0h4m1 0h2m2 0h1m5 0h2m-131 1h3m51 0h56m1 0h2m1 0h2m1 0h1m1 0h2m1 0h2m4 0h2m-80 1h1m3 0h60m1 0h3m1 0h3m6 0h1m-71 1h52m3 0h9m5 0h1m-75 1h1m4 0h2m1 0h59m1 0h1m10 0h2m-110 1h1m19 0h2m15 0h50m1 0h2m1 0h4m10 0h1m3 0h1m-192 1h1m81 0h1m19 0h2m5 0h3m7 0h52m3 0h4m7 0h7m-90 1h2m7 0h1m6 0h50m2 0h2m4 0h3m5 0h1m1 0h2m1 0h3m-89 1h2m5 0h2m1 0h1m4 0h50m3 0h2m3 0h4m4 0h4m1 0h1m1 0h1m-89 1h3m4 0h3m4 0h51m3 0h3m1 0h1m2 0h2m1 0h1m3 0h1m4 0h2m-88 1h3m10 0h1m2 0h48m3 0h4m2 0h3m11 0h1m-87 1h2m14 0h46m3 0h9m1 0h1m6 0h3m1 0h1m-86 1h2m13 0h39m2 0h1m2 0h2m3 0h3m1 0h2m2 0h1m9 0h1m1 0h2m-70 1h20m5 0h9m1 0h2m12 0h2m2 0h2m14 0h1m-76 1h2m4 0h19m7 0h2m27 0h1m7 0h1m5 0h1m-76 1h2m3 0h19m7 0h2m42 0h1m-76 1h3m2 0h17m9 0h2m34 0h1m-110 1h1m42 0h3m4 0h11m11 0h2m43 0h1m-119 1h3m42 0h2m2 0h11m13 0h2m-76 1h6m3 0h1m36 0h3m3 0h5m17 0h2m30 0h1m12 0h1m-160 1h1m39 0h8m39 0h2m24 0h3m33 0h1m4 0h1m-156 1h4m36 0h10m64 0h2m31 0h1m1 0h1m1 0h5m2 0h1m-159 1h4m36 0h9m65 0h2m35 0h6m1 0h1m-162 1h2m1 0h3m1 0h1m36 0h3m1 0h3m66 0h2m30 0h2m4 0h4m1 0h1m2 0h1m-161 1h1m2 0h1m42 0h1m67 0h2m36 0h2m1 0h1m1 0h2m1 0h1m-157 1h1m27 0h1m60 0h3m40 0h1m9 0h1m6 0h1m2 0h1m1 0h1m1 0h1m-170 1h2m8 0h4m28 0h1m57 0h4m49 0h2m6 0h1m3 0h1m1 0h1m1 0h1m-170 1h2m40 0h1m55 0h4m47 0h1m7 0h7m1 0h2m-167 1h2m39 0h2m8 0h2m45 0h1m56 0h11m1 0h1m1 0h1m-190 1h1m70 0h2m56 0h1m44 0h1m2 0h8m2 0h3m-201 1h1m81 0h1m56 0h3m44 0h10m1 0h1m1 0h2m-200 1h1m12 0h1m67 0h1m56 0h2m40 0h1m5 0h14m-119 1h1m57 0h1m46 0h14m-191 1h1m2 0h1m67 0h2m36 0h3m59 0h1m4 0h15m-190 1h3m67 0h2m35 0h4m60 0h1m3 0h15m-237 1h1m117 0h1m62 0h4m30 0h1m3 0h18m-237 1h2m177 0h4m6 0h3m26 0h16m1 0h2m-236 1h2m174 0h2m39 0h3m1 0h10m1 0h3m-234 1h2m189 0h1m22 0h1m2 0h12m1 0h5m-234 1h2m188 0h1m26 0h9m2 0h6m-233 1h2m160 0h1m26 0h2m20 0h1m4 0h9m3 0h5m-232 1h2m158 0h2m50 0h1m4 0h8m2 0h5m-231 1h1m79 0h2m76 0h2m50 0h2m4 0h8m1 0h6m-149 1h1m75 0h1m49 0h2m1 0h1m4 0h8m1 0h6m-98 1h1m76 0h1m3 0h7m1 0h2m1 0h6m-115 1h1m93 0h9m1 0h2m1 0h8m-116 1h1m18 0h1m76 0h3m1 0h3m1 0h3m1 0h8m-117 1h2m16 0h1m1 0h1m32 0h2m41 0h5m1 0h9m4 0h2m-174 1h2m75 0h1m3 0h1m27 0h3m41 0h1m1 0h1m2 0h5m2 0h2m3 0h4m-174 1h2m106 0h2m41 0h1m2 0h9m3 0h6m-171 1h1m106 0h2m38 0h1m2 0h3m2 0h1m1 0h6m1 0h1m2 0h6m-27 1h2m2 0h1m1 0h1m3 0h7m1 0h1m4 0h2m1 0h1m-146 1h2m117 0h2m1 0h2m2 0h2m3 0h4m2 0h2m3 0h3m-145 1h2m118 0h2m1 0h5m3 0h3m3 0h1m4 0h4m-148 1h1m121 0h8m4 0h1m1 0h3"/>
<path stroke="#ee0000" d="M0 0m149 2h1m-2 1h1m-2 1h1m-12 12h1m-1 1h2m4 7h1m131 8h1m-2 1h2m-3 1h2m-2 1h2m-3 1h2m-2 1h1m-20 3h1m3 0h2m-5 1h3m11 1h3m-244 1h1m228 0h1m8 0h5m-242 1h1m3 0h1m231 0h3m-55 1h1m22 0h1m28 0h2m2 0h1m-236 1h1m226 0h1m-34 1h1m32 0h2m-34 1h1m48 0h1m-25 1h1m-209 1h3m205 0h3m-213 1h1m209 0h3m21 0h2m-46 1h3m12 0h1m3 0h4m3 0h1m-8 1h4m1 0h1m3 0h2m3 0h1m-45 1h1m29 0h5m2 0h4m1 0h1m-17 1h1m3 0h5m5 0h3m-19 1h2m1 0h1m3 0h6m1 0h2m1 0h1m1 0h1m3 0h1m-33 1h1m9 0h2m3 0h6m1 0h1m1 0h2m1 0h1m4 0h2m-45 1h1m9 0h4m6 0h2m3 0h1m1 0h6m1 0h5m4 0h2m-35 1h5m6 0h2m2 0h1m1 0h4m2 0h6m-38 1h1m4 0h10m9 0h5m1 0h1m1 0h6m-33 1h1m1 0h8m9 0h5m4 0h5m-32 1h1m2 0h11m4 0h5m6 0h3m-38 1h1m4 0h1m5 0h3m1 0h6m1 0h1m1 0h1m1 0h3m6 0h2m-39 1h1m1 0h1m13 0h3m1 0h3m1 0h5m2 0h2m3 0h1m1 0h1m-52 1h1m12 0h3m12 0h4m2 0h4m1 0h4m6 0h1m-50 1h3m9 0h1m1 0h2m13 0h4m1 0h5m1 0h2m-40 1h2m10 0h3m13 0h8m-23 1h2m14 0h7m13 0h2m7 0h2m-47 1h1m15 0h6m1 0h1m4 0h1m7 0h3m7 0h2m2 0h1m-21 1h1m5 0h2m9 0h4m-16 1h3m9 0h3m-59 1h1m43 0h2m11 0h2m-60 1h4m41 0h6m-49 1h4m7 0h1m31 0h3m1 0h2m-47 1h2m23 0h1m13 0h4m1 0h2m-2 1h2m-8 1h2m4 0h1m1 1h1m0 1h1m9 0h1m-4 1h1m1 0h1m-1 2h1m-10 4h3m-2 1h3m-2 1h2m-1 1h1m-1 1h2m-68 2h1m19 0h1m16 0h1m-39 1h2m11 0h1m5 0h1m-21 1h2m12 0h2m3 0h1m-14 1h1m7 0h2m41 0h1m-44 1h2m56 0h1m-61 1h1m2 0h1m17 0h6m32 0h4m-62 1h3m17 0h5m15 0h1m4 0h1m13 0h4m-73 1h1m10 0h2m35 0h2m10 0h1m8 0h4m-74 1h1m11 0h2m34 0h2m19 0h5m-61 1h2m32 0h3m17 0h1m2 0h3m-59 1h1m31 0h2m17 0h1m7 0h1m-62 1h3m30 0h2m18 0h2m-87 1h2m31 0h2m30 0h1m7 0h1m9 0h5m4 0h2m-93 1h1m34 0h1m22 0h1m14 0h1m5 0h5m7 0h2m-93 1h2m56 0h2m16 0h1m2 0h3m1 0h1m8 0h1m-91 1h1m55 0h2m16 0h1m4 0h1m6 0h5m-91 1h1m55 0h2m1 0h4m23 0h5m-34 1h1m1 0h1m2 0h1m4 0h2m20 0h2m-35 1h1m5 0h3m2 0h1m2 0h2m-10 1h2m6 0h2m17 0h1m-34 1h1m5 0h1m8 0h2m8 0h1m7 0h1m-28 1h2m7 0h2m9 0h1m7 0h1m-29 1h2m8 0h1m4 0h1m2 0h3m-68 1h3m44 0h2m7 0h1m9 0h2m-21 1h1m8 0h1m7 0h1m1 0h1m8 0h1m-26 1h2m-73 1h3m1 0h1m66 0h1m16 0h4m-92 1h1m86 0h3m2 0h2m-134 1h2m97 0h2m25 0h3m1 0h1m2 0h4m-38 1h2m23 0h11m-12 1h7m-117 1h1m107 0h1m12 0h2m-123 1h1m115 0h1m4 0h1m1 0h1m-20 1h2m8 0h1m1 0h2m3 0h3m-15 1h2m2 0h4m3 0h4m-43 1h2m5 0h1m12 0h1m7 0h1m3 0h3m1 0h2m2 0h3m-134 1h1m91 0h1m12 0h2m5 0h1m5 0h2m4 0h5m2 0h3m-134 1h1m5 0h2m84 0h2m10 0h3m2 0h1m8 0h1m5 0h2m2 0h2m1 0h3m-136 1h1m1 0h1m4 0h2m85 0h2m9 0h3m2 0h2m7 0h2m5 0h6m1 0h1m-135 1h1m1 0h2m92 0h2m7 0h3m12 0h2m6 0h4m3 0h2m-138 1h2m1 0h1m93 0h2m30 0h3m1 0h5m-138 1h1m25 0h1m70 0h2m30 0h9m-41 1h2m21 0h2m7 0h9m-259 1h1m216 0h2m24 0h1m1 0h2m1 0h2m1 0h8m-259 1h1m179 0h1m37 0h1m24 0h6m2 0h3m1 0h4m-259 1h1m241 0h6m3 0h8m-258 1h1m78 0h1m155 0h2m3 0h3m1 0h3m2 0h9m-134 1h1m49 0h2m59 0h2m3 0h2m1 0h1m1 0h1m1 0h11m-137 1h3m50 0h1m60 0h1m11 0h9m1 0h1m-194 1h1m29 0h1m25 0h3m50 0h2m72 0h6m1 0h2m-192 1h1m29 0h2m24 0h1m52 0h1m72 0h3m1 0h2m1 0h1m3 0h1m-194 1h1m29 0h2m60 0h1m80 0h2m5 0h3m1 0h1m3 0h6m-193 1h1m29 0h2m140 0h2m5 0h3m4 0h1m2 0h1m1 0h2m-147 1h1m5 0h1m19 0h1m100 0h1m5 0h4m5 0h1m2 0h1m-121 1h2m100 0h1m6 0h2m2 0h1m1 0h1m3 0h1m-145 1h3m22 0h2m35 0h2m13 0h1m54 0h10m1 0h2m1 0h1m-147 1h2m20 0h1m6 0h3m30 0h3m71 0h5m2 0h2m1 0h1m-148 1h2m63 0h3m62 0h2m3 0h1m2 0h4m1 0h3m1 0h1m-175 1h1m26 0h1m66 0h2m16 0h1m45 0h2m4 0h5m2 0h1m1 0h2m-149 1h2m84 0h1m14 0h1m31 0h3m1 0h5m1 0h1m2 0h3m-106 1h1m83 0h1m6 0h1m4 0h4m3 0h2m-105 1h1m55 0h2m26 0h1m1 0h1m9 0h3m1 0h1m1 0h1m-67 1h1m19 0h2m27 0h2m4 0h1m4 0h1m3 0h1m-65 1h1m18 0h3m27 0h1m5 0h3m1 0h1m6 0h2m-161 1h2m65 0h1m25 0h1m18 0h2m24 0h1m3 0h1m4 0h3m1 0h3m1 0h1m1 0h2m1 0h1m-171 1h1m76 0h1m25 0h1m18 0h1m25 0h4m5 0h2m2 0h3m1 0h8m-220 1h1m46 0h1m9 0h1m65 0h1m26 0h1m53 0h1m3 0h1m2 0h9m-174 1h2m74 0h1m50 0h1m25 0h1m8 0h4m1 0h1m1 0h5m-174 1h2m14 0h1m58 0h1m51 0h1m26 0h1m5 0h7m1 0h6m-174 1h1m16 0h1m63 0h1m45 0h1m26 0h1m2 0h1m4 0h5m1 0h2m1 0h3m-220 1h3m61 0h1m62 0h1m35 0h1m45 0h3m2 0h6m-207 1h1m36 0h1m69 0h2m5 0h1m35 0h2m46 0h4m1 0h4m-207 1h1m37 0h2m66 0h2m6 0h1m1 0h1m34 0h1m41 0h1m2 0h1m1 0h5m1 0h3m-211 1h1m2 0h1m40 0h1m65 0h1m1 0h1m5 0h1m36 0h2m39 0h3m1 0h1m1 0h1m1 0h3m1 0h3m-222 1h1m13 0h1m107 0h1m7 0h1m35 0h2m40 0h3m5 0h2m1 0h2m-208 1h1m54 0h1m61 0h1m18 0h1m17 0h1m40 0h5m-217 1h2m14 0h1m45 0h1m8 0h1m48 0h1m13 0h1m18 0h1m17 0h1m41 0h5m-218 1h1m29 0h1m87 0h2m73 0h1m20 0h3m8 0h1m-197 1h2m55 0h1m25 0h2m3 0h1m86 0h2m10 0h1m-207 1h1m17 0h2m86 0h2m86 0h3m3 0h2m-202 1h1m100 0h1m3 0h2m88 0h2m3 0h5m1 0h1m-139 1h1m32 0h1m49 0h1m43 0h3m4 0h4m-150 1h1m41 0h1m1 0h1m46 0h1m3 0h1m44 0h3m4 0h4m-229 1h1m118 0h2m49 0h1m25 0h1m21 0h4m4 0h3m-229 1h2m76 0h2m40 0h2m74 0h2m21 0h9m-227 1h1m77 0h1m41 0h2m62 0h1m34 0h2m3 0h3m-149 1h1m77 0h2m26 0h1m15 0h1m19 0h1m3 0h1m1 0h2m-196 1h1m123 0h2m41 0h1m20 0h1m1 0h1m4 0h2m-197 1h3m1 0h1m118 0h3m43 0h1m25 0h4m2 0h1m-201 1h2m84 0h1m33 0h4m48 0h2m20 0h3m-196 1h2m82 0h1m34 0h3m49 0h3m20 0h1m-216 1h1m22 0h1m80 0h1m85 0h5m7 0h1m2 0h1m17 0h1m-223 1h2m154 0h1m29 0h2m3 0h2m6 0h2m1 0h1m17 0h1m-221 1h3m153 0h1m30 0h1m4 0h1m28 0h1m-221 1h2m79 0h2m93 0h4m12 0h1m27 0h1m-142 1h3m93 0h3m1 0h1m12 0h1m14 0h1m13 0h1m-144 1h2m52 0h1m15 0h1m51 0h1m18 0h3m-229 1h1m83 0h2m68 0h1m19 0h3m12 0h1m14 0h5m17 0h3m-75 1h1m34 0h1m14 0h2m19 0h3m-74 1h1m49 0h4m4 0h2m2 0h1m7 0h2m-73 1h1m28 0h3m19 0h5m3 0h1m2 0h1m8 0h1m-97 1h1m52 0h4m19 0h10m5 0h2m-92 1h1m52 0h1m20 0h4m1 0h1m8 0h1m1 0h3m4 0h2m-103 1h3m2 0h1m36 0h1m16 0h1m19 0h2m7 0h1m4 0h5m5 0h1m-62 1h1m16 0h1m13 0h1m5 0h2m3 0h2m8 0h4m5 0h1m-45 1h1m10 0h5m3 0h3m3 0h2m7 0h3m1 0h1m2 0h1m2 0h1m-101 1h1m55 0h2m6 0h6m5 0h2m4 0h1m8 0h4m1 0h1m4 0h1m-256 1h1m152 0h1m58 0h1m6 0h4m7 0h2m13 0h5m4 0h2m-236 1h1m92 0h2m102 0h1m12 0h2m13 0h2m1 0h3m2 0h3m-240 1h1m95 0h2m77 0h2m22 0h6m4 0h3m8 0h3m3 0h2m1 0h11m-241 1h2m95 0h1m38 0h1m39 0h2m30 0h4m1 0h1m7 0h1m5 0h3m3 0h8m-241 1h1m134 0h2m40 0h1m29 0h6m1 0h1m7 0h1m5 0h1m1 0h1m3 0h7m-188 1h1m80 0h2m10 0h1m35 0h2m22 0h2m4 0h1m17 0h2m4 0h5m-182 1h1m74 0h2m10 0h1m35 0h3m26 0h2m13 0h1m1 0h3m3 0h3m1 0h2m-118 1h1m15 0h1m7 0h2m35 0h2m26 0h3m12 0h2m1 0h8m2 0h1m-118 1h2m7 0h2m3 0h4m7 0h1m25 0h1m4 0h2m4 0h1m27 0h2m12 0h2m1 0h3m1 0h5m1 0h2m-118 1h2m3 0h6m4 0h3m6 0h2m30 0h1m31 0h1m18 0h6m2 0h1m1 0h1m-118 1h2m1 0h10m4 0h1m7 0h1m2 0h1m9 0h4m14 0h1m32 0h1m18 0h4m2 0h1m1 0h2m-92 1h3m8 0h2m17 0h2m25 0h1m20 0h1m4 0h4m2 0h3m-93 1h2m11 0h1m17 0h2m25 0h4m16 0h4m3 0h4m1 0h3m-252 1h2m111 0h1m43 0h3m30 0h2m15 0h1m11 0h2m15 0h11m2 0h2m-251 1h1m112 0h1m76 0h2m15 0h1m20 0h1m9 0h1m1 0h11m-252 1h1m14 0h1m97 0h2m76 0h1m16 0h2m4 0h1m20 0h17m-139 1h1m78 0h1m15 0h2m4 0h2m21 0h1m3 0h11m-256 1h2m153 0h1m57 0h1m4 0h1m17 0h1m8 0h11m-255 1h1m115 0h1m37 0h1m63 0h1m16 0h2m4 0h1m2 0h12m-84 1h1m45 0h2m15 0h2m6 0h1m1 0h11m-38 1h2m15 0h2m7 0h5m1 0h3m2 0h1m-37 1h4m12 0h1m9 0h3m1 0h1m4 0h1m-242 1h1m187 0h2m8 0h2m8 0h3m12 0h2m8 0h1m1 0h1m2 0h1m-52 1h2m5 0h6m21 0h3m-62 1h1m24 0h1m6 0h4m18 0h1m4 0h1m1 0h2m-39 1h1m28 0h1m-202 1h1m150 0h4m16 0h2m19 0h1m2 0h2m3 0h1m10 0h1m-107 1h1m49 0h2m13 0h2m27 0h1m12 0h1m-109 1h1m95 0h2m8 0h3m-201 1h1m187 0h2m8 0h2m-200 1h1m185 0h4m7 0h7m-204 1h2m152 0h1m17 0h1m13 0h3m4 0h1m3 0h3m1 0h2m-202 1h1m119 0h1m31 0h1m17 0h2m12 0h4m4 0h2m2 0h1m4 0h2m-92 1h1m8 0h2m13 0h2m6 0h1m26 0h2m12 0h3m9 0h1m4 0h2m-130 1h2m26 0h1m19 0h2m11 0h3m6 0h1m22 0h3m1 0h2m12 0h2m15 0h1m-128 1h1m60 0h1m7 0h1m20 0h4m2 0h2m12 0h1m16 0h1m-197 1h1m136 0h2m19 0h3m4 0h3m-206 1h1m37 0h1m127 0h1m8 0h1m6 0h1m21 0h2m14 0h1m-184 1h1m136 0h2m5 0h3m19 0h3m13 0h2m-185 1h1m144 0h1m22 0h1m12 0h3m13 0h1m-224 1h1m24 0h1m179 0h4m6 0h1m8 0h1m-232 1h1m29 0h2m94 0h1m69 0h3m13 0h3m7 0h1m9 0h1m-109 1h2m27 0h1m44 0h1m-53 1h1m74 0h2m-77 1h1m76 0h1m-111 1h1m32 0h1m34 0h1m7 0h1m-176 1h1m24 0h3m4 0h1m32 0h2m33 0h1m31 0h1m21 0h1m12 0h1m-168 1h1m24 0h3m73 0h1m51 0h2m13 0h1m8 0h1m33 0h2m-94 1h1m33 0h2m14 0h2m21 0h1m18 0h2m-61 1h2m6 0h1m13 0h1m30 0h1m5 0h2m1 0h1m1 0h1m-99 1h1m32 0h2m7 0h1m50 0h2m-95 1h1m28 0h1m2 0h2m8 0h1m3 0h2m27 0h1m18 0h1m-76 1h1m8 0h1m3 0h1m9 0h1m5 0h1m45 0h2m3 0h1m-58 1h1m1 0h1m49 0h2m-77 1h1m23 0h1m49 0h3m-108 1h1m83 0h2m19 0h1m1 0h2m-109 1h1m83 0h3m-86 1h1m84 0h2m5 0h1m10 0h1m4 0h1m-24 1h3m4 0h1m10 0h2m2 0h2m2 0h1m-44 1h1m16 0h3m2 0h3m11 0h1m2 0h2m-106 1h3m22 0h2m37 0h1m16 0h1m2 0h1m2 0h1m1 0h1m10 0h2m2 0h3m-105 1h2m19 0h3m19 0h2m27 0h1m5 0h1m4 0h1m1 0h2m5 0h2m4 0h2m2 0h3m-125 1h1m20 0h1m43 0h1m27 0h1m5 0h1m5 0h4m1 0h5m2 0h2m2 0h3m-73 1h1m42 0h1m3 0h1m7 0h1m2 0h4m3 0h3m3 0h2m1 0h1m-76 1h1m1 0h1m35 0h2m4 0h1m3 0h1m7 0h2m7 0h3m4 0h2m-74 1h1m1 0h1m34 0h4m3 0h2m11 0h1m7 0h2m9 0h1m-83 1h1m42 0h1m7 0h1m9 0h1m16 0h5m-218 1h2m132 0h1m7 0h1m40 0h1m1 0h2m26 0h3m1 0h1m-216 1h2m130 0h1m7 0h2m39 0h1m1 0h2m30 0h1m-223 1h1m6 0h1m1 0h1m138 0h1m36 0h8m28 0h1m-222 1h1m143 0h1m37 0h1m8 0h2m16 0h2m-210 1h1m142 0h1m39 0h2m6 0h2m16 0h2m-89 1h1m21 0h1m47 0h1m15 0h3m7 0h1m1 0h1m-99 1h1m7 0h2m12 0h2m62 0h1m5 0h1m1 0h5m-92 1h2m14 0h1m43 0h1m17 0h1m7 0h7m-77 1h2m41 0h1m12 0h1m1 0h5m12 0h2m-76 1h1m27 0h2m4 0h2m23 0h2m2 0h1m-64 1h1m29 0h1m20 0h2m6 0h1m-60 1h1m29 0h2m19 0h2m1 0h1m-55 1h1m50 0h2m1 0h1m12 0h1m-68 1h2m49 0h3m13 0h1m-116 1h1m48 0h1m49 0h3m-102 1h2m47 0h2m25 0h1m22 0h2m-85 1h1m33 0h1m21 0h4m23 0h2m-31 1h3m7 0h1m18 0h1m6 0h3m14 0h1m-19 1h3m-28 1h2m-2 1h1m20 0h1m4 0h1m-230 1h1m105 0h1m-105 1h1m32 0h1m105 0h2m-1 1h2m-2 1h1m84 1h1m-19 1h1m-2 1h1m32 0h1m-128 1h1m76 0h1m17 0h2m21 0h1m2 0h1m2 0h1m2 0h1m-51 1h1m11 0h2m4 0h2m30 0h1m-32 1h2m29 0h1m-44 1h1m4 0h1m6 0h2m14 0h1m3 0h1m9 0h2m-92 1h1m47 0h1m12 0h2m18 0h1m-82 1h1m75 0h2m4 0h1m-81 1h2m73 0h1m-23 1h1m21 0h1m11 0h2m-55 1h1m18 0h2m32 0h2m-152 1h1m95 0h2m17 0h2m33 0h2m-56 1h2m17 0h2m33 0h2m-152 1h1m95 0h1m8 0h1m8 0h2m5 0h1m27 0h3m-152 1h1m95 0h1m17 0h1m34 0h2m-55 1h2m15 0h1m8 0h1m1 0h4m21 0h2m-55 1h2m22 0h1m3 0h5m20 0h2m-55 1h2m17 0h1m1 0h4m27 0h2m-235 1h1m180 0h2m16 0h2m12 0h1m19 0h1m-53 1h1m16 0h2m34 0h1m-37 1h1m34 0h1m-37 1h2m19 0h2m12 0h2m1 0h1m-39 1h1m21 0h1m9 0h1m1 0h2m1 0h1m3 0h3m1 0h1m-46 1h1m31 0h1m3 0h2m1 0h4m1 0h1m-10 1h6m-24 1h1m17 0h6m2 0h1m-30 1h1m14 0h11m5 0h1m-16 1h2m3 0h2m1 0h2m5 0h1m-39 1h1m19 0h1m1 0h3m5 0h1m-16 1h2m1 0h2m1 0h1m1 0h2m6 0h1m2 0h3m-23 1h2m3 0h3m1 0h2m6 0h1m1 0h2m2 0h1m-247 1h3m154 0h1m1 0h1m68 0h1m11 0h6m1 0h1m-250 1h3m155 0h2m1 0h1m80 0h2m3 0h2m-250 1h3m159 0h1m79 0h5m2 0h2m-251 1h1m241 0h3m1 0h2m-38 1h3m13 0h1m3 0h1m11 0h3m-212 1h1m110 0h1m65 0h2m16 0h1m4 0h1m8 0h2m-212 1h2m51 0h1m57 0h1m66 0h2m8 0h1m11 0h1m9 0h2m-212 1h1m52 0h2m55 0h1m52 0h1m13 0h4m8 0h1m-191 1h1m162 0h2m13 0h2m11 0h1m-15 1h2m35 0h1m-51 1h1m11 0h2m25 0h1m8 0h3m1 0h1m2 0h1m-44 1h1m35 0h5m2 0h1m-32 1h1m16 0h3m4 0h4m-185 1h1m161 0h1m11 0h4m1 0h4m1 0h1m-37 1h1m12 0h1m6 0h1m4 0h1m1 0h1m4 0h3m-225 1h2m11 0h1m99 0h1m76 0h2m6 0h2m2 0h2m5 0h1m5 0h2m3 0h1m1 0h2m-200 1h2m165 0h2m3 0h1m1 0h1m8 0h3m5 0h1m5 0h2m-204 1h1m5 0h2m165 0h4m1 0h1m4 0h2m1 0h5m9 0h1m7 0h2m-210 1h1m172 0h3m7 0h9m7 0h2m6 0h1m-232 1h2m22 0h1m94 0h1m53 0h1m25 0h1m6 0h13m2 0h1m1 0h2m6 0h1m-236 1h1m1 0h2m48 0h2m149 0h1m7 0h11m3 0h3m1 0h2m2 0h1m1 0h5m-188 1h1m140 0h1m5 0h1m10 0h4m2 0h4m1 0h1m2 0h3m1 0h5m2 0h5m-48 1h1m18 0h3m2 0h4m1 0h1m1 0h3m4 0h2m5 0h1m-47 1h1m19 0h1m3 0h4m4 0h2m10 0h2m-42 1h1m15 0h1m1 0h5m5 0h1m8 0h1m-43 1h1m3 0h2m17 0h5m3 0h1m-33 1h2m12 0h1m5 0h7m3 0h2m12 0h1m5 0h1m-51 1h2m11 0h1m6 0h1m1 0h4m2 0h4m-48 1h5m11 0h1m12 0h1m10 0h1m3 0h3m-80 1h1m32 0h2m25 0h1m12 0h1m3 0h3m19 0h1m-100 1h2m30 0h2m37 0h3m3 0h2m6 0h2m11 0h2m-99 1h2m67 0h6m8 0h3m9 0h1m2 0h1m-98 1h2m28 0h1m35 0h2m1 0h3m1 0h1m6 0h4m-83 1h2m19 0h2m5 0h2m34 0h2m1 0h4m5 0h7m1 0h1m1 0h1m9 0h1m-77 1h2m5 0h2m34 0h2m2 0h3m3 0h6m2 0h1m4 0h1m-68 1h3m5 0h2m34 0h2m1 0h4m15 0h4m-71 1h3m5 0h2m35 0h2m19 0h5m-71 1h1m43 0h3m17 0h1m2 0h4m4 0h1m-38 1h1m5 0h2m17 0h6m-77 1h1m46 0h1m3 0h3m6 0h1m13 0h2m2 0h1m-79 1h1m50 0h2m7 0h1m12 0h2m-76 1h2m42 0h2m20 0h6m14 0h1m-87 1h2m41 0h3m4 0h1m15 0h4m15 0h2m-87 1h2m41 0h2m5 0h1m28 0h1m-103 1h1m22 0h1m64 0h1m2 0h2m-94 1h2m22 0h2m24 0h2m40 0h1m8 0h1m5 0h3m-110 1h1m23 0h2m24 0h1m49 0h2m4 0h2m-3 1h2m-7 1h1m-111 1h1m106 0h4m4 0h1m-116 1h2m106 0h2m-108 1h1m26 0h1m77 0h2m8 0h3m-92 1h1m86 0h4m-92 1h2m53 0h3m29 0h3m-95 1h1m58 0h3m26 0h1m1 0h3m2 0h1m-95 1h1m57 0h1m27 0h4m4 0h1m-93 1h1m80 0h1m1 0h2m1 0h1m4 0h3m-94 1h1m81 0h2m4 0h5m3 0h1m-97 1h2m29 0h2m54 0h5m4 0h1m-97 1h2m30 0h4m51 0h4m4 0h1m-96 1h1m31 0h4m50 0h4m-131 1h2m39 0h2m1 0h1m28 0h2m1 0h1m9 0h1m41 0h3m-131 1h1m41 0h1m1 0h1m7 0h1m20 0h2m11 0h1m6 0h1m27 0h1m7 0h2m-89 1h1m1 0h2m27 0h1m11 0h2m3 0h1m1 0h2m26 0h3m6 0h2m6 0h1m-172 1h1m78 0h1m39 0h1m3 0h2m13 0h2m13 0h3m6 0h2m6 0h2m-93 1h1m38 0h2m4 0h3m6 0h1m3 0h3m13 0h2m1 0h1m2 0h1m1 0h3m6 0h2m-149 1h2m53 0h2m37 0h2m5 0h2m4 0h2m5 0h4m7 0h2m5 0h1m3 0h4m2 0h1m-142 1h2m52 0h1m2 0h1m20 0h2m13 0h1m7 0h2m3 0h3m2 0h4m5 0h7m3 0h2m3 0h2m2 0h3m-141 1h1m68 0h3m28 0h2m2 0h2m3 0h5m5 0h7m7 0h3m1 0h5m-85 1h1m3 0h1m6 0h3m28 0h4m6 0h4m6 0h5m8 0h5m8 0h1m-85 1h2m4 0h3m31 0h2m6 0h3m7 0h6m6 0h7m2 0h1m3 0h3m-170 1h1m71 0h1m11 0h1m4 0h3m27 0h1m12 0h2m4 0h3m2 0h4m7 0h7m4 0h5m-44 1h1m4 0h2m4 0h2m2 0h1m2 0h5m3 0h9m1 0h1m1 0h5m-44 1h2m4 0h1m8 0h2m1 0h2m7 0h9m1 0h1m1 0h5m-44 1h1m4 0h1m8 0h1m2 0h2m8 0h16m-52 1h1m13 0h1m11 0h1m9 0h7m2 0h2m2 0h2m-249 1h2m195 0h5m12 0h1m5 0h3m11 0h7m5 0h2m-51 1h4m12 0h2m4 0h3m8 0h1m2 0h3m6 0h1m2 0h3m-116 1h2m11 0h3m33 0h2m28 0h4m4 0h2m8 0h2m2 0h3m2 0h1m6 0h3m-118 1h3m10 0h3m26 0h5m3 0h2m27 0h4m5 0h4m2 0h2m3 0h2m1 0h3m9 0h4m-119 1h2m11 0h2m22 0h2m6 0h3m2 0h2m37 0h4m2 0h1m4 0h2m3 0h4m5 0h3m-105 1h2m23 0h1m8 0h1m2 0h3m11 0h1m20 0h1m4 0h4m7 0h9m5 0h4m1 0h1m-72 1h2m32 0h3m4 0h3m2 0h1m4 0h3m3 0h3m6 0h3m-257 1h1m187 0h3m21 0h1m9 0h4m3 0h3m2 0h1m2 0h1m1 0h2m4 0h2m3 0h1m1 0h4m-36 1h1m1 0h1m7 0h3m1 0h1m1 0h1m7 0h2m6 0h1m8 0h2m-122 1h1m77 0h2m8 0h4m5 0h1m5 0h1m7 0h3m4 0h4m-190 1h1m66 0h1m78 0h1m11 0h3m9 0h1m7 0h4m2 0h6m-191 1h1m13 0h2m51 0h2m89 0h5m7 0h1m7 0h13m-124 1h1m77 0h1m12 0h2m7 0h2m2 0h1m6 0h12m-47 1h2m12 0h3m7 0h1m8 0h14m-83 1h1m34 0h4m9 0h2m19 0h13m-82 1h4m29 0h6m8 0h1m20 0h13m-82 1h2m8 0h1m16 0h1m7 0h3m8 0h3m3 0h1m1 0h2m11 0h16m-168 1h1m16 0h2m64 0h1m1 0h3m32 0h2m17 0h1m12 0h15m-149 1h1m64 0h5m23 0h1m8 0h2m17 0h1m11 0h18m-151 1h2m31 0h3m26 0h6m25 0h1m8 0h2m6 0h1m10 0h2m9 0h20m-225 1h2m72 0h1m31 0h1m59 0h1m8 0h2m17 0h2m7 0h5m2 0h5m2 0h6m-47 1h1m17 0h2m6 0h4m4 0h5m1 0h7m-29 1h1m1 0h1m6 0h3m3 0h4m1 0h1m2 0h5m-109 1h1m60 0h4m16 0h1m6 0h1m2 0h3m3 0h1m5 0h5m-174 1h1m65 0h2m36 0h1m21 0h4m24 0h1m1 0h1m1 0h1m9 0h6m3 0h1m-111 1h2m19 0h3m34 0h3m10 0h2m6 0h2m7 0h1m2 0h1m9 0h5m2 0h3m-178 1h1m67 0h2m17 0h4m34 0h1m11 0h2m5 0h2m9 0h1m2 0h2m2 0h1m12 0h2m-177 1h1m67 0h2m51 0h3m12 0h3m3 0h3m13 0h2m1 0h1m3 0h1m7 0h1m1 0h1m-237 1h1m61 0h1m67 0h2m50 0h4m23 0h2m8 0h2m1 0h1m15 0h1m-64 1h2m5 0h1m24 0h4m7 0h2m2 0h1m15 0h1m-223 1h1m114 0h1m25 0h2m17 0h2m4 0h1m15 0h2m6 0h5m6 0h2m2 0h2m14 0h2m-82 1h1m19 0h1m3 0h2m14 0h2m7 0h4m7 0h2m1 0h3m13 0h3m-101 1h1m17 0h2m19 0h2m8 0h2m7 0h2m7 0h4m8 0h6m-235 1h1m100 0h1m48 0h1m17 0h1m15 0h1m4 0h2m8 0h1m15 0h1m1 0h3m9 0h5m1 0h2m-238 1h2m148 0h1m9 0h2m23 0h2m12 0h5m14 0h3m10 0h4m1 0h2m-81 1h8m22 0h1m2 0h3m6 0h4m14 0h3m1 0h3m-223 1h1m161 0h1m23 0h1m3 0h1m6 0h3m14 0h9m8 0h1m-35 1h2m15 0h3m1 0h1m1 0h2m-222 1h1m195 0h2m8 0h1m8 0h1m2 0h2m12 0h1m-37 1h2m5 0h1m28 0h1m-38 1h2m6 0h3m10 0h3m14 0h1m-74 1h1m36 0h1m18 0h2m15 0h1m2 0h1m-78 1h1m38 0h1m14 0h2m1 0h3m14 0h1m-118 1h1m41 0h2m49 0h2m6 0h2m12 0h1m1 0h1m-119 1h2m33 0h2m6 0h1m50 0h2m1 0h1m4 0h2m12 0h3m-190 1h2m34 0h1m34 0h2m34 0h2m65 0h3m11 0h2m-190 1h2m26 0h2m7 0h3m23 0h1m7 0h2m19 0h1m23 0h1m57 0h3m11 0h2m-188 1h1m26 0h4m4 0h3m30 0h2m19 0h2m14 0h1m8 0h2m8 0h1m47 0h3m-146 1h2m1 0h1m2 0h2m52 0h1m18 0h1m6 0h2m7 0h2m3 0h2m4 0h2m30 0h9m-201 1h1m60 0h1m52 0h1m16 0h2m7 0h2m7 0h4m2 0h2m3 0h2m21 0h1m8 0h9m6 0h1m-99 1h1m4 0h2m16 0h2m7 0h3m3 0h1m1 0h4m3 0h2m2 0h3m13 0h2m5 0h1m9 0h5m1 0h6m4 0h2m-223 1h1m120 0h2m2 0h3m26 0h2m6 0h4m2 0h2m3 0h3m18 0h2m5 0h3m1 0h10m1 0h1m4 0h2m3 0h1m-227 1h3m118 0h2m2 0h3m16 0h2m8 0h3m5 0h4m3 0h2m2 0h4m16 0h2m6 0h4m2 0h3m1 0h4m3 0h2m1 0h3m-224 1h3m34 0h1m84 0h1m1 0h5m16 0h2m8 0h3m4 0h4m4 0h1m2 0h5m11 0h2m1 0h2m6 0h5m3 0h2m1 0h5m1 0h5m-220 1h1m123 0h3m16 0h2m8 0h3m5 0h3m8 0h1m2 0h2m11 0h3m8 0h5m2 0h7m2 0h4m-218 1h1m122 0h2m17 0h3m8 0h3m5 0h2m8 0h2m2 0h2m11 0h2m8 0h6m1 0h1m1 0h1m1 0h4m2 0h3m-93 1h1m10 0h1m6 0h2m9 0h2m6 0h2m11 0h3m3 0h1m16 0h1m1 0h4m3 0h7m1 0h4m-137 1h1m43 0h1m35 0h1m13 0h3m18 0h1m5 0h1m4 0h1m1 0h9m1 0h2m-221 1h1m57 0h1m26 0h1m50 0h1m39 0h4m23 0h1m3 0h2m1 0h9m-161 1h2m13 0h1m11 0h1m91 0h4m8 0h1m14 0h1m1 0h1m1 0h1m1 0h10m-147 1h1m11 0h2m90 0h5m23 0h1m2 0h1m2 0h8m1 0h1m-195 1h1m17 0h2m40 0h1m50 0h2m29 0h1m8 0h6m6 0h1m16 0h1m5 0h10m-196 1h2m17 0h1m28 0h1m11 0h1m23 0h1m28 0h1m28 0h2m8 0h6m5 0h2m15 0h4m3 0h8m-195 1h3m17 0h1m28 0h1m34 0h1m1 0h1m55 0h4m7 0h5m15 0h1m6 0h3m3 0h10m-194 1h2m4 0h3m132 0h3m8 0h5m4 0h1m9 0h1m6 0h3m2 0h1m4 0h5m-192 1h1m109 0h1m29 0h4m8 0h4m14 0h1m5 0h5m1 0h1m4 0h6m-83 1h2m25 0h1m3 0h3m8 0h5m13 0h1m7 0h4m6 0h6m-209 1h1m71 0h1m18 0h4m62 0h2m9 0h4m13 0h2m6 0h6m5 0h6m-210 1h2m167 0h4m4 0h1m7 0h1m7 0h6m6 0h2m1 0h2m-209 1h1m70 0h1m32 0h2m63 0h4m3 0h2m15 0h5m6 0h5m-209 1h1m70 0h1m32 0h1m21 0h1m36 0h1m5 0h4m4 0h2m15 0h3m1 0h2m5 0h2m-212 1h1m5 0h1m69 0h2m53 0h2m33 0h5m3 0h4m5 0h3m1 0h1m11 0h7m4 0h4m-214 1h1m2 0h1m2 0h1m69 0h2m53 0h3m8 0h1m23 0h2m2 0h3m2 0h3m5 0h6m11 0h7m3 0h4m-211 1h2m57 0h6m3 0h1m5 0h1m41 0h1m50 0h4m2 0h2m5 0h5m12 0h3m2 0h3m3 0h3m-193 1h2m2 0h1m36 0h6m4 0h1m46 0h2m19 0h5m6 0h1m12 0h1m3 0h2m1 0h4m1 0h3m5 0h3m13 0h6m1 0h2m2 0h3m-210 1h3m14 0h5m38 0h1m7 0h3m44 0h2m21 0h5m5 0h1m11 0h2m3 0h1m1 0h4m2 0h2m6 0h2m13 0h4m1 0h5m1 0h3m-210 1h6m55 0h1m7 0h3m44 0h2m23 0h2m1 0h1m16 0h2m1 0h1m2 0h2m5 0h1m7 0h1m3 0h1m10 0h3m2 0h5m1 0h2m-209 1h2m2 0h1m65 0h2m6 0h1m37 0h1m44 0h1m4 0h2m13 0h2m3 0h1m9 0h3m3 0h7m-218 1h1m15 0h1m63 0h2m93 0h2m2 0h2m9 0h2m13 0h4m2 0h4m1 0h2m-218 1h1m10 0h1m4 0h2m74 0h1m49 0h1m31 0h3m3 0h2m20 0h3m1 0h3m2 0h4m1 0h2m-208 1h3m4 0h1m123 0h3m30 0h3m3 0h3m3 0h1m4 0h2m9 0h4m1 0h8m2 0h1m-207 1h2m34 0h1m95 0h1m24 0h1m5 0h3m4 0h3m2 0h1m4 0h2m10 0h3m1 0h2m1 0h6m-205 1h2m34 0h1m121 0h1m5 0h4m3 0h3m7 0h2m9 0h4m3 0h1m1 0h1m-204 1h5m34 0h1m70 0h2m48 0h2m5 0h3m3 0h4m6 0h3m9 0h5m2 0h1m3 0h3m-209 1h3m36 0h1m18 0h1m51 0h3m48 0h2m10 0h5m4 0h1m1 0h2m9 0h5m2 0h1m3 0h3m-208 1h2m36 0h1m71 0h3m61 0h1m1 0h2m5 0h2m6 0h1m3 0h5m1 0h3m1 0h3m-207 1h2m36 0h1m19 0h1m11 0h1m39 0h2m12 0h1m49 0h1m1 0h2m5 0h2m6 0h1m2 0h10m2 0h1m-207 1h3m35 0h1m29 0h1m1 0h3m38 0h1m12 0h1m49 0h2m2 0h2m2 0h1m8 0h1m3 0h10m1 0h1m-223 1h1m15 0h3m8 0h2m11 0h1m13 0h2m18 0h1m9 0h6m38 0h1m11 0h1m49 0h2m3 0h2m1 0h1m1 0h2m6 0h1m3 0h1m3 0h1m2 0h3m-221 1h1m15 0h3m2 0h1m5 0h2m10 0h1m14 0h1m29 0h6m100 0h1m4 0h2m10 0h2m10 0h3m-222 1h2m15 0h2m2 0h1m6 0h2m9 0h2m43 0h3m1 0h2m87 0h1m12 0h3m3 0h1m3 0h2m18 0h2m-221 1h2m14 0h2m1 0h2m7 0h1m10 0h1m33 0h1m10 0h5m39 0h1m12 0h1m34 0h3m9 0h5m26 0h2m-221 1h3m4 0h1m5 0h2m2 0h3m53 0h1m10 0h2m91 0h3m8 0h6m26 0h1m-220 1h3m4 0h1m5 0h1m2 0h3m65 0h1m92 0h3m9 0h5m25 0h1m-219 1h2m10 0h2m1 0h3m53 0h1m12 0h1m90 0h5m7 0h1m1 0h4m16 0h1m1 0h2m-212 1h1m4 0h2m5 0h4m68 0h1m88 0h6m7 0h7m14 0h8m-214 1h1m4 0h1m6 0h3m36 0h1m31 0h1m81 0h1m6 0h2m2 0h2m7 0h2m2 0h3m12 0h12m-224 1h2m11 0h2m7 0h1m103 0h2m15 0h1m30 0h1m9 0h2m7 0h2m2 0h3m12 0h12m-223 1h1m11 0h2m8 0h1m102 0h3m14 0h2m29 0h1m10 0h2m7 0h1m3 0h3m8 0h2m1 0h4m1 0h7m-192 1h2m93 0h2m15 0h2m29 0h1m10 0h1m12 0h2m8 0h7m2 0h6m-209 1h2m16 0h1m91 0h1m1 0h3m15 0h2m28 0h2m10 0h1m3 0h1m8 0h1m9 0h6m2 0h6m-208 1h1m16 0h2m19 0h1m73 0h2m16 0h1m63 0h7m3 0h5m-191 1h1m19 0h2m73 0h2m79 0h9m1 0h5m-210 1h1m38 0h2m24 0h2m129 0h9m1 0h4m-170 1h2m77 0h1m77 0h9m3 0h1m-170 1h2m156 0h8m3 0h1m-146 1h3m125 0h1m6 0h2m1 0h4m-143 1h7m123 0h2m11 0h1m-139 1h2m119 0h3m2 0h2m10 0h1m-19 1h1m6 0h1m10 0h2m-80 1h2m37 0h1m38 0h2m-80 1h2m37 0h2m32 0h3m1 0h2m-108 1h1m28 0h2m39 0h1m31 0h5m-107 1h2m28 0h1m40 0h1m19 0h4m7 0h1m1 0h2m-105 1h5m24 0h1m41 0h1m16 0h7m5 0h5m-104 1h5m81 0h3m10 0h5m-20 1h4m11 0h5m4 0h1m-10 1h3m1 0h1m-5 1h1m-20 1h1m-2 1h2m-79 3h3m100 0h1m-104 1h6m47 0h2m10 0h1m33 0h1m-35 1h2m31 0h1m-35 1h6m27 0h2m-37 1h10m26 0h1m-37 1h10m17 0h1m7 0h1m-47 1h6m4 0h8m1 0h3m2 0h2m14 0h2m-120 1h2m72 0h29m1 0h1m18 0h1m-123 1h1m60 0h1m3 0h1m5 0h29m1 0h1m1 0h1m18 0h1m-64 1h3m2 0h1m5 0h12m1 0h16m1 0h4m-46 1h2m3 0h2m1 0h1m1 0h14m2 0h20m-42 1h3m1 0h16m3 0h19m-61 1h2m17 0h13m3 0h3m2 0h22m-62 1h2m16 0h13m5 0h27m-63 1h2m16 0h14m4 0h28m10 0h1m1 0h1m8 0h1m-85 1h2m16 0h13m3 0h29m6 0h1m5 0h1m-76 1h2m16 0h9m1 0h2m1 0h1m2 0h6m1 0h2m1 0h17m8 0h2m4 0h1m-75 1h2m16 0h30m1 0h5m2 0h2m11 0h2m-70 1h2m15 0h13m1 0h8m3 0h2m1 0h5m2 0h2m15 0h1m-69 1h2m14 0h5m1 0h1m2 0h7m2 0h2m7 0h3m1 0h1m20 0h2m-53 1h4m3 0h1m1 0h4m4 0h1m8 0h1m25 0h1m-60 1h1m5 0h1m1 0h9m1 0h1m4 0h2m7 0h2m-34 1h2m3 0h1m2 0h7m1 0h2m1 0h4m9 0h1m-32 1h2m3 0h1m1 0h7m1 0h5m10 0h1m-74 1h1m42 0h2m6 0h8m14 0h1m-75 1h3m42 0h2m4 0h6m16 0h2m-75 1h4m42 0h1m4 0h5m17 0h2m-76 1h7m40 0h2m24 0h2m-115 1h2m38 0h8m65 0h1m-115 1h3m38 0h1m3 0h4m65 0h1m40 0h1m-156 1h3m39 0h2m1 0h3m66 0h1m-69 1h1m-43 1h1m89 0h1m-94 1h1m1 0h1m90 0h1m-103 1h1m99 0h1m56 0h1m-158 1h1m156 0h2m-109 1h1m106 0h3m3 0h1m3 0h1m-118 1h1m57 0h1m49 0h2m-110 1h1m57 0h1m48 0h2m-109 1h1m108 0h1m2 0h1m1 0h1m-115 1h1m37 0h2m64 0h2m2 0h1m1 0h3m-183 1h1m69 0h1m36 0h2m66 0h1m1 0h6m1 0h1m1 0h3m-15 1h2m2 0h11m-57 1h2m36 0h1m3 0h2m2 0h7m-232 1h1m222 0h8m-230 1h2m189 0h1m26 0h1m2 0h3m1 0h4m4 0h1m-233 1h2m188 0h1m27 0h3m1 0h2m4 0h1m1 0h1m1 0h2m-233 1h1m188 0h1m27 0h3m9 0h4m-72 1h2m56 0h1m9 0h2m-70 1h1m69 0h2m-23 1h2m16 0h1m1 0h3m-5 1h2m1 0h1m-5 1h1m1 0h2m-17 1h1m10 0h1m4 0h3m-64 1h1m-2 1h2m48 0h1m-52 1h2m-2 1h1m39 2h1m22 0h1m-24 1h2m-2 1h3"/>
<path stroke="#640000" d="M0 0m274 32h1m-2 1h1m-1 1h1m-2 1h1m-1 1h1m-9 7h1m1 0h2m-4 1h1m-13 6h1m-211 1h1m210 0h1m-2 2h1m0 1h2m-3 1h3m-3 1h2m-1 1h2m13 0h1m-34 1h3m16 0h1m14 0h1m-34 1h2m15 0h2m-19 1h3m1 0h1m12 0h2m6 0h1m-27 1h2m2 0h2m12 0h2m7 0h2m-28 1h1m2 0h1m4 0h1m5 0h1m11 0h1m-21 1h1m2 0h1m4 0h1m2 0h1m8 0h1m-21 1h1m8 0h1m-10 1h1m8 0h1m-10 1h1m3 0h3m-36 1h1m27 0h1m1 0h2m2 0h1m-2 1h3m22 0h2m-29 1h2m1 0h1m14 0h2m8 0h2m2 0h1m-15 1h1m10 0h4m-16 1h2m10 0h2m-14 1h2m12 0h1m-59 1h3m41 0h1m1 0h2m1 0h1m-48 1h2m41 0h2m1 0h2m-7 1h1m4 0h1m3 12h2m-1 1h1m-67 4h1m-2 1h1m12 1h1m-1 2h1m0 1h1m17 0h5m34 0h3m-2 1h3m-61 2h1m35 0h1m-37 1h1m33 0h2m-3 1h1m-34 1h1m31 0h2m19 0h1m-86 1h1m82 0h3m-86 1h1m78 0h4m-82 1h1m88 1h3m-4 1h4m-20 3h1m-10 2h1m-1 1h1m20 4h1m-3 1h2m-3 1h2m5 0h1m-9 1h2m1 0h4m-7 1h4m-7 4h1m13 0h1m-15 1h1m12 0h2m-42 1h1m25 0h2m-28 1h2m10 0h2m12 0h1m14 0h1m-41 1h1m9 0h2m12 0h2m-119 1h1m92 0h1m9 0h1m13 0h1m7 0h1m1 0h1m-132 1h1m2 0h1m93 0h1m-1 1h1m-1 1h1m33 0h1m-35 1h1m-219 1h1m256 0h1m-12 1h1m8 0h1m1 0h2m-7 1h1m1 0h1m1 0h3m-15 1h1m7 0h5m-82 1h1m77 0h1m2 0h1m-135 1h1m125 0h1m6 0h1m-161 1h1m0 1h1m149 0h1m-73 4h1m71 0h1m-135 1h2m27 0h3m32 0h1m78 0h1m-144 1h1m63 0h2m73 0h1m-141 1h1m131 0h1m0 1h1m4 0h1m-6 1h1m5 0h1m0 1h1m-63 2h1m19 0h1m34 0h2m-57 1h1m54 0h1m-82 1h1m25 0h1m46 0h1m7 0h1m10 0h1m-217 1h1m46 0h1m165 0h1m1 0h1m-170 1h2m160 0h1m-163 1h2m171 1h1m-219 1h2m124 0h1m91 0h1m-207 1h1m150 0h1m-45 1h1m43 0h1m54 0h1m-56 1h1m-153 1h1m152 0h1m41 0h1m-80 1h1m36 0h1m41 0h3m-215 1h1m213 0h2m-217 1h1m29 0h1m-2 1h2m174 0h1m-178 1h2m86 0h2m87 0h2m-92 1h1m89 0h2m4 0h1m1 0h1m-8 1h2m4 0h3m-9 1h3m5 0h2m-228 1h1m119 0h1m98 0h2m6 0h1m-227 1h1m119 0h1m97 0h3m-221 1h1m219 0h1m3 0h1m-5 1h1m3 0h1m2 0h1m-196 1h1m123 0h1m70 0h1m-196 1h2m121 0h2m70 0h2m-196 1h2m119 0h3m71 0h2m-196 1h2m119 0h1m49 1h1m-191 1h1m190 0h1m-191 1h1m80 1h1m93 0h4m-100 1h2m93 0h2m43 1h1m-1 1h1m-74 1h1m-1 1h1m49 0h2m-23 1h2m20 0h3m-27 1h3m21 0h2m-78 1h1m52 0h1m21 0h3m-3 1h2m-2 1h2m13 0h1m8 0h1m-34 1h4m5 0h1m23 0h1m-36 1h4m7 0h1m16 0h1m6 0h1m-36 1h2m8 0h2m13 0h2m8 0h1m-26 1h2m22 0h2m-143 1h1m101 0h4m7 0h1m26 0h3m-33 1h4m1 0h1m24 0h2m-105 1h1m71 0h3m12 0h1m14 0h2m-104 1h1m46 0h2m22 0h1m23 0h1m-97 1h1m11 0h1m36 0h1m27 0h2m-67 1h2m35 0h2m27 0h2m15 0h2m-108 1h1m13 0h2m8 0h1m31 0h1m33 0h1m15 0h3m-109 1h1m4 0h4m7 0h1m39 0h1m50 0h4m-111 1h2m37 0h2m15 0h1m52 0h2m-85 1h2m28 0h1m52 0h3m-87 1h2m29 0h2m47 0h1m4 0h2m-56 1h2m27 0h1m19 0h1m4 0h1m-132 1h1m76 0h2m49 0h2m-36 1h2m31 0h7m-5 1h8m-255 1h2m246 0h7m-100 1h1m91 0h2m2 0h5m-20 1h2m9 0h2m2 0h2m-33 1h1m26 0h2m2 0h1m-30 1h1m-10 1h1m-5 1h4m24 0h1m-37 1h1m7 0h2m-11 1h1m-2 1h1m-68 2h1m95 0h2m8 0h2m-12 1h2m8 0h2m-13 1h3m7 0h3m-200 1h1m171 0h1m13 0h3m8 0h1m1 0h1m-15 1h3m15 0h1m-82 1h1m62 0h3m-3 1h2m-51 1h1m7 0h1m20 0h4m-26 1h2m20 0h2m5 0h1m-1 1h1m-168 1h1m181 0h2m-3 1h2m-185 1h1m180 0h2m-185 1h1m182 0h1m-68 3h1m-33 2h1m0 1h1m52 0h1m-2 1h1m57 0h2m-61 1h2m6 0h1m50 0h2m-61 1h1m7 0h1m50 0h2m-53 1h1m51 0h1m-53 1h1m51 0h1m-1 2h2m-24 1h2m21 0h1m-23 1h1m0 1h1m0 1h1m-2 1h2m20 0h2m-81 1h1m58 0h1m2 0h1m16 0h2m-83 1h3m61 0h2m5 0h2m8 0h2m-31 1h1m17 0h3m3 0h2m3 0h2m-30 1h1m11 0h1m4 0h2m9 0h1m-35 1h2m4 0h1m11 0h1m8 0h2m-29 1h1m6 0h1m27 1h4m-84 1h1m78 0h2m-213 2h1m178 0h2m1 0h1m1 0h1m-1 1h1m-48 1h1m47 0h1m17 1h1m-66 1h1m63 0h1m7 0h3m1 0h1m-76 1h1m61 0h1m10 0h3m-76 1h1m75 0h1m-17 1h1m-60 1h1m-1 1h1m51 0h1m-2 1h2m-2 1h2m-101 1h1m48 0h1m49 0h2m-101 1h1m48 0h1m49 0h2m-29 1h4m23 0h2m-30 1h2m34 0h2m-3 1h2m-89 5h1m66 6h2m-1 1h2m-1 1h1m-1 1h1m-7 4h1m34 0h1m-55 1h1m18 0h1m33 0h2m-37 1h1m34 0h2m-56 1h1m53 0h1m-55 1h1m52 0h2m-55 1h1m28 0h3m21 0h2m-55 1h1m31 0h1m20 0h2m-55 1h1m18 0h1m-20 1h1m17 0h1m-1 1h1m-2 1h1m-2 1h2m20 1h1m14 0h1m3 0h1m-6 1h1m3 0h1m-3 1h3m-5 1h4m-9 1h1m3 0h3m-8 1h2m-2 1h2m-2 1h2m9 0h3m-22 1h1m17 0h2m-3 1h2m-245 1h3m239 0h2m-244 1h1m241 0h2m-3 1h3m-35 1h1m31 0h2m-211 1h1m176 0h2m30 0h2m-212 1h1m177 0h2m30 0h2m-159 1h1m124 0h1m-2 1h2m-2 1h1m-3 1h2m35 1h2m-2 1h1m-2 1h2m-35 1h1m32 0h1m-34 1h2m-1 1h2m29 0h1m-31 1h2m11 0h2m20 0h1m-209 1h1m173 0h2m8 0h8m-17 1h1m8 0h2m1 0h4m-16 1h1m8 0h1m2 0h4m2 0h1m14 0h1m1 0h2m-27 1h1m3 0h3m5 0h1m11 0h3m-28 1h1m3 0h3m-4 1h3m-4 1h3m-4 1h3m-4 1h1m2 0h1m-2 1h1m3 0h2m-46 1h2m41 0h3m-47 1h2m43 0h1m20 0h1m-67 1h1m39 0h1m24 0h2m-28 1h2m10 0h2m13 0h1m-32 1h1m3 0h2m8 0h4m-62 1h2m5 0h2m34 0h2m2 0h3m6 0h4m-60 1h1m5 0h2m35 0h1m2 0h3m3 0h6m-59 1h1m6 0h2m35 0h1m2 0h2m17 0h1m-68 1h1m7 0h1m36 0h1m-2 1h1m21 0h3m-26 1h2m22 0h1m-25 1h1m-2 1h1m13 1h5m-5 1h2m-92 3h1m23 0h2m82 0h1m-2 6h2m-4 1h3m-35 1h1m31 0h2m-35 1h2m28 0h2m-3 1h1m-3 1h1m6 0h2m-93 1h1m89 0h3m-93 1h1m88 0h3m-92 1h1m31 0h1m55 0h3m-91 1h1m86 0h3m-89 1h1m-1 1h1m30 0h1m12 0h1m-42 1h1m39 0h1m34 0h2m-77 1h1m39 0h1m4 0h1m37 0h1m-84 1h1m38 0h2m4 0h2m12 0h1m-15 1h2m11 0h2m22 0h1m3 0h1m-41 1h2m4 0h1m4 0h3m25 0h1m-40 1h2m8 0h4m6 0h1m1 0h3m8 0h2m-66 1h1m30 0h3m6 0h1m1 0h1m8 0h4m8 0h4m-69 1h2m32 0h2m17 0h5m6 0h4m1 0h1m8 0h1m-79 1h1m54 0h2m7 0h6m5 0h2m2 0h1m-38 1h1m11 0h2m7 0h6m5 0h3m-23 1h1m8 0h6m5 0h2m-14 1h6m3 0h1m2 0h1m-23 1h1m11 0h3m-42 1h4m33 0h4m-40 1h1m15 0h1m5 0h2m12 0h2m-25 1h3m5 0h2m8 0h1m3 0h2m10 0h2m-102 1h1m27 0h3m5 0h1m27 0h4m5 0h4m7 0h2m14 0h2m-104 1h1m30 0h2m3 0h2m37 0h4m7 0h2m4 0h3m7 0h1m-68 1h2m38 0h4m7 0h2m2 0h1m1 0h2m7 0h1m-67 1h1m33 0h1m5 0h3m8 0h2m3 0h2m8 0h1m-25 1h1m7 0h1m5 0h2m-17 1h1m14 0h1m16 0h1m-4 1h4m-32 1h1m21 0h1m3 0h5m-123 1h1m91 0h1m20 0h2m2 0h1m3 0h1m-122 1h1m90 0h1m8 0h1m11 0h3m1 0h2m-7 1h1m2 0h6m-10 1h4m2 0h5m-47 1h4m9 0h1m21 0h4m3 0h4m-13 1h5m1 0h6m-80 1h1m35 0h1m30 0h4m4 0h4m-80 1h1m1 0h1m33 0h1m31 0h3m1 0h1m3 0h3m4 0h1m-116 1h1m86 0h1m12 0h1m3 0h1m2 0h1m6 0h3m-30 1h1m9 0h3m7 0h1m5 0h2m-28 1h1m9 0h2m5 0h1m7 0h2m-27 1h1m10 0h1m11 0h4m-16 1h1m4 0h1m6 0h3m-47 1h3m29 0h1m10 0h4m-106 1h1m20 0h2m35 0h3m42 0h3m2 0h3m-91 1h3m48 0h1m6 0h1m-146 1h1m68 0h1m67 0h1m20 0h2m-159 1h1m156 0h1m-2 1h2m2 0h1m-24 1h1m8 0h2m8 0h1m2 0h2m-46 1h1m19 0h2m9 0h1m8 0h2m2 0h2m-46 1h2m17 0h1m10 0h1m9 0h2m1 0h3m-85 1h1m67 0h2m9 0h5m-33 1h1m30 0h2m2 0h1m-81 1h1m3 0h1m1 0h1m23 0h1m11 0h3m15 0h2m-21 1h2m16 0h2m4 0h1m9 0h1m-35 1h1m17 0h1m-19 1h1m34 0h1m0 3h1m-1 2h1m-118 1h1m93 0h1m22 0h1m-154 1h1m34 0h2m115 0h1m-189 1h2m27 0h1m7 0h1m33 0h2m101 0h2m-147 1h2m1 0h1m38 0h1m19 0h1m83 0h1m-85 1h1m26 0h1m8 0h1m47 0h2m-86 1h1m26 0h1m8 0h1m1 0h1m7 0h2m34 0h1m2 0h1m-86 1h2m25 0h2m7 0h3m3 0h1m4 0h1m21 0h1m16 0h2m-88 1h2m26 0h2m6 0h4m3 0h1m3 0h2m19 0h2m5 0h2m3 0h3m2 0h1m2 0h1m-215 1h1m125 0h2m26 0h2m7 0h3m7 0h2m18 0h2m6 0h3m4 0h1m4 0h1m-213 1h1m124 0h2m27 0h3m5 0h3m8 0h1m17 0h2m7 0h3m-78 1h2m28 0h2m6 0h2m8 0h1m16 0h2m9 0h3m7 0h1m1 0h1m4 0h1m-94 1h2m29 0h1m20 0h1m12 0h1m10 0h3m8 0h2m-36 1h2m23 0h1m8 0h3m3 0h2m-41 1h2m32 0h3m2 0h2m-41 1h3m32 0h3m1 0h3m-41 1h3m32 0h6m-41 1h4m32 0h6m-193 1h1m17 0h1m133 0h4m33 0h6m-176 1h1m28 0h1m104 0h4m24 0h1m6 0h7m-146 1h1m93 0h1m10 0h4m22 0h2m8 0h4m-39 1h3m22 0h3m8 0h3m-50 1h1m10 0h4m22 0h3m8 0h2m-80 1h1m41 0h3m14 0h1m7 0h4m7 0h3m-114 1h1m75 0h3m22 0h3m7 0h4m-208 1h1m168 0h3m23 0h2m8 0h2m-37 1h3m22 0h2m-27 1h3m5 0h1m18 0h1m-70 1h1m41 0h4m5 0h1m16 0h1m1 0h3m6 0h1m-80 1h1m42 0h3m6 0h2m14 0h5m1 0h1m4 0h2m-150 1h4m106 0h1m2 0h2m6 0h2m15 0h1m4 0h1m4 0h3m-152 1h5m5 0h1m46 0h1m20 0h4m28 0h2m3 0h1m6 0h2m15 0h1m5 0h2m3 0h2m-208 1h1m15 0h1m50 0h1m46 0h1m21 0h4m26 0h2m27 0h2m4 0h2m3 0h2m-209 1h4m65 0h1m45 0h1m25 0h1m18 0h1m6 0h1m28 0h2m5 0h2m3 0h1m-139 1h2m95 0h1m28 0h2m5 0h3m1 0h1m-137 1h1m94 0h2m28 0h3m4 0h2m2 0h1m-42 1h1m4 0h1m25 0h3m4 0h1m2 0h2m-76 1h1m31 0h2m27 0h2m2 0h1m1 0h1m3 0h2m2 0h1m-206 1h1m161 0h3m26 0h3m-30 1h2m26 0h3m-159 1h1m128 0h1m6 0h1m19 0h3m-159 1h1m144 0h1m11 0h2m9 0h2m-170 1h1m137 0h1m19 0h2m-127 1h1m105 0h1m19 0h1m-196 1h1m68 0h2m-1 1h3m105 0h2m23 0h1m-192 1h1m10 0h1m47 0h3m105 0h1m-175 1h1m6 0h1m148 0h1m13 0h1m4 0h1m24 0h1m-45 1h2m12 0h1m-190 1h1m17 0h1m157 0h2m12 0h2m-174 1h1m158 0h2m11 0h3m-179 1h1m3 0h1m158 0h3m11 0h3m-19 1h2m1 0h3m10 0h3m18 0h3m-200 1h1m163 0h2m11 0h2m15 0h1m3 0h4m-95 1h1m57 0h1m12 0h1m14 0h1m5 0h4m-96 1h2m90 0h4m-96 1h2m15 0h1m73 0h6m-97 1h3m80 0h2m8 0h3m-95 1h2m81 0h3m1 0h1m6 0h2m-13 1h3m1 0h1m7 0h1m-169 1h1m156 0h3m9 0h1m-12 1h1m1 0h1m-136 2h2m-3 1h6m136 3h2m-80 1h2m71 0h2m2 0h2m-78 1h1m71 0h5m-107 1h1m29 0h1m62 0h1m8 0h1m1 0h2m-105 1h5m84 0h5m7 0h4m-103 1h1m1 0h1m82 0h2m11 0h5m-18 1h1m12 0h3m1 0h1m-5 1h2m-99 7h5m60 1h1m-1 1h2m31 0h1m-34 1h3m1 0h2m-8 1h5m1 0h2m-9 1h1m1 0h5m-5 1h1m1 0h4m-20 1h1m5 0h1m4 0h9m-36 1h1m11 0h2m2 0h2m2 0h1m5 0h1m2 0h8m4 0h1m-31 1h3m1 0h1m2 0h1m9 0h5m1 0h1m3 0h1m1 0h2m-39 1h1m5 0h1m1 0h3m11 0h1m1 0h7m4 0h4m-59 1h1m22 0h6m1 0h1m5 0h1m4 0h1m3 0h5m4 0h5m-59 1h1m18 0h1m2 0h1m1 0h6m8 0h1m5 0h7m1 0h7m-58 1h1m17 0h2m1 0h2m1 0h1m1 0h2m7 0h2m1 0h1m1 0h1m1 0h1m1 0h5m2 0h2m1 0h3m-57 1h2m17 0h4m5 0h1m9 0h1m2 0h1m4 0h2m1 0h2m1 0h2m-54 1h2m17 0h3m1 0h1m2 0h1m11 0h2m7 0h1m4 0h1m16 0h1m-69 1h2m16 0h2m5 0h1m3 0h1m4 0h1m1 0h4m29 0h1m-69 1h2m34 0h1m8 0h1m23 0h1m-52 1h1m8 0h2m15 0h2m23 0h1m-50 1h1m23 0h1m-34 1h1m7 0h2m22 0h2m-33 1h1m7 0h1m3 0h1m18 0h1m-32 1h1m6 0h1m1 0h3m-11 1h1m7 0h3m-55 1h1m43 0h2m6 0h3m-55 1h3m42 0h1m6 0h3m-57 1h7m-46 1h1m39 0h1m2 0h2m1 0h1m65 0h1m-114 1h2m38 0h1m4 0h2m-48 1h2m43 0h3m-6 7h1m-1 1h1m37 2h1m66 0h1m-176 1h1m69 0h1m37 0h1m66 0h1m10 0h3m-15 1h2m3 0h4m1 0h4m-14 1h2m2 0h2m2 0h3m-9 1h3m2 0h2m-11 1h1m7 0h2m-37 1h1m27 0h2m13 0h1m-15 1h2m11 0h1m-2 1h1m-2 4h2m-1 1h1m-63 2h1m-1 1h1m38 4h1m0 1h1"/>
</g>
<g shape-rendering="crispEdges">
<rect x="0" y="399" width="156" height="44" fill="#000"/>
<rect x="56" y="77" width="19" height="354" fill="#fff"/>
<rect x="57" y="78" width="17" height="32" fill="#640000"/>
<rect x="57" y="110" width="17" height="32" fill="#ee0000"/>
<rect x="57" y="142" width="17" height="32" fill="#ff4f00"/>
<rect x="57" y="174" width="17" height="32" fill="#ffa500"/>
<rect x="57" y="206" width="17" height="32" fill="#ffff00"/>
<rect x="57" y="238" width="17" height="32" fill="#7fff00"/>
<rect x="57" y="270" width="17" height="32" fill="#008b00"/>
<rect x="57" y="302" width="17" height="32" fill="#00ffff"/>
<rect x="57" y="334" width="17" height="32" fill="#1e90ff"/>
<rect x="57" y="366" width="17" height="32" fill="#0000ff"/>
<rect x="57" y="398" width="17" height="32" fill="#8a2be2"/>
</g>
<g stroke="#00ffff" stroke-width="1" fill="none" shape-rendering="crispEdges">
<path d="M152.5 46V631"/>
<path d="M291.5 46V631"/>
<path d="M430.5 46V631"/>
<path d="M568.5 46V631"/>
<path d="M707.5 46V631"/>
<path d="M846.5 46V67M846.5 78V206M846.5 217V345M846.5 356V484M846.5 495V631"/>
<path d="M985.5 46V631"/>
<path d="M68 74.5 H836 M864 74.5 H986"/>
<path d="M68 213.5 H836 M864 213.5 H986"/>
<path d="M68 352.5 H833 M867 352.5 H986"/>
<path d="M68 491.5 H833 M867 491.5 H986"/>
<path d="M68 630.5H986"/>
</g>
<polyline fill="none" stroke="#fff" stroke-width="1" shape-rendering="crispEdges" points="838,4 852.4,17.1 858.7,21.6 865,27.9 866.4,32 874,38.7 874.9,42.3 883,48.2 888.4,55.4 893.8,58.5 897.4,63 897.4,66.6 901.9,73.4 904.6,78.3 907.8,81.9 908.6,89.1 906.4,92.7 910,98.1 914.5,102.2 924.4,101.2 929.4,99 926.2,103 917.2,104.4 911.8,106.2 911.4,108.9 913.6,112.6 918.1,121.2 922.6,125.2 925.3,130.6 925.8,136.9 929.8,144.1 932.5,152.2 934.3,156.7 938.8,163.9 941.5,170.2 941.5,177.4 938.8,178.8 935.2,182.8 929.4,187.7 933.4,192.7 936.1,203.5 938.8,208 939.7,213.5 942.4,217.1 945.1,224.3 951,231.5 951.8,236.9 954.1,241 953.6,247.7 951.8,255.8 952.7,263 951.4,268.8 947.4,277.4 944.2,279.2 942.4,283.7 935.2,285.5 928.5,292.7 928.9,297.2 921.7,303.5 917.7,308 917.7,318 911.8,329.7 912.7,337.8 910,345 907.3,351.3 906.8,357.2 903.7,360.3 902.8,368.4 899.2,372 895.2,375.2 896.5,381 897.8,386.4 897.4,402.6 895.6,408 894.3,419.8 894.7,431.5 898.3,439.6 901.4,442.8 902.4,447.7 905.5,451.3 915,460.3 915.8,463.9 918.1,466.6 920.8,472.9 926.2,481.9 930.2,491.4 935.7,498.1 937.4,506.2 940.2,509.8 941,514.4 944.2,518.9 950,528.8 953.6,531.5 957.2,541 961.3,544.1 966.7,552.2 970.8,558.5 972.6,563 972.6,572.9 969.4,577 971.2,581.9 970.7,588.2 972.6,593.6 972.6,599 970.3,602.6 971.2,608 973.9,612.6 975.2,618.5 978.4,621.6 979.8,628.4 981.5,631.1 980.7,638.3 982.5,643.7 981.5,649"/>
<text class="t" x="384" y="16.4" font-size="16" letter-spacing=".5">BROADBAND ALBEDO</text>
<text class="t" x="367.6" y="34" font-size="14" letter-spacing=".1">Sep 10, 2016 18:15 UTC</text>
<text x="9.3" y="26.5" font-size="10.8" font-family="'Liberation Sans',Arial,sans-serif" fill="#ffa500">NASA Langley (M04.0)</text>
<text class="d" transform="translate(144,45) scale(1.32,1)" fill="#ff0000"><tspan x="-0.30 6.52">15</tspan><tspan x="13.64" textLength="5.2" lengthAdjust="spacingAndGlyphs">W</tspan></text>
<text class="d" transform="translate(281,45) scale(1.32,1)" fill="#ff0000"><tspan x="-0.30 6.52">10</tspan><tspan x="13.64" textLength="5.2" lengthAdjust="spacingAndGlyphs">W</tspan></text>
<text class="d" transform="translate(429,45) scale(1.32,1)" fill="#ff0000"><tspan x="-0.30">5</tspan><tspan x="6.82" textLength="5.2" lengthAdjust="spacingAndGlyphs">W</tspan></text>
<text class="d" transform="translate(563,45) scale(1.32,1)" fill="#ff0000"><tspan x="-0.30">0</tspan></text>
<text class="d" transform="translate(707,45) scale(1.32,1)" fill="#ff0000"><tspan x="-0.30">5</tspan><tspan x="6.59" textLength="5.56" lengthAdjust="spacingAndGlyphs">E</tspan></text>
<text class="d" transform="translate(838,45) scale(1.32,1)" fill="#ff0000"><tspan x="-0.30 6.52">10</tspan><tspan x="13.41" textLength="5.56" lengthAdjust="spacingAndGlyphs">E</tspan></text>
<text class="d" transform="translate(847,77) scale(1.32,1)" fill="#ff0000"><tspan x="-0.30">5</tspan><tspan x="6.59" textLength="5.56" lengthAdjust="spacingAndGlyphs">S</tspan></text>
<text class="d" transform="translate(838,216) scale(1.32,1)" fill="#ff0000"><tspan x="-0.30 6.52">10</tspan><tspan x="13.41" textLength="5.56" lengthAdjust="spacingAndGlyphs">S</tspan></text>
<text class="d" transform="translate(840,355) scale(1.32,1)" fill="#ff0000"><tspan x="-0.30 6.52">15</tspan><tspan x="13.41" textLength="5.56" lengthAdjust="spacingAndGlyphs">S</tspan></text>
<text class="d" transform="translate(840,494) scale(1.32,1)" fill="#ff0000"><tspan x="-0.30 6.52">20</tspan><tspan x="13.41" textLength="5.56" lengthAdjust="spacingAndGlyphs">S</tspan></text>
<text class="m" style="font-size:12px" transform="translate(251,647) scale(1.25,1)" fill="#ffffff">MT10  BROADBAND ALBEDO   SEP 10, 2016 18:15Z   NASA LARC</text>
<text class="p" x="11" y="72.3" letter-spacing="0" textLength="55.5" lengthAdjust="spacing">BBALB (%)</text>
<text class="p" x="51.4" y="82" text-anchor="end">100</text>
<text class="p" x="51.4" y="114" text-anchor="end">80</text>
<text class="p" x="51.4" y="146" text-anchor="end">70</text>
<text class="p" x="51.4" y="178" text-anchor="end">60</text>
<text class="p" x="51.4" y="210" text-anchor="end">50</text>
<text class="p" x="51.4" y="242" text-anchor="end">40</text>
<text class="p" x="51.4" y="274" text-anchor="end">30</text>
<text class="p" x="51.4" y="306" text-anchor="end">25</text>
<text class="p" x="51.4" y="338" text-anchor="end">20</text>
<text class="p" x="51.4" y="370" text-anchor="end">15</text>
<text class="p" x="51.4" y="402" text-anchor="end">10</text>
<text class="p" x="51.4" y="434" text-anchor="end">0</text>
<text class="q" x="94.5" y="413.4">NO   OUT</text>
<text class="q" x="94.5" y="437.4">RET  VALR</text>
</svg></body></html>
